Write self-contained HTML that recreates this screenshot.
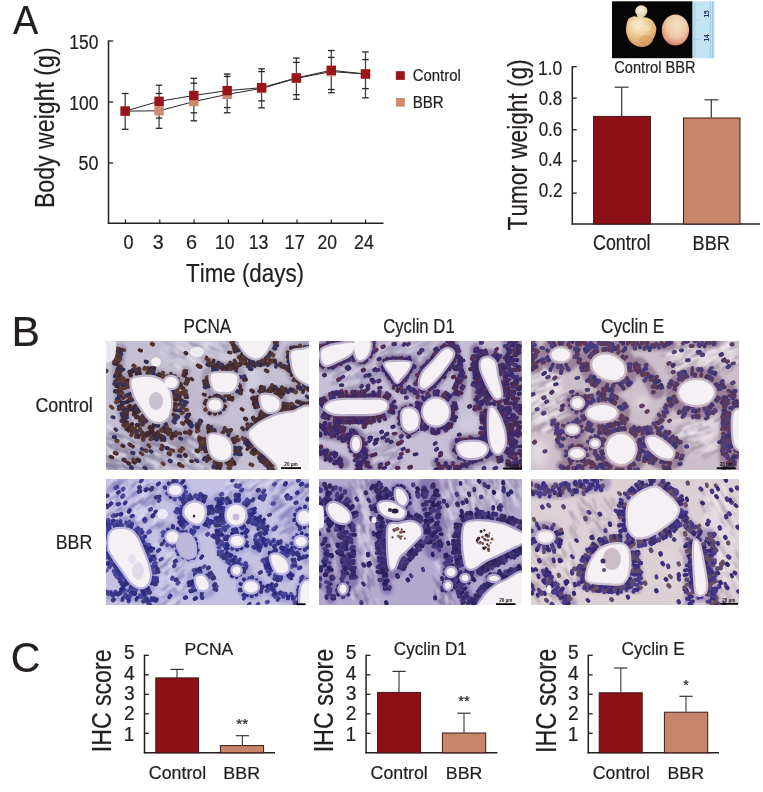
<!DOCTYPE html>
<html><head><meta charset="utf-8"><title>Figure</title>
<style>
html,body{margin:0;padding:0;background:#fff;}
body{width:763px;height:792px;overflow:hidden;}
svg{display:block;}
text{font-family:"Liberation Sans", Arial, Helvetica, sans-serif;font-kerning:none;stroke:#231f20;stroke-width:0.22px;}
</style></head>
<body>
<svg width="763" height="792" viewBox="0 0 763 792">
<rect width="763" height="792" fill="#ffffff"/>
<defs>
<radialGradient id="tg1" cx="0.42" cy="0.3" r="0.75">
<stop offset="0" stop-color="#fbeed6"/><stop offset="0.4" stop-color="#f1cf9e"/><stop offset="0.75" stop-color="#e2aa6c"/><stop offset="1" stop-color="#c98c55"/>
</radialGradient>
<radialGradient id="tg2" cx="0.55" cy="0.35" r="0.72">
<stop offset="0" stop-color="#f5e2c8"/><stop offset="0.5" stop-color="#edcaa8"/><stop offset="0.8" stop-color="#e29a80"/><stop offset="1" stop-color="#cf4f4c"/>
</radialGradient>
<radialGradient id="tg3" cx="0.45" cy="0.4" r="0.6">
<stop offset="0" stop-color="#f8efdc"/><stop offset="1" stop-color="#e2cfa8"/>
</radialGradient>
<filter id="pb"><feGaussianBlur stdDeviation="0.6"/></filter>
</defs>
<rect x="612" y="1.3" width="80.6" height="56.9" fill="#060606"/>
<rect x="692.6" y="1.3" width="21.8" height="56.9" fill="#c2e3f1"/>
<g stroke="#8fc3de" stroke-width="0.6">
<line x1="710.2" y1="1.3" x2="710.2" y2="58.2" stroke-width="0.8"/>
<line x1="712.8" y1="1.3" x2="712.8" y2="58.2" stroke-width="1.2"/>
<path d="M692.6,3.2h4M692.6,5.1h3M692.6,7h3M692.6,8.9h3M692.6,10.8h4M692.6,12.7h3M692.6,14.6h3M692.6,16.5h3M692.6,18.4h3M692.6,20.3h6M692.6,22.2h3M692.6,24.1h3M692.6,26h3M692.6,27.9h3M692.6,29.8h4M692.6,31.7h3M692.6,33.6h3M692.6,35.5h3M692.6,37.4h3M692.6,39.3h6M692.6,41.2h3M692.6,43.1h3M692.6,45h3M692.6,46.9h3M692.6,48.8h4M692.6,50.7h3M692.6,52.6h3M692.6,54.5h3M692.6,56.4h3"/>
</g>
<text transform="translate(709.4,17.6) rotate(-90) scale(0.85,1)" font-size="7.6" fill="#1d3560" font-weight="bold" style="font-family:'Liberation Sans',sans-serif;stroke:none">15</text>
<text transform="translate(709.4,41.5) rotate(-90) scale(0.85,1)" font-size="7.6" fill="#1d3560" font-weight="bold" style="font-family:'Liberation Sans',sans-serif;stroke:none">14</text>
<g filter="url(#pb)">
<path d="M628.4,19.1 C631,17 633,16.2 635.2,16.4 C640,16.8 644,17 647.4,17.7 C651,19 653.2,20.5 654.3,23.2 C656,26 656.6,28 656.3,30 C656,34 654.5,37 652.9,39.5 C651.5,42 650.5,44 648.8,45 C646,46.8 643.5,47.2 640.6,47 C637,46.6 634.5,45.5 632.4,43.6 C629.5,41 628,38.5 627,35.4 C626,32 625.8,29 626.3,25.9 C626.7,23 627.3,21 628.4,19.1Z" fill="url(#tg1)"/>
<ellipse cx="636" cy="24" rx="5" ry="3" fill="#f7e6c8" opacity="0.7"/>
<ellipse cx="646" cy="28" rx="4" ry="3" fill="#f5e0bc" opacity="0.6"/>
<ellipse cx="646" cy="40" rx="7" ry="5" fill="#d49a62" opacity="0.55"/>
<path d="M637,15 C636,18 646,18 645.5,14.5Z" fill="#efdcba"/>
<ellipse cx="641.3" cy="10.9" rx="6.1" ry="5.6" fill="url(#tg3)"/>
<ellipse cx="675.4" cy="30" rx="13.6" ry="15.6" fill="url(#tg2)"/>
</g>

<defs>
<filter id="blur4" x="-20%" y="-20%" width="140%" height="140%"><feGaussianBlur stdDeviation="4"/></filter>
<filter id="blur15" x="-10%" y="-10%" width="120%" height="120%"><feGaussianBlur stdDeviation="1.5"/></filter>
<filter id="blur1" x="-10%" y="-10%" width="120%" height="120%"><feGaussianBlur stdDeviation="0.8"/></filter>
<filter id="nz" x="0" y="0" width="100%" height="100%"><feTurbulence type="fractalNoise" baseFrequency="0.22" numOctaves="2" seed="5"/><feColorMatrix type="matrix" values="0.33 0.33 0.33 0 0 0.33 0.33 0.33 0 0 0.33 0.33 0.33 0 0 0 0 0 0 1"/></filter>
<filter id="blur07" x="-10%" y="-10%" width="120%" height="120%"><feGaussianBlur stdDeviation="0.6"/></filter>
<filter id="blurN" x="-10%" y="-10%" width="120%" height="120%"><feGaussianBlur stdDeviation="0.85"/></filter>
</defs>
<g transform="translate(106,341)">
<clipPath id="cp1"><rect width="203" height="129"/></clipPath>
<g clip-path="url(#cp1)">
<rect width="203" height="129" fill="#c4bfd2"/>
<g filter="url(#blur4)">
<ellipse cx="30" cy="108" rx="40" ry="22" fill="#c6c2d6" opacity="0.9"/>
<ellipse cx="95" cy="12" rx="40" ry="14" fill="#cfcbdc" opacity="0.9"/>
<ellipse cx="146" cy="40" rx="9" ry="14" fill="#d2cfe0" opacity="0.9"/>
<ellipse cx="85" cy="60" rx="10" ry="20" fill="#bdb7cc" opacity="0.7"/>
</g>
<g filter="url(#blur1)" opacity="0.7">
<path fill="none" stroke-linecap="round" stroke="#6e6888" stroke-width="2.0" d="M29.4 90.0l5.9 3.2M38.4 86.7l9.9 2.7M5.6 91.2l13.7 7.3M24.6 90.1l8.7 2.5M13.8 108.3l8.6 4.6M66.4 107.3l9.7 5.1M35.0 97.8l13.9 7.0M3.3 106.6l13.9 6.8M69.1 114.9l11.8 5.4M-1.1 125.2l6.7 3.2M77.1 118.9l7.1 4.2M21.7 112.4l8.5 6.1M39.8 96.6l14.4 6.6M43.8 90.4l7.9 4.9M94.6 83.8l9.5 4.9M8.8 107.5l13.6 3.3M85.6 98.2l10.8 4.8M36.9 123.0l10.3 4.8M62.0 105.5l12.5 5.7M51.9 115.5l8.6 6.0M93.2 110.3l8.4 2.7M14.6 96.4l13.2 3.8M16.9 124.8l10.0 4.2M50.9 103.3l9.1 2.2M22.7 84.6l8.3 2.2M45.7 93.3l11.5 5.1M39.1 104.1l8.3 5.4M27.0 93.2l7.6 2.5M38.2 92.0l12.7 9.3M5.3 125.1l6.3 4.2M12.1 115.3l5.7 3.1M77.4 107.1l10.6 7.3M34.7 104.1l6.0 1.5M61.3 104.9l13.6 3.2M87.8 123.0l10.9 3.0M69.5 95.0l8.4 2.2M4.6 124.0l6.1 2.2M60.2 87.2l8.2 2.4M64.7 94.8l12.5 5.6M69.2 94.3l11.2 4.4M79.3 95.8l12.2 3.1M74.4 118.3l5.8 2.5M-1.2 114.5l12.4 5.5M40.9 97.8l12.6 4.6M93.6 94.9l7.3 2.0M5.0 118.4l7.1 1.6M48.6 109.1l7.6 3.1M45.9 113.0l7.9 3.4M36.6 98.6l11.8 5.4M35.4 112.9l13.3 4.3M19.3 92.4l7.7 4.6M44.8 91.6l9.7 3.2M85.8 97.2l14.7 4.6M74.0 96.7l5.8 3.7M70.0 103.9l7.5 4.0M27.0 125.3l13.1 3.3M25.0 95.6l13.2 3.1M91.7 86.0l5.9 3.8M78.7 89.6l5.5 2.6M72.2 95.1l6.1 1.6M21.2 87.2l10.6 2.9M92.1 91.1l10.2 3.0M39.8 91.8l8.4 2.8M14.8 86.5l8.0 2.8M0.2 96.8l7.6 2.2M15.9 86.6l7.0 3.3M23.1 117.2l5.7 4.1M77.0 119.1l9.0 3.8M37.5 118.2l6.6 3.7M35.4 82.1l12.0 7.3"/>
<path fill="none" stroke-linecap="round" stroke="#6e6888" stroke-width="1.0" d="M6.1 108.3l6.7 4.7M53.1 85.4l11.0 3.6M48.7 121.3l7.7 4.5M27.7 97.5l12.7 5.9M78.2 124.0l11.5 5.2M6.1 93.1l13.6 5.6M91.8 90.4l7.9 2.5M-3.0 120.3l8.4 2.6M35.3 100.3l9.1 4.2M2.2 92.8l9.0 2.7M96.2 104.1l6.2 2.9M85.6 116.2l11.7 4.3M66.1 95.1l7.1 2.8M49.4 117.8l7.7 2.9M95.0 125.5l7.6 3.0M77.9 102.7l12.3 6.7M77.4 87.8l12.1 5.0M34.2 98.8l10.8 7.7M60.8 105.2l8.4 6.0M78.4 92.8l8.4 2.9M69.9 96.2l12.9 6.3M45.9 120.2l10.3 6.3M8.1 103.4l8.1 2.1M22.2 125.2l14.6 4.1M94.2 88.5l6.0 2.1M4.5 85.0l8.9 5.1M94.4 99.9l10.0 7.0M49.0 94.5l7.3 2.1M13.1 123.4l10.0 5.3M24.5 105.6l9.0 2.8M94.1 85.3l10.8 2.6M66.5 86.4l12.7 9.5M-2.8 109.6l8.5 5.8M29.0 84.2l6.8 4.6M-4.9 99.5l10.0 4.6M18.0 117.3l13.7 3.7M35.6 85.8l8.8 2.1M83.1 109.0l12.2 7.2M84.7 115.0l12.6 6.3M58.3 87.2l12.0 3.0M15.4 124.8l11.2 3.7M-2.8 116.1l6.0 3.9M88.3 94.1l10.5 3.7M36.4 121.8l7.2 3.6M82.2 103.1l9.4 6.6M9.4 92.2l9.1 2.5M28.5 99.1l6.8 4.3M6.1 103.7l12.9 6.9M92.8 120.6l5.2 3.5M60.7 122.2l7.6 3.4M0.1 101.6l5.8 3.1M80.9 86.3l7.3 3.4M3.0 109.3l5.4 3.8M41.6 115.1l6.7 2.5M73.5 86.0l6.4 1.6M51.2 90.7l6.5 2.8M23.2 107.4l12.4 5.0M16.2 116.8l14.0 7.6M66.4 99.3l9.1 2.3M14.8 93.3l11.1 5.8M26.4 90.9l9.7 6.1M16.8 116.1l5.8 1.9M3.8 110.3l10.2 4.1"/>
<path fill="none" stroke-linecap="round" stroke="#6e6888" stroke-width="1.5" d="M38.1 96.4l9.4 4.8M21.9 91.1l5.8 3.6M8.6 101.5l6.4 3.9M36.6 125.8l11.2 3.0M67.4 95.7l11.4 5.8M25.7 100.5l5.4 3.0M31.8 110.2l7.4 3.4M13.2 101.4l6.9 2.5M82.0 95.4l8.8 3.7M80.0 123.6l11.7 6.4M84.2 115.4l11.6 7.8M-0.8 121.7l6.6 3.5M92.3 110.0l6.5 3.0M43.7 113.0l11.1 8.3M9.6 117.6l10.1 7.5M12.2 102.9l10.0 5.9M2.3 92.6l6.8 1.7M48.0 102.3l10.6 7.6M87.3 122.7l10.0 3.2M60.9 99.9l7.0 2.4M78.1 89.9l10.2 4.4M37.5 99.4l9.3 2.5M20.1 87.7l13.9 5.9M35.6 106.3l9.9 4.7M81.2 85.0l8.8 5.8M3.2 118.5l10.5 7.1M56.1 114.5l7.6 1.9M72.8 107.8l11.3 6.9M71.0 92.6l9.3 5.1M64.1 110.8l10.4 3.0M21.3 111.4l11.1 6.3M17.4 126.2l5.0 3.6M1.3 102.5l12.8 9.6M47.3 122.0l7.2 4.1M34.2 88.3l10.4 7.5M25.9 89.5l8.5 3.3M66.7 123.0l9.1 3.3M31.6 121.3l14.7 3.9M20.6 111.9l10.9 4.0M6.7 111.9l10.6 2.8M48.7 102.5l12.7 4.9M69.8 101.0l10.4 4.4M21.7 115.6l10.6 5.0M3.5 122.1l11.5 4.7M35.9 114.4l13.3 8.4M-5.8 98.1l11.6 8.2M91.7 86.3l10.9 7.0M88.6 112.1l6.8 2.5M49.8 102.4l6.0 3.6M-3.4 106.0l7.0 5.3M94.2 90.4l6.4 1.6M40.6 95.1l12.4 7.3M41.0 88.9l6.6 1.7M92.3 88.1l6.5 4.8M44.1 99.1l6.5 4.6M21.8 115.2l7.7 5.3M91.7 125.4l7.9 3.2M26.3 114.3l8.0 2.4M41.1 116.9l9.9 5.1M17.7 105.1l11.6 7.1M-4.5 122.2l9.9 3.3M4.7 89.7l8.8 5.0M60.3 101.7l13.0 3.3M35.5 118.2l13.7 5.7M73.7 89.8l7.2 1.8"/>
<path fill="none" stroke-linecap="round" stroke="#8a86a6" stroke-width="1.5" d="M82.9 3.5l6.4 2.0M60.4 14.1l5.5 3.3M63.3 14.1l11.0 5.4M104.0 7.0l9.4 3.2M87.6 10.8l11.8 2.9M116.2 10.0l9.3 2.4M113.1 2.0l7.2 5.0M67.5 11.7l6.6 4.6M102.5 5.2l7.4 3.0M116.6 5.7l5.5 3.4M73.3 11.3l11.1 7.4M123.7 18.4l7.0 4.2M61.0 1.9l7.6 4.2"/>
<path fill="none" stroke-linecap="round" stroke="#8a86a6" stroke-width="1.0" d="M93.6 20.2l6.4 4.7M124.4 7.4l10.0 6.9M102.7 21.1l10.7 5.7M64.2 7.8l15.1 4.5M88.6 9.2l12.5 6.6M63.6 23.5l12.4 4.6M56.9 11.2l14.4 5.8M56.2 -1.1l11.4 6.0M67.5 24.2l14.1 6.5M65.6 22.6l13.0 7.3M126.6 9.9l11.6 5.6M75.6 25.6l8.6 4.3M99.4 8.9l13.5 6.4M76.0 1.1l13.3 5.3M66.6 25.0l7.1 2.4"/>
<path fill="none" stroke-linecap="round" stroke="#8a86a6" stroke-width="2.0" d="M119.0 -1.4l7.5 5.2M117.4 3.6l9.5 3.1M64.0 11.0l5.8 2.7M104.7 17.9l13.6 4.5M90.4 3.3l5.6 3.3M74.3 14.4l9.5 7.1M93.5 16.4l6.3 1.6M82.8 1.5l7.7 3.0"/>
<path fill="none" stroke-linecap="round" stroke="#e6e2ee" stroke-width="2.4" d="M91.2 83.9l11.0 7.0M21.6 86.2l4.3 2.7M61.2 91.8l8.9 3.8M17.7 84.6l11.0 4.2M89.1 95.3l10.4 2.6M40.3 118.1l6.7 3.2M20.2 91.9l11.6 6.9M86.0 110.0l9.6 5.4M4.6 110.4l13.2 4.0M-1.8 84.2l9.3 5.3M79.4 119.5l4.6 3.2M92.4 123.6l5.0 3.0M57.4 104.3l11.6 3.4M87.4 83.7l11.3 6.8"/>
<path fill="none" stroke-linecap="round" stroke="#e6e2ee" stroke-width="1.2" d="M59.8 101.2l9.4 6.7M14.0 84.4l5.1 1.3M88.2 123.1l9.2 2.5M59.7 86.6l5.2 3.6M1.8 83.8l9.9 6.6M91.6 88.8l5.7 1.9M-1.3 106.6l8.9 2.4"/>
<path fill="none" stroke-linecap="round" stroke="#e6e2ee" stroke-width="1.8" d="M47.9 111.5l5.5 3.5M1.8 109.1l9.2 6.9M66.6 82.1l9.8 6.4M1.4 111.8l13.3 4.1M86.7 91.5l9.6 4.0M41.4 118.8l11.0 6.3M90.6 91.9l10.0 6.8M18.1 98.0l4.8 2.0M48.0 121.2l4.7 2.5"/>
<path fill="none" stroke-linecap="round" stroke="#eeecf4" stroke-width="1.8" d="M97.9 4.5l4.8 3.2M125.4 6.2l10.7 3.5M99.4 1.9l5.5 2.1M121.9 18.7l9.9 4.2M71.5 4.7l7.8 5.4M113.0 19.1l7.1 3.9M94.6 22.3l9.1 4.0M80.9 15.6l8.3 4.7"/>
<path fill="none" stroke-linecap="round" stroke="#eeecf4" stroke-width="1.2" d="M67.1 -1.8l11.3 3.6M54.8 11.2l11.0 5.1M68.4 9.6l8.7 5.3M79.9 17.9l5.3 3.5M129.5 18.4l7.2 3.8M80.0 1.9l9.3 6.9M69.3 17.5l6.1 1.9M124.6 5.3l7.6 5.2"/>
<path fill="none" stroke-linecap="round" stroke="#eeecf4" stroke-width="2.4" d="M128.6 13.8l7.8 5.7M68.4 23.8l8.0 4.9M131.2 15.9l5.0 3.6M116.5 19.2l6.2 2.7"/>
</g>
<g filter="url(#blur15)">
<path d="M14.0,8.0 C13.7,11.7 12.0,22.2 12.0,30.0 C12.0,37.8 12.7,46.7 14.0,55.0 C15.3,63.3 17.3,73.8 20.0,80.0 C22.7,86.2 25.0,89.3 30.0,92.0 C35.0,94.7 43.0,96.0 50.0,96.0 C57.0,96.0 68.3,92.7 72.0,92.0" fill="none" stroke="#a29ab2" stroke-width="12" stroke-linecap="round" stroke-linejoin="round"/>
<path d="M80.0,30.0 C79.3,33.3 76.0,42.5 76.0,50.0 C76.0,57.5 76.8,68.3 80.0,75.0 C83.2,81.7 92.5,87.5 95.0,90.0" fill="none" stroke="#a29ab2" stroke-width="9" stroke-linecap="round" stroke-linejoin="round"/>
<path d="M100.0,20.0 C103.3,20.7 113.3,23.7 120.0,24.0 C126.7,24.3 131.7,22.3 140.0,22.0 C148.3,21.7 162.5,20.7 170.0,22.0 C177.5,23.3 182.5,28.7 185.0,30.0" fill="none" stroke="#a29ab2" stroke-width="8" stroke-linecap="round" stroke-linejoin="round"/>
<path d="M160.0,50.0 C163.3,49.7 172.8,48.3 180.0,48.0 C187.2,47.7 199.2,48.0 203.0,48.0" fill="none" stroke="#a29ab2" stroke-width="8" stroke-linecap="round" stroke-linejoin="round"/>
<path d="M26.0,39.0 C27.7,36.7 33.2,36.3 37.0,36.0 C40.8,35.7 45.5,36.0 49.0,37.0 C52.5,38.0 55.7,39.8 58.0,42.0 C60.3,44.2 61.8,47.0 63.0,50.0 C64.2,53.0 64.8,56.7 65.0,60.0 C65.2,63.3 64.8,67.0 64.0,70.0 C63.2,73.0 62.0,76.2 60.0,78.0 C58.0,79.8 54.7,81.0 52.0,81.0 C49.3,81.0 46.5,80.0 44.0,78.0 C41.5,76.0 39.2,72.0 37.0,69.0 C34.8,66.0 32.7,63.2 31.0,60.0 C29.3,56.8 27.8,53.5 27.0,50.0 C26.2,46.5 24.3,41.3 26.0,39.0Z" fill="#a29ab2" stroke="#a29ab2" stroke-width="20.0" stroke-linejoin="round"/>
<path d="M71.5,41.5 C71.5,42.6 71.0,43.9 70.3,44.7 C69.5,45.6 68.2,46.4 67.0,46.7 C65.8,47.1 64.2,47.1 63.0,46.7 C61.8,46.4 60.5,45.6 59.7,44.7 C59.0,43.9 58.5,42.6 58.5,41.5 C58.5,40.4 59.0,39.1 59.7,38.3 C60.5,37.4 61.8,36.6 63.0,36.3 C64.2,35.9 65.8,35.9 67.0,36.3 C68.2,36.6 69.5,37.4 70.3,38.3 C71.0,39.1 71.5,40.4 71.5,41.5Z" fill="#a29ab2" stroke="#a29ab2" stroke-width="10.0" stroke-linejoin="round"/>
<path d="M105.0,34.0 C106.7,31.3 113.8,32.0 118.0,32.0 C122.2,32.0 127.8,32.3 130.0,34.0 C132.2,35.7 131.7,39.3 131.0,42.0 C130.3,44.7 128.5,48.5 126.0,50.0 C123.5,51.5 119.0,51.3 116.0,51.0 C113.0,50.7 109.8,50.8 108.0,48.0 C106.2,45.2 103.3,36.7 105.0,34.0Z" fill="#a29ab2" stroke="#a29ab2" stroke-width="18.0" stroke-linejoin="round"/>
<path d="M115.5,64.0 C115.5,65.1 115.0,66.4 114.3,67.2 C113.5,68.1 112.2,68.9 111.0,69.2 C109.8,69.6 108.2,69.6 107.0,69.2 C105.8,68.9 104.5,68.1 103.7,67.2 C103.0,66.4 102.5,65.1 102.5,64.0 C102.5,62.9 103.0,61.6 103.7,60.8 C104.5,59.9 105.8,59.1 107.0,58.8 C108.2,58.4 109.8,58.4 111.0,58.8 C112.2,59.1 113.5,59.9 114.3,60.8 C115.0,61.6 115.5,62.9 115.5,64.0Z" fill="#a29ab2" stroke="#a29ab2" stroke-width="14.0" stroke-linejoin="round"/>
<path d="M134.0,-2.0 C138.3,-3.8 158.5,-3.8 163.0,-2.0 C167.5,-0.2 162.2,6.2 161.0,9.0 C159.8,11.8 157.8,13.6 156.0,15.0 C154.2,16.4 152.2,17.5 150.0,17.5 C147.8,17.5 145.2,16.4 143.0,15.0 C140.8,13.6 138.5,11.8 137.0,9.0 C135.5,6.2 129.7,-0.2 134.0,-2.0Z" fill="#a29ab2" stroke="#a29ab2" stroke-width="18.0" stroke-linejoin="round"/>
<path d="M155.0,55.0 C156.5,53.0 163.0,54.2 166.0,55.0 C169.0,55.8 172.0,57.8 173.0,60.0 C174.0,62.2 173.5,66.2 172.0,68.0 C170.5,69.8 166.5,71.2 164.0,71.0 C161.5,70.8 158.5,69.7 157.0,67.0 C155.5,64.3 153.5,57.0 155.0,55.0Z" fill="#a29ab2" stroke="#a29ab2" stroke-width="18.0" stroke-linejoin="round"/>
<path d="M186.0,11.0 C187.7,8.8 192.7,9.2 196.0,9.0 C199.3,8.8 204.3,4.7 206.0,10.0 C207.7,15.3 207.7,36.0 206.0,41.0 C204.3,46.0 198.8,41.3 196.0,40.0 C193.2,38.7 190.7,36.0 189.0,33.0 C187.3,30.0 186.5,25.7 186.0,22.0 C185.5,18.3 184.3,13.2 186.0,11.0Z" fill="#a29ab2" stroke="#a29ab2" stroke-width="16.0" stroke-linejoin="round"/>
<path d="M143.0,93.0 C143.0,89.8 147.2,87.3 150.0,85.0 C152.8,82.7 156.3,80.8 160.0,79.0 C163.7,77.2 167.7,75.2 172.0,74.0 C176.3,72.8 180.3,72.2 186.0,71.5 C191.7,70.8 202.7,59.9 206.0,70.0 C209.3,80.1 211.0,121.7 206.0,132.0 C201.0,142.3 182.0,133.5 176.0,132.0 C170.0,130.5 172.5,126.0 170.0,123.0 C167.5,120.0 164.3,117.2 161.0,114.0 C157.7,110.8 153.0,107.5 150.0,104.0 C147.0,100.5 143.0,96.2 143.0,93.0Z" fill="#a29ab2" stroke="#a29ab2" stroke-width="18.0" stroke-linejoin="round"/>
<path d="M103.0,95.0 C104.3,92.3 109.0,93.5 112.0,94.0 C115.0,94.5 118.8,96.0 121.0,98.0 C123.2,100.0 124.5,103.2 125.0,106.0 C125.5,108.8 125.2,112.8 124.0,115.0 C122.8,117.2 120.5,118.7 118.0,119.0 C115.5,119.3 111.3,118.5 109.0,117.0 C106.7,115.5 105.0,113.7 104.0,110.0 C103.0,106.3 101.7,97.7 103.0,95.0Z" fill="#a29ab2" stroke="#a29ab2" stroke-width="20.0" stroke-linejoin="round"/>
</g>
<g filter="url(#blur07)" fill="none" stroke-linecap="round">
<path stroke="#40282d" stroke-width="4.3" d="M24.5 33.7l0.4 0.8M23.6 30.7l0.5 1.0M69.4 52.0l-0.9 0.5M70.1 58.5l-1.5-0.1M47.7 85.2l0.1-1.4M27.7 70.0l0.9-1.1M24.5 68.3l0.8-0.8M21.1 60.8l1.2-0.7M20.8 39.8l1.0-0.3M106.8 25.5l0.1 0.8M139.8 38.5l-1.6 0.2M100.8 39.6l1.2-0.5M103.7 72.3l0.8-0.8M153.6 21.0l-0.8-1.0M177.4 52.4l-0.9 0.8M149.2 66.0l1.4-0.1M147.9 63.1l1.5-0.1M188.3 6.5l0.1 0.9M211.0 30.2l-0.9-0.3M209.3 39.2l-1.2 0.3M183.3 24.8l0.7-0.2M147.1 76.8l0.6 1.0M151.6 78.2l0.6 1.1M188.8 66.1l0.1 1.2M124.8 121.9l-1.3-1.0M11.9 10.2l-0.7 0.2M9.1 22.6l-0.7-0.2M11.8 45.3l-1.1-0.1M20.8 73.8l-0.9 0.1M21.9 86.7l-1.2 1.2M26.1 83.2l-1.0 1.0M23.3 89.0l-0.6 0.4M40.7 92.9l-0.3 1.6M46.1 90.1l0.2 1.4M58.1 97.8l0.2 1.0M79.8 32.6l-1.4-0.5M83.4 80.7l-1.1 0.9M126.7 23.4l0.5 1.3M134.3 22.3l-0.0 1.2M184.7 48.5l0.0 0.9M37.7 93.2l0.8 0.5M79.0 114.0l0.7 0.7M90.7 109.8l1.1 0.4M27.6 120.6l1.3 0.8M73.2 123.1l1.2 1.0M31.1 84.0l1.4 0.3"/>
<path stroke="#40282d" stroke-width="3.6" d="M26.6 28.9l0.3 1.8M30.5 31.3l0.3 2.1M33.2 30.7l0.9 1.9M69.9 69.2l-2.0-0.4M45.8 89.2l1.0-1.9M43.4 86.8l0.8-1.2M57.9 45.3l1.5-1.1M98.7 62.2l1.9 1.4M168.0 0.9l-2.3-0.3M147.0 22.3l0.5-2.1M157.8 50.5l0.5 1.8M181.5 63.1l-1.6 0.0M211.8 78.1l-1.8-0.4M210.8 93.4l-2.4 0.1M214.6 109.1l-1.5-0.4M191.8 136.3l0.0-1.9M141.3 108.1l1.4-1.6M102.4 89.3l0.1 1.7M129.0 109.8l-1.4-0.5M128.7 123.0l-0.6-1.7M110.5 127.0l0.5-1.9M13.4 8.2l-2.3-0.7M13.7 32.3l-1.8 0.7M17.2 66.8l-1.7 0.7M36.1 91.2l-0.4 1.6M43.6 90.7l-0.4 2.3M81.2 56.3l-1.6-0.1M83.5 73.4l-2.1 0.3M81.7 79.2l-1.9 1.0M107.7 19.5l-0.4 1.7M197.2 49.2l-0.2 1.9M135.5 67.9l1.2 0.9M130.2 6.3l1.2 1.0M97.5 53.4l1.5 0.5M33.5 9.1l1.7 0.6"/>
<path stroke="#36315c" stroke-width="4.3" d="M29.5 28.8l0.5 0.8M62.4 39.5l-1.0 1.1M64.8 41.7l-1.0 0.9M72.0 75.9l-0.9-0.5M60.1 83.9l-0.4-0.8M25.1 59.2l1.3-0.7M55.9 40.7l1.0 0.0M110.1 27.6l0.6 1.6M110.1 25.7l-0.1 0.8M143.2-6.3l0.3 0.9M158.6-7.0l0.4 1.5M171.0 4.4l-1.6 0.1M162.8 14.9l-0.6-0.8M183.0 17.8l0.7 0.1M141.4 87.7l1.1 0.5M164.7 67.5l0.4 1.5M185.5 63.1l-0.0 1.6M194.7 61.6l0.0 1.3M213.4 121.3l-0.7 0.0M176.4 137.5l-0.1-1.4M154.7 119.8l0.6-1.0M105.3 86.1l-0.2 1.1M107.6 126.0l0.3-0.7M10.7 40.1l-1.3 0.5M9.9 50.4l-0.8-0.2M47.5 96.1l0.0 1.3M94.0 79.5l1.1 0.8"/>
<path stroke="#52342f" stroke-width="4.3" d="M32.6 27.6l0.2 1.5M44.8 31.0l-0.4 1.0M69.5 55.5l-1.6-0.2M34.4 80.6l1.6-0.5M71.8 38.1l-1.0 0.4M118.6 59.6l-1.0 0.1M134.8 18.4l1.1-0.6M175.4 55.0l-0.6 0.8M176.3 65.8l-1.5-0.5M157.9 73.6l0.4-1.1M211.1 23.8l-1.0 0.0M193.3 41.8l1.0-1.1M141.6 83.3l0.6 0.9M154.9 71.7l0.5 0.7M166.2 70.9l0.1 0.8M179.3 67.2l-0.3 1.6M214.9 74.8l-0.9 0.1M209.8 109.0l-1.2-0.2M165.0 128.5l0.9-0.4M165.6 125.5l1.1-0.8M133.4 110.1l-1.5-0.2M94.8 104.2l1.5 0.1M9.6 17.4l-1.3 0.2M15.9 64.5l-1.4 0.7M76.9 51.6l-1.2 0.6M27.6 24.7l0.8 0.4M151.8 64.6l1.2 0.2M46.0 2.8l0.8 0.6M62.5 112.4l1.4 0.8M92.9 82.3l1.0 0.3M94.1 107.5l0.6 0.3"/>
<path stroke="#5a3a32" stroke-width="4.0" d="M38.9 26.8l-0.4 1.0M58.6 35.5l-1.2 1.6M70.0 66.0l-1.5-0.1M61.4 88.0l-0.4-2.0M23.1 56.5l1.1-0.4M20.7 42.8l2.0-0.1M74.6 42.7l-1.0-0.5M73.9 45.7l-1.5-0.6M57.9 37.9l1.7 0.8M125.5 1.5l1.5-0.3M161.3 50.6l-0.2 1.4M201.2 62.2l-0.3 1.7M210.1 124.3l-1.5 0.2M215.1 130.3l-1.8 0.6M159.1 123.8l1.0-1.7M150.3 110.3l1.2-0.7M145.5 111.7l0.7-1.6M95.2 107.2l1.2 0.3M29.7 90.1l-0.9 0.8M81.0 68.8l-1.3 0.1M92.4 89.4l-1.5 1.0M141.5 23.3l0.2 2.0M153.9 20.9l0.3 2.0M199.8 45.6l-0.5 1.4M23.3 103.2l1.5 0.9M144.5 123.4l1.8 0.6M185.1 62.8l1.5 1.1M65.5 109.2l1.8 0.6M166.1 44.1l0.9 0.8M93.1 96.4l1.2 0.4M44.7 95.7l0.8 0.7M16.7 8.8l1.6 0.3"/>
<path stroke="#44292e" stroke-width="3.6" d="M41.5 31.6l-0.2 1.6M70.2 63.0l-2.1-0.2M68.9 48.0l-0.5-1.5M130.7 25.6l-0.0 1.8M119.4 65.6l-2.0-1.1M104.1 56.4l1.3 1.4M146.4-10.1l-0.0 1.7M142.8 24.7l0.5-1.8M135.8 13.7l0.9-1.6M126.8 4.2l1.6 0.1M169.5 52.5l-1.0 1.3M210.1 17.3l-1.8 0.7M159.2 71.3l1.0 1.1M215.0 93.3l-1.5 0.3M201.2 138.0l0.0-2.3M195.2 141.5l-0.4-1.9M142.1 99.6l1.7-0.5M102.2 84.6l-0.4 2.4M14.8 34.9l-1.7 0.3M14.1 60.1l-2.0 0.4M40.8 91.9l-0.1 1.5M78.7 35.0l-1.4-0.6M109.4 24.0l-0.5 1.5M179.7 48.0l0.4 2.0M25.0 104.5l2.1 1.1M83.4 89.9l1.6 0.9M4.5 115.6l1.9 0.8M78.8 91.4l1.4 0.3M84.9 120.1l1.4 0.2M153.2 50.1l1.7 1.2M158.0 69.2l1.9 0.5"/>
<path stroke="#52342f" stroke-width="4.0" d="M41.9 27.0l-0.1 1.2M74.3 54.1l-1.7 0.7M37.1 78.9l1.3-1.1M64.8 49.0l0.3-1.6M134.9 52.5l-1.2-0.7M107.1 57.3l0.5-1.0M170.8 1.4l-1.6-0.2M144.2 20.4l0.8-1.8M172.5 53.6l-0.7 1.0M194.2 4.5l0.2 1.6M181.8 63.6l-0.2 1.4M215.0 71.8l-1.1-0.2M214.9 90.5l-1.4-0.4M210.4 130.5l-1.6 0.3M182.3 136.7l0.5-1.3M118.6 87.0l-0.2 1.2M125.0 88.9l-1.1 1.2M108.6 121.4l0.5-1.5M12.7 20.4l-1.3-0.2M14.8 25.7l-1.9-0.6M35.8 91.2l-0.0 2.0M62.2 91.3l-0.0 1.9M82.0 40.4l-1.7-0.1M80.5 53.7l-1.6 0.4M131.7 23.7l0.4 1.0M83.0 92.3l1.0 0.6M8.8 111.8l1.9 0.8M76.1 82.0l1.3 0.9"/>
<path stroke="#302d5a" stroke-width="3.6" d="M45.1 26.8l-0.5 1.9M22.6 53.2l2.0-0.3M121.3 27.9l-0.7 1.5M102.0 45.7l1.9-0.7M117.7 68.4l-1.2-1.0M149.4-10.5l0.2 1.7M152.6-10.3l-0.0 1.8M131.9 9.4l2.2-0.4M198.7 5.6l-0.5 2.1M184.9 30.6l1.9-0.2M182.2 20.7l1.4 0.4M145.7 83.3l1.6 0.9M191.8 66.5l0.4 1.7M214.9 106.2l-2.1-0.6M201.2 141.1l-0.1-2.1M198.0 137.5l0.1-2.3M156.9 116.9l1.7-1.3M139.0 102.2l1.4-1.6M138.0 98.8l1.3-0.7M130.2 106.9l-1.4-0.6M17.6 28.5l-1.9-0.7M14.5 65.3l-1.7-0.1M21.9 68.4l-2.1 0.5M69.8 91.1l-0.2 2.0M85.1 82.0l-1.2 1.9M86.3 84.5l-1.0 1.4M143.8 19.1l0.6 2.1M178.8 25.0l-1.3 1.3M172.4 49.1l0.2 1.9M187.1 48.6l0.2 1.6M44.4 110.1l1.4 0.7M74.0 97.2l1.3 0.7M72.4 114.8l2.3 0.4M6.4 76.0l1.3 0.5M200.7 55.2l1.5 1.4"/>
<path stroke="#36315c" stroke-width="4.0" d="M47.5 31.5l0.3 1.3M70.0 78.2l-1.5-0.5M68.8 81.6l-1.3-1.4M134.4 36.0l-1.6 0.4M138.5 35.3l-1.4 0.6M117.2 59.1l-0.7-1.8M169.3 7.5l-1.3-0.3M164.5 46.7l-0.4 1.7M151.1 62.6l2.0-0.4M204.6 6.7l0.1 1.1M198.1 44.8l-0.2-1.9M211.6 96.4l-1.9 0.2M210.1 102.6l-1.0 0.3M185.6 140.8l0.2-1.3M179.2 136.6l0.5-1.5M167.1 134.6l1.5-0.9M147.8 108.6l1.2-0.8M122.6 93.5l-0.3 1.2M134.7 107.2l-1.7-0.4M98.0 118.1l1.5-1.3M14.2 15.8l-1.7-0.7M15.5 42.3l-2.0 0.4M16.9 72.0l-1.3 0.5M16.6 79.9l-1.2 0.1M91.0 83.3l-0.5 0.9M146.7 19.4l-0.2 1.7M169.3 45.8l0.7 1.6M182.3 49.5l-0.2 1.8M32.3 118.8l1.0 0.7M26.1 111.9l1.4 0.3M-0.4 29.6l0.9 0.5M71.1 54.4l1.5 0.9"/>
<path stroke="#40282d" stroke-width="4.0" d="M48.2 26.6l-0.2 1.7M27.7 73.4l1.6-0.9M112.5 23.7l0.8 1.6M124.9 25.1l-0.6 1.1M156.4 20.0l-0.7-1.3M191.3 6.6l0.6 1.3M167.9 66.9l0.4 1.5M172.1 64.7l0.5 1.2M194.9 65.7l0.3 1.7M197.9 62.2l-0.1 1.1M204.5 65.8l-0.3 1.4M211.5 71.7l-1.5 0.1M211.1 74.5l-1.9 0.6M213.8 87.2l-1.1 0.1M214.9 99.6l-1.5 0.1M195.1 136.9l-0.3-1.0M142.5 102.9l1.8-0.4M10.9 22.9l-1.7-0.6M18.0 44.8l-1.5-0.1M14.8 54.8l-1.4 0.3M17.2 61.7l-1.2 0.5M43.5 91.0l0.0 1.8M67.4 92.6l-0.0 1.7M67.2 93.0l0.4 1.0M92.5 85.8l-1.4 1.0M121.8 24.3l0.4 1.3M139.3 20.6l-0.4 1.7M167.4 48.4l0.0 1.2M16.4 104.6l0.9 0.6M31.6 118.5l1.4 1.3M79.5 11.8l0.8 0.7M147.5 109.4l1.2 0.2M13.9 8.4l0.9 0.6M102.7 91.5l1.3 0.7"/>
<path stroke="#302d5a" stroke-width="4.3" d="M52.8 33.5l-1.2 1.1M65.4 44.9l-0.7 0.8M67.4 49.5l-0.8-0.1M17.4 43.0l0.9 0.2M107.6 28.6l-0.3 1.6M98.7 46.1l1.2 0.0M113.7 71.6l-0.7-1.1M154.6 24.2l-0.1-1.1M179.7 140.1l-0.5-1.4M165.9 131.6l0.9-0.4M155.3 114.5l0.5-0.8M141.3 103.9l1.1-0.5M97.7 107.2l1.5-0.0M15.1 13.2l-0.7-0.3M14.2 52.5l-0.9-0.0M14.2 55.0l-1.3-0.0M12.3 57.8l-1.4 0.5M17.7 74.2l-1.3 0.7M20.7 81.3l-0.6 0.7M48.2 93.9l-0.2 0.7M50.4 96.9l0.3 1.6M75.8 59.6l-0.9 0.0M80.7 61.5l-1.7-0.3M81.8 75.3l-1.3 1.0M112.4 21.9l-0.5 1.5M184.7 29.1l-0.8 1.2M60.7 106.9l1.5 0.7M63.8 119.7l0.9 0.6M7.9 96.0l1.0 0.3M13.9 49.8l0.7 0.3M143.8 27.6l1.6 0.4M101.7 23.4l1.4 0.6"/>
<path stroke="#5a3a32" stroke-width="4.3" d="M56.8 31.9l-0.2 0.7M71.2 48.4l-0.9 0.5M55.6 89.8l-0.3-1.2M20.7 46.1l1.5-0.5M16.5 40.2l1.0-0.4M99.4 68.6l0.9-0.7M167.2 14.2l-0.7-0.5M163.7 19.7l-0.5-0.9M137.4 20.4l0.6-0.4M131.2 6.7l1.3-0.9M173.2 72.4l-0.1-1.6M211.3 20.8l-1.2-0.2M204.1 45.5l-0.0-1.0M184.5 27.7l1.2-0.4M143.6 85.2l0.6 0.7M162.8 128.5l1.1-0.9M161.7 120.5l1.3-0.8M153.0 112.2l0.8-0.8M13.6 13.1l-1.6-0.5M11.8 15.3l-1.5-0.2M14.4 17.9l-1.3 0.1M13.0 40.0l-1.4 0.2M16.2 52.1l-0.9 0.4M11.7 60.4l-1.5 0.7M18.0 77.1l-1.1-0.0M34.1 88.0l-0.0 0.9M45.2 96.6l-0.6 1.5M79.8 50.3l-0.7-0.3M189.6 50.4l0.1 0.9M39.5 109.4l0.9 0.5M18.2 67.4l1.1 0.4M10.5 99.7l1.0 0.2M73.8 109.6l0.9 0.5"/>
<path stroke="#4c3032" stroke-width="4.0" d="M67.3 40.2l-1.5 1.1M74.6 63.4l-1.2-0.1M68.5 74.2l-1.1-0.7M36.1 75.8l0.7-0.9M127.6 26.1l-0.1 1.5M110.0 58.6l0.5-1.1M109.1 72.9l-0.1-1.8M133.9-6.0l0.3 1.5M152.6-6.1l0.1 1.7M165.0 12.4l-1.5-1.1M160.3 16.7l-0.8-0.7M127.8 7.3l1.1-0.2M158.0 46.6l0.1 2.0M161.4 74.0l0.5-1.6M154.1 74.1l0.3-1.0M210.0 14.5l-1.2 0.0M136.2 87.0l1.2 1.3M173.2 68.8l-0.0 1.4M215.0 118.3l-1.8-0.2M213.9 127.7l-1.3-0.4M156.7 121.2l1.2-0.6M147.7 113.0l1.5-0.9M144.5 105.8l1.4-1.1M114.7 124.0l0.0-2.0M111.3 122.8l0.8-1.7M97.2 97.8l1.4 0.2M12.3 30.3l-1.4-0.0M12.3 49.9l-1.9 0.7M26.3 89.5l-0.7 0.9M30.4 94.3l-0.4 1.5M52.0 91.0l-0.0 1.9M52.4 94.3l0.4 1.9M65.4 96.3l0.3 1.2M77.2 47.4l-1.4-0.7M116.8 25.0l-0.6 1.7M128.7 19.7l0.7 1.6M164.9 47.0l-0.3 1.5M159.8 29.4l1.7 0.9M181.9 16.5l1.0 0.8"/>
<path stroke="#5a3a32" stroke-width="3.6" d="M72.4 51.3l-1.7 0.7M61.2 34.9l0.4 1.6M64.9 32.6l0.3 2.0M124.1 27.4l0.2 1.4M100.5 36.6l1.5-0.8M137.6 15.8l1.2-0.9M209.3 36.1l-1.8 0.3M201.2 44.2l0.0-1.8M211.3 99.8l-2.1-0.4M215.3 115.0l-1.8 0.2M188.6 141.7l0.4-2.3M131.3 95.6l-1.4 1.4M126.1 123.9l-1.4-1.3M124.2 127.1l-1.1-1.9M93.6 101.1l1.7 0.3M12.0 8.0l-1.4-0.6M9.7 19.9l-2.2 0.2M17.9 37.2l-1.6 0.2M18.9 47.1l-2.3 0.1M14.8 47.6l-1.9-0.2M20.8 84.2l-1.3 1.8M22.1 83.7l-1.5 0.7M58.9 88.6l0.5 2.3M70.0 92.7l0.1 2.1M77.4 66.7l-2.3 0.6M76.9 71.7l-1.4 0.7M103.0 18.9l-0.8 1.5M136.3 20.1l0.5 1.8M166.3 19.1l0.3 1.7M160.5 52.2l-0.4 1.7M174.9 48.3l-0.0 1.9M56.4 122.2l1.5 1.3M27.1 118.1l1.2 1.1M122.3 127.2l1.1 0.9M4.8 65.3l1.7 1.7M136.3 96.9l1.8 1.4M76.1 106.8l1.2 1.0"/>
<path stroke="#44292e" stroke-width="4.0" d="M73.7 57.6l-1.8 0.4M30.0 76.4l1.3-0.7M31.2 70.9l1.8-0.8M27.8 65.9l1.8-1.0M22.5 65.8l1.4-1.0M60.3 49.1l0.5-1.0M68.7 35.1l-0.5 2.0M116.5 26.8l0.2 1.7M134.2 45.3l-1.3-1.6M111.5 55.2l0.3-1.9M128.5 10.5l1.6-0.7M172.1 48.6l-0.5 1.1M174.7 50.7l-1.3 1.5M146.1 57.3l1.3-0.6M210.2 26.6l-1.7 0.6M191.0 39.5l1.3-0.9M185.6 34.0l1.3-0.8M148.8 79.4l0.8 1.7M175.7 65.3l-0.1 1.6M201.4 64.9l-0.4 1.7M203.8 61.6l0.6 1.8M210.9 127.8l-1.5-0.5M113.8 127.1l0.3-1.4M158.9 19.6l0.2 2.0M168.8 19.2l0.3 1.8M201.7 46.8l0.7 1.9M21.9 121.9l1.4 0.8M18.4 75.1l1.5 1.1M91.8 24.4l0.9 0.9M122.0 52.1l1.0 0.7"/>
<path stroke="#36315c" stroke-width="3.6" d="M74.6 69.6l-2.2-0.2M58.3 87.6l-0.8-1.3M40.0 80.7l1.1-1.1M29.8 68.2l2.1-1.0M19.8 54.5l1.6-0.5M130.3 30.0l-0.5 1.5M133.7-9.8l0.6 2.0M146.1 24.3l0.8-1.7M155.7 76.7l1.6-1.7M209.3 11.6l-1.7-0.2M210.9 32.9l-2.0 0.5M163.5 73.0l0.7 1.4M213.9 78.0l-1.9-0.2M214.7 112.0l-2.2 0.1M185.8 136.2l-0.4-1.6M161.6 125.6l0.8-1.4M121.2 89.0l-0.5 1.3M130.6 112.7l-1.9 0.3M10.1 42.8l-2.1 0.1M31.0 89.8l0.0 1.9M50.4 96.3l0.0 1.7M79.0 64.2l-2.1-0.0M151.3 22.0l0.6 2.0M170.4 23.7l-0.5 2.2M174.2 22.5l-0.7 1.5M9.3 88.2l1.1 0.9M38.3 126.6l1.7 1.1M35.5 107.9l1.3 0.8M17.8 118.8l1.6 1.3M89.9 119.1l1.6 1.2M124.7 50.8l1.5 0.1"/>
<path stroke="#4c3032" stroke-width="4.3" d="M36.4 83.6l0.7-1.0M33.7 77.7l0.4-0.6M122.6 54.5l0.1-1.5M119.6 54.7l-0.1-0.8M98.7 43.0l0.7-0.0M99.9 59.8l1.1 0.2M114.2 55.9l-0.4 0.6M157.7 22.9l-0.8-1.1M139.6 18.2l0.8-0.7M177.9 62.6l-1.3 0.2M170.2 73.0l-0.2-1.0M168.5 77.3l-0.2-1.0M159.1 77.4l0.7-1.0M155.5 71.2l0.9-1.3M214.0 80.9l-0.9 0.3M209.8 84.0l-1.5 0.2M198.0 140.2l0.0-0.7M176.3 139.4l0.2-0.8M168.1 130.1l1.1-0.4M162.9 124.1l1.0-1.3M159.6 118.3l0.9-0.6M116.8 91.4l-0.3 0.9M127.3 97.9l-0.7 0.6M104.0 117.4l1.0-0.4M13.7 25.5l-0.9-0.3M13.8 67.7l-0.8 0.2M18.5 83.3l-1.0 0.7M37.5 96.1l-0.1 1.5M37.2 97.3l0.1 1.3M75.0 44.1l-0.9 0.0M175.9 24.4l-0.5 1.0M192.0 45.6l0.3 1.1M53.1 33.8l1.0 0.9M93.1 25.2l1.3 0.6M32.5 28.1l0.8 0.3"/>
<path stroke="#302d5a" stroke-width="4.0" d="M115.9 23.6l0.3 1.3M131.7 50.6l-1.6-1.0M109.1 55.1l-0.2 1.8M146.5-7.4l-0.2 1.9M155.5-11.1l0.3 1.3M167.8 75.0l-0.6-1.2M201.8 6.0l-0.6 1.8M181.8 14.7l1.1 0.0M178.8 65.0l-0.2 1.0M210.2 121.6l-1.4-0.4M204.1 136.8l0.2-1.9M108.5 89.0l0.4 1.7M134.8 113.3l-2.0-0.1M14.7 10.8l-1.5-0.6M13.2 27.6l-1.6 0.3M10.2 35.6l-1.3-0.3M18.0 61.8l-1.2-0.1M19.5 69.1l-1.6-0.0M21.0 76.5l-1.9-0.0M57.7 96.2l0.5 1.1M194.6 46.5l0.1 1.3M25.1 126.2l0.9 0.8M50.7 84.5l1.5 0.3M39.7 20.6l1.3 0.4"/>
<path stroke="#44292e" stroke-width="4.3" d="M135.3 49.3l-0.5-0.6M126.1 58.5l0.1-1.5M123.0 57.9l-0.0-1.3M140.1-10.3l0.3 1.1M155.1 45.8l-0.2 1.4M150.8 59.4l1.1 0.1M147.8 59.9l0.7 0.0M151.0 56.5l1.6-0.6M185.2 6.8l0.2 0.8M154.1 76.3l0.8 1.3M185.7 66.8l0.1 1.6M215.0 96.6l-1.4-0.1M153.3 116.7l0.6-0.8M128.7 100.9l-1.1 0.4M99.5 110.2l1.4-0.1M93.4 98.4l1.4-0.4M18.5 79.3l-1.2 0.4M32.8 94.8l-0.2 1.0M55.5 97.2l0.2 1.5M54.9 94.7l0.5 0.9M59.0 89.1l0.4 1.4M119.1 26.2l-0.4 1.2M161.4 22.8l0.2 1.1M182.5 27.4l-0.3 1.6M162.6 49.3l-0.2 1.2M48.2 92.5l1.1 0.6M17.5 118.9l0.7 0.1M145.5 49.4l1.3 1.0M66.2 94.4l1.2 0.1M139.1 77.7l1.0 0.6M191.2 60.7l1.2 0.2"/>
<path stroke="#4c3032" stroke-width="3.6" d="M102.4 42.4l1.5-0.7M97.8 40.2l2.0-0.8M149.8-7.3l-0.6 2.3M132.5 16.3l1.3-0.7M181.1 66.4l-1.5-0.6M181.8 67.1l1.0 2.0M209.9 81.3l-1.7-0.5M210.8 90.0l-2.2 0.6M100.7 120.1l1.0-1.2M101.5 115.8l1.1-1.3M98.1 104.4l1.6-0.6M15.1 30.2l-2.4-0.1M11.4 32.7l-1.8 0.3M21.5 71.2l-2.3 0.1M80.4 29.7l-2.1 0.3M82.5 38.3l-1.7-0.7M80.8 43.0l-1.7-0.7M114.1 24.7l-0.1 2.0M124.2 21.3l0.0 1.5M149.3 23.0l-0.5 2.3M180.5 26.2l-0.5 1.4M177.5 48.4l-0.2 1.9M85.2 37.6l1.3 1.0M122.8 11.3l1.7 0.3M11.9 15.0l2.2 0.6M175.7 46.1l1.2 1.1"/>
<path stroke="#52342f" stroke-width="3.6" d="M143.4-11.3l-0.2 2.1M164.3 49.4l0.0 1.6M187.3 39.3l1.0-1.7M181.6 11.2l2.2 0.8M159.9 72.7l1.1 1.5M175.9 67.6l0.3 1.8M198.3 65.0l-0.4 2.3M214.0 84.2l-2.0-0.2M105.9 89.4l-0.5 2.3M132.9 98.9l-2.2 0.6M126.5 119.3l-1.2-1.7M121.6 122.7l-1.4-1.4M98.6 101.3l1.6-0.7M13.3 37.5l-1.6 0.2M18.7 56.1l-2.0 1.0M26.2 86.3l-1.1 1.2M29.1 87.1l-1.7 1.7M26.1 92.6l-1.0 1.7M61.7 88.7l-0.1 1.9M64.0 88.6l0.5 2.2M100.7 16.4l-0.3 1.4M104.8 22.0l-0.6 1.4M156.4 18.7l0.2 1.6M164.3 20.2l-0.6 2.0M42.2 104.1l1.5 1.4M75.4 124.5l1.4 0.8M55.9 104.4l1.3 1.0M72.8 92.3l1.7 0.3M34.6 111.9l1.7 1.2M54.7 107.9l1.3 0.6"/>
</g>
<g filter="url(#blur07)">
<path d="M26.0,39.0 C27.7,36.7 33.2,36.3 37.0,36.0 C40.8,35.7 45.5,36.0 49.0,37.0 C52.5,38.0 55.7,39.8 58.0,42.0 C60.3,44.2 61.8,47.0 63.0,50.0 C64.2,53.0 64.8,56.7 65.0,60.0 C65.2,63.3 64.8,67.0 64.0,70.0 C63.2,73.0 62.0,76.2 60.0,78.0 C58.0,79.8 54.7,81.0 52.0,81.0 C49.3,81.0 46.5,80.0 44.0,78.0 C41.5,76.0 39.2,72.0 37.0,69.0 C34.8,66.0 32.7,63.2 31.0,60.0 C29.3,56.8 27.8,53.5 27.0,50.0 C26.2,46.5 24.3,41.3 26.0,39.0Z" fill="none" stroke="#bdb5c8" stroke-width="4.5" stroke-linejoin="round"/>
<path d="M71.5,41.5 C71.5,42.6 71.0,43.9 70.3,44.7 C69.5,45.6 68.2,46.4 67.0,46.7 C65.8,47.1 64.2,47.1 63.0,46.7 C61.8,46.4 60.5,45.6 59.7,44.7 C59.0,43.9 58.5,42.6 58.5,41.5 C58.5,40.4 59.0,39.1 59.7,38.3 C60.5,37.4 61.8,36.6 63.0,36.3 C64.2,35.9 65.8,35.9 67.0,36.3 C68.2,36.6 69.5,37.4 70.3,38.3 C71.0,39.1 71.5,40.4 71.5,41.5Z" fill="none" stroke="#bdb5c8" stroke-width="4.5" stroke-linejoin="round"/>
<path d="M105.0,34.0 C106.7,31.3 113.8,32.0 118.0,32.0 C122.2,32.0 127.8,32.3 130.0,34.0 C132.2,35.7 131.7,39.3 131.0,42.0 C130.3,44.7 128.5,48.5 126.0,50.0 C123.5,51.5 119.0,51.3 116.0,51.0 C113.0,50.7 109.8,50.8 108.0,48.0 C106.2,45.2 103.3,36.7 105.0,34.0Z" fill="none" stroke="#bdb5c8" stroke-width="4.5" stroke-linejoin="round"/>
<path d="M115.5,64.0 C115.5,65.1 115.0,66.4 114.3,67.2 C113.5,68.1 112.2,68.9 111.0,69.2 C109.8,69.6 108.2,69.6 107.0,69.2 C105.8,68.9 104.5,68.1 103.7,67.2 C103.0,66.4 102.5,65.1 102.5,64.0 C102.5,62.9 103.0,61.6 103.7,60.8 C104.5,59.9 105.8,59.1 107.0,58.8 C108.2,58.4 109.8,58.4 111.0,58.8 C112.2,59.1 113.5,59.9 114.3,60.8 C115.0,61.6 115.5,62.9 115.5,64.0Z" fill="none" stroke="#bdb5c8" stroke-width="4.5" stroke-linejoin="round"/>
<path d="M134.0,-2.0 C138.3,-3.8 158.5,-3.8 163.0,-2.0 C167.5,-0.2 162.2,6.2 161.0,9.0 C159.8,11.8 157.8,13.6 156.0,15.0 C154.2,16.4 152.2,17.5 150.0,17.5 C147.8,17.5 145.2,16.4 143.0,15.0 C140.8,13.6 138.5,11.8 137.0,9.0 C135.5,6.2 129.7,-0.2 134.0,-2.0Z" fill="none" stroke="#bdb5c8" stroke-width="4.5" stroke-linejoin="round"/>
<path d="M155.0,55.0 C156.5,53.0 163.0,54.2 166.0,55.0 C169.0,55.8 172.0,57.8 173.0,60.0 C174.0,62.2 173.5,66.2 172.0,68.0 C170.5,69.8 166.5,71.2 164.0,71.0 C161.5,70.8 158.5,69.7 157.0,67.0 C155.5,64.3 153.5,57.0 155.0,55.0Z" fill="none" stroke="#bdb5c8" stroke-width="4.5" stroke-linejoin="round"/>
<path d="M186.0,11.0 C187.7,8.8 192.7,9.2 196.0,9.0 C199.3,8.8 204.3,4.7 206.0,10.0 C207.7,15.3 207.7,36.0 206.0,41.0 C204.3,46.0 198.8,41.3 196.0,40.0 C193.2,38.7 190.7,36.0 189.0,33.0 C187.3,30.0 186.5,25.7 186.0,22.0 C185.5,18.3 184.3,13.2 186.0,11.0Z" fill="none" stroke="#bdb5c8" stroke-width="4.5" stroke-linejoin="round"/>
<path d="M143.0,93.0 C143.0,89.8 147.2,87.3 150.0,85.0 C152.8,82.7 156.3,80.8 160.0,79.0 C163.7,77.2 167.7,75.2 172.0,74.0 C176.3,72.8 180.3,72.2 186.0,71.5 C191.7,70.8 202.7,59.9 206.0,70.0 C209.3,80.1 211.0,121.7 206.0,132.0 C201.0,142.3 182.0,133.5 176.0,132.0 C170.0,130.5 172.5,126.0 170.0,123.0 C167.5,120.0 164.3,117.2 161.0,114.0 C157.7,110.8 153.0,107.5 150.0,104.0 C147.0,100.5 143.0,96.2 143.0,93.0Z" fill="none" stroke="#bdb5c8" stroke-width="4.5" stroke-linejoin="round"/>
<path d="M103.0,95.0 C104.3,92.3 109.0,93.5 112.0,94.0 C115.0,94.5 118.8,96.0 121.0,98.0 C123.2,100.0 124.5,103.2 125.0,106.0 C125.5,108.8 125.2,112.8 124.0,115.0 C122.8,117.2 120.5,118.7 118.0,119.0 C115.5,119.3 111.3,118.5 109.0,117.0 C106.7,115.5 105.0,113.7 104.0,110.0 C103.0,106.3 101.7,97.7 103.0,95.0Z" fill="none" stroke="#bdb5c8" stroke-width="4.5" stroke-linejoin="round"/>
<path d="M26.0,39.0 C27.7,36.7 33.2,36.3 37.0,36.0 C40.8,35.7 45.5,36.0 49.0,37.0 C52.5,38.0 55.7,39.8 58.0,42.0 C60.3,44.2 61.8,47.0 63.0,50.0 C64.2,53.0 64.8,56.7 65.0,60.0 C65.2,63.3 64.8,67.0 64.0,70.0 C63.2,73.0 62.0,76.2 60.0,78.0 C58.0,79.8 54.7,81.0 52.0,81.0 C49.3,81.0 46.5,80.0 44.0,78.0 C41.5,76.0 39.2,72.0 37.0,69.0 C34.8,66.0 32.7,63.2 31.0,60.0 C29.3,56.8 27.8,53.5 27.0,50.0 C26.2,46.5 24.3,41.3 26.0,39.0Z" fill="#f4f0f4"/>
<path d="M71.5,41.5 C71.5,42.6 71.0,43.9 70.3,44.7 C69.5,45.6 68.2,46.4 67.0,46.7 C65.8,47.1 64.2,47.1 63.0,46.7 C61.8,46.4 60.5,45.6 59.7,44.7 C59.0,43.9 58.5,42.6 58.5,41.5 C58.5,40.4 59.0,39.1 59.7,38.3 C60.5,37.4 61.8,36.6 63.0,36.3 C64.2,35.9 65.8,35.9 67.0,36.3 C68.2,36.6 69.5,37.4 70.3,38.3 C71.0,39.1 71.5,40.4 71.5,41.5Z" fill="#f4f0f4"/>
<path d="M0.0,0.0 C1.5,-3.3 7.3,-1.3 9.0,0.0 C10.7,1.3 10.2,5.0 10.0,8.0 C9.8,11.0 9.2,15.8 8.0,18.0 C6.8,20.2 4.3,20.7 3.0,21.0 C1.7,21.3 0.5,23.5 0.0,20.0 C-0.5,16.5 -1.5,3.3 0.0,0.0Z" fill="#e9e6ee"/>
<path d="M55.0,21.0 C55.0,21.9 54.6,22.9 54.0,23.6 C53.5,24.4 52.5,25.0 51.5,25.3 C50.6,25.6 49.4,25.6 48.5,25.3 C47.5,25.0 46.5,24.4 46.0,23.6 C45.4,22.9 45.0,21.9 45.0,21.0 C45.0,20.1 45.4,19.1 46.0,18.4 C46.5,17.6 47.5,17.0 48.5,16.7 C49.4,16.4 50.6,16.4 51.5,16.7 C52.5,17.0 53.5,17.6 54.0,18.4 C54.6,19.1 55.0,20.1 55.0,21.0Z" fill="#f4f0f4"/>
<path d="M98.0,11.0 C98.0,12.0 97.5,13.1 96.7,13.9 C95.9,14.7 94.5,15.5 93.2,15.8 C91.9,16.1 90.1,16.1 88.8,15.8 C87.5,15.5 86.1,14.7 85.3,13.9 C84.5,13.1 84.0,12.0 84.0,11.0 C84.0,10.0 84.5,8.9 85.3,8.1 C86.1,7.3 87.5,6.5 88.8,6.2 C90.1,5.9 91.9,5.9 93.2,6.2 C94.5,6.5 95.9,7.3 96.7,8.1 C97.5,8.9 98.0,10.0 98.0,11.0Z" fill="#ecebf2"/>
<path d="M105.0,34.0 C106.7,31.3 113.8,32.0 118.0,32.0 C122.2,32.0 127.8,32.3 130.0,34.0 C132.2,35.7 131.7,39.3 131.0,42.0 C130.3,44.7 128.5,48.5 126.0,50.0 C123.5,51.5 119.0,51.3 116.0,51.0 C113.0,50.7 109.8,50.8 108.0,48.0 C106.2,45.2 103.3,36.7 105.0,34.0Z" fill="#f4f0f4"/>
<path d="M115.5,64.0 C115.5,65.1 115.0,66.4 114.3,67.2 C113.5,68.1 112.2,68.9 111.0,69.2 C109.8,69.6 108.2,69.6 107.0,69.2 C105.8,68.9 104.5,68.1 103.7,67.2 C103.0,66.4 102.5,65.1 102.5,64.0 C102.5,62.9 103.0,61.6 103.7,60.8 C104.5,59.9 105.8,59.1 107.0,58.8 C108.2,58.4 109.8,58.4 111.0,58.8 C112.2,59.1 113.5,59.9 114.3,60.8 C115.0,61.6 115.5,62.9 115.5,64.0Z" fill="#f4f0f4"/>
<path d="M134.0,-2.0 C138.3,-3.8 158.5,-3.8 163.0,-2.0 C167.5,-0.2 162.2,6.2 161.0,9.0 C159.8,11.8 157.8,13.6 156.0,15.0 C154.2,16.4 152.2,17.5 150.0,17.5 C147.8,17.5 145.2,16.4 143.0,15.0 C140.8,13.6 138.5,11.8 137.0,9.0 C135.5,6.2 129.7,-0.2 134.0,-2.0Z" fill="#f4f0f4"/>
<path d="M155.0,55.0 C156.5,53.0 163.0,54.2 166.0,55.0 C169.0,55.8 172.0,57.8 173.0,60.0 C174.0,62.2 173.5,66.2 172.0,68.0 C170.5,69.8 166.5,71.2 164.0,71.0 C161.5,70.8 158.5,69.7 157.0,67.0 C155.5,64.3 153.5,57.0 155.0,55.0Z" fill="#f4f0f4"/>
<path d="M186.0,11.0 C187.7,8.8 192.7,9.2 196.0,9.0 C199.3,8.8 204.3,4.7 206.0,10.0 C207.7,15.3 207.7,36.0 206.0,41.0 C204.3,46.0 198.8,41.3 196.0,40.0 C193.2,38.7 190.7,36.0 189.0,33.0 C187.3,30.0 186.5,25.7 186.0,22.0 C185.5,18.3 184.3,13.2 186.0,11.0Z" fill="#f4f0f4"/>
<path d="M143.0,93.0 C143.0,89.8 147.2,87.3 150.0,85.0 C152.8,82.7 156.3,80.8 160.0,79.0 C163.7,77.2 167.7,75.2 172.0,74.0 C176.3,72.8 180.3,72.2 186.0,71.5 C191.7,70.8 202.7,59.9 206.0,70.0 C209.3,80.1 211.0,121.7 206.0,132.0 C201.0,142.3 182.0,133.5 176.0,132.0 C170.0,130.5 172.5,126.0 170.0,123.0 C167.5,120.0 164.3,117.2 161.0,114.0 C157.7,110.8 153.0,107.5 150.0,104.0 C147.0,100.5 143.0,96.2 143.0,93.0Z" fill="#f4f0f4"/>
<path d="M103.0,95.0 C104.3,92.3 109.0,93.5 112.0,94.0 C115.0,94.5 118.8,96.0 121.0,98.0 C123.2,100.0 124.5,103.2 125.0,106.0 C125.5,108.8 125.2,112.8 124.0,115.0 C122.8,117.2 120.5,118.7 118.0,119.0 C115.5,119.3 111.3,118.5 109.0,117.0 C106.7,115.5 105.0,113.7 104.0,110.0 C103.0,106.3 101.7,97.7 103.0,95.0Z" fill="#f4f0f4"/>
<ellipse cx="50" cy="60" rx="7" ry="9" fill="#c9c0d2"/>
</g>
</g></g>
<g transform="translate(319,341)">
<clipPath id="cp2"><rect width="203" height="129"/></clipPath>
<g clip-path="url(#cp2)">
<rect width="203" height="129" fill="#c6bed5"/>
<g filter="url(#blur4)">
<ellipse cx="35" cy="36" rx="25" ry="9" fill="#d6d0e2" opacity="0.9"/>
<ellipse cx="85" cy="8" rx="25" ry="9" fill="#d8d2e4" opacity="0.9"/>
<ellipse cx="62" cy="105" rx="16" ry="20" fill="#d6d0e2" opacity="0.9"/>
<ellipse cx="150" cy="82" rx="12" ry="9" fill="#d4cee0" opacity="0.8"/>
<ellipse cx="203" cy="8" rx="10" ry="10" fill="#d6d0e2" opacity="0.8"/>
</g>
<g filter="url(#blur1)" opacity="0.7">
<path fill="none" stroke-linecap="round" stroke="#8a80a4" stroke-width="1.5" d="M46.0 120.2l14.3 -5.6M67.8 104.4l8.6 -6.1M47.4 93.9l5.8 -2.4M49.1 131.8l14.1 -7.3M64.7 116.6l5.8 -3.7M61.7 99.4l7.3 -3.6M61.7 95.0l6.6 -2.1M47.5 110.7l10.6 -4.0M52.9 111.2l12.7 -6.5M56.9 132.4l10.5 -7.8M55.3 130.1l8.1 -3.4M65.5 99.5l7.6 -3.6M64.2 101.0l11.7 -4.6M55.3 103.7l13.8 -6.7M69.2 130.4l11.4 -8.1M47.7 129.4l7.2 -2.0M63.6 122.1l5.7 -2.0M72.4 125.8l9.3 -4.8M68.7 118.9l10.9 -2.7M46.2 116.3l9.2 -2.1M66.5 109.2l14.7 -5.5M50.2 127.2l11.4 -8.0M45.8 95.1l12.4 -4.5"/>
<path fill="none" stroke-linecap="round" stroke="#8a80a4" stroke-width="1.0" d="M67.1 106.6l6.8 -2.3M63.2 98.4l11.6 -5.1M56.8 101.4l14.8 -4.3M63.9 123.1l5.7 -4.0M73.0 96.1l13.3 -3.3M63.4 105.5l14.1 -5.0M44.8 118.2l12.3 -6.2M52.4 97.5l10.9 -6.9M50.1 113.2l12.4 -8.4M69.0 102.4l9.0 -4.8M59.7 94.7l7.4 -2.3M46.3 118.0l11.1 -2.9M74.2 93.7l6.8 -2.1M61.1 124.8l5.8 -2.1M73.3 101.9l11.7 -4.4M73.3 123.6l11.6 -6.2M58.2 112.6l6.8 -4.6M56.1 110.8l8.7 -2.7"/>
<path fill="none" stroke-linecap="round" stroke="#8a80a4" stroke-width="2.0" d="M71.5 103.8l9.2 -2.9M70.0 96.4l13.8 -5.5M47.8 99.2l11.4 -5.9M62.6 111.7l9.0 -5.3M74.8 102.2l6.8 -3.9M53.3 126.2l7.3 -4.3M60.3 114.9l13.1 -3.4M59.8 123.9l13.2 -7.5M73.6 115.2l12.4 -3.9M68.0 105.3l7.6 -4.5M70.9 115.5l10.3 -7.6M63.0 102.2l10.3 -2.4M65.8 107.1l9.9 -4.1"/>
<path fill="none" stroke-linecap="round" stroke="#8a86a8" stroke-width="1.5" d="M83.6 10.2l13.7 -3.8M103.6 19.6l12.5 -7.7M96.4 13.4l12.5 -6.8M61.3 1.9l8.4 -2.4M106.2 12.4l5.8 -3.6M86.7 21.1l13.2 -7.1M69.7 11.4l6.0 -4.3M95.0 2.7l7.3 -4.3M83.4 16.4l8.1 -3.2M76.6 8.7l12.0 -8.7M73.1 11.9l14.5 -6.5M106.0 3.3l6.6 -4.3M30.6 49.0l8.7 -4.6M35.6 45.1l10.2 -3.6M40.7 40.6l12.8 -6.9M24.9 30.0l7.2 -3.2M42.9 38.5l13.4 -8.0M31.2 36.3l14.9 -3.9M26.2 39.8l7.3 -2.3M39.0 37.3l6.5 -3.4M16.3 32.3l14.6 -3.4M38.9 31.5l9.4 -2.6M14.5 38.0l11.7 -6.7M49.6 35.4l9.0 -6.1M49.0 36.7l14.8 -3.7M22.1 40.7l8.8 -6.1M10.8 42.1l8.5 -2.3M42.6 46.5l8.8 -4.5M41.7 44.9l12.6 -4.9M35.4 37.7l13.9 -7.0"/>
<path fill="none" stroke-linecap="round" stroke="#8a86a8" stroke-width="2.0" d="M100.5 12.7l9.4 -6.2M69.8 9.7l11.0 -6.3M78.7 14.9l6.4 -2.2M97.3 5.9l7.4 -3.1M99.9 12.3l6.5 -2.0M61.8 12.7l9.7 -5.5M82.4 5.6l8.7 -3.9M93.4 11.7l9.7 -3.3M67.3 8.2l10.7 -8.0M82.1 18.2l6.3 -3.6M37.8 47.0l5.7 -4.0M41.9 36.6l12.0 -5.6M36.5 33.7l7.6 -5.5M48.3 41.3l5.9 -1.8M30.3 50.6l12.7 -9.1M27.2 48.0l13.0 -4.9M13.4 43.4l6.8 -3.8M47.3 36.7l5.2 -3.7M47.0 35.8l12.7 -3.6M14.1 36.0l7.9 -3.7M33.6 51.2l13.1 -7.9M51.2 31.4l10.6 -4.6M42.3 34.3l9.8 -6.9M20.5 48.9l10.1 -2.8M54.5 38.5l7.4 -2.4M42.1 39.7l15.1 -5.3"/>
<path fill="none" stroke-linecap="round" stroke="#8a86a8" stroke-width="1.0" d="M64.3 17.6l8.9 -6.6M85.8 16.0l7.4 -2.3M63.9 18.3l12.0 -8.2M102.2 7.3l8.8 -4.4M103.8 17.3l7.6 -3.2M96.4 5.8l11.9 -5.6M88.9 2.1l5.5 -2.7M94.2 18.0l9.9 -2.7M92.6 3.2l10.0 -4.0M80.6 19.8l14.5 -5.3M65.7 9.6l13.1 -8.5M101.5 6.3l13.5 -4.3M63.8 17.1l13.4 -7.9M68.1 8.7l12.8 -5.7M43.4 35.3l6.8 -4.0M51.0 45.3l13.0 -8.0M17.6 42.1l7.3 -2.5M50.5 34.2l7.2 -5.3M22.4 31.1l14.8 -3.6M16.8 30.4l6.0 -1.4M29.3 44.1l9.9 -7.4M16.6 44.5l13.5 -8.3M35.5 49.7l5.0 -3.7M48.6 48.6l11.4 -3.9M47.0 32.2l9.9 -4.4"/>
</g>
<g filter="url(#blur15)">
<path d="M193.0,0.0 C193.2,6.7 193.8,26.7 194.0,40.0 C194.2,53.3 193.7,65.2 194.0,80.0 C194.3,94.8 195.7,120.8 196.0,129.0" fill="none" stroke="#8e80a6" stroke-width="20" stroke-linecap="round" stroke-linejoin="round"/>
<path d="M132.0,0.0 C133.0,3.3 136.3,13.3 138.0,20.0 C139.7,26.7 142.0,34.3 142.0,40.0 C142.0,45.7 138.7,51.7 138.0,54.0" fill="none" stroke="#8e80a6" stroke-width="12" stroke-linecap="round" stroke-linejoin="round"/>
<path d="M157.0,8.0 C157.2,12.5 157.5,25.0 158.0,35.0 C158.5,45.0 159.7,62.5 160.0,68.0" fill="none" stroke="#8e80a6" stroke-width="12" stroke-linecap="round" stroke-linejoin="round"/>
<path d="M0.0,88.0 C3.3,88.7 13.7,90.3 20.0,92.0 C26.3,93.7 33.8,91.8 38.0,98.0 C42.2,104.2 43.8,123.8 45.0,129.0" fill="none" stroke="#8e80a6" stroke-width="18" stroke-linecap="round" stroke-linejoin="round"/>
<path d="M0.0,110.0 C4.2,112.0 20.8,120.0 25.0,122.0" fill="none" stroke="#8e80a6" stroke-width="12" stroke-linecap="round" stroke-linejoin="round"/>
<path d="M117.0,122.0 C120.0,122.5 129.5,124.3 135.0,125.0 C140.5,125.7 147.5,125.8 150.0,126.0" fill="none" stroke="#8e80a6" stroke-width="10" stroke-linecap="round" stroke-linejoin="round"/>
<path d="M75.0,45.0 C77.5,45.8 85.8,48.3 90.0,50.0 C94.2,51.7 98.3,54.2 100.0,55.0" fill="none" stroke="#8e80a6" stroke-width="8" stroke-linecap="round" stroke-linejoin="round"/>
<path d="M3.0,9.0 C4.5,6.5 8.8,6.0 12.0,5.0 C15.2,4.0 18.3,3.5 22.0,3.0 C25.7,2.5 31.8,1.2 34.0,2.0 C36.2,2.8 35.7,6.0 35.0,8.0 C34.3,10.0 32.8,12.0 30.0,14.0 C27.2,16.0 21.7,18.3 18.0,20.0 C14.3,21.7 10.5,24.0 8.0,24.0 C5.5,24.0 3.8,22.5 3.0,20.0 C2.2,17.5 1.5,11.5 3.0,9.0Z" fill="#8e80a6" stroke="#8e80a6" stroke-width="16.0" stroke-linejoin="round"/>
<path d="M36.0,0.0 C38.3,-2.2 47.5,-2.3 50.0,-1.0 C52.5,0.3 51.5,5.2 51.0,8.0 C50.5,10.8 48.8,14.2 47.0,16.0 C45.2,17.8 41.8,19.7 40.0,19.0 C38.2,18.3 36.7,15.2 36.0,12.0 C35.3,8.8 33.7,2.2 36.0,0.0Z" fill="#8e80a6" stroke="#8e80a6" stroke-width="14.0" stroke-linejoin="round"/>
<path d="M6.0,67.0 C5.5,65.1 8.8,62.3 12.0,61.0 C15.2,59.7 19.5,59.3 25.0,59.0 C30.5,58.7 38.8,59.0 45.0,59.0 C51.2,59.0 58.2,58.3 62.0,59.0 C65.8,59.7 67.3,61.3 68.0,63.0 C68.7,64.7 68.2,67.4 66.0,69.0 C63.8,70.6 60.2,71.8 55.0,72.5 C49.8,73.2 41.7,73.0 35.0,73.0 C28.3,73.0 19.8,73.5 15.0,72.5 C10.2,71.5 6.5,68.9 6.0,67.0Z" fill="#8e80a6" stroke="#8e80a6" stroke-width="18.0" stroke-linejoin="round"/>
<path d="M66.0,23.0 C66.8,20.8 73.8,21.2 78.0,21.0 C82.2,20.8 89.3,20.5 91.0,22.0 C92.7,23.5 89.5,27.5 88.0,30.0 C86.5,32.5 83.7,35.2 82.0,37.0 C80.3,38.8 79.5,41.5 78.0,41.0 C76.5,40.5 75.0,37.0 73.0,34.0 C71.0,31.0 65.2,25.2 66.0,23.0Z" fill="#8e80a6" stroke="#8e80a6" stroke-width="16.0" stroke-linejoin="round"/>
<path d="M84.0,70.0 C85.5,67.3 90.5,67.2 93.0,68.0 C95.5,68.8 98.2,72.0 99.0,75.0 C99.8,78.0 99.5,83.5 98.0,86.0 C96.5,88.5 92.3,90.3 90.0,90.0 C87.7,89.7 85.0,87.3 84.0,84.0 C83.0,80.7 82.5,72.7 84.0,70.0Z" fill="#8e80a6" stroke="#8e80a6" stroke-width="12.0" stroke-linejoin="round"/>
<path d="M130.0,8.0 C131.7,8.7 134.8,10.7 134.0,14.0 C133.2,17.3 128.2,23.7 125.0,28.0 C121.8,32.3 118.2,36.8 115.0,40.0 C111.8,43.2 108.3,46.3 106.0,47.0 C103.7,47.7 101.3,46.5 101.0,44.0 C100.7,41.5 101.7,36.0 104.0,32.0 C106.3,28.0 111.7,23.7 115.0,20.0 C118.3,16.3 121.5,12.0 124.0,10.0 C126.5,8.0 128.3,7.3 130.0,8.0Z" fill="#8e80a6" stroke="#8e80a6" stroke-width="16.0" stroke-linejoin="round"/>
<path d="M130.0,71.0 C130.0,73.6 129.0,76.8 127.5,78.9 C126.0,81.1 123.4,83.0 121.0,83.8 C118.6,84.7 115.4,84.7 113.0,83.8 C110.6,83.0 108.0,81.1 106.5,78.9 C105.0,76.8 104.0,73.6 104.0,71.0 C104.0,68.4 105.0,65.2 106.5,63.1 C108.0,60.9 110.6,59.0 113.0,58.2 C115.4,57.3 118.6,57.3 121.0,58.2 C123.4,59.0 126.0,60.9 127.5,63.1 C129.0,65.2 130.0,68.4 130.0,71.0Z" fill="#8e80a6" stroke="#8e80a6" stroke-width="18.0" stroke-linejoin="round"/>
<path d="M163.0,19.0 C164.3,17.3 167.8,16.5 170.0,17.0 C172.2,17.5 174.7,19.2 176.0,22.0 C177.3,24.8 177.2,30.0 178.0,34.0 C178.8,38.0 180.3,42.5 181.0,46.0 C181.7,49.5 182.7,53.2 182.0,55.0 C181.3,56.8 178.7,57.8 177.0,57.0 C175.3,56.2 173.8,53.2 172.0,50.0 C170.2,46.8 167.7,41.8 166.0,38.0 C164.3,34.2 162.5,30.2 162.0,27.0 C161.5,23.8 161.7,20.7 163.0,19.0Z" fill="#8e80a6" stroke="#8e80a6" stroke-width="18.0" stroke-linejoin="round"/>
<path d="M171.0,68.0 C172.0,64.8 174.3,67.3 176.0,69.0 C177.7,70.7 179.5,74.5 181.0,78.0 C182.5,81.5 184.2,86.0 185.0,90.0 C185.8,94.0 186.5,98.5 186.0,102.0 C185.5,105.5 183.5,109.3 182.0,111.0 C180.5,112.7 178.7,113.2 177.0,112.0 C175.3,110.8 173.2,108.0 172.0,104.0 C170.8,100.0 170.2,94.0 170.0,88.0 C169.8,82.0 170.0,71.2 171.0,68.0Z" fill="#8e80a6" stroke="#8e80a6" stroke-width="18.0" stroke-linejoin="round"/>
<path d="M139.0,104.0 C140.5,102.0 146.0,101.3 150.0,101.0 C154.0,100.7 160.0,100.8 163.0,102.0 C166.0,103.2 168.0,105.8 168.0,108.0 C168.0,110.2 166.0,113.5 163.0,115.0 C160.0,116.5 153.7,117.3 150.0,117.0 C146.3,116.7 142.8,115.2 141.0,113.0 C139.2,110.8 137.5,106.0 139.0,104.0Z" fill="#8e80a6" stroke="#8e80a6" stroke-width="16.0" stroke-linejoin="round"/>
<path d="M41.0,103.0 C41.0,104.4 40.7,106.0 40.2,107.1 C39.8,108.2 39.0,109.2 38.2,109.7 C37.5,110.1 36.5,110.1 35.8,109.7 C35.0,109.2 34.2,108.2 33.8,107.1 C33.3,106.0 33.0,104.4 33.0,103.0 C33.0,101.6 33.3,100.0 33.8,98.9 C34.2,97.8 35.0,96.8 35.8,96.3 C36.5,95.9 37.5,95.9 38.2,96.3 C39.0,96.8 39.8,97.8 40.2,98.9 C40.7,100.0 41.0,101.6 41.0,103.0Z" fill="#8e80a6" stroke="#8e80a6" stroke-width="10.0" stroke-linejoin="round"/>
</g>
<g filter="url(#blur07)" fill="none" stroke-linecap="round">
<path stroke="#5a2e55" stroke-width="3.6" d="M1.4 4.8l0.2 1.6M39.2 2.2l-1.5 0.0M36.0-3.8l-0.3 2.1M47.5-4.6l0.4 1.5M6.4 59.0l1.5 1.3M22.7 49.9l0.8 2.1M27.0 50.5l0.7 2.0M48.6 54.5l-0.5 1.7M60.3 54.5l0.0 1.7M74.0 16.5l0.3 1.6M84.0 41.5l-1.9-1.0M87.2 91.6l1.6-0.9M111.8 18.8l0.9 1.2M100.5 74.2l1.5-0.6M97.1 75.3l1.9-0.9M176.6 11.3l-1.0 2.1M190.1 53.4l-2.3 0.2M161.6 37.7l1.5-0.8M187.0 111.5l-1.6-1.5M164.0 100.5l1.6-0.3M170.7 103.1l-1.8 0.8M190.0 7.2l-1.9 0.2M200.5 9.4l-1.6-0.0M189.4 16.8l-1.8 0.3M195.4 74.6l-1.4-0.5M199.9 91.2l-1.6-0.4M198.5 105.5l-1.7-0.0M202.1 112.5l-2.3 0.0M131.1 0.6l-1.8-0.1M158.7 7.9l-1.9 0.1M161.3 39.0l-1.7 0.1M161.5 67.7l-1.6 0.3M1.1 83.9l-0.7 1.3M7.3 87.6l-0.0 1.7M11.3 91.3l0.2 1.7M138.4 125.4l-0.3 1.9M82.1 45.9l-0.1 1.7M99.4 55.4l-1.0 1.1M74.4 92.7l2.3-0.2M200.6 121.4l1.3-0.7M194.4 9.1l1.4-1.3M176.9 8.9l1.4-1.3"/>
<path stroke="#4a2f6a" stroke-width="3.6" d="M4.4 4.1l0.2 1.9M27.4 20.1l-0.8-1.8M41.6-3.8l0.4 2.1M51.8 15.7l-2.2-0.3M34.3 19.3l2.1-0.8M65.0 75.1l-0.4-1.4M46.2 80.3l-0.7-1.9M11.0 75.0l0.4-1.3M86.6 39.6l-1.7-1.3M91.7 64.4l0.8 1.4M132.7 78.2l-2.1-0.8M105.7 88.8l1.7-1.3M97.8 64.9l1.8 0.4M186.5 47.8l-1.9 0.2M154.5 21.0l2.2-0.2M188.6 73.4l-1.8 0.9M164.9 78.5l2.4-0.3M171.4 111.3l-1.2-0.8M44.0 101.2l-2.4-0.4M194.2 43.4l-2.1-0.4M191.1 72.2l-2.2-0.4M188.4 77.0l-2.2-0.4M201.7 85.9l-1.5 0.4M200.2 88.7l-1.9-0.1M202.8 92.9l-1.7 0.7M195.3 100.6l-1.5 0.3M192.4 115.4l-1.7-0.1M196.3 117.8l-2.2-0.4M198.7 127.0l-1.8 0.1M139.5 7.7l-1.3 0.6M144.9 45.6l-1.4-0.8M161.9 20.1l-1.6-0.4M157.6 32.1l-1.9-0.1M159.4 38.9l-1.4 0.5M155.5 41.9l-1.5-0.2M158.6 58.5l-1.7-0.2M-0.8 91.5l-0.2 1.7M36.9 91.1l-0.7 1.3M41.6 100.9l-1.3 0.8M44.1 120.3l-1.5 0.2M51.8 126.0l-2.0 0.3M80.9 17.2l1.8-0.5M22.7 36.5l1.6-0.8M143.4 20.2l1.3-0.7M156.6 16.7l1.0-1.0M39.0 116.8l1.5-0.7"/>
<path stroke="#4e2a50" stroke-width="3.6" d="M7.3 3.7l0.5 1.5M13.1-0.1l0.5 2.2M3.9 26.2l1.2-1.4M-2.3 15.7l1.4-0.3M52.3 12.6l-2.3-0.3M45.3 21.7l-0.9-1.3M0.2 61.1l0.9 1.2M9.3 77.9l0.6-1.8M65.1 19.4l0.9 1.6M86.4 66.1l-0.0 1.6M133.5 5.7l-1.5 0.9M129.2 87.5l-1.0-1.8M100.4 68.5l1.5 1.1M166.5 9.3l0.5 1.7M178.4 61.0l-0.1-1.8M169.4 114.5l1.5-0.9M162.5 118.9l-0.4-1.6M29.9 98.4l2.0 1.0M197.3 14.5l-2.1-0.3M187.4 17.2l-2.1-0.4M196.6 23.9l-1.6 0.0M202.2 45.4l-2.0 0.5M189.1 50.5l-1.6-0.3M188.8 62.5l-2.2-0.2M130.3 5.3l-1.8 0.9M146.6 36.1l-1.9 0.4M136.5 48.2l-1.9-1.1M139.5 53.7l-1.7-0.3M162.4 10.1l-1.8 0.3M155.4 24.7l-1.7 0.4M159.7 29.5l-1.9 0.0M45.9 107.5l-2.2 0.6M45.6 117.5l-1.4 0.3M49.1 123.7l-1.9 1.0M121.3 125.1l-0.3 2.1M135.8 126.1l0.1 1.9M74.8 45.3l-0.4 1.8M96.3 50.0l-0.7 2.0M16.3 23.1l1.6-0.9M120.5 115.0l1.6-0.9M153.7 117.5l1.8-0.2"/>
<path stroke="#4a2f6a" stroke-width="4.0" d="M9.1 0.3l0.4 1.5M30.4 19.0l-0.8-0.7M54.7 2.3l-1.3 0.4M42.5 53.9l-0.3 1.4M57.4 53.6l-0.1 1.4M68.1 52.2l-0.8 1.5M66.1 78.1l-0.6-0.9M39.8 81.7l0.2-1.4M30.3 76.8l0.6-1.7M27.8 76.9l-0.4-1.4M27.4 81.6l0.2-1.1M18.7 76.6l-0.1-1.1M8.1 73.3l1.3-1.1M3.4 75.9l0.6-1.3M133.0 25.9l-1.8-0.5M101.2 48.7l1.1-1.5M100.7 77.4l0.9-0.6M107.4 56.8l1.6 1.2M167.1 11.9l0.6 1.7M187.2 37.6l-1.5 0.4M184.4 41.6l-1.7 0.0M185.4 74.9l-1.0 0.9M186.3 82.1l-1.2 0.5M140.6 98.4l0.5 1.8M167.8 116.0l-1.0-0.4M30.5 105.9l1.7-0.5M29.8 101.9l1.2-0.2M190.2 7.3l-1.5 0.1M202.0 38.1l-1.4 0.1M187.9 40.7l-1.8 0.2M192.4 62.2l-2.0 0.4M198.1 76.8l-1.1-0.0M196.7 103.0l-1.9 0.3M196.2 105.4l-1.4 0.3M188.5 108.1l-1.0 0.3M142.6 39.1l-1.7 0.9M138.0 43.3l-1.3-0.2M143.4 47.6l-1.0-0.7M155.6 15.1l-1.7 0.3M159.4 51.4l-1.5-0.4M6.8 90.0l0.1 1.5M28.3 93.6l-0.3 1.2M39.9 111.3l-1.9 0.6M42.0 115.5l-1.6 0.9M42.9 123.0l-2.0 0.5M148.3 123.4l-0.5 1.9M88.9 3.5l0.9-0.7M57.8 29.4l1.8-0.5M54.2 41.3l0.9-0.7M48.4 45.3l1.0-0.6M175.5 127.6l1.7-0.8"/>
<path stroke="#4a2f6a" stroke-width="4.3" d="M16.3 0.4l0.3 1.2M44.6-5.4l0.2 1.1M55.0-0.7l-1.6 0.5M32.6 5.9l0.9-0.3M42.4 50.5l-0.1 1.6M60.5 50.8l-0.3 1.3M74.0 68.5l-0.8-0.6M71.1 70.8l-1.2-1.0M55.0 80.2l-0.1-1.0M101.4 84.1l-1.5-0.6M103.4 50.8l1.1-1.2M96.3 42.6l1.3 0.2M101.2 31.3l0.9 0.4M122.8 6.3l0.8 1.2M134.1 75.4l-1.6-0.5M113.2 89.2l0.6-1.5M165.5 46.0l1.3-0.3M158.7 42.9l1.2-0.7M189.6 87.3l-0.9 0.4M168.2 108.0l1.0-0.5M162.2 75.1l1.1 0.1M160.0 97.6l-0.3 0.8M191.5 2.6l-1.4-0.3M200.4 7.1l-1.3-0.2M189.6 26.7l-1.6-0.4M189.3 26.3l-1.5 0.5M192.4 31.1l-1.0 0.3M197.1 60.1l-0.8-0.2M199.2 64.8l-1.6-0.1M199.3 69.8l-1.5-0.5M201.3 72.1l-0.7-0.1M187.7 81.9l-1.0 0.0M192.8 86.4l-1.0 0.2M198.0 91.2l-1.0-0.2M197.2 93.6l-1.4-0.3M190.3 100.9l-1.7 0.2M195.5 103.0l-1.1 0.4M190.2 110.5l-0.8 0.1M192.3 115.1l-1.6 0.3M196.6 117.6l-0.7-0.2M197.6 119.9l-1.4-0.0M136.5 13.8l-1.2 0.2M142.2 27.3l-1.1 0.2M157.9 36.9l-1.0-0.2M157.2 41.7l-1.3-0.1M160.9 48.6l-1.5 0.2M164.1 53.4l-1.7-0.1M159.2 60.8l-0.9 0.0M160.3 65.4l-0.7 0.3M10.8 83.1l-0.3 1.0M12.6 87.0l-0.4 0.6M19.7 96.5l-0.1 0.7M24.2 98.9l-0.6 0.8M36.0 92.7l0.0 1.1M35.4 102.9l-0.5 1.1M35.2 103.7l-0.6 0.7M43.7 98.3l-1.6 0.1M46.8 102.5l-1.7 0.1M47.4 109.4l-1.3 0.8M6.6 113.2l-0.7 0.9M10.1 116.3l-0.4 1.4M98.3 51.7l-0.3 0.9M74.3 18.4l1.0-0.4M74.5 3.2l1.4-0.3M90.0 19.5l1.1-0.2M56.6 99.5l0.8-0.6M87.0 56.7l0.7-0.1M170.3 106.4l1.4-0.3M153.8 16.5l1.0-0.7M200.7 69.5l0.6-0.4"/>
<path stroke="#3a2870" stroke-width="3.6" d="M19.0-0.9l0.6 1.4M24.4 21.0l-0.6-1.6M13.8 51.3l0.9 2.2M36.1 50.5l0.6 2.2M5.0 73.2l1.0-2.1M70.9 17.9l0.9 1.6M92.9 28.2l-1.6-1.3M91.6 30.7l-1.5-0.8M89.0 34.1l-0.8-1.3M66.6 31.0l1.6-0.5M97.3 68.1l-1.5 1.0M136.3 7.1l-1.5 1.6M115.8 45.6l-0.9-2.1M128.0 86.1l-0.9-2.0M96.7 67.5l1.9 0.9M99.8 65.2l1.4 0.9M103.6 55.9l0.6 1.6M118.4 53.1l0.3 1.9M129.1 58.1l-0.7 1.4M131.9 54.5l-1.2 1.9M136.5 62.1l-2.1-0.0M161.6 14.0l0.5 1.7M160.6 10.2l0.4 1.9M159.1 32.1l1.6-0.6M185.1 68.5l-1.6 0.6M190.3 77.7l-1.9 0.6M153.6 121.7l0.1-2.1M38.2 93.4l-0.3 2.3M196.1 2.1l-2.2 0.5M194.5 4.9l-1.7-0.2M197.1 40.7l-1.6 0.1M201.4 64.5l-2.1 0.6M195.1 76.4l-2.2 0.7M194.4 98.6l-1.6-0.3M202.6 105.1l-1.3 0.5M193.8 124.7l-1.8 0.4M130.3 0.8l-2.0-0.1M136.5 13.9l-1.8 0.2M140.0 14.9l-1.9 0.9M143.8 34.4l-1.9 0.0M136.9 52.9l-2.1-0.3M157.9 10.7l-1.9-0.5M157.4 27.3l-1.5-0.2M20.1 87.2l-1.1 1.8M25.6 87.0l-0.8 1.8M22.9 94.9l-0.8 2.0M46.9 112.1l-2.3 0.7M38.4 116.4l-1.3 0.8M40.0 121.0l-1.4 0.7M41.6 126.0l-2.4 0.0M22.3 118.6l-0.3 1.5M117.8 118.4l-0.7 1.5M83.4 108.4l1.6-0.7M63.0 97.0l2.2-0.7M50.3 96.6l2.0-0.2M188.5 39.4l1.8-1.0M139.0 110.9l1.7-1.7M64.5 127.4l1.7-0.9M74.4 61.3l1.1-0.9M10.2 92.8l1.7-1.0"/>
<path stroke="#5a2e55" stroke-width="4.0" d="M22.4-1.5l0.5 1.5M28.5-1.8l0.3 1.8M22.0 23.1l-0.4-1.8M38.9-3.7l-0.3 1.0M5.2 61.7l1.1 1.6M39.3 51.2l0.2 1.3M72.5 67.6l-2.0-0.3M39.6 78.0l0.4-1.3M24.6 78.0l0.1-2.0M15.9 76.7l-0.5-1.6M121.7 36.9l-1.2-0.5M97.9 33.9l2.0 0.1M116.8 11.5l1.4 0.9M126.9 51.6l-1.2 0.9M177.2 16.2l-1.5 1.0M170.8 57.6l1.6-0.7M166.7 48.9l1.7-0.8M162.9 51.0l1.0-1.0M159.5 45.6l1.8-0.5M183.6 72.6l-1.3 0.9M193.3 97.6l-1.6-0.4M165.4 110.1l1.4-1.5M161.0 91.9l1.9-0.5M166.1 84.3l1.9 0.4M162.8 81.2l1.5 0.2M143.7 98.2l0.2 1.2M151.0 96.2l-0.1 1.7M41.5 97.0l-1.0 1.4M193.3 21.6l-1.1 0.1M187.8 48.0l-1.9 0.0M199.1 57.7l-1.7-0.2M194.8 74.5l-1.7-0.1M192.0 98.2l-1.7 0.6M197.3 117.4l-1.5 0.2M131.6 7.7l-2.0 0.5M139.1 37.5l-1.2 0.5M141.1 41.7l-1.1-0.1M139.7 41.3l-1.2-0.3M160.8 46.3l-1.7-0.0M6.8 90.1l-0.1 1.4M13.6 94.2l-0.7 1.5M23.3 86.0l-0.6 1.4M25.7 94.4l-0.8 1.3M37.9 101.8l-1.2 0.6M5.1 110.8l-1.1 1.4M19.0 120.8l-1.1 1.2M123.9 125.8l-0.7 1.6M134.1 122.1l-0.4 1.3M143.0 123.5l0.4 1.5M52.3 114.6l1.2-0.6M199.0 95.0l1.0-1.0M81.8 113.4l1.0-0.7"/>
<path stroke="#5a2e55" stroke-width="4.3" d="M25.6-2.4l-0.1 1.2M16.1 25.1l-0.4-1.2M11.3 52.8l0.1 1.3M20.6 54.3l0.1 1.6M30.3 55.3l0.1 0.9M33.5 50.8l-0.2 0.8M39.2 53.4l0.3 1.4M51.9 76.4l-0.1-1.1M21.5 77.7l0.1-0.8M80.0 77.0l0.9-0.1M135.4 20.4l-1.2-0.3M115.0 13.8l0.7 0.5M108.5 52.6l0.3 0.8M123.9 55.2l-0.7 1.3M184.0 23.8l-0.9-0.1M181.6 27.2l-0.7-0.1M184.7 29.7l-0.8-0.1M181.5 60.2l-0.3-1.2M156.0 36.5l0.8-0.4M190.1 94.5l-1.5 0.3M190.3 100.7l-1.0-0.2M162.7 72.3l0.8-0.2M41.3 110.1l-1.0-0.5M196.9 64.9l-1.5-0.2M190.8 67.2l-1.0 0.0M142.3 20.1l-1.2-0.2M144.4 31.8l-1.2 0.1M153.8 17.8l-0.8-0.2M162.0 29.6l-0.9-0.2M160.3 36.7l-0.9-0.0M159.5 56.1l-1.6-0.2M157.7 65.5l-1.6 0.4M156.4 68.3l-1.0-0.2M9.9 86.8l0.1 1.1M22.1 89.9l-0.6 0.8M37.3 101.9l-0.8 0.5M-0.2 110.6l-0.6 1.0M12.2 112.5l-0.6 0.7M128.5 125.4l-0.0 1.4M63.5 6.0l1.3-0.6M56.6 9.3l0.8-0.6M19.2 38.7l1.4-0.7M88.4 110.1l0.7-0.3M45.0 84.7l1.4-0.9M81.9 101.5l0.9-0.9"/>
<path stroke="#3a2a62" stroke-width="3.6" d="M31.5-2.1l0.2 1.5M27.4 54.6l-0.1 1.8M60.6 80.1l-1.2-1.7M30.7 82.3l-0.4-2.2M69.7 37.0l1.1-1.6M83.7 67.5l-0.1 1.8M130.3 83.7l-1.0-1.2M102.6 79.7l1.8-0.5M137.7 67.4l-1.8 1.1M189.8 50.5l-1.5 0.0M172.3 62.5l-0.6 1.3M175.4 62.8l-0.9 1.7M164.3 103.4l1.6-0.2M166.3 91.1l1.6-0.2M165.3 81.1l1.4 0.6M199.7 9.6l-1.4-0.3M191.3 31.5l-1.4-0.4M195.4 36.2l-1.7-0.5M197.7 38.3l-1.4 0.1M195.9 45.4l-2.3 0.3M200.3 48.2l-1.9-0.5M195.7 50.4l-1.6-0.1M201.5 81.2l-2.2 0.3M203.3 119.9l-1.5-0.4M142.3 20.2l-2.3-0.1M137.8 28.3l-2.1 0.0M162.1 12.8l-1.4-0.4M157.3 22.2l-2.3 0.4M157.8 58.4l-1.6 0.1M15.9 93.2l-0.0 2.1M24.5 98.2l-1.0 1.5M27.6 96.4l-0.9 1.3M27.1 98.2l-1.1 1.5M34.6 89.3l-0.3 1.9M42.5 106.0l-2.4 0.1M47.5 116.7l-2.0 1.0M2.0 110.8l-0.5 2.2M17.3 112.4l-0.5 1.5M16.6 120.5l-1.6 1.7M20.8 117.1l-1.4 1.7M131.1 126.1l-0.7 2.2M84.5 3.9l1.1-1.0M21.7 44.2l1.8-0.2M60.0 47.1l1.7-0.4M56.5 98.9l2.3-0.7M116.3 128.7l2.1-1.1M95.5 113.6l2.2-0.5M115.5 103.0l1.4-1.2M47.8 48.8l1.6-1.4"/>
<path stroke="#4e2a50" stroke-width="4.3" d="M40.0 5.1l-1.5-0.1M37.7 11.1l-1.0-0.6M0.1 18.7l0.9-0.2M54.5 5.5l-0.9 0.0M65.7 55.9l-0.8 1.3M68.2 57.5l-0.4 0.6M62.2 75.8l-0.6-1.0M59.5 77.0l-0.8-1.4M45.7 77.5l0.3-1.2M81.0 17.5l0.0 1.6M102.5 81.0l-1.4-0.4M85.9 89.1l0.6-0.7M125.4 4.3l0.6 1.4M119.6 88.5l-0.2-1.6M113.7 91.9l-0.4-1.2M186.6 34.7l-1.0 0.3M189.7 47.3l-1.2 0.4M180.3 65.0l-0.4-0.9M166.4 57.5l0.9-1.1M180.9 70.6l-0.6 0.7M191.9 86.6l-1.4 0.5M189.4 91.7l-0.8-0.1M191.9 110.0l-0.7-0.3M178.7 116.1l-0.0-1.4M179.8 120.5l-0.3-1.0M167.2 102.9l1.3 0.1M165.8 75.4l0.9-0.0M147.0 98.4l0.1 1.4M162.8 98.8l-0.1 1.7M34.1 95.8l0.6 0.8M197.6 0.1l-1.5-0.3M190.8 12.0l-1.4 0.2M194.0 19.2l-0.8-0.1M196.5 28.8l-1.4-0.2M197.5 42.9l-1.5 0.5M191.4 55.0l-1.4 0.3M194.8 57.6l-0.8 0.1M188.3 59.8l-1.2 0.3M195.5 79.2l-0.9 0.0M193.1 89.0l-1.7-0.3M188.4 96.2l-0.9 0.2M202.9 112.7l-1.3-0.4M196.7 112.9l-1.6-0.4M189.5 122.7l-1.2-0.1M203.8 124.6l-1.4-0.2M139.3 10.4l-0.9 0.1M162.2 26.8l-1.6 0.4M3.0 85.0l-0.3 1.4M6.2 81.9l-0.4 0.8M24.8 89.3l-0.7 1.4M31.4 98.8l-0.1 1.5M31.2 99.6l-0.2 1.7M48.8 121.6l-1.4 0.4M40.3 125.8l-0.9 0.6M1.9 105.7l-0.1 0.8M119.2 122.7l0.1 0.8M79.0 48.2l-0.5 1.6M43.9 29.4l0.9-0.6M60.6 126.2l0.7-0.3M5.1 34.2l0.7-0.2M79.1 102.8l1.2-0.5M90.4 126.5l1.5-0.6M151.2 28.2l1.0-0.2"/>
<path stroke="#44306e" stroke-width="4.3" d="M35.2 12.8l-1.5-0.6M1.6 24.1l0.5-0.5M42.7 77.2l0.2-0.8M36.8 77.5l0.1-1.2M87.9 36.6l-1.0-0.5M81.1 74.1l1.3-0.4M102.6 26.9l1.1 0.8M107.4 23.1l1.2 0.9M126.9 89.4l-0.3-0.9M102.9 87.8l1.1-0.9M98.7 81.1l1.1-0.7M98.4 77.9l1.3-0.3M186.5 32.2l-1.0 0.5M187.0 50.8l-1.1-0.0M167.8 59.9l1.2-0.6M170.2 110.6l0.6-0.7M168.2 111.6l0.7-0.4M165.4 72.2l1.4 0.3M197.1 12.1l-1.6-0.3M192.6 28.9l-1.1-0.1M192.2 33.7l-1.1-0.0M195.0 52.8l-1.1 0.0M188.3 71.9l-1.3 0.3M188.9 98.6l-1.6 0.1M193.0 110.6l-1.3-0.2M194.2 122.5l-0.9-0.1M138.4 5.6l-1.4 0.5M142.2 24.5l-1.4 0.8M143.1 31.8l-1.1 0.6M161.6 12.6l-1.4 0.1M11.8 90.8l-0.4 0.7M20.0 84.7l0.2 1.5M32.1 89.3l0.0 0.8M36.5 99.1l0.0 0.8M83.2 50.4l-0.0 1.0M102.1 9.4l1.2-0.4M59.2 40.3l1.2-0.5M81.8 95.8l1.0-0.8M164.6 127.6l0.7-0.6M76.3 42.2l1.0-0.7M133.3 11.5l0.8-0.4M67.7 99.6l1.3-0.7"/>
<path stroke="#44306e" stroke-width="4.0" d="M33.4 15.7l-0.8-1.1M54.6 10.9l-1.0-0.6M41.6 21.5l-0.3-1.4M11.8 55.9l-0.0 1.3M76.8 66.1l-1.5-0.4M73.7 41.4l1.1-1.2M89.4 66.7l0.2 1.2M99.0 70.5l-1.0 0.7M100.3 73.1l-0.8 1.1M113.2 46.6l-1.0-1.2M118.4 9.0l1.4 0.7M101.4 62.8l1.3 0.4M115.5 50.6l0.2 1.5M186.4 54.1l-1.9-0.3M164.8 53.3l1.2-0.8M182.1 115.9l-0.7-1.2M162.9 94.4l1.9-0.1M150.9 122.0l-0.5-1.2M142.8 117.7l1.3-1.4M42.6 106.4l-1.1-0.3M36.8 112.3l-0.3-1.4M190.0 23.8l-1.9 0.6M196.9 24.1l-1.1-0.3M195.4 36.0l-1.5-0.1M201.6 38.3l-1.3-0.2M195.9 45.5l-1.1 0.2M196.6 79.3l-1.5-0.3M199.6 83.9l-1.1-0.2M192.6 108.3l-1.4-0.4M201.7 110.2l-1.2-0.1M142.7 29.8l-1.6-0.2M158.6 15.1l-1.4 0.2M160.5 19.7l-1.6 0.5M161.3 53.5l-1.3-0.1M10.9 83.1l-0.5 1.7M8.3 114.8l-0.6 1.3M85.8 49.5l0.0 1.9M42.1 45.8l0.9-0.9M60.7 123.8l1.6-0.5M200.0 6.2l1.0-1.0M29.1 15.9l1.9-0.5M161.7 1.8l1.4-0.1M116.9 108.9l1.3-1.2M167.8 62.8l1.5-1.1"/>
<path stroke="#3a2a62" stroke-width="4.0" d="M18.6 23.2l-0.5-1.4M14.0 26.8l-1.3-1.6M32.5 11.8l1.4-0.1M31.5 2.8l1.2-0.1M73.4 65.3l-1.4-1.1M48.8 76.8l0.1-2.0M68.0 17.8l0.5 1.4M77.3 17.2l-0.0 1.4M93.3 91.4l-0.3-1.1M83.3 87.2l1.5-1.2M130.5 28.3l-1.2-1.1M120.0 39.6l-1.0-0.8M137.1 76.2l-2.0-0.3M125.5 87.4l-0.7-1.1M107.9 86.9l0.5-1.5M105.7 84.1l1.1-1.3M179.1 17.8l-1.0 1.8M185.4 26.3l-1.4 0.4M157.6 29.7l1.5-1.1M155.1 30.5l1.6-0.9M193.0 91.2l-1.5 0.2M192.7 94.2l-1.3 0.4M171.4 113.1l1.2-0.6M165.1 87.3l1.1 0.2M156.6 120.3l-0.3-1.9M199.6 4.5l-1.4 0.3M189.7 21.8l-1.3-0.2M200.4 26.0l-1.8 0.5M187.4 60.3l-1.8-0.6M196.1 62.2l-1.8 0.3M200.4 91.2l-1.8-0.5M198.5 122.1l-1.1 0.3M134.1 2.0l-1.5 0.2M134.1 9.4l-1.1 0.3M141.3 22.7l-1.2-0.1M137.4 25.6l-1.2 0.6M139.3 40.1l-1.5 0.3M163.6 62.6l-1.6 0.7M3.1 84.9l-0.4 1.3M15.5 84.8l-0.6 1.2M35.9 99.8l-1.0 0.4M40.5 113.7l-1.2 0.3M41.7 128.5l-2.0-0.2M7.3 117.5l-1.0 1.2M12.4 118.3l-1.4 1.4M16.0 120.6l-0.5 1.8M126.9 122.1l-0.6 1.5M140.9 126.1l-0.5 1.8M78.3 42.6l-0.4 1.7M131.6 83.8l1.0-0.8M27.5 26.9l1.7-1.1M71.5 101.1l1.2-0.3M39.0 124.3l2.0-0.4M29.0 28.0l1.5-0.9"/>
<path stroke="#3a2a62" stroke-width="4.3" d="M10.1 26.3l-0.3-1.0M33.9 16.1l1.6-0.5M32.0 8.8l1.6-0.2M1.8 58.4l0.9 1.2M17.2 51.2l-0.0 1.6M33.4 54.6l-0.2 0.9M36.3 55.4l0.2 1.0M45.2 53.5l0.3 1.7M51.3 54.5l0.1 0.8M54.4 54.4l-0.1 0.8M74.4 71.5l-1.1-0.1M21.6 81.1l-0.1-0.8M84.0 18.4l0.1 1.0M72.4 38.5l0.7-0.7M127.1 30.3l-0.8-1.4M125.3 36.0l-1.4-0.5M105.2 25.0l0.9 0.9M113.5 16.3l1.0 1.2M133.8 72.4l-1.1-0.7M135.5 79.2l-1.3-0.7M128.9 53.4l-0.2 0.7M133.8 65.9l-1.2-0.0M166.9 52.1l1.1-0.3M156.7 24.2l1.6 0.1M153.4 23.6l1.0 0.4M157.5 21.0l1.4 0.5M180.7 67.3l-0.6 0.5M191.8 83.5l-1.1 0.2M191.1 112.8l-1.5-0.3M182.5 119.7l0.1-0.8M166.0 94.2l1.4-0.3M162.4 78.3l1.6-0.1M156.8 98.5l-0.0 1.2M159.5 118.7l-0.4-1.1M137.7 111.5l0.8-0.1M135.0 109.2l1.0-0.5M193.0-0.2l-1.0 0.4M189.2 19.5l-1.5-0.3M198.1 40.8l-0.9 0.0M200.8 52.7l-1.0 0.1M189.1 57.6l-0.7-0.0M187.2 69.7l-0.7-0.2M194.2 74.2l-1.0 0.4M200.7 86.1l-1.1 0.1M193.4 103.2l-1.7 0.2M141.1 17.2l-0.8 0.4M141.8 17.1l-1.6 0.5M137.5 45.6l-1.7-0.2M137.9 50.8l-0.9-0.2M160.5 17.7l-1.5-0.4M156.3 22.5l-1.0-0.1M156.9 25.0l-1.2-0.3M159.9 34.5l-1.3-0.3M1.3 92.9l0.0 1.5M34.6 107.8l-1.4-0.0M39.7 109.0l-1.2 0.2M47.6 114.4l-1.1 0.4M45.2 119.9l-1.0 0.3M8.2 109.5l-0.5 1.3M145.7 123.5l-0.2 0.8M52.6 38.8l0.9-0.1M49.7 34.6l0.7-0.5M62.2 91.0l0.7-0.2M155.9 42.5l0.9-0.6M89.1 95.7l1.1-0.4M155.8 36.8l0.9-0.8M150.2 65.7l0.9-0.5M89.1 31.3l1.2-0.3"/>
<path stroke="#3a2870" stroke-width="4.3" d="M-0.3 12.4l1.0 0.3M-0.2 9.6l0.7-0.1M47.3 19.5l-0.2-1.2M3.1 64.3l1.2 0.9M14.9 56.6l0.2 1.4M54.5 51.5l-0.2 1.0M36.8 81.0l0.2-1.3M87.3 17.9l-0.5 1.3M95.4 25.8l-1.4-1.0M63.7 26.1l0.8-0.8M81.1 79.9l0.9-0.1M135.7 17.1l-1.1-0.6M116.7 92.4l-0.4-1.5M105.2 58.6l0.5 0.5M118.8 50.2l-0.5 1.4M169.8 54.7l1.1-0.4M162.4 47.8l1.2-0.7M163.0 43.9l1.2-0.2M160.6 34.9l0.9-0.6M193.4 107.2l-1.0-0.1M187.9 108.2l-1.1-0.5M167.3 97.0l0.8-0.1M137.8 99.2l0.2 1.6M191.3 9.7l-1.6-0.2M200.2 11.7l-0.8 0.2M189.0 14.4l-1.2 0.2M192.6 16.7l-0.7 0.3M198.2 19.1l-1.0 0.0M189.6 21.6l-0.8 0.3M189.5 33.6l-1.3 0.3M193.2 33.5l-0.8 0.3M197.2 100.6l-1.2 0.3M141.2 22.5l-1.1 0.3M157.8 7.8l-1.3 0.4M160.9 48.7l-0.8-0.0M160.5 51.1l-1.0-0.1M5.2 86.9l-0.6 1.5M16.9 88.7l0.0 0.8M19.1 91.2l-0.6 1.1M29.9 96.8l-0.5 0.8M41.7 105.9l-1.1 0.6M5.3 109.8l-0.3 1.1M22.6 123.4l-0.2 1.5M90.0 46.1l-0.8 1.2M94.5 48.7l-0.6 0.9M122.2 86.5l0.9-0.9M67.2 93.5l1.2-0.8M6.7 92.4l0.6-0.6"/>
<path stroke="#4e2a50" stroke-width="4.0" d="M4.9 57.1l0.8 1.6M23.8 53.7l-0.2 1.7M45.2 50.2l0.3 1.3M70.6 54.2l-0.8 0.9M54.7 77.4l0.2-1.2M52.2 81.6l-0.5-1.3M48.8 81.8l0.3-1.8M33.5 78.1l0.3-1.8M33.5 81.5l0.1-2.0M15.5 81.6l0.0-1.7M102.1 78.1l-1.7-0.7M95.8 90.1l-0.2-1.6M136.2 11.0l-0.9 0.6M110.6 48.6l-0.5-1.2M98.5 39.8l1.5 0.8M99.5 37.3l1.5 0.0M132.0 85.7l-1.4-1.1M126.1 57.0l-0.8 1.6M133.9 69.0l-1.6 0.2M164.4 13.5l0.7 1.2M181.5 33.0l-1.1 0.5M187.6 40.7l-1.7 0.3M186.0 43.9l-1.3 0.8M157.6 39.0l1.7-0.5M188.9 84.4l-1.0 0.3M166.2 69.4l1.2 0.0M44.5 103.8l-1.8-0.6M197.0 14.3l-1.7-0.0M200.2 28.8l-1.9-0.4M194.3 43.3l-1.3-0.3M194.5 50.6l-1.9-0.4M194.0 55.2l-1.6 0.1M196.7 81.4l-1.3 0.1M196.6 83.6l-1.7 0.6M191.4 84.2l-1.8-0.1M193.1 88.9l-1.2-0.1M191.0 95.9l-1.4 0.6M203.5 114.8l-1.1 0.2M189.9 120.4l-1.5-0.3M198.0 124.7l-1.1-0.0M203.4 126.9l-1.1-0.1M132.4 2.2l-1.8 0.9M137.1 48.4l-1.6-1.2M142.4 52.1l-1.9-0.6M161.1 32.1l-1.1-0.3M17.6 85.1l-0.1 1.4M33.0 102.2l-0.3 1.3M40.2 104.0l-1.3-0.0M44.5 103.1l-1.5-0.0M37.2 114.6l-1.4-0.1M38.6 128.7l-1.3 0.6M22.2 124.0l-0.2 1.8M77.8 127.0l1.7-0.3M67.6 123.1l1.8-0.9M54.8 114.0l1.7-0.8M133.8 36.1l1.4-0.6M44.6 85.9l1.3-0.2M121.2 112.5l0.9-0.6"/>
<path stroke="#3a2870" stroke-width="4.0" d="M19.9 51.2l0.7 1.9M43.0 81.8l-0.2-1.4M18.7 81.3l-0.3-1.9M90.2 16.6l-0.1 1.8M82.0 43.8l-1.2-0.7M68.0 33.8l1.0-0.4M64.4 29.2l1.4-1.1M98.2 88.2l-0.2-1.5M80.9 71.1l1.3-0.4M133.5 23.3l-1.2-1.5M117.7 41.9l-1.1-1.5M119.4 91.5l0.1-1.1M97.7 61.8l1.4 0.2M137.0 64.5l-1.2 0.8M178.7 14.2l-1.5 1.3M188.6 43.6l-1.5 0.2M163.1 40.8l1.1-0.8M155.5 33.6l0.9-0.8M189.6 97.7l-1.1-0.1M161.8 97.4l1.7 0.4M161.6 87.1l1.7 0.3M153.8 97.4l0.1 1.9M169.6 113.5l-1.3-0.5M139.8 117.1l1.0-1.0M31.7 110.0l1.7-1.0M201.0 47.8l-1.4 0.4M188.9 67.4l-1.9-0.3M191.0 69.4l-1.6 0.4M199.0 93.6l-1.8-0.3M203.7 126.8l-1.0 0.1M133.8 17.1l-1.1 0.2M143.1 29.6l-1.1-0.0M142.0 34.8l-1.4-0.2M162.5 34.4l-1.4-0.2M164.6 60.3l-1.9 0.3M162.4 62.8l-1.1 0.3M6.0 82.8l-0.4 1.6M31.7 91.8l-1.0 1.5M32.6 100.7l-1.3 0.4M36.3 109.6l-1.7 0.5M44.7 110.5l-1.3-0.1M39.5 123.5l-1.6 0.8M2.1 111.2l-0.8 1.6M15.3 111.7l-0.9 1.3M16.8 114.4l-1.0 1.2M21.1 121.4l-0.6 1.4M55.4 102.6l1.6-0.7M55.2 28.9l1.1-0.8M50.6 97.6l1.2-0.8M73.3 86.0l1.4-0.4M59.5 18.4l1.1-0.8M139.7 93.8l1.1-0.3M116.2 8.7l1.3-1.0M201.5 68.2l1.6-1.2"/>
<path stroke="#44306e" stroke-width="3.6" d="M24.7 82.0l-0.4-2.3M6.0 77.2l0.9-1.6M79.8 83.0l2.1-0.1M126.0 33.0l-1.4-1.4M108.7 20.1l1.4 1.3M128.9 5.1l0.4 1.4M110.0 54.6l0.7 1.5M115.5 52.7l0.2 2.2M163.4 10.1l0.9 1.7M174.5 14.3l-1.5 1.7M181.7 14.6l-0.5 1.4M181.8 24.1l-1.6 0.1M182.6 29.9l-1.7 0.4M176.1 59.2l-0.9 2.0M183.3 65.7l-1.7 1.6M186.6 70.7l-1.4 1.4M186.9 78.6l-2.1 1.0M165.6 99.9l1.9 0.4M168.1 101.2l-1.8 1.3M145.8 119.8l0.2-1.8M136.1 105.5l1.6 0.0M197.8-0.4l-2.1 0.7M191.4 2.4l-1.5 0.0M187.6 4.8l-2.0 0.3M190.2 31.0l-2.2 0.7M198.2 35.6l-2.3 0.6M195.5 52.6l-1.7 0.3M194.1 55.4l-1.7-0.5M197.3 67.2l-2.1-0.0M191.8 79.0l-1.6 0.5M193.6 96.0l-2.1 0.1M194.6 108.1l-2.2-0.1M135.0 3.9l-1.4 0.9M140.5 10.1l-1.7 0.3M162.5 43.8l-1.7-0.1M155.1 44.5l-1.9-0.6M159.6 46.2l-1.9 0.3M160.7 55.9l-1.4 0.1M-0.9 91.6l0.0 1.4M14.6 89.6l-0.9 1.8M37.2 119.5l-1.9 0.0M92.0 47.7l-0.4 2.0M99.7 12.3l1.6-0.5M80.0 117.2l2.0-1.0M112.2 44.6l1.5-1.0M50.0 100.5l1.5-1.5M191.2 23.0l1.8-1.1M190.5 114.5l1.3-0.7M46.1 35.3l1.0-1.0"/>
</g>
<g filter="url(#blur07)">
<path d="M3.0,9.0 C4.5,6.5 8.8,6.0 12.0,5.0 C15.2,4.0 18.3,3.5 22.0,3.0 C25.7,2.5 31.8,1.2 34.0,2.0 C36.2,2.8 35.7,6.0 35.0,8.0 C34.3,10.0 32.8,12.0 30.0,14.0 C27.2,16.0 21.7,18.3 18.0,20.0 C14.3,21.7 10.5,24.0 8.0,24.0 C5.5,24.0 3.8,22.5 3.0,20.0 C2.2,17.5 1.5,11.5 3.0,9.0Z" fill="none" stroke="#b8aecb" stroke-width="4.5" stroke-linejoin="round"/>
<path d="M36.0,0.0 C38.3,-2.2 47.5,-2.3 50.0,-1.0 C52.5,0.3 51.5,5.2 51.0,8.0 C50.5,10.8 48.8,14.2 47.0,16.0 C45.2,17.8 41.8,19.7 40.0,19.0 C38.2,18.3 36.7,15.2 36.0,12.0 C35.3,8.8 33.7,2.2 36.0,0.0Z" fill="none" stroke="#b8aecb" stroke-width="4.5" stroke-linejoin="round"/>
<path d="M6.0,67.0 C5.5,65.1 8.8,62.3 12.0,61.0 C15.2,59.7 19.5,59.3 25.0,59.0 C30.5,58.7 38.8,59.0 45.0,59.0 C51.2,59.0 58.2,58.3 62.0,59.0 C65.8,59.7 67.3,61.3 68.0,63.0 C68.7,64.7 68.2,67.4 66.0,69.0 C63.8,70.6 60.2,71.8 55.0,72.5 C49.8,73.2 41.7,73.0 35.0,73.0 C28.3,73.0 19.8,73.5 15.0,72.5 C10.2,71.5 6.5,68.9 6.0,67.0Z" fill="none" stroke="#b8aecb" stroke-width="4.5" stroke-linejoin="round"/>
<path d="M66.0,23.0 C66.8,20.8 73.8,21.2 78.0,21.0 C82.2,20.8 89.3,20.5 91.0,22.0 C92.7,23.5 89.5,27.5 88.0,30.0 C86.5,32.5 83.7,35.2 82.0,37.0 C80.3,38.8 79.5,41.5 78.0,41.0 C76.5,40.5 75.0,37.0 73.0,34.0 C71.0,31.0 65.2,25.2 66.0,23.0Z" fill="none" stroke="#b8aecb" stroke-width="4.5" stroke-linejoin="round"/>
<path d="M84.0,70.0 C85.5,67.3 90.5,67.2 93.0,68.0 C95.5,68.8 98.2,72.0 99.0,75.0 C99.8,78.0 99.5,83.5 98.0,86.0 C96.5,88.5 92.3,90.3 90.0,90.0 C87.7,89.7 85.0,87.3 84.0,84.0 C83.0,80.7 82.5,72.7 84.0,70.0Z" fill="none" stroke="#b8aecb" stroke-width="4.5" stroke-linejoin="round"/>
<path d="M130.0,8.0 C131.7,8.7 134.8,10.7 134.0,14.0 C133.2,17.3 128.2,23.7 125.0,28.0 C121.8,32.3 118.2,36.8 115.0,40.0 C111.8,43.2 108.3,46.3 106.0,47.0 C103.7,47.7 101.3,46.5 101.0,44.0 C100.7,41.5 101.7,36.0 104.0,32.0 C106.3,28.0 111.7,23.7 115.0,20.0 C118.3,16.3 121.5,12.0 124.0,10.0 C126.5,8.0 128.3,7.3 130.0,8.0Z" fill="none" stroke="#b8aecb" stroke-width="4.5" stroke-linejoin="round"/>
<path d="M130.0,71.0 C130.0,73.6 129.0,76.8 127.5,78.9 C126.0,81.1 123.4,83.0 121.0,83.8 C118.6,84.7 115.4,84.7 113.0,83.8 C110.6,83.0 108.0,81.1 106.5,78.9 C105.0,76.8 104.0,73.6 104.0,71.0 C104.0,68.4 105.0,65.2 106.5,63.1 C108.0,60.9 110.6,59.0 113.0,58.2 C115.4,57.3 118.6,57.3 121.0,58.2 C123.4,59.0 126.0,60.9 127.5,63.1 C129.0,65.2 130.0,68.4 130.0,71.0Z" fill="none" stroke="#b8aecb" stroke-width="4.5" stroke-linejoin="round"/>
<path d="M163.0,19.0 C164.3,17.3 167.8,16.5 170.0,17.0 C172.2,17.5 174.7,19.2 176.0,22.0 C177.3,24.8 177.2,30.0 178.0,34.0 C178.8,38.0 180.3,42.5 181.0,46.0 C181.7,49.5 182.7,53.2 182.0,55.0 C181.3,56.8 178.7,57.8 177.0,57.0 C175.3,56.2 173.8,53.2 172.0,50.0 C170.2,46.8 167.7,41.8 166.0,38.0 C164.3,34.2 162.5,30.2 162.0,27.0 C161.5,23.8 161.7,20.7 163.0,19.0Z" fill="none" stroke="#b8aecb" stroke-width="4.5" stroke-linejoin="round"/>
<path d="M171.0,68.0 C172.0,64.8 174.3,67.3 176.0,69.0 C177.7,70.7 179.5,74.5 181.0,78.0 C182.5,81.5 184.2,86.0 185.0,90.0 C185.8,94.0 186.5,98.5 186.0,102.0 C185.5,105.5 183.5,109.3 182.0,111.0 C180.5,112.7 178.7,113.2 177.0,112.0 C175.3,110.8 173.2,108.0 172.0,104.0 C170.8,100.0 170.2,94.0 170.0,88.0 C169.8,82.0 170.0,71.2 171.0,68.0Z" fill="none" stroke="#b8aecb" stroke-width="4.5" stroke-linejoin="round"/>
<path d="M139.0,104.0 C140.5,102.0 146.0,101.3 150.0,101.0 C154.0,100.7 160.0,100.8 163.0,102.0 C166.0,103.2 168.0,105.8 168.0,108.0 C168.0,110.2 166.0,113.5 163.0,115.0 C160.0,116.5 153.7,117.3 150.0,117.0 C146.3,116.7 142.8,115.2 141.0,113.0 C139.2,110.8 137.5,106.0 139.0,104.0Z" fill="none" stroke="#b8aecb" stroke-width="4.5" stroke-linejoin="round"/>
<path d="M41.0,103.0 C41.0,104.4 40.7,106.0 40.2,107.1 C39.8,108.2 39.0,109.2 38.2,109.7 C37.5,110.1 36.5,110.1 35.8,109.7 C35.0,109.2 34.2,108.2 33.8,107.1 C33.3,106.0 33.0,104.4 33.0,103.0 C33.0,101.6 33.3,100.0 33.8,98.9 C34.2,97.8 35.0,96.8 35.8,96.3 C36.5,95.9 37.5,95.9 38.2,96.3 C39.0,96.8 39.8,97.8 40.2,98.9 C40.7,100.0 41.0,101.6 41.0,103.0Z" fill="none" stroke="#b8aecb" stroke-width="4.5" stroke-linejoin="round"/>
<path d="M3.0,9.0 C4.5,6.5 8.8,6.0 12.0,5.0 C15.2,4.0 18.3,3.5 22.0,3.0 C25.7,2.5 31.8,1.2 34.0,2.0 C36.2,2.8 35.7,6.0 35.0,8.0 C34.3,10.0 32.8,12.0 30.0,14.0 C27.2,16.0 21.7,18.3 18.0,20.0 C14.3,21.7 10.5,24.0 8.0,24.0 C5.5,24.0 3.8,22.5 3.0,20.0 C2.2,17.5 1.5,11.5 3.0,9.0Z" fill="#f4f0f4"/>
<path d="M36.0,0.0 C38.3,-2.2 47.5,-2.3 50.0,-1.0 C52.5,0.3 51.5,5.2 51.0,8.0 C50.5,10.8 48.8,14.2 47.0,16.0 C45.2,17.8 41.8,19.7 40.0,19.0 C38.2,18.3 36.7,15.2 36.0,12.0 C35.3,8.8 33.7,2.2 36.0,0.0Z" fill="#f4f0f4"/>
<path d="M6.0,67.0 C5.5,65.1 8.8,62.3 12.0,61.0 C15.2,59.7 19.5,59.3 25.0,59.0 C30.5,58.7 38.8,59.0 45.0,59.0 C51.2,59.0 58.2,58.3 62.0,59.0 C65.8,59.7 67.3,61.3 68.0,63.0 C68.7,64.7 68.2,67.4 66.0,69.0 C63.8,70.6 60.2,71.8 55.0,72.5 C49.8,73.2 41.7,73.0 35.0,73.0 C28.3,73.0 19.8,73.5 15.0,72.5 C10.2,71.5 6.5,68.9 6.0,67.0Z" fill="#f4f0f4"/>
<path d="M66.0,23.0 C66.8,20.8 73.8,21.2 78.0,21.0 C82.2,20.8 89.3,20.5 91.0,22.0 C92.7,23.5 89.5,27.5 88.0,30.0 C86.5,32.5 83.7,35.2 82.0,37.0 C80.3,38.8 79.5,41.5 78.0,41.0 C76.5,40.5 75.0,37.0 73.0,34.0 C71.0,31.0 65.2,25.2 66.0,23.0Z" fill="#f4f0f4"/>
<path d="M84.0,70.0 C85.5,67.3 90.5,67.2 93.0,68.0 C95.5,68.8 98.2,72.0 99.0,75.0 C99.8,78.0 99.5,83.5 98.0,86.0 C96.5,88.5 92.3,90.3 90.0,90.0 C87.7,89.7 85.0,87.3 84.0,84.0 C83.0,80.7 82.5,72.7 84.0,70.0Z" fill="#f4f0f4"/>
<path d="M130.0,8.0 C131.7,8.7 134.8,10.7 134.0,14.0 C133.2,17.3 128.2,23.7 125.0,28.0 C121.8,32.3 118.2,36.8 115.0,40.0 C111.8,43.2 108.3,46.3 106.0,47.0 C103.7,47.7 101.3,46.5 101.0,44.0 C100.7,41.5 101.7,36.0 104.0,32.0 C106.3,28.0 111.7,23.7 115.0,20.0 C118.3,16.3 121.5,12.0 124.0,10.0 C126.5,8.0 128.3,7.3 130.0,8.0Z" fill="#f4f0f4"/>
<path d="M130.0,71.0 C130.0,73.6 129.0,76.8 127.5,78.9 C126.0,81.1 123.4,83.0 121.0,83.8 C118.6,84.7 115.4,84.7 113.0,83.8 C110.6,83.0 108.0,81.1 106.5,78.9 C105.0,76.8 104.0,73.6 104.0,71.0 C104.0,68.4 105.0,65.2 106.5,63.1 C108.0,60.9 110.6,59.0 113.0,58.2 C115.4,57.3 118.6,57.3 121.0,58.2 C123.4,59.0 126.0,60.9 127.5,63.1 C129.0,65.2 130.0,68.4 130.0,71.0Z" fill="#f4f0f4"/>
<path d="M163.0,19.0 C164.3,17.3 167.8,16.5 170.0,17.0 C172.2,17.5 174.7,19.2 176.0,22.0 C177.3,24.8 177.2,30.0 178.0,34.0 C178.8,38.0 180.3,42.5 181.0,46.0 C181.7,49.5 182.7,53.2 182.0,55.0 C181.3,56.8 178.7,57.8 177.0,57.0 C175.3,56.2 173.8,53.2 172.0,50.0 C170.2,46.8 167.7,41.8 166.0,38.0 C164.3,34.2 162.5,30.2 162.0,27.0 C161.5,23.8 161.7,20.7 163.0,19.0Z" fill="#f4f0f4"/>
<path d="M171.0,68.0 C172.0,64.8 174.3,67.3 176.0,69.0 C177.7,70.7 179.5,74.5 181.0,78.0 C182.5,81.5 184.2,86.0 185.0,90.0 C185.8,94.0 186.5,98.5 186.0,102.0 C185.5,105.5 183.5,109.3 182.0,111.0 C180.5,112.7 178.7,113.2 177.0,112.0 C175.3,110.8 173.2,108.0 172.0,104.0 C170.8,100.0 170.2,94.0 170.0,88.0 C169.8,82.0 170.0,71.2 171.0,68.0Z" fill="#f4f0f4"/>
<path d="M139.0,104.0 C140.5,102.0 146.0,101.3 150.0,101.0 C154.0,100.7 160.0,100.8 163.0,102.0 C166.0,103.2 168.0,105.8 168.0,108.0 C168.0,110.2 166.0,113.5 163.0,115.0 C160.0,116.5 153.7,117.3 150.0,117.0 C146.3,116.7 142.8,115.2 141.0,113.0 C139.2,110.8 137.5,106.0 139.0,104.0Z" fill="#f4f0f4"/>
<path d="M41.0,103.0 C41.0,104.4 40.7,106.0 40.2,107.1 C39.8,108.2 39.0,109.2 38.2,109.7 C37.5,110.1 36.5,110.1 35.8,109.7 C35.0,109.2 34.2,108.2 33.8,107.1 C33.3,106.0 33.0,104.4 33.0,103.0 C33.0,101.6 33.3,100.0 33.8,98.9 C34.2,97.8 35.0,96.8 35.8,96.3 C36.5,95.9 37.5,95.9 38.2,96.3 C39.0,96.8 39.8,97.8 40.2,98.9 C40.7,100.0 41.0,101.6 41.0,103.0Z" fill="#f4f0f4"/>
</g>
</g></g>
<g transform="translate(531,341)">
<clipPath id="cp3"><rect width="208" height="129"/></clipPath>
<g clip-path="url(#cp3)">
<rect width="208" height="129" fill="#cdbfca"/>
<g filter="url(#blur4)">
<ellipse cx="14" cy="55" rx="16" ry="28" fill="#e8e0e6" opacity="0.95"/>
<ellipse cx="175" cy="16" rx="32" ry="13" fill="#e6dee4" opacity="0.95"/>
<ellipse cx="166" cy="95" rx="18" ry="16" fill="#e4dce2" opacity="0.9"/>
<ellipse cx="8" cy="112" rx="9" ry="14" fill="#e4dce2" opacity="0.9"/>
<ellipse cx="111" cy="61" rx="6" ry="5" fill="#ece4ea" opacity="0.9"/>
</g>
<g filter="url(#blur1)" opacity="0.7">
<path fill="none" stroke-linecap="round" stroke="#8f8098" stroke-width="1.0" d="M0.3 71.8l10.0 -4.0M2.3 28.0l10.5 -5.6M26.1 74.7l11.7 -3.4M-5.0 77.2l11.6 -8.1M9.7 63.5l9.5 -5.2M18.1 56.6l6.4 -2.0M15.9 62.6l7.2 -2.9M5.0 72.1l14.0 -5.3M9.4 53.2l12.6 -7.6M12.0 56.6l11.9 -6.1M2.0 52.4l12.0 -3.5M23.9 59.3l9.9 -6.6M17.3 28.4l14.6 -5.5M0.9 53.2l14.6 -3.6M-0.7 54.1l10.5 -6.7M21.0 53.8l13.3 -5.8M20.0 39.1l8.6 -3.5M7.9 46.5l6.9 -1.6M9.5 79.0l8.2 -4.3M3.2 83.1l6.5 -2.3M6.7 68.2l8.1 -3.0M10.1 42.8l12.3 -4.6M18.2 69.7l6.5 -2.6M-5.2 79.3l12.6 -3.3M22.4 79.8l5.9 -2.7M24.9 86.0l9.5 -7.0M7.8 80.6l12.2 -2.9M6.3 66.7l6.5 -1.8M7.8 71.8l10.6 -3.8M149.1 4.0l11.9 -6.3M194.8 5.5l10.7 -6.1M145.8 9.4l11.9 -5.6M132.9 30.3l10.8 -2.9M153.9 32.6l7.2 -3.5M185.1 22.7l12.9 -8.2M188.2 10.1l7.8 -3.7M136.1 11.8l7.6 -5.3M145.9 31.0l7.1 -3.6M148.7 6.0l6.0 -1.5M163.6 12.5l13.9 -3.9M150.5 26.3l12.5 -4.6M201.2 17.9l10.5 -3.8M179.0 15.4l8.4 -3.2M167.0 3.9l12.7 -4.6M163.7 28.0l10.0 -7.2M165.7 91.1l13.6 -5.0M164.6 102.6l7.5 -3.0M141.7 108.1l10.4 -3.8M175.0 85.7l10.6 -4.6M176.6 103.7l11.4 -7.4M140.8 91.8l12.1 -7.4M162.6 112.3l13.7 -3.6M160.8 89.3l11.4 -4.9M153.8 89.4l10.0 -5.4M155.2 97.5l12.0 -3.2M146.8 86.8l14.2 -6.3M169.6 102.8l7.4 -5.0M168.5 95.1l11.5 -6.7M161.3 90.8l12.5 -8.2M146.6 101.2l12.0 -4.3M143.6 104.4l13.3 -5.2"/>
<path fill="none" stroke-linecap="round" stroke="#8f8098" stroke-width="2.0" d="M27.9 56.8l7.6 -1.9M0.1 89.8l13.1 -3.6M-5.1 31.7l10.4 -4.3M27.6 75.3l7.7 -3.7M20.7 84.3l9.5 -3.9M0.8 75.3l11.4 -3.9M-1.9 73.8l13.8 -3.2M12.7 63.6l6.0 -2.7M17.9 91.1l11.3 -6.4M13.3 68.1l15.0 -4.8M15.0 28.2l9.7 -3.8M13.9 83.7l5.1 -3.6M7.2 43.5l13.3 -4.9M7.5 67.1l8.9 -5.5M18.0 70.3l12.5 -3.7M27.1 92.2l8.7 -5.6M6.7 42.6l7.2 -2.2M3.0 51.4l6.1 -4.6M8.3 85.4l10.1 -6.1M-3.9 30.1l11.6 -5.4M4.4 42.0l12.0 -5.6M14.6 41.5l14.3 -4.7M199.6 28.3l7.6 -5.7M199.1 18.3l7.8 -2.2M197.1 9.5l8.8 -3.7M198.2 25.7l13.0 -3.1M136.9 32.8l13.6 -6.2M163.7 14.7l11.1 -4.5M135.9 11.8l10.4 -7.1M185.1 33.4l10.0 -6.9M135.2 26.3l10.3 -4.3M147.6 25.0l10.3 -4.9M158.8 16.6l12.3 -4.8M177.9 29.0l6.1 -3.7M179.3 22.1l6.0 -4.1M182.9 19.7l6.9 -4.8M170.7 10.9l12.4 -6.2M179.4 29.6l13.8 -7.2M187.2 6.5l6.2 -3.5M192.2 26.1l5.9 -2.1M149.9 10.4l11.5 -3.7M148.5 106.2l8.2 -4.2M156.0 108.2l12.9 -3.8M184.9 110.5l6.6 -1.8M164.6 79.9l15.0 -5.1M152.0 115.5l12.6 -8.4M161.4 96.2l7.7 -3.5M161.5 107.1l8.6 -3.2M168.1 88.5l6.2 -2.9M148.7 98.8l10.4 -3.8M161.5 108.8l11.5 -4.6M159.4 103.8l8.0 -3.1M146.2 103.6l14.9 -3.5M145.8 102.3l7.4 -2.0M139.8 81.4l13.3 -5.1M145.9 92.2l8.1 -5.5M155.7 93.3l8.2 -2.9M178.1 81.4l14.3 -4.8"/>
<path fill="none" stroke-linecap="round" stroke="#8f8098" stroke-width="1.5" d="M-1.6 75.5l12.5 -3.3M24.8 62.3l11.7 -4.3M26.3 31.9l10.6 -4.6M1.6 86.4l9.7 -2.7M25.8 60.3l9.5 -5.3M-6.6 33.8l15.0 -5.4M14.1 82.5l11.9 -6.6M4.1 37.0l7.5 -2.0M7.2 90.7l11.6 -2.9M23.0 30.7l7.6 -4.6M13.5 74.8l6.5 -4.8M1.8 50.2l13.3 -8.0M-1.6 35.0l7.8 -4.6M9.1 84.2l7.2 -2.9M25.1 76.3l5.8 -1.9M5.3 71.9l5.6 -3.2M15.8 90.7l8.8 -6.2M4.3 58.2l8.2 -3.8M23.4 88.3l5.9 -1.4M-4.0 46.3l13.0 -3.3M24.7 58.1l10.9 -5.4M-2.2 65.1l9.2 -4.8M4.5 26.9l6.3 -2.8M-3.7 80.3l11.3 -4.7M18.6 71.0l6.3 -4.1M1.4 32.8l9.2 -2.8M8.7 29.6l8.2 -5.0M11.5 69.4l11.0 -7.1M12.5 82.5l5.5 -2.8M15.8 34.3l7.0 -4.0M169.0 27.3l14.0 -4.9M192.1 13.3l5.2 -3.5M151.7 7.3l11.3 -4.4M187.5 25.6l7.9 -3.1M192.7 8.5l5.8 -2.8M146.3 27.8l9.1 -5.0M184.3 24.5l9.5 -2.2M134.1 26.1l8.6 -2.5M143.5 9.6l13.3 -4.7M180.9 1.8l7.1 -1.9M188.4 26.4l7.7 -2.0M144.6 8.3l10.5 -7.5M158.4 22.1l9.0 -3.6M147.1 29.0l10.0 -7.4M190.2 26.6l13.0 -3.6M166.9 6.7l8.8 -2.8M157.3 28.4l8.9 -6.5M152.9 13.7l7.8 -3.7M179.3 32.9l10.9 -7.9M168.9 4.4l7.9 -1.9M182.6 3.8l11.2 -4.5M193.1 33.3l8.2 -4.9M145.9 23.5l7.5 -2.1M194.8 8.9l9.0 -2.1M149.3 6.3l6.5 -4.8M141.9 21.3l13.7 -5.4M162.4 13.7l6.7 -2.4M129.4 15.4l14.1 -4.6M178.1 88.3l5.7 -1.9M181.5 81.9l14.7 -3.6M170.8 115.1l11.1 -7.1M148.2 101.7l6.1 -2.5M141.8 93.8l14.2 -3.4M167.2 96.8l7.4 -3.8M143.4 107.2l11.6 -6.9M145.6 86.8l14.7 -5.3M143.5 92.6l8.3 -4.4M165.1 86.5l12.6 -6.6M173.2 117.6l12.8 -8.5M166.4 97.2l13.9 -7.2"/>
<path fill="none" stroke-linecap="round" stroke="#f4eef2" stroke-width="1.2" d="M4.4 49.9l7.1 -3.3M23.5 79.5l9.6 -4.9M19.0 53.0l11.8 -6.5M5.4 42.9l10.3 -6.2M5.6 32.5l6.8 -2.9M26.0 51.3l8.9 -2.3M4.6 41.0l11.0 -8.0M18.1 68.6l9.1 -4.7M11.3 59.6l11.4 -6.8M157.8 18.5l5.1 -1.8M142.1 33.4l10.0 -5.0M135.0 8.9l12.5 -4.6M141.9 97.2l9.2 -4.6M166.1 93.3l5.2 -1.3M139.4 116.9l12.0 -6.6M148.2 93.1l4.6 -3.1M164.4 87.9l5.9 -2.6M170.1 111.3l6.6 -2.1M167.2 97.0l8.2 -4.6"/>
<path fill="none" stroke-linecap="round" stroke="#f4eef2" stroke-width="1.8" d="M10.4 53.8l8.4 -4.1M21.4 74.6l6.6 -2.8M0.1 58.8l7.3 -2.9M2.3 76.1l6.8 -4.8M27.7 58.7l6.3 -3.2M23.0 27.5l6.4 -2.5M14.4 65.5l9.5 -3.3M18.0 81.6l8.0 -4.8M7.9 30.4l11.4 -2.7M16.6 32.4l7.7 -3.5M20.3 43.6l9.7 -4.6M5.1 69.9l5.5 -3.4M148.9 30.8l6.3 -2.5M194.5 10.9l5.9 -1.7M152.8 23.6l7.1 -4.2M145.6 29.6l10.6 -6.8M195.4 2.2l6.9 -2.2M177.0 21.0l9.6 -4.9M144.2 29.0l4.9 -2.2M141.0 19.5l7.1 -3.3M200.5 11.3l5.8 -4.3M189.8 25.3l9.5 -4.5M193.4 18.7l9.0 -2.1M135.8 12.8l8.5 -4.9M176.9 1.6l4.7 -1.8M203.3 23.7l5.7 -3.7M174.9 110.5l7.0 -3.2M182.9 83.2l10.3 -2.9M177.6 89.4l9.2 -3.3M171.1 100.3l10.5 -7.3M152.3 88.1l5.2 -2.6M177.4 105.9l11.5 -4.4M172.2 83.1l10.0 -2.7M184.6 92.0l6.8 -3.4"/>
<path fill="none" stroke-linecap="round" stroke="#f4eef2" stroke-width="2.4" d="M3.3 79.4l10.7 -5.4M4.7 82.8l10.7 -6.2M11.2 89.6l6.1 -4.3M12.7 89.8l8.6 -3.9M20.0 35.7l8.2 -2.6M-4.9 63.9l11.4 -7.7M16.1 43.6l5.1 -2.0M15.3 80.2l5.9 -2.7M13.2 77.2l7.1 -1.7M143.5 30.2l11.0 -7.3M189.3 6.6l8.5 -3.2M191.2 8.2l8.0 -4.5M156.6 7.1l8.4 -3.0M192.0 8.3l6.2 -2.4M144.6 13.8l7.5 -5.0M136.1 14.6l11.4 -4.9M162.8 27.0l10.7 -3.3M141.2 81.2l9.1 -2.5M174.4 109.5l9.8 -2.3M172.2 85.0l10.1 -6.4M157.3 92.9l6.9 -2.5M179.1 84.5l6.1 -1.7"/>
</g>
<g filter="url(#blur15)">
<path d="M0.0,0.0 C0.5,2.3 2.0,9.7 3.0,14.0 C4.0,18.3 5.5,24.0 6.0,26.0" fill="none" stroke="#9a8098" stroke-width="12" stroke-linecap="round" stroke-linejoin="round"/>
<path d="M44.0,4.0 C48.3,3.8 60.0,3.0 70.0,3.0 C80.0,3.0 92.3,3.8 104.0,4.0 C115.7,4.2 134.0,4.0 140.0,4.0" fill="none" stroke="#9a8098" stroke-width="11" stroke-linecap="round" stroke-linejoin="round"/>
<path d="M164.0,2.0 C167.5,2.0 181.5,2.0 185.0,2.0" fill="none" stroke="#9a8098" stroke-width="9" stroke-linecap="round" stroke-linejoin="round"/>
<path d="M108.0,24.0 C109.7,25.8 115.0,30.7 118.0,35.0 C121.0,39.3 124.7,47.5 126.0,50.0" fill="none" stroke="#9a8098" stroke-width="16" stroke-linecap="round" stroke-linejoin="round"/>
<path d="M30.0,125.0 C33.3,124.8 42.5,123.8 50.0,124.0 C57.5,124.2 70.8,125.7 75.0,126.0" fill="none" stroke="#9a8098" stroke-width="10" stroke-linecap="round" stroke-linejoin="round"/>
<path d="M198.0,50.0 C197.8,55.0 197.3,70.0 197.0,80.0 C196.7,90.0 195.8,101.8 196.0,110.0 C196.2,118.2 197.7,125.8 198.0,129.0" fill="none" stroke="#9a8098" stroke-width="16" stroke-linecap="round" stroke-linejoin="round"/>
<path d="M140.0,62.0 C138.3,64.3 132.7,71.3 130.0,76.0 C127.3,80.7 125.0,87.7 124.0,90.0" fill="none" stroke="#9a8098" stroke-width="10" stroke-linecap="round" stroke-linejoin="round"/>
<path d="M22.0,80.0 C23.3,82.5 29.0,90.8 30.0,95.0 C31.0,99.2 28.3,103.3 28.0,105.0" fill="none" stroke="#9a8098" stroke-width="8" stroke-linecap="round" stroke-linejoin="round"/>
<path d="M100.0,88.0 C102.0,88.3 109.0,88.7 112.0,90.0 C115.0,91.3 117.0,95.0 118.0,96.0" fill="none" stroke="#9a8098" stroke-width="8" stroke-linecap="round" stroke-linejoin="round"/>
<path d="M39.1,13.8 C39.1,15.1 38.4,16.6 37.3,17.6 C36.2,18.7 34.4,19.6 32.6,20.0 C30.9,20.4 28.5,20.4 26.8,20.0 C25.0,19.6 23.2,18.7 22.1,17.6 C21.0,16.6 20.3,15.1 20.3,13.8 C20.3,12.5 21.0,11.0 22.1,10.0 C23.2,8.9 25.0,8.0 26.8,7.6 C28.5,7.2 30.9,7.2 32.6,7.6 C34.4,8.0 36.2,8.9 37.3,10.0 C38.4,11.0 39.1,12.5 39.1,13.8Z" fill="#9a8098" stroke="#9a8098" stroke-width="23.6" stroke-linejoin="round"/>
<path d="M62.0,20.0 C63.2,17.5 66.7,14.8 70.0,14.0 C73.3,13.2 78.3,13.5 82.0,15.0 C85.7,16.5 90.2,20.0 92.0,23.0 C93.8,26.0 94.2,30.3 93.0,33.0 C91.8,35.7 88.5,38.3 85.0,39.0 C81.5,39.7 75.7,38.7 72.0,37.0 C68.3,35.3 64.7,31.8 63.0,29.0 C61.3,26.2 60.8,22.5 62.0,20.0Z" fill="#9a8098" stroke="#9a8098" stroke-width="26.3" stroke-linejoin="round"/>
<path d="M183.0,51.5 C183.0,54.0 181.7,56.9 179.7,58.9 C177.6,60.9 174.2,62.7 170.9,63.5 C167.6,64.2 163.4,64.2 160.1,63.5 C156.8,62.7 153.4,60.9 151.3,58.9 C149.3,56.9 148.0,54.0 148.0,51.5 C148.0,49.0 149.3,46.1 151.3,44.1 C153.4,42.1 156.8,40.3 160.1,39.5 C163.4,38.8 167.6,38.8 170.9,39.5 C174.2,40.3 177.6,42.1 179.7,44.1 C181.7,46.1 183.0,49.0 183.0,51.5Z" fill="#9a8098" stroke="#9a8098" stroke-width="26.3" stroke-linejoin="round"/>
<path d="M86.0,72.0 C86.0,73.6 84.9,75.4 83.1,76.7 C81.4,78.0 78.4,79.1 75.6,79.6 C72.8,80.1 69.2,80.1 66.4,79.6 C63.6,79.1 60.6,78.0 58.9,76.7 C57.1,75.4 56.0,73.6 56.0,72.0 C56.0,70.4 57.1,68.6 58.9,67.3 C60.6,66.0 63.6,64.9 66.4,64.4 C69.2,63.9 72.8,63.9 75.6,64.4 C78.4,64.9 81.4,66.0 83.1,67.3 C84.9,68.6 86.0,70.4 86.0,72.0Z" fill="#9a8098" stroke="#9a8098" stroke-width="26.3" stroke-linejoin="round"/>
<path d="M47.5,88.6 C47.5,89.4 47.0,90.4 46.4,91.1 C45.7,91.7 44.5,92.3 43.4,92.6 C42.2,92.8 40.8,92.8 39.6,92.6 C38.5,92.3 37.3,91.7 36.6,91.1 C36.0,90.4 35.5,89.4 35.5,88.6 C35.5,87.8 36.0,86.8 36.6,86.1 C37.3,85.5 38.5,84.9 39.6,84.6 C40.8,84.4 42.2,84.4 43.4,84.6 C44.5,84.9 45.7,85.5 46.4,86.1 C47.0,86.8 47.5,87.8 47.5,88.6Z" fill="#9a8098" stroke="#9a8098" stroke-width="18.200000000000003" stroke-linejoin="round"/>
<path d="M53.0,112.5 C53.0,113.4 52.5,114.4 51.7,115.1 C50.9,115.9 49.5,116.5 48.2,116.8 C46.9,117.1 45.1,117.1 43.8,116.8 C42.5,116.5 41.1,115.9 40.3,115.1 C39.5,114.4 39.0,113.4 39.0,112.5 C39.0,111.6 39.5,110.6 40.3,109.9 C41.1,109.1 42.5,108.5 43.8,108.2 C45.1,107.9 46.9,107.9 48.2,108.2 C49.5,108.5 50.9,109.1 51.7,109.9 C52.5,110.6 53.0,111.6 53.0,112.5Z" fill="#9a8098" stroke="#9a8098" stroke-width="18.200000000000003" stroke-linejoin="round"/>
<path d="M104.5,108.0 C104.5,110.9 103.4,114.4 101.7,116.8 C100.1,119.2 97.2,121.4 94.5,122.3 C91.8,123.2 88.2,123.2 85.5,122.3 C82.8,121.4 79.9,119.2 78.3,116.8 C76.6,114.4 75.5,110.9 75.5,108.0 C75.5,105.1 76.6,101.6 78.3,99.2 C79.9,96.8 82.8,94.6 85.5,93.7 C88.2,92.8 91.8,92.8 94.5,93.7 C97.2,94.6 100.1,96.8 101.7,99.2 C103.4,101.6 104.5,105.1 104.5,108.0Z" fill="#9a8098" stroke="#9a8098" stroke-width="26.3" stroke-linejoin="round"/>
<path d="M116.0,98.0 C116.7,96.0 121.0,95.3 124.0,96.0 C127.0,96.7 131.0,99.7 134.0,102.0 C137.0,104.3 141.0,107.5 142.0,110.0 C143.0,112.5 142.0,116.0 140.0,117.0 C138.0,118.0 133.3,117.5 130.0,116.0 C126.7,114.5 122.3,111.0 120.0,108.0 C117.7,105.0 115.3,100.0 116.0,98.0Z" fill="#9a8098" stroke="#9a8098" stroke-width="23.6" stroke-linejoin="round"/>
<path d="M52.0,62.0 C52.0,63.0 51.6,64.1 50.9,64.9 C50.3,65.7 49.2,66.5 48.2,66.8 C47.2,67.1 45.8,67.1 44.8,66.8 C43.8,66.5 42.7,65.7 42.1,64.9 C41.4,64.1 41.0,63.0 41.0,62.0 C41.0,61.0 41.4,59.9 42.1,59.1 C42.7,58.3 43.8,57.5 44.8,57.2 C45.8,56.9 47.2,56.9 48.2,57.2 C49.2,57.5 50.3,58.3 50.9,59.1 C51.6,59.9 52.0,61.0 52.0,62.0Z" fill="#9a8098" stroke="#9a8098" stroke-width="15.5" stroke-linejoin="round"/>
<path d="M68.0,102.5 C68.0,103.2 67.7,104.0 67.2,104.6 C66.8,105.1 66.0,105.6 65.2,105.8 C64.5,106.0 63.5,106.0 62.8,105.8 C62.0,105.6 61.2,105.1 60.8,104.6 C60.3,104.0 60.0,103.2 60.0,102.5 C60.0,101.8 60.3,101.0 60.8,100.4 C61.2,99.9 62.0,99.4 62.8,99.2 C63.5,99.0 64.5,99.0 65.2,99.2 C66.0,99.4 66.8,99.9 67.2,100.4 C67.7,101.0 68.0,101.8 68.0,102.5Z" fill="#9a8098" stroke="#9a8098" stroke-width="12.8" stroke-linejoin="round"/>
<path d="M203.0,72.0 C204.3,69.0 208.8,66.3 210.0,72.0 C211.2,77.7 211.0,100.7 210.0,106.0 C209.0,111.3 205.3,106.7 204.0,104.0 C202.7,101.3 202.2,95.3 202.0,90.0 C201.8,84.7 201.7,75.0 203.0,72.0Z" fill="#9a8098" stroke="#9a8098" stroke-width="23.6" stroke-linejoin="round"/>
</g>
<g filter="url(#blur07)" fill="none" stroke-linecap="round">
<path stroke="#55407a" stroke-width="4.0" d="M45.2 16.4l-1.8-0.4M20.7-1.7l0.6 1.0M31.8 0.9l-0.4 1.9M79.1 3.1l-0.4 1.1M95.0 41.3l-0.6-1.7M75.8 45.5l0.2-1.7M192.5 59.1l-0.9-0.6M177.2 68.7l-1.0-1.4M179.0 72.4l-1.0-1.7M173.7 69.2l-0.5-1.5M151.2 71.9l0.2-1.2M140.1 39.9l1.1 0.8M51.0 75.3l1.6-0.6M60.6 54.4l0.2 1.1M56.5 114.3l-1.5-0.9M104.4 130.3l-0.8-1.6M63.5 112.5l1.2-0.6M69.3 103.5l1.9 0.7M103.2 85.8l-1.1 1.3M141.6 100.6l-1.7 0.9M122.2 117.4l0.8-1.8M37.9 58.8l1.2 0.9M215.9 94.7l-1.9 0.6M205.3 116.2l1.0-1.3M191.9 84.7l1.6 0.6M63.5 4.8l-0.3 2.0M80.3 2.5l-0.7 1.8M82.1 5.4l0.3 1.3M125.7 2.6l-0.3 1.0M114.5 39.1l-1.2 0.5M197.5 62.0l-1.8-0.1M200.0 90.7l-1.5 0.3M192.3 102.8l-1.2-0.3M197.6 107.4l-1.4 0.5M195.4 115.0l-1.1-0.2M23.4 79.3l-1.8 0.8M22.5 82.4l-1.4 0.9M102.3 88.6l-0.3 1.9M16.1 36.5l1.8-0.7M142.7 11.2l1.2-0.5M102.9 2.5l1.0-0.6M37.5 85.3l1.0-0.7M13.4 110.5l1.1-0.4M5.6 68.4l1.1-0.3"/>
<path stroke="#503660" stroke-width="4.3" d="M48.8 18.5l-0.7-0.5M22.8 2.5l0.8 1.4M65.1 9.2l0.9 1.2M105.4 28.9l-0.8 0.0M51.0 23.3l1.5 0.1M188.4 45.1l-1.3 0.7M52.7 78.2l1.1-1.1M54.2 55.2l0.5 0.9M67.6 51.4l-0.3 1.2M45.3 95.7l-0.9-0.9M108.9 112.5l-0.7-0.1M99.0 127.6l-0.9-0.8M134.8 90.9l-0.4 1.0M139.0 98.4l-0.9 1.1M146.6 99.5l-1.0 0.9M145.6 115.9l-0.9-0.1M150.6 117.3l-0.9 0.1M108.6 107.4l1.2-0.1M50.1 56.2l-0.7 0.9M63.8 108.8l0.0-1.1M202.8 66.1l0.5 1.6M215.4 80.1l-1.2-0.3M216.7 83.0l-1.5 0.0M216.4 104.1l-1.2-0.2M191.2 99.2l1.5-0.4M3.4 23.7l-0.6 0.4M89.6-0.9l0.2 1.3M132.7 4.3l0.2 1.0M140.0 0.9l-0.1 0.8M164.0-1.4l0.0 1.4M123.8 44.9l-0.9 0.6M127.1 45.8l-1.1 0.7M199.8 74.1l-1.5-0.1M196.8 95.6l-1.0-0.1M26.6 99.1l-0.6-0.3M117.1 91.3l-0.8 1.1M20.3 51.7l1.0-0.8M31.2 65.3l1.0-0.8M192.2 19.5l1.3-1.0M46.0 10.5l1.0-1.0"/>
<path stroke="#5a3a60" stroke-width="4.3" d="M48.5 21.5l-1.1-0.5M62.8 10.8l0.5 1.2M72.4 8.0l0.2 1.0M76.0 2.0l-0.1 0.9M105.3 25.7l-1.4 0.5M81.8 45.5l0.4-1.1M63.5 44.7l1.4-0.8M167.3 28.2l0.0 0.7M96.1 78.2l-0.9-0.7M83.5 55.0l-0.5 0.5M93.9 62.9l-1.0 0.4M41.3 104.4l0.1 0.8M88.7 129.7l0.2-1.2M102.7 91.5l-1.0 1.0M105.3 87.9l-0.4 0.6M109.2 102.2l-0.8 0.1M138.3 91.1l-0.8 1.1M149.6 100.9l-1.3 0.8M135.9 121.5l0.3-0.8M216.3 86.0l-1.0-0.1M202.3 116.0l0.6-1.3M4.7 23.5l-0.8 0.2M53.6 1.2l-0.2 1.4M168.8 3.6l-0.1 1.3M122.7 51.2l-0.9 0.2M51.3 125.8l0.2 1.6M194.8 64.3l-1.0 0.1M198.7 81.3l-0.9-0.2M127.2 82.0l-1.3-0.1M12.3 56.9l1.2-0.5M45.8 13.4l1.0-0.1M110.3 65.1l1.3-0.4M71.1 118.3l1.3-1.0M200.7 3.4l0.7-0.2M78.7 83.3l0.7-0.4"/>
<path stroke="#4a3a78" stroke-width="3.6" d="M35.6 25.0l-0.6-1.6M10.2 6.8l2.0 0.6M81.7 8.4l-0.5 1.6M50.6 29.4l2.0-0.2M194.5 56.4l-2.0-0.3M139.5 63.6l2.0-0.2M161.4 26.8l-0.3 2.0M45.0 79.4l1.2-1.4M40.4 95.4l-0.0-1.4M41.7 119.4l0.9-1.9M85.9 134.6l-0.2-1.7M76.0 130.9l0.7-1.9M81.2 89.3l0.7 1.3M90.5 86.7l0.3 1.9M116.4 86.0l0.0 2.4M41.8 55.3l0.5 1.3M68.8 97.6l-0.5 1.4M221.1 74.1l-2.1-0.1M191.2 75.5l1.8 0.7M94.2 6.2l0.1 1.6M116.1 4.6l-0.2 1.5M125.2 41.7l-1.7 0.6M46.7 124.9l0.4 2.0M49.0 124.6l0.6 2.0M198.2 71.7l-1.5-0.2M197.5 83.3l-2.0 0.5M199.0 110.3l-2.1-0.6M204.2 121.2l-2.4 0.1M133.5 72.4l-1.3-1.5M128.8 74.8l-1.2-1.3M26.5 88.2l-1.5 1.3M27.8 102.0l-1.4-0.8M104.7 87.9l0.1 2.0M109.9 87.2l-0.3 1.7M198.4 85.4l1.7-0.5M83.7 41.8l1.5-0.3M45.2 37.2l2.1-0.5M174.7 77.6l2.1-1.0"/>
<path stroke="#4a3a78" stroke-width="4.3" d="M37.6 28.7l-0.7-1.1M54.4 10.0l0.7 0.6M50.1 26.4l1.6 0.1M186.0 59.6l-1.1-0.9M138.5 42.8l1.6 0.3M170.1 28.2l0.4 1.1M84.2 89.6l-0.0-0.9M52.2 66.3l1.0 1.2M59.7 61.0l0.4 0.7M95.5 65.5l-1.5 0.6M32.6 90.9l0.7-0.2M41.9 81.6l-0.4 1.3M38.9 106.6l0.3 0.8M141.9 95.6l-0.5 0.6M109.0 110.8l1.0-0.8M192.2 96.1l1.1-0.6M191.6 82.0l1.6-0.2M-0.4 12.4l-0.7 0.1M46.2 2.0l0.2 1.6M120.7 4.3l0.1 1.6M117.9 34.3l-0.8 1.1M65.9 126.8l-0.3 1.4M194.4 64.3l-1.5 0.0M195.6 76.4l-1.5-0.1M194.5 85.9l-0.9 0.1M199.4 90.7l-0.9 0.3M197.5 95.9l-1.5-0.6M193.4 126.9l-1.2 0.5M-0.3 28.0l1.5-0.2M167.8 3.7l1.1-0.2M196.8 26.3l1.2-1.2M156.1 0.7l0.8-0.5M177.9 60.2l1.1-0.2M170.8 14.0l1.2-0.3M155.2 105.6l0.9-0.2"/>
<path stroke="#4a3a78" stroke-width="4.0" d="M30.1 26.1l0.0-1.6M29.9 32.0l0.4-1.9M16.3 9.4l1.4 0.8M39.4-1.9l-0.5 1.7M47.7 8.3l-1.2 0.1M56.4 7.7l1.2 1.1M99.0 26.4l-1.1 0.3M153.4 73.6l0.9-1.5M139.4 60.8l0.9-0.7M147.7 32.5l0.7 1.9M181.2 31.0l-0.3 1.3M79.3 57.6l-0.8 1.2M37.5 82.8l1.0 1.3M34.9 110.4l1.8 0.8M116.3 111.6l-1.7-0.2M103.4 123.8l-0.6-1.2M88.8 133.9l0.1-1.5M76.7 124.5l0.7-0.9M215.7 74.2l-1.9-0.5M197.7 104.5l1.9-0.8M1.2 9.2l-1.7 1.1M5.0 13.7l-1.5 0.2M115.5 23.7l-0.8 0.7M112.4 33.3l-1.2 0.5M131.2 46.5l-1.0 0.5M68.7 123.7l-0.5 1.6M203.7 54.9l-1.9 0.2M198.5 83.7l-1.6-0.2M192.2 109.6l-1.3 0.3M197.6 117.0l-1.1 0.2M139.7 64.9l-0.7-0.9M1.0 53.7l1.6-0.6M166.6 11.0l2.0-0.3M151.5 75.9l1.0-0.7M15.1 61.0l0.9-0.7M55.7 48.9l1.4-0.2M121.5 45.7l1.2-0.4M149.9 9.4l1.1-0.1"/>
<path stroke="#55407a" stroke-width="4.3" d="M26.9 25.9l0.4-1.4M18.1-0.3l0.6 1.2M60.4 12.9l0.6 0.8M59.7 36.0l0.5-0.8M184.5 70.0l-0.6-0.9M137.8 45.7l0.8 0.3M150.6 31.5l0.1 1.0M47.6 80.8l1.5-0.3M47.5 94.4l-0.2-1.4M46.6 81.2l-0.4 0.8M107.1 128.8l-0.3-0.8M75.6 92.0l0.6 0.9M119.3 86.5l0.3 1.3M59.9 96.8l0.5 1.0M221.1 85.9l-1.5 0.2M221.4 98.0l-1.7-0.1M204.5 109.7l0.3-0.8M58.3 3.0l0.2 0.8M103.8 6.3l0.2 1.2M113.7 6.6l-0.3 1.2M107.9 27.3l-0.9 0.8M124.6 39.4l-1.5 0.2M29.8 125.2l0.5 1.3M196.5 114.9l-1.4-0.1M123.8 83.5l-1.3-0.9M12.0 72.6l1.3-0.6M182.6 3.1l0.7-0.4M68.8 55.3l1.1-0.4M194.8 105.2l1.4-0.7M201.3 42.3l1.2-0.8"/>
<path stroke="#3e3470" stroke-width="3.6" d="M21.1 25.3l0.8-1.6M19.2 29.4l0.6-1.8M93.7 8.6l-1.7 1.5M55.8 39.8l1.7-1.1M181.7 64.5l-0.8-1.2M152.9 30.3l1.2 1.1M193.7 46.1l-1.4 0.5M56.4 60.5l0.5 1.4M89.7 65.5l-1.6 0.7M70.9 113.2l1.4-0.5M87.5 81.7l0.3 2.2M145.3 104.8l-1.0 1.2M116.8 118.8l1.4-1.3M111.3 103.0l1.5-0.1M56.9 100.6l1.7 1.3M205.7 59.9l0.6 1.9M217.2 77.3l-1.7-0.6M221.2 77.3l-1.6-0.5M1.4 19.2l-1.3 0.8M108.4 4.4l0.7 2.0M173.6 3.8l-0.0 2.0M121.1 35.5l-1.4 0.8M44.5 126.8l0.1 1.8M70.7 123.1l0.3 1.8M194.1 68.9l-1.9 0.3M202.1 93.2l-1.5 0.3M201.4 97.9l-1.5 0.3M128.8 90.9l-1.8-1.1M23.9 43.5l1.9-0.5M187.9 101.2l2.0-0.5M200.3 121.2l1.6-0.9"/>
<path stroke="#3e3470" stroke-width="4.0" d="M17.2 19.5l1.0-0.6M42.2-0.6l-0.7 1.5M61.4 4.2l0.7 1.0M90.1 43.9l-1.4-1.0M78.0 49.4l0.6-1.1M62.8 37.0l0.8-1.3M60.8 90.1l0.7-0.9M81.9 59.1l-0.9 1.7M38.5 118.4l1.3-1.4M114.9 117.6l-1.6-0.6M91.9 133.8l-0.2-1.4M74.1 122.8l0.8-0.7M71.3 126.6l1.0-1.3M109.6 99.2l-1.5-0.1M143.0 102.9l-0.7 0.9M133.1 121.4l0.0-1.2M114.2 117.2l1.2-1.1M206.0 65.2l0.1 1.7M195.7 79.1l1.1 0.0M192.3 73.0l1.1-0.1M0.9 19.3l-1.1 0.7M73.1 1.7l-0.5 1.3M84.8 6.9l-0.2 1.4M118.1 7.2l0.5 1.9M137.4 1.8l0.4 1.1M130.3 44.0l-1.1 1.1M204.6 50.0l-1.5 0.3M202.8 85.9l-1.4 0.4M28.9 92.4l-1.5 1.3M32.6 97.7l-1.4-0.1M156.1 19.3l1.7-0.3M12.3 33.0l1.6-1.2M111.8 97.5l1.1-0.4M53.9 8.3l1.2-1.0"/>
<path stroke="#5e3a58" stroke-width="3.6" d="M11.6 21.9l1.8-0.5M28.5-2.9l0.0 2.4M37.5 2.2l-0.7 1.3M78.6 6.8l-0.1 2.3M88.1 10.5l-1.1 1.4M167.7 70.3l0.4-1.6M144.3 61.6l1.8-0.5M143.1 44.8l1.5 0.4M170.5 33.1l-0.4 1.6M181.3 37.1l-0.3 1.9M91.1 78.5l-1.9-0.8M68.4 87.4l-0.4-2.3M57.7 54.9l0.2 2.2M86.0 55.8l-0.1 1.6M114.0 120.3l-1.5-0.3M64.3 99.2l2.1-0.1M108.0 88.9l-0.4 1.4M116.2 103.1l-1.5 0.5M59.6 107.7l0.4-1.8M220.9 80.2l-2.3-0.5M221.8 89.0l-1.5 0.1M222.4 94.8l-2.3 0.5M99.2-1.3l0.1 2.2M122.8 3.6l0.8 2.2M130.6 1.2l-0.4 1.7M116.8 32.5l-1.4 0.6M121.0 38.4l-1.8 0.7M193.3 107.7l-2.1-0.5M198.8 121.9l-2.3-0.1M139.2 61.5l-1.6-1.2M126.3 87.4l-1.4-1.3M111.8 91.0l-0.6 2.1M47.4 105.1l1.3-0.7M60.0 126.4l1.3-0.7M70.8 59.0l1.4-0.8"/>
<path stroke="#463a82" stroke-width="4.0" d="M15.5 17.2l1.4-1.2M161.9 70.2l0.1-1.3M178.9 29.2l-0.7 1.5M185.9 43.0l-1.5 0.6M74.3 87.6l-0.2-2.0M46.5 63.0l1.1 0.9M73.4 57.1l0.1 1.2M116.0 114.9l-1.4-0.7M102.5 132.2l-1.1-1.0M70.2 116.5l1.1-0.1M69.7 100.8l1.9 0.1M130.9 86.3l-1.0 0.9M135.4 95.8l-0.8 1.6M121.8 122.4l0.8-1.2M41.4 67.9l0.6-0.8M1.9 4.5l-1.9 0.4M3.7 3.9l-1.4 0.7M55.9 4.3l0.2 1.5M67.8 0.4l0.3 1.7M183.4 1.3l-0.4 1.6M200.5 66.8l-1.4 0.1M199.1 78.7l-1.7 0.2M198.7 93.2l-1.3 0.0M194.1 98.2l-1.8-0.7M135.0 67.2l-1.1-0.6"/>
<path stroke="#463a82" stroke-width="4.3" d="M10.8 19.0l1.2-0.4M59.1 5.9l0.4 1.0M99.6 23.5l-1.5-0.1M99.8 41.9l-0.9-0.6M81.1 49.8l0.2-0.7M67.4 41.0l0.7-1.2M155.4 34.5l0.4 0.7M191.6 40.2l-1.0 0.7M58.2 88.9l0.5-1.2M57.3 83.3l0.5-1.4M92.2 67.6l-1.6 0.4M50.8 90.2l-1.4-0.8M54.7 108.5l-1.2 0.2M115.3 100.2l-1.2 0.5M110.1 104.9l-0.6 0.4M113.4 87.0l0.0 1.5M117.6 113.4l0.3-0.7M202.9 61.1l0.2 1.1M192.9 104.8l1.0 0.1M196.7 76.1l1.4 0.1M2.9 16.8l-1.5-0.1M44.1 7.4l0.0 0.8M166.2-2.1l0.5 1.5M112.1 29.9l-1.2 1.1M115.0 27.5l-1.3 0.8M32.5 126.5l0.1 1.0M202.2 88.6l-0.8-0.1M196.7 88.3l-1.0 0.2M136.1 71.0l-1.0-0.6M26.2 86.0l-0.8 0.3M31.1 104.6l-1.4 0.2M167.6 11.7l1.1-0.6M1.4 27.9l0.8-0.1M148.0 38.3l0.6-0.5M157.3 67.2l1.2-1.0"/>
<path stroke="#463a82" stroke-width="3.6" d="M20.4 4.0l0.7 2.0M75.4 7.4l0.2 1.4M81.6 2.8l0.4 2.4M176.7 74.1l-1.4-1.9M161.9 76.6l0.0-1.5M152.8 68.3l1.0-1.5M178.7 35.7l-0.5 1.8M189.4 48.2l-1.7 0.3M61.5 57.9l1.4 1.9M67.3 57.8l0.2 2.0M81.1 52.8l-1.0 1.9M53.3 119.0l-0.4-1.4M108.0 118.7l-1.8-0.8M74.9 85.6l0.6 1.9M76.9 83.6l1.2 2.0M133.4 93.1l-0.7 1.9M119.5 115.6l1.2-1.4M113.0 105.7l1.5-0.5M55.1 66.3l-1.7-0.7M38.8 64.1l1.5-0.6M67.9 106.4l-1.7-1.4M64.2 95.0l0.7 2.2M220.7 92.0l-1.7 0.1M60.4 1.8l0.7 2.2M65.6 5.3l0.2 1.6M127.7 5.0l0.4 1.8M176.2 0.2l-0.5 2.2M107.9 24.3l-1.5 0.9M116.6 35.8l-1.4 0.9M202.8 57.3l-1.6 0.1M197.6 59.4l-1.6 0.4M202.5 118.8l-1.8 0.4M28.7 90.6l1.6-1.3M34.6 114.8l1.6-1.2M39.7 51.0l1.9-0.5"/>
<path stroke="#503660" stroke-width="3.6" d="M28.3 1.5l0.5 1.6M91.8 15.1l-0.8 1.7M97.1 39.1l-1.0-2.2M60.7 43.5l1.2-0.8M179.5 67.0l-0.8-1.5M147.5 72.2l0.9-2.0M164.4 33.4l-0.3 1.8M85.2 83.0l-0.8-1.4M79.6 86.0l-0.5-2.2M70.4 52.7l0.2 2.4M73.5 52.5l-0.0 1.5M36.4 94.3l0.7-1.9M50.6 85.4l-1.9 0.4M50.7 120.0l-1.0-1.5M69.9 110.3l1.4-0.3M129.9 93.0l-0.6 1.8M138.6 128.6l-0.3-2.3M130.0 121.4l0.2-1.5M54.4 58.5l-1.7 0.7M216.7 97.8l-1.8 0.4M197.2 101.1l2.2-0.0M196.3 82.4l2.1-0.4M8.2 20.0l-1.4 0.8M5.7 25.9l-1.6 0.2M50.8-1.1l0.6 1.5M135.3 2.1l-0.2 2.3M124.5 39.1l-1.2 0.8M196.0 71.6l-1.7-0.1M195.1 112.3l-1.8 0.6M201.0 123.6l-1.9 0.8M99.9 88.4l-0.2 1.4M30.1 69.2l1.6-0.8M74.0 47.1l2.0-1.0"/>
<path stroke="#5e3a58" stroke-width="4.3" d="M31.4-2.9l0.2 0.8M39.3 5.5l-0.5 0.8M73.0 1.0l0.1 1.6M72.2 49.4l0.1-1.5M59.6 40.7l0.4-0.8M55.1 22.7l1.4 0.3M188.3 57.2l-1.3-0.6M142.2 56.3l0.9-0.8M150.4 38.1l0.5 0.5M82.5 85.1l-0.3-1.6M84.1 61.3l-0.5 1.1M86.0 130.1l-0.4-1.6M79.0 126.5l0.5-0.9M78.6 90.7l0.4 0.9M104.9 93.2l-0.7 1.4M197.1 98.0l1.4 0.2M191.1 88.0l1.2-0.2M-2.1 2.7l-0.9 0.6M7.0 10.6l-1.5 0.7M48.6 1.9l0.3 1.5M101.5 1.7l0.2 1.6M111.0 1.0l0.4 1.5M105.8 26.2l-1.2 0.6M107.6 27.8l-1.0 0.6M34.9 128.0l0.1 0.7M61.3 121.5l0.1 0.9M192.8 76.0l-1.2 0.3M193.6 100.2l-1.1 0.1M201.7 103.2l-1.4-0.5M200.1 119.4l-1.2-0.2M133.3 75.0l-0.6-0.6M196.0 20.8l0.8-0.4M165.4 39.1l1.2-0.3M3.2 101.5l0.7-0.6"/>
<path stroke="#5a3a60" stroke-width="4.0" d="M58.4 15.5l0.9 0.6M105.1 22.5l-1.7 0.8M100.1 29.4l-1.8 0.2M145.2 42.1l1.3 1.1M161.3 31.6l-0.1 1.8M71.3 86.3l-0.1-1.3M50.7 105.4l-1.1 1.4M90.5 80.7l0.3 1.3M127.7 91.3l-0.7 1.3M105.1 102.6l1.4-0.8M45.4 71.3l0.5-2.0M217.2 101.2l-2.0-0.4M191.8 78.7l1.6 0.4M70.7 1.2l-0.6 1.8M97.0 1.2l-0.3 1.5M106.3 1.8l0.1 1.4M193.4 112.6l-1.7 0.3M129.8 80.6l-1.1-0.4M26.9 83.1l-1.7 0.5M28.6 95.6l-1.1 0.4M23.2 37.5l1.3-1.2M137.3 22.6l1.4-0.6M141.8 31.3l1.0-0.5M176.0 0.3l1.7-0.6M115.1 2.0l1.6-0.2M201.8 54.8l1.0-0.7M120.2 117.7l1.6-1.0M151.9 2.3l0.9-0.6"/>
<path stroke="#5a3a60" stroke-width="3.6" d="M95.5 15.9l-1.7 1.6M75.3 49.5l0.1-2.0M182.5 72.3l-1.3-1.4M167.9 76.7l0.0-2.4M165.2 76.4l-0.5-2.2M143.1 47.9l1.5 0.9M32.0 84.7l2.1 0.8M46.3 119.8l-0.6-1.6M65.0 115.0l2.0-0.5M72.0 97.8l1.7 1.1M93.3 80.2l0.6 2.2M100.2 89.4l-0.7 1.5M145.4 96.7l-1.8 1.1M124.3 118.9l1.3-0.9M118.4 121.7l1.2-1.4M106.5 105.4l1.2-0.9M216.3 91.9l-2.0 0.1M221.7 100.9l-2.4 0.2M191.7 102.1l2.0-0.4M195.3 85.4l2.3-0.4M2.9-0.5l-2.2 0.2M4.8 8.6l-1.6 0.7M0.7 14.6l-1.8 0.6M4.6 16.1l-2.2 0.8M87.2 4.8l-0.3 2.4M181.0-2.3l-0.5 2.2M126.1 35.7l-1.5 0.5M42.1 126.9l-0.0 1.5M199.2 50.3l-1.9-0.5M199.7 55.1l-1.7-0.6M204.3 69.7l-2.2-0.6M203.9 123.4l-1.6 0.7M135.8 65.1l-0.9-1.1M131.8 79.1l-1.7-1.0M107.8 86.5l-0.6 1.4M0.2 29.3l1.7-1.4M137.9 80.2l1.2-0.9M161.4 65.8l1.3-0.9M74.2 58.8l1.1-0.9M76.1 90.1l1.4-0.4"/>
<path stroke="#55407a" stroke-width="3.6" d="M91.7 42.1l-0.7-2.3M143.1 58.7l1.7-0.3M71.3 92.0l-0.2-1.5M59.5 85.5l1.0-2.1M73.1 129.3l1.0-1.6M64.5 102.2l2.2 0.2M114.3 97.5l-2.0 0.4M120.2 90.9l0.9 1.4M152.0 114.6l-1.4-0.1M56.4 63.4l-2.3-0.6M75.5-0.8l-0.4 1.4M171.1 1.3l0.2 1.8M202.2 52.6l-1.5-0.1M197.4 79.0l-1.9-0.4M197.3 100.0l-2.1 0.6M193.5 105.3l-2.0-0.5M199.3 126.7l-1.9-0.3M26.0 91.3l-1.6 1.1M114.5 90.6l-1.0 1.2M29.9 27.9l1.8-0.6M201.1 22.8l2.0-0.6M177.3 42.7l1.4-0.4M179.6 27.1l1.5-0.5"/>
<path stroke="#503660" stroke-width="4.0" d="M92.6 47.7l-1.0-1.5M54.9 26.0l1.8-0.2M192.2 62.5l-1.6-1.1M156.4 68.7l0.3-1.9M176.2 34.8l-0.9 1.1M191.9 43.7l-1.4 0.2M74.4 92.0l-0.5-1.5M68.1 92.5l0.1-2.0M66.4 117.9l1.1-0.6M87.7 87.5l-0.1 1.8M93.4 86.6l0.5 1.6M50.5 69.8l-0.3-1.1M46.2 53.4l-0.1 1.1M69.6 103.4l-1.3-1.0M207.5 110.7l0.3-1.4M0.3 7.3l-1.3 0.2M2.4 26.4l-1.4 0.9M108.3 30.0l-1.1 1.3M37.4 126.1l-0.1 1.1M59.0 120.6l0.1 1.3M203.3 52.7l-1.9-0.3M203.9 62.1l-1.4 0.1M201.0 81.4l-1.4-0.3M118.5 93.6l-0.9 0.6"/>
<path stroke="#3e3470" stroke-width="4.3" d="M64.1 39.8l0.7-0.6M164.9 70.5l-0.1-0.8M137.5 58.1l1.1-0.2M184.3 31.9l-0.5 1.0M111.7 110.0l-1.6 0.0M65.6 96.1l1.2 0.4M117.5 92.3l0.5 0.9M135.3 128.1l0.3-1.5M221.8 103.9l-1.4 0.2M196.8 95.2l1.3-0.2M1.0 7.2l-1.6 0.3M92.0 1.7l-0.1 0.8M128.1 40.1l-1.0 0.2M195.1 56.9l-1.6 0.3M200.4 105.5l-1.2-0.4M203.2 116.5l-1.2-0.0M189.8 13.8l1.1-0.5M141.7 24.7l0.9-0.7M97.4 44.0l1.0-0.9M60.8 22.7l0.8-0.4M148.4 123.1l1.1-0.2"/>
<path stroke="#5e3a58" stroke-width="4.0" d="M55.2 29.1l1.5-0.5M152.5 35.6l0.8 1.0M91.5 75.5l-0.9-0.8M55.4 88.4l0.1-1.3M46.1 105.3l-0.1 1.8M108.7 115.4l-2.0-0.2M100.6 124.7l-0.8-0.7M91.9 129.7l-0.2-1.3M72.6 87.8l0.7 1.4M146.6 113.0l-1.5-0.1M138.6 123.9l0.5-1.9M132.8 127.1l-0.4-1.9M208.8 61.8l0.4 1.7M216.5 88.8l-2.0 0.4M192.1 93.1l0.9-0.5M197.0 88.2l1.2-0.0M195.9 73.0l1.8 0.4M-0.0-0.0l-1.4 0.4M-0.1 2.2l-1.8 0.9M2.8 21.5l-1.0 0.4M77.6 2.3l-0.0 1.5M178.4 0.1l0.1 1.8M112.4 32.8l-0.5 0.9M116.2 32.9l-1.4 1.0M124.0 44.6l-1.4 1.3M39.3 121.0l0.4 1.3M54.0 121.6l0.2 1.9M56.7 120.1l-0.1 1.6M63.6 124.0l-0.2 1.5M73.5 121.9l-0.3 1.7M196.3 59.7l-1.4-0.3M194.1 66.6l-1.2 0.0M198.7 73.9l-2.0 0.1M159.6 5.1l2.0-0.2M115.6 70.9l1.2-0.9"/>
</g>
<g filter="url(#blur07)">
<path d="M39.1,13.8 C39.1,15.1 38.4,16.6 37.3,17.6 C36.2,18.7 34.4,19.6 32.6,20.0 C30.9,20.4 28.5,20.4 26.8,20.0 C25.0,19.6 23.2,18.7 22.1,17.6 C21.0,16.6 20.3,15.1 20.3,13.8 C20.3,12.5 21.0,11.0 22.1,10.0 C23.2,8.9 25.0,8.0 26.8,7.6 C28.5,7.2 30.9,7.2 32.6,7.6 C34.4,8.0 36.2,8.9 37.3,10.0 C38.4,11.0 39.1,12.5 39.1,13.8Z" fill="none" stroke="#c6b4c0" stroke-width="4.5" stroke-linejoin="round"/>
<path d="M62.0,20.0 C63.2,17.5 66.7,14.8 70.0,14.0 C73.3,13.2 78.3,13.5 82.0,15.0 C85.7,16.5 90.2,20.0 92.0,23.0 C93.8,26.0 94.2,30.3 93.0,33.0 C91.8,35.7 88.5,38.3 85.0,39.0 C81.5,39.7 75.7,38.7 72.0,37.0 C68.3,35.3 64.7,31.8 63.0,29.0 C61.3,26.2 60.8,22.5 62.0,20.0Z" fill="none" stroke="#c6b4c0" stroke-width="4.5" stroke-linejoin="round"/>
<path d="M183.0,51.5 C183.0,54.0 181.7,56.9 179.7,58.9 C177.6,60.9 174.2,62.7 170.9,63.5 C167.6,64.2 163.4,64.2 160.1,63.5 C156.8,62.7 153.4,60.9 151.3,58.9 C149.3,56.9 148.0,54.0 148.0,51.5 C148.0,49.0 149.3,46.1 151.3,44.1 C153.4,42.1 156.8,40.3 160.1,39.5 C163.4,38.8 167.6,38.8 170.9,39.5 C174.2,40.3 177.6,42.1 179.7,44.1 C181.7,46.1 183.0,49.0 183.0,51.5Z" fill="none" stroke="#c6b4c0" stroke-width="4.5" stroke-linejoin="round"/>
<path d="M86.0,72.0 C86.0,73.6 84.9,75.4 83.1,76.7 C81.4,78.0 78.4,79.1 75.6,79.6 C72.8,80.1 69.2,80.1 66.4,79.6 C63.6,79.1 60.6,78.0 58.9,76.7 C57.1,75.4 56.0,73.6 56.0,72.0 C56.0,70.4 57.1,68.6 58.9,67.3 C60.6,66.0 63.6,64.9 66.4,64.4 C69.2,63.9 72.8,63.9 75.6,64.4 C78.4,64.9 81.4,66.0 83.1,67.3 C84.9,68.6 86.0,70.4 86.0,72.0Z" fill="none" stroke="#c6b4c0" stroke-width="4.5" stroke-linejoin="round"/>
<path d="M47.5,88.6 C47.5,89.4 47.0,90.4 46.4,91.1 C45.7,91.7 44.5,92.3 43.4,92.6 C42.2,92.8 40.8,92.8 39.6,92.6 C38.5,92.3 37.3,91.7 36.6,91.1 C36.0,90.4 35.5,89.4 35.5,88.6 C35.5,87.8 36.0,86.8 36.6,86.1 C37.3,85.5 38.5,84.9 39.6,84.6 C40.8,84.4 42.2,84.4 43.4,84.6 C44.5,84.9 45.7,85.5 46.4,86.1 C47.0,86.8 47.5,87.8 47.5,88.6Z" fill="none" stroke="#c6b4c0" stroke-width="4.5" stroke-linejoin="round"/>
<path d="M53.0,112.5 C53.0,113.4 52.5,114.4 51.7,115.1 C50.9,115.9 49.5,116.5 48.2,116.8 C46.9,117.1 45.1,117.1 43.8,116.8 C42.5,116.5 41.1,115.9 40.3,115.1 C39.5,114.4 39.0,113.4 39.0,112.5 C39.0,111.6 39.5,110.6 40.3,109.9 C41.1,109.1 42.5,108.5 43.8,108.2 C45.1,107.9 46.9,107.9 48.2,108.2 C49.5,108.5 50.9,109.1 51.7,109.9 C52.5,110.6 53.0,111.6 53.0,112.5Z" fill="none" stroke="#c6b4c0" stroke-width="4.5" stroke-linejoin="round"/>
<path d="M104.5,108.0 C104.5,110.9 103.4,114.4 101.7,116.8 C100.1,119.2 97.2,121.4 94.5,122.3 C91.8,123.2 88.2,123.2 85.5,122.3 C82.8,121.4 79.9,119.2 78.3,116.8 C76.6,114.4 75.5,110.9 75.5,108.0 C75.5,105.1 76.6,101.6 78.3,99.2 C79.9,96.8 82.8,94.6 85.5,93.7 C88.2,92.8 91.8,92.8 94.5,93.7 C97.2,94.6 100.1,96.8 101.7,99.2 C103.4,101.6 104.5,105.1 104.5,108.0Z" fill="none" stroke="#c6b4c0" stroke-width="4.5" stroke-linejoin="round"/>
<path d="M116.0,98.0 C116.7,96.0 121.0,95.3 124.0,96.0 C127.0,96.7 131.0,99.7 134.0,102.0 C137.0,104.3 141.0,107.5 142.0,110.0 C143.0,112.5 142.0,116.0 140.0,117.0 C138.0,118.0 133.3,117.5 130.0,116.0 C126.7,114.5 122.3,111.0 120.0,108.0 C117.7,105.0 115.3,100.0 116.0,98.0Z" fill="none" stroke="#c6b4c0" stroke-width="4.5" stroke-linejoin="round"/>
<path d="M52.0,62.0 C52.0,63.0 51.6,64.1 50.9,64.9 C50.3,65.7 49.2,66.5 48.2,66.8 C47.2,67.1 45.8,67.1 44.8,66.8 C43.8,66.5 42.7,65.7 42.1,64.9 C41.4,64.1 41.0,63.0 41.0,62.0 C41.0,61.0 41.4,59.9 42.1,59.1 C42.7,58.3 43.8,57.5 44.8,57.2 C45.8,56.9 47.2,56.9 48.2,57.2 C49.2,57.5 50.3,58.3 50.9,59.1 C51.6,59.9 52.0,61.0 52.0,62.0Z" fill="none" stroke="#c6b4c0" stroke-width="4.5" stroke-linejoin="round"/>
<path d="M68.0,102.5 C68.0,103.2 67.7,104.0 67.2,104.6 C66.8,105.1 66.0,105.6 65.2,105.8 C64.5,106.0 63.5,106.0 62.8,105.8 C62.0,105.6 61.2,105.1 60.8,104.6 C60.3,104.0 60.0,103.2 60.0,102.5 C60.0,101.8 60.3,101.0 60.8,100.4 C61.2,99.9 62.0,99.4 62.8,99.2 C63.5,99.0 64.5,99.0 65.2,99.2 C66.0,99.4 66.8,99.9 67.2,100.4 C67.7,101.0 68.0,101.8 68.0,102.5Z" fill="none" stroke="#c6b4c0" stroke-width="4.5" stroke-linejoin="round"/>
<path d="M203.0,72.0 C204.3,69.0 208.8,66.3 210.0,72.0 C211.2,77.7 211.0,100.7 210.0,106.0 C209.0,111.3 205.3,106.7 204.0,104.0 C202.7,101.3 202.2,95.3 202.0,90.0 C201.8,84.7 201.7,75.0 203.0,72.0Z" fill="none" stroke="#c6b4c0" stroke-width="4.5" stroke-linejoin="round"/>
<path d="M39.1,13.8 C39.1,15.1 38.4,16.6 37.3,17.6 C36.2,18.7 34.4,19.6 32.6,20.0 C30.9,20.4 28.5,20.4 26.8,20.0 C25.0,19.6 23.2,18.7 22.1,17.6 C21.0,16.6 20.3,15.1 20.3,13.8 C20.3,12.5 21.0,11.0 22.1,10.0 C23.2,8.9 25.0,8.0 26.8,7.6 C28.5,7.2 30.9,7.2 32.6,7.6 C34.4,8.0 36.2,8.9 37.3,10.0 C38.4,11.0 39.1,12.5 39.1,13.8Z" fill="#f4f0f4"/>
<path d="M62.0,20.0 C63.2,17.5 66.7,14.8 70.0,14.0 C73.3,13.2 78.3,13.5 82.0,15.0 C85.7,16.5 90.2,20.0 92.0,23.0 C93.8,26.0 94.2,30.3 93.0,33.0 C91.8,35.7 88.5,38.3 85.0,39.0 C81.5,39.7 75.7,38.7 72.0,37.0 C68.3,35.3 64.7,31.8 63.0,29.0 C61.3,26.2 60.8,22.5 62.0,20.0Z" fill="#f4f0f4"/>
<path d="M183.0,51.5 C183.0,54.0 181.7,56.9 179.7,58.9 C177.6,60.9 174.2,62.7 170.9,63.5 C167.6,64.2 163.4,64.2 160.1,63.5 C156.8,62.7 153.4,60.9 151.3,58.9 C149.3,56.9 148.0,54.0 148.0,51.5 C148.0,49.0 149.3,46.1 151.3,44.1 C153.4,42.1 156.8,40.3 160.1,39.5 C163.4,38.8 167.6,38.8 170.9,39.5 C174.2,40.3 177.6,42.1 179.7,44.1 C181.7,46.1 183.0,49.0 183.0,51.5Z" fill="#f4f0f4"/>
<path d="M86.0,72.0 C86.0,73.6 84.9,75.4 83.1,76.7 C81.4,78.0 78.4,79.1 75.6,79.6 C72.8,80.1 69.2,80.1 66.4,79.6 C63.6,79.1 60.6,78.0 58.9,76.7 C57.1,75.4 56.0,73.6 56.0,72.0 C56.0,70.4 57.1,68.6 58.9,67.3 C60.6,66.0 63.6,64.9 66.4,64.4 C69.2,63.9 72.8,63.9 75.6,64.4 C78.4,64.9 81.4,66.0 83.1,67.3 C84.9,68.6 86.0,70.4 86.0,72.0Z" fill="#f4f0f4"/>
<path d="M47.5,88.6 C47.5,89.4 47.0,90.4 46.4,91.1 C45.7,91.7 44.5,92.3 43.4,92.6 C42.2,92.8 40.8,92.8 39.6,92.6 C38.5,92.3 37.3,91.7 36.6,91.1 C36.0,90.4 35.5,89.4 35.5,88.6 C35.5,87.8 36.0,86.8 36.6,86.1 C37.3,85.5 38.5,84.9 39.6,84.6 C40.8,84.4 42.2,84.4 43.4,84.6 C44.5,84.9 45.7,85.5 46.4,86.1 C47.0,86.8 47.5,87.8 47.5,88.6Z" fill="#f4f0f4"/>
<path d="M53.0,112.5 C53.0,113.4 52.5,114.4 51.7,115.1 C50.9,115.9 49.5,116.5 48.2,116.8 C46.9,117.1 45.1,117.1 43.8,116.8 C42.5,116.5 41.1,115.9 40.3,115.1 C39.5,114.4 39.0,113.4 39.0,112.5 C39.0,111.6 39.5,110.6 40.3,109.9 C41.1,109.1 42.5,108.5 43.8,108.2 C45.1,107.9 46.9,107.9 48.2,108.2 C49.5,108.5 50.9,109.1 51.7,109.9 C52.5,110.6 53.0,111.6 53.0,112.5Z" fill="#f4f0f4"/>
<path d="M104.5,108.0 C104.5,110.9 103.4,114.4 101.7,116.8 C100.1,119.2 97.2,121.4 94.5,122.3 C91.8,123.2 88.2,123.2 85.5,122.3 C82.8,121.4 79.9,119.2 78.3,116.8 C76.6,114.4 75.5,110.9 75.5,108.0 C75.5,105.1 76.6,101.6 78.3,99.2 C79.9,96.8 82.8,94.6 85.5,93.7 C88.2,92.8 91.8,92.8 94.5,93.7 C97.2,94.6 100.1,96.8 101.7,99.2 C103.4,101.6 104.5,105.1 104.5,108.0Z" fill="#f4f0f4"/>
<path d="M116.0,98.0 C116.7,96.0 121.0,95.3 124.0,96.0 C127.0,96.7 131.0,99.7 134.0,102.0 C137.0,104.3 141.0,107.5 142.0,110.0 C143.0,112.5 142.0,116.0 140.0,117.0 C138.0,118.0 133.3,117.5 130.0,116.0 C126.7,114.5 122.3,111.0 120.0,108.0 C117.7,105.0 115.3,100.0 116.0,98.0Z" fill="#f4f0f4"/>
<path d="M52.0,62.0 C52.0,63.0 51.6,64.1 50.9,64.9 C50.3,65.7 49.2,66.5 48.2,66.8 C47.2,67.1 45.8,67.1 44.8,66.8 C43.8,66.5 42.7,65.7 42.1,64.9 C41.4,64.1 41.0,63.0 41.0,62.0 C41.0,61.0 41.4,59.9 42.1,59.1 C42.7,58.3 43.8,57.5 44.8,57.2 C45.8,56.9 47.2,56.9 48.2,57.2 C49.2,57.5 50.3,58.3 50.9,59.1 C51.6,59.9 52.0,61.0 52.0,62.0Z" fill="#f4f0f4"/>
<path d="M68.0,102.5 C68.0,103.2 67.7,104.0 67.2,104.6 C66.8,105.1 66.0,105.6 65.2,105.8 C64.5,106.0 63.5,106.0 62.8,105.8 C62.0,105.6 61.2,105.1 60.8,104.6 C60.3,104.0 60.0,103.2 60.0,102.5 C60.0,101.8 60.3,101.0 60.8,100.4 C61.2,99.9 62.0,99.4 62.8,99.2 C63.5,99.0 64.5,99.0 65.2,99.2 C66.0,99.4 66.8,99.9 67.2,100.4 C67.7,101.0 68.0,101.8 68.0,102.5Z" fill="#f4f0f4"/>
<path d="M203.0,72.0 C204.3,69.0 208.8,66.3 210.0,72.0 C211.2,77.7 211.0,100.7 210.0,106.0 C209.0,111.3 205.3,106.7 204.0,104.0 C202.7,101.3 202.2,95.3 202.0,90.0 C201.8,84.7 201.7,75.0 203.0,72.0Z" fill="#f4f0f4"/>
</g>
</g></g>
<g transform="translate(106,479)">
<clipPath id="cp4"><rect width="203" height="126"/></clipPath>
<g clip-path="url(#cp4)">
<rect width="203" height="126" fill="#c5c1e2"/>
<g filter="url(#blur4)">
<ellipse cx="25" cy="22" rx="28" ry="20" fill="#c6c2e6" opacity="0.9"/>
<ellipse cx="60" cy="85" rx="14" ry="35" fill="#cac6e8" opacity="0.9"/>
<ellipse cx="175" cy="30" rx="14" ry="16" fill="#c8c4e6" opacity="0.85"/>
<ellipse cx="150" cy="10" rx="40" ry="8" fill="#c8c4e6" opacity="0.8"/>
<ellipse cx="112" cy="70" rx="7" ry="20" fill="#c8c4e6" opacity="0.8"/>
</g>
<g filter="url(#blur1)" opacity="0.7">
<path fill="none" stroke-linecap="round" stroke="#6a64a8" stroke-width="1.0" d="M2.8 8.7l6.2 -4.8M30.6 39.4l5.1 -5.4M41.7 8.6l4.2 -4.6M-2.0 23.5l11.2 -6.6M34.3 29.7l6.9 -4.1M15.6 35.0l6.1 -3.6M8.3 9.5l9.6 -5.9M42.5 31.6l5.7 -5.0M24.4 29.5l11.1 -9.1M29.6 22.6l7.8 -7.2M20.7 51.2l8.7 -9.3M30.1 25.3l3.9 -4.8M22.2 19.2l5.9 -5.5M44.9 40.6l10.8 -7.0M-1.9 51.6l6.4 -7.4M26.7 28.2l12.8 -8.7M23.2 28.7l13.7 -7.8M39.3 28.3l12.9 -9.1M46.6 49.6l10.0 -6.5M1.9 21.8l6.6 -4.5M22.5 13.5l4.0 -4.9M45.0 18.1l7.1 -4.7M9.5 7.4l8.1 -9.5M20.4 38.4l12.7 -9.4M29.6 8.3l8.2 -4.6M40.2 36.8l4.3 -5.0M28.0 35.0l10.1 -10.1M11.9 16.2l4.5 -5.2M5.5 48.5l9.0 -10.3M20.8 40.8l7.4 -5.5M30.0 46.8l5.0 -5.3M3.7 24.5l5.4 -4.3M37.1 43.8l9.4 -11.1M41.4 12.6l9.1 -7.5M16.8 23.7l9.7 -7.8M70.2 123.7l9.9 -9.9M44.5 67.3l12.9 -7.7M43.2 93.2l5.2 -4.4M71.2 113.4l6.7 -6.5M57.9 78.4l10.3 -6.0M72.6 118.1l5.3 -5.6M59.6 90.0l10.0 -10.3M61.7 72.6l12.9 -8.5M68.5 64.8l10.5 -10.9M45.7 68.9l4.7 -5.9M61.5 122.2l12.5 -8.2M49.3 122.4l5.1 -5.7M72.5 90.0l6.2 -5.9M60.4 80.2l13.1 -7.8M68.6 69.2l5.3 -5.6M54.5 110.3l10.6 -10.7M48.9 96.0l10.5 -8.0M172.7 9.9l6.9 -4.5M161.2 9.0l10.2 -6.5M174.7 6.6l7.3 -6.1M153.4 9.6l6.6 -7.7M143.2 7.4l8.1 -6.9M163.6 7.6l8.5 -8.1M134.9 6.4l11.0 -7.6M187.9 13.2l6.1 -3.5M151.7 5.1l9.0 -6.9M171.4 3.4l5.6 -3.6M162.2 55.1l8.4 -7.6M172.2 48.6l7.7 -6.7M179.7 43.1l7.5 -5.9M167.1 29.0l8.1 -7.9M175.5 40.0l8.8 -8.5M159.2 36.5l11.0 -11.3M171.3 38.5l12.1 -8.5M162.0 19.1l7.7 -6.1M167.1 22.4l10.4 -7.4"/>
<path fill="none" stroke-linecap="round" stroke="#6a64a8" stroke-width="1.5" d="M4.1 49.0l10.2 -8.4M28.8 46.7l6.0 -5.3M27.1 17.3l11.6 -9.6M-2.4 39.3l8.2 -5.3M25.6 47.7l4.5 -4.8M33.7 28.3l8.2 -6.6M2.5 25.0l11.5 -9.9M30.9 23.9l5.6 -4.0M6.0 9.7l8.4 -9.6M20.9 38.1l8.3 -5.4M36.0 6.8l4.6 -4.8M2.2 52.7l8.3 -10.3M26.4 31.3l10.0 -8.1M39.2 22.2l6.9 -7.1M38.6 28.7l9.1 -8.5M16.2 51.0l8.2 -7.9M27.1 41.2l7.7 -4.1M-0.3 13.3l9.2 -11.1M5.3 16.4l8.1 -7.5M10.6 16.4l10.2 -11.4M28.8 34.5l9.3 -11.2M14.2 46.6l10.4 -10.7M9.9 44.6l9.0 -9.8M-2.6 21.9l9.0 -11.5M8.2 38.0l11.0 -9.0M43.7 28.7l10.5 -10.7M42.6 27.4l5.3 -2.9M7.2 21.3l5.8 -5.6M18.5 34.9l4.9 -3.9M19.2 47.9l5.6 -4.3M2.6 18.7l10.6 -12.0M0.8 27.4l9.8 -9.5M-3.5 46.4l9.8 -5.6M9.5 7.0l11.6 -7.3M41.7 52.3l10.3 -10.0M51.9 47.8l7.1 -5.2M56.3 118.6l8.0 -4.4M57.5 105.9l5.7 -5.5M42.9 98.3l6.4 -7.2M71.0 99.5l6.6 -8.1M64.8 75.6l7.2 -5.4M65.5 85.3l5.9 -6.3M47.6 48.0l4.7 -4.1M51.5 84.6l11.6 -7.8M61.2 102.9l10.4 -10.7M55.2 97.1l7.5 -7.8M43.0 69.3l13.3 -8.1M61.6 66.5l10.4 -8.8M51.7 49.7l6.5 -3.5M40.1 88.9l9.5 -11.2M59.5 78.7l11.9 -9.6M169.9 3.2l10.7 -6.0M119.9 9.0l11.1 -7.4M172.7 18.4l6.3 -5.4M146.0 16.6l12.9 -9.1M141.2 12.4l9.7 -7.8M194.6 21.0l9.7 -11.1M121.4 18.7l9.0 -11.2M163.8 11.6l9.6 -7.0M135.0 15.8l5.4 -6.5M167.4 5.5l7.4 -6.5M165.2 10.8l4.6 -4.7M149.2 5.3l4.6 -5.3M194.7 9.2l8.2 -8.5M145.0 11.5l5.6 -4.9M163.1 52.1l8.8 -6.9M182.3 34.7l9.6 -8.8M174.2 54.5l10.8 -6.6M175.1 37.7l11.7 -9.0M166.5 26.1l10.3 -5.8M174.1 41.8l7.3 -6.0"/>
<path fill="none" stroke-linecap="round" stroke="#6a64a8" stroke-width="2.0" d="M37.4 43.9l8.1 -7.5M5.8 10.5l6.6 -4.4M8.9 50.2l6.3 -7.9M5.3 29.2l7.1 -8.5M40.2 7.4l7.8 -8.2M23.3 45.4l10.5 -6.9M22.2 30.0l10.9 -9.2M11.4 45.0l11.6 -9.5M8.8 33.8l10.8 -11.4M40.5 21.4l8.6 -5.6M44.8 12.9l6.7 -4.2M30.7 31.2l6.7 -6.8M25.4 16.8l5.1 -4.9M11.9 31.8l9.5 -11.7M22.4 45.0l10.6 -7.6M28.7 25.0l8.4 -7.8M25.6 7.8l5.2 -4.8M22.7 35.7l6.9 -7.2M19.2 48.3l4.9 -5.3M9.4 49.7l4.3 -5.0M67.8 127.8l5.4 -5.6M56.7 65.3l5.7 -7.1M67.5 63.5l8.7 -10.0M68.8 113.9l13.3 -7.9M59.6 95.3l7.8 -5.9M69.3 79.8l5.6 -6.9M58.2 57.2l6.5 -6.3M53.5 89.2l6.3 -4.5M72.1 101.4l5.8 -5.6M67.8 68.7l10.5 -8.9M65.8 84.1l7.1 -7.3M48.8 92.0l12.9 -9.1M54.7 127.2l6.6 -5.6M69.7 84.6l5.5 -4.8M57.4 110.9l4.9 -5.7M42.3 84.1l8.6 -9.6M55.8 92.7l5.7 -6.6M44.8 75.3l4.7 -4.4M64.8 96.4l7.5 -7.8M60.1 83.6l12.1 -10.4M62.3 113.8l7.1 -4.1M130.1 15.7l6.4 -5.4M169.5 17.3l8.3 -7.3M124.8 18.1l10.5 -6.8M187.9 19.2l9.7 -8.0M124.2 13.2l11.9 -10.5M158.4 20.8l9.8 -7.9M125.8 6.4l5.7 -6.3M187.8 6.8l11.6 -9.7M177.4 11.3l9.8 -7.9M192.3 15.2l7.2 -8.3M146.8 21.3l9.7 -9.7M165.9 17.5l7.7 -6.0M174.1 38.6l11.4 -10.7M178.3 52.8l11.9 -7.6M181.8 54.7l11.4 -9.2M163.8 25.3l4.4 -4.9M169.0 31.5l10.4 -6.5M178.9 47.6l10.3 -10.4M182.2 38.2l7.3 -5.1M184.7 52.8l6.7 -5.2M167.4 20.8l4.0 -4.5M165.9 33.3l10.9 -9.6M184.9 44.1l8.4 -4.7M168.4 22.2l8.6 -7.0"/>
<path fill="none" stroke-linecap="round" stroke="#e4e2f4" stroke-width="2.4" d="M27.8 31.3l6.1 -5.4M2.9 24.5l5.7 -3.4M-0.6 31.5l6.9 -4.8M47.8 41.6l3.6 -3.6M31.5 8.1l8.0 -4.5M31.7 41.6l4.9 -3.8M18.1 35.9l6.0 -4.2M1.7 50.3l7.4 -4.9M44.1 37.8l4.1 -4.8M47.1 45.8l4.9 -5.5M36.1 36.7l8.7 -10.2M30.3 41.1l6.6 -7.7M64.9 83.3l6.4 -7.8M56.7 91.8l8.7 -6.3M59.5 79.2l11.1 -6.9M57.9 65.1l3.5 -3.9M44.0 70.8l6.9 -7.1M72.6 111.0l3.8 -3.7M62.7 100.1l6.6 -6.6M53.5 55.5l7.2 -5.2M159.3 8.5l9.4 -9.9M173.7 4.1l9.6 -6.0M119.4 5.8l6.2 -4.0M144.0 7.8l9.1 -6.6M175.1 17.5l7.1 -4.2"/>
<path fill="none" stroke-linecap="round" stroke="#e4e2f4" stroke-width="1.2" d="M27.3 35.8l9.8 -8.7M14.5 9.0l4.8 -3.3M16.2 26.7l6.5 -4.4M25.5 36.7l4.9 -4.1M9.9 29.6l9.9 -8.5M33.9 32.8l5.6 -4.6M1.9 41.4l9.3 -8.6M59.3 77.0l9.4 -8.0M52.2 101.7l6.2 -7.5M69.9 58.8l3.6 -4.4M63.0 97.0l4.4 -5.5M47.5 120.2l9.0 -5.9M48.3 88.5l11.7 -7.6M59.7 68.0l8.6 -7.4M62.7 93.0l4.5 -3.4M181.5 10.2l7.6 -4.1M170.1 7.5l4.4 -4.7M189.4 5.0l8.6 -4.9M176.4 2.8l8.0 -4.6M199.5 2.6l4.1 -5.2"/>
<path fill="none" stroke-linecap="round" stroke="#e4e2f4" stroke-width="1.8" d="M6.0 42.4l8.7 -8.8M21.6 37.4l8.2 -5.5M35.3 16.9l4.9 -3.7M43.6 3.6l6.2 -6.5M30.1 35.0l6.1 -6.8M5.3 16.1l6.1 -4.3M8.8 46.8l7.4 -5.8M28.8 22.9l9.2 -6.7M-2.3 34.2l7.4 -8.9M-3.1 24.8l8.5 -10.4M3.4 3.4l5.5 -3.6M45.5 94.2l5.3 -4.5M62.1 126.2l6.0 -5.8M63.8 77.2l9.1 -8.5M69.9 106.4l3.6 -4.1M59.7 78.6l6.6 -5.4M67.1 124.7l7.8 -7.1M58.2 67.3l5.5 -5.0M66.8 79.0l11.5 -7.3M56.1 107.4l8.3 -6.2M126.1 11.1l7.3 -9.2M157.9 20.9l11.1 -7.9M150.6 9.8l10.7 -6.6M124.1 5.8l5.4 -4.4M169.4 15.7l3.6 -3.8"/>
</g>
<g filter="url(#blur15)">
<path d="M0.0,42.0 C1.3,42.7 5.3,45.7 8.0,46.0 C10.7,46.3 14.7,44.3 16.0,44.0" fill="none" stroke="#a5a1d2" stroke-width="8" stroke-linecap="round" stroke-linejoin="round"/>
<path d="M112.0,20.0 C112.3,25.0 113.0,40.7 114.0,50.0 C115.0,59.3 113.7,69.3 118.0,76.0 C122.3,82.7 136.3,87.7 140.0,90.0" fill="none" stroke="#a5a1d2" stroke-width="12" stroke-linecap="round" stroke-linejoin="round"/>
<path d="M150.0,65.0 C152.5,64.8 159.2,63.2 165.0,64.0 C170.8,64.8 179.2,67.3 185.0,70.0 C190.8,72.7 197.5,78.3 200.0,80.0" fill="none" stroke="#a5a1d2" stroke-width="10" stroke-linecap="round" stroke-linejoin="round"/>
<path d="M0.0,116.0 C5.0,116.3 21.7,117.0 30.0,118.0 C38.3,119.0 46.7,121.3 50.0,122.0" fill="none" stroke="#a5a1d2" stroke-width="10" stroke-linecap="round" stroke-linejoin="round"/>
<path d="M150.0,40.0 C151.3,42.5 158.0,50.0 158.0,55.0 C158.0,60.0 151.3,67.5 150.0,70.0" fill="none" stroke="#a5a1d2" stroke-width="12" stroke-linecap="round" stroke-linejoin="round"/>
<path d="M160.0,110.0 C162.5,111.3 170.0,116.3 175.0,118.0 C180.0,119.7 187.5,119.7 190.0,120.0" fill="none" stroke="#a5a1d2" stroke-width="10" stroke-linecap="round" stroke-linejoin="round"/>
<path d="M3.2,57.0 C4.0,53.8 5.6,52.2 8.0,51.0 C10.4,49.8 14.6,49.8 17.5,50.0 C20.4,50.2 23.1,50.8 25.5,52.5 C27.9,54.2 29.9,57.3 31.8,60.5 C33.6,63.7 35.0,67.6 36.6,71.6 C38.2,75.6 40.2,80.3 41.4,84.3 C42.6,88.3 43.8,92.0 43.8,95.5 C43.8,99.0 43.0,102.9 41.4,105.0 C39.8,107.1 36.9,108.5 34.2,108.2 C31.6,107.9 28.3,106.1 25.5,103.4 C22.7,100.8 20.2,96.0 17.5,92.3 C14.8,88.6 11.9,84.7 9.5,81.0 C7.1,77.3 4.2,74.0 3.2,70.0 C2.2,66.0 2.4,60.2 3.2,57.0Z" fill="#a5a1d2" stroke="#a5a1d2" stroke-width="18.0" stroke-linejoin="round"/>
<path d="M80.0,28.0 C81.5,25.9 85.2,23.7 88.0,23.5 C90.8,23.3 95.2,24.9 97.0,27.0 C98.8,29.1 99.1,33.2 98.6,36.0 C98.1,38.8 96.1,42.8 94.0,44.0 C91.9,45.2 88.5,44.3 86.0,43.0 C83.5,41.7 80.0,38.5 79.0,36.0 C78.0,33.5 78.5,30.1 80.0,28.0Z" fill="#a5a1d2" stroke="#a5a1d2" stroke-width="20.0" stroke-linejoin="round"/>
<path d="M75.6,11.2 C75.6,12.1 75.1,13.3 74.4,14.0 C73.7,14.8 72.4,15.5 71.2,15.8 C70.1,16.1 68.5,16.1 67.4,15.8 C66.2,15.5 64.9,14.8 64.2,14.0 C63.5,13.3 63.0,12.1 63.0,11.2 C63.0,10.3 63.5,9.1 64.2,8.4 C64.9,7.6 66.2,6.9 67.4,6.6 C68.5,6.3 70.1,6.3 71.2,6.6 C72.4,6.9 73.7,7.6 74.4,8.4 C75.1,9.1 75.6,10.3 75.6,11.2Z" fill="#a5a1d2" stroke="#a5a1d2" stroke-width="16.0" stroke-linejoin="round"/>
<path d="M139.5,36.0 C139.5,38.0 138.8,40.3 137.7,41.9 C136.6,43.5 134.7,44.9 132.9,45.5 C131.2,46.1 128.8,46.1 127.1,45.5 C125.3,44.9 123.4,43.5 122.3,41.9 C121.2,40.3 120.5,38.0 120.5,36.0 C120.5,34.0 121.2,31.7 122.3,30.1 C123.4,28.5 125.3,27.1 127.1,26.5 C128.8,25.9 131.2,25.9 132.9,26.5 C134.7,27.1 136.6,28.5 137.7,30.1 C138.8,31.7 139.5,34.0 139.5,36.0Z" fill="#a5a1d2" stroke="#a5a1d2" stroke-width="22.0" stroke-linejoin="round"/>
<path d="M72.5,58.0 C72.5,59.1 72.0,60.4 71.4,61.2 C70.7,62.1 69.5,62.9 68.4,63.2 C67.2,63.6 65.8,63.6 64.6,63.2 C63.5,62.9 62.3,62.1 61.6,61.2 C61.0,60.4 60.5,59.1 60.5,58.0 C60.5,56.9 61.0,55.6 61.6,54.8 C62.3,53.9 63.5,53.1 64.6,52.8 C65.8,52.4 67.2,52.4 68.4,52.8 C69.5,53.1 70.7,53.9 71.4,54.8 C72.0,55.6 72.5,56.9 72.5,58.0Z" fill="#a5a1d2" stroke="#a5a1d2" stroke-width="16.0" stroke-linejoin="round"/>
<path d="M137.5,62.0 C137.5,63.0 137.0,64.1 136.3,64.9 C135.5,65.7 134.2,66.5 133.0,66.8 C131.8,67.1 130.2,67.1 129.0,66.8 C127.8,66.5 126.5,65.7 125.7,64.9 C125.0,64.1 124.5,63.0 124.5,62.0 C124.5,61.0 125.0,59.9 125.7,59.1 C126.5,58.3 127.8,57.5 129.0,57.2 C130.2,56.9 131.8,56.9 133.0,57.2 C134.2,57.5 135.5,58.3 136.3,59.1 C137.0,59.9 137.5,61.0 137.5,62.0Z" fill="#a5a1d2" stroke="#a5a1d2" stroke-width="16.0" stroke-linejoin="round"/>
<path d="M165.0,78.0 C165.3,75.3 169.5,75.3 172.0,76.0 C174.5,76.7 178.3,79.7 180.0,82.0 C181.7,84.3 182.3,88.0 182.0,90.0 C181.7,92.0 180.0,93.7 178.0,94.0 C176.0,94.3 172.2,94.7 170.0,92.0 C167.8,89.3 164.7,80.7 165.0,78.0Z" fill="#a5a1d2" stroke="#a5a1d2" stroke-width="18.0" stroke-linejoin="round"/>
<path d="M90.0,99.0 C90.7,96.8 95.0,96.2 97.0,97.0 C99.0,97.8 101.3,101.8 102.0,104.0 C102.7,106.2 102.5,109.0 101.0,110.0 C99.5,111.0 94.8,111.8 93.0,110.0 C91.2,108.2 89.3,101.2 90.0,99.0Z" fill="#a5a1d2" stroke="#a5a1d2" stroke-width="18.0" stroke-linejoin="round"/>
<path d="M152.0,108.0 C152.0,109.1 151.5,110.4 150.7,111.2 C149.9,112.1 148.5,112.9 147.2,113.2 C145.9,113.6 144.1,113.6 142.8,113.2 C141.5,112.9 140.1,112.1 139.3,111.2 C138.5,110.4 138.0,109.1 138.0,108.0 C138.0,106.9 138.5,105.6 139.3,104.8 C140.1,103.9 141.5,103.1 142.8,102.8 C144.1,102.4 145.9,102.4 147.2,102.8 C148.5,103.1 149.9,103.9 150.7,104.8 C151.5,105.6 152.0,106.9 152.0,108.0Z" fill="#a5a1d2" stroke="#a5a1d2" stroke-width="16.0" stroke-linejoin="round"/>
<path d="M134.5,91.5 C134.5,92.3 134.2,93.2 133.7,93.9 C133.3,94.5 132.5,95.1 131.7,95.3 C131.0,95.5 130.0,95.5 129.3,95.3 C128.5,95.1 127.7,94.5 127.3,93.9 C126.8,93.2 126.5,92.3 126.5,91.5 C126.5,90.7 126.8,89.8 127.3,89.1 C127.7,88.5 128.5,87.9 129.3,87.7 C130.0,87.5 131.0,87.5 131.7,87.7 C132.5,87.9 133.3,88.5 133.7,89.1 C134.2,89.8 134.5,90.7 134.5,91.5Z" fill="#a5a1d2" stroke="#a5a1d2" stroke-width="10.0" stroke-linejoin="round"/>
<path d="M204.0,38.5 C204.0,39.8 203.5,41.3 202.9,42.3 C202.2,43.4 201.0,44.3 199.9,44.7 C198.7,45.1 197.3,45.1 196.1,44.7 C195.0,44.3 193.8,43.4 193.1,42.3 C192.5,41.3 192.0,39.8 192.0,38.5 C192.0,37.2 192.5,35.7 193.1,34.7 C193.8,33.6 195.0,32.7 196.1,32.3 C197.3,31.9 198.7,31.9 199.9,32.3 C201.0,32.7 202.2,33.6 202.9,34.7 C203.5,35.7 204.0,37.2 204.0,38.5Z" fill="#a5a1d2" stroke="#a5a1d2" stroke-width="16.0" stroke-linejoin="round"/>
<path d="M200.5,62.5 C200.5,63.4 200.1,64.4 199.4,65.1 C198.8,65.9 197.7,66.5 196.7,66.8 C195.7,67.1 194.3,67.1 193.3,66.8 C192.3,66.5 191.2,65.9 190.6,65.1 C189.9,64.4 189.5,63.4 189.5,62.5 C189.5,61.6 189.9,60.6 190.6,59.9 C191.2,59.1 192.3,58.5 193.3,58.2 C194.3,57.9 195.7,57.9 196.7,58.2 C197.7,58.5 198.8,59.1 199.4,59.9 C200.1,60.6 200.5,61.6 200.5,62.5Z" fill="#a5a1d2" stroke="#a5a1d2" stroke-width="14.0" stroke-linejoin="round"/>
<path d="M196.0,106.0 C197.7,102.0 203.5,100.3 205.0,104.0 C206.5,107.7 206.7,124.0 205.0,128.0 C203.3,132.0 196.5,131.7 195.0,128.0 C193.5,124.3 194.3,110.0 196.0,106.0Z" fill="#a5a1d2" stroke="#a5a1d2" stroke-width="12.0" stroke-linejoin="round"/>
<path d="M72.0,58.0 C73.5,55.7 79.3,55.0 82.0,56.0 C84.7,57.0 87.0,60.7 88.0,64.0 C89.0,67.3 89.3,73.7 88.0,76.0 C86.7,78.3 82.5,79.0 80.0,78.0 C77.5,77.0 74.3,73.3 73.0,70.0 C71.7,66.7 70.5,60.3 72.0,58.0Z" fill="#a5a1d2" stroke="#a5a1d2" stroke-width="10.0" stroke-linejoin="round"/>
</g>
<g filter="url(#blur07)" fill="none" stroke-linecap="round">
<path stroke="#3a3890" stroke-width="4.0" d="M0.2 54.3l1.0 1.3M51.0 99.3l-1.1-0.1M12.9 99.4l1.7-0.8M10.2 90.4l1.4-1.1M-0.2 75.3l1.2-1.1M103.8 44.6l-1.1-0.3M76.1 40.6l1.0-0.9M71.1 30.0l1.5 0.5M58.6 8.4l1.2 0.8M145.1 40.7l-1.9-0.2M127.2 51.7l-0.2-1.0M111.6 27.3l1.6 0.1M126.3 69.7l0.2-1.2M174.1 100.8l0.9-1.4M168.5 99.9l0.4-1.3M88.1 111.1l1.1 0.0M194.0 29.6l0.6 1.1M201.2 68.6l-0.8-1.7M198.9 70.9l-0.3-1.5M208.4 109.6l-2.0 0.4M191.6 126.1l1.4-0.0M116.0 24.4l-1.7 0.4M117.2 65.4l-1.6-0.1M164.2 63.6l0.4 1.4M9.5 112.9l0.5 2.0M26.8 113.6l-0.4 1.1M148.6 68.9l-1.3-0.9M162.8 110.4l-1.2 1.3M11.8 25.4l1.3-0.6M195.3 99.0l1.4-1.4M192.9 89.2l1.5-0.8M115.6 77.3l1.4-0.8M39.9 121.4l0.9-0.5M106.3 56.9l0.9-0.6M68.0 87.2l0.6-1.0M184.1 19.7l0.9-0.9"/>
<path stroke="#34308a" stroke-width="4.0" d="M-2.8 52.5l1.7 0.7M39.1 57.3l-1.3 1.0M40.6 70.3l-1.4 0.3M27.8 114.7l0.7-0.8M25.1 113.5l0.7-1.4M1.5 77.7l1.1-0.9M-0.6 60.9l1.5-0.3M78.0 17.9l0.3 1.6M73.6 33.3l1.6 0.5M77.6 15.4l-1.0-0.5M64.6 18.1l0.4-1.2M62.8 4.3l0.9 1.6M79.1 8.1l-1.3 0.6M136.2 49.4l-1.2-1.3M143.9 34.4l-1.2 0.2M62.0 50.5l1.1 1.3M66.8 47.1l0.2 2.0M145.7 117.3l0.1-1.5M138.0 89.8l-1.6 0.1M188.1 41.2l1.8-0.8M199.1 27.4l-0.1 1.0M113.9 24.6l-1.4 0.2M118.8 48.2l-1.2 0.5M112.1 56.2l-1.3 0.3M113.2 63.1l-1.7 0.9M40.9 119.5l-0.8 1.8M45.7 119.4l-0.5 1.5M166.1 108.4l-0.4 1.4M25.7 37.3l1.1-0.5M68.8 82.5l1.2-0.6M4.1 25.6l1.2-1.4M108.1 58.1l0.7-1.1M63.3 118.1l1.2-1.6M190.9 14.1l0.9-0.7M75.1 30.9l0.6-0.9"/>
<path stroke="#504a9e" stroke-width="4.3" d="M0.6 51.3l1.2 0.5M29.7 51.1l-1.1 0.6M38.8 64.4l-1.2 0.2M49.5 84.0l-1.4 0.7M81.2 17.9l0.4 0.7M80.8 44.3l0.7-0.6M79.9 13.3l-0.9-0.8M61.2 14.5l0.9-0.6M66.5 67.0l-0.3-1.6M61.4 65.9l0.8-1.3M75.9 53.9l-0.9 0.7M189.0 83.6l-1.4 0.4M158.9 83.8l1.1-0.7M94.6 93.0l-0.0 0.8M110.5 107.4l-1.4 0.1M208.3 34.6l-1.1 0.0M200.8 100.7l0.4 0.8M13.7 45.5l-0.1 1.6M110.9 29.7l-0.7-0.0M113.1 32.0l-0.8-0.1M114.8 51.1l-1.0 0.0M119.4 57.5l-0.9 0.3M115.6 62.9l-1.0 0.4M113.5 68.2l-0.9 0.1M116.3 72.7l-1.4 0.1M114.0 73.0l-1.3 0.1M124.8 81.0l-0.9 1.3M155.0 42.7l-1.3 0.8M6.8 37.0l1.0-0.9M129.8 7.0l0.6-0.6M161.0 123.2l0.7-0.5M16.8 10.5l0.6-0.8M114.9 15.6l1.3-0.7M132.8 7.7l1.1-1.1M42.3 53.5l1.4-0.9M18.0 112.1l0.7-1.1"/>
<path stroke="#34308a" stroke-width="4.3" d="M3.5 49.4l0.7 0.8M32.7 52.8l-1.5 0.5M36.3 53.3l-0.8 0.8M36.9 61.7l-0.7 0.5M46.1 87.8l-1.2 0.6M-1.3 66.6l1.3 0.3M103.1 28.2l-1.1 0.1M139.7 54.0l-0.7-0.6M130.2 51.1l-0.2-1.2M132.9 20.3l-0.2 1.3M148.6 33.0l-1.2 0.3M131.1 70.5l-0.3-0.8M89.0 95.3l0.3 1.2M84.5 112.2l1.6-0.3M86.9 105.5l0.9-0.4M154.9 112.7l-1.0-0.9M150.2 115.5l-0.4-0.7M154.1 104.0l-1.0 0.7M191.6 45.1l0.5-1.2M189.1 35.7l0.8 0.6M195.2 102.2l0.1 0.9M208.8 118.6l-1.2 0.4M192.5 114.2l1.5-0.1M7.9 42.8l0.2 0.8M120.5 78.8l-0.4 0.8M133.5 89.8l-0.8 0.9M159.7 65.5l-0.1 0.8M172.2 63.1l-0.5 1.4M186.4 72.2l-0.6 1.3M12.3 114.6l-0.3 0.8M42.4 122.8l-0.1 1.0M161.0 50.6l-1.4 0.4M159.4 54.2l-0.7 0.1M156.9 62.4l-0.6-0.5M167.7 110.6l-0.3 0.8M-0.2 27.3l0.7-0.6M153.8 18.8l1.0-1.3M194.9 5.6l1.3-0.9M180.4 17.5l1.0-1.1M73.3 38.8l1.3-1.0M123.4 90.8l0.8-1.3M179.0 5.5l0.8-1.3M79.0 118.9l1.0-0.6M155.3 108.4l1.4-0.7"/>
<path stroke="#45429a" stroke-width="4.3" d="M0.1 46.6l0.7 1.0M32.0 49.0l-0.7 0.9M27.0 110.1l0.6-1.1M16.4 96.9l0.9-0.3M-0.8 78.9l1.4-0.7M-5.1 63.8l0.8-0.2M-1.7 57.6l1.2 0.3M107.1 33.6l-1.6 0.2M100.8 43.2l-0.8-0.8M88.6 47.8l0.3-0.8M70.3 2.0l0.2 1.0M130.1 55.8l-0.0-0.9M116.9 43.4l1.6-0.2M138.2 24.3l-0.3 0.6M77.0 59.5l-0.8-0.0M58.4 53.9l1.1 0.3M175.8 74.0l-0.9 0.7M183.2 74.0l-0.6 0.7M169.2 97.1l0.1-0.9M156.6 81.5l1.1-0.8M134.1 95.5l-0.2-0.7M125.7 86.9l0.6 0.5M189.4 68.4l0.6-0.9M71.1 71.9l0.9-1.0M16.2 46.3l0.1 0.8M110.8 39.1l-1.3 0.5M117.8 43.6l-1.6 0.2M114.7 53.5l-0.8 0.0M122.9 75.1l-0.8 1.3M151.6 64.9l-1.4-0.6M16.2 17.8l1.0-1.2M156.9 20.5l0.8-1.2M200.5 7.0l1.0-0.5M43.2 125.9l0.7-0.3M89.0 17.4l0.7-1.0M101.3 55.6l0.7-0.7"/>
<path stroke="#3a3890" stroke-width="4.3" d="M8.8 46.5l0.3 1.5M47.1 101.7l-1.4-0.5M51.1 102.5l-1.4-0.1M-2.2 69.6l1.4 0.2M-5.5 57.5l1.6 0.4M92.3 19.8l-0.2 1.2M94.5 15.1l-0.9 1.3M102.4 31.6l-1.5-0.3M91.7 48.3l0.1-1.3M87.8 53.2l0.5-1.2M147.3 44.6l-0.8-0.0M127.2 55.7l-0.2-1.2M178.6 75.0l-0.5 0.8M180.5 72.8l-1.0 0.8M160.4 89.2l1.7-0.0M110.2 110.7l-1.5-0.5M96.2 118.9l-0.4-1.5M146.1 98.3l-0.3 1.0M207.5 39.7l-1.5-0.7M90.3 64.9l-0.9-0.1M7.1 43.5l-0.4 1.4M115.4 22.3l-1.0-0.3M117.6 39.0l-1.1-0.2M129.2 78.3l-0.5 1.5M133.8 89.3l-0.8 1.1M167.7 61.2l-0.2 0.8M168.6 66.7l-0.4 0.7M7.4 115.6l-0.4 0.9M152.8 41.2l-0.9 0.5M168.2 115.0l-0.6 1.0M174.6 113.4l-0.9 1.2M177.4 116.1l-0.1 1.6M116.7 40.3l0.6-0.9M107.7 43.6l1.0-0.7M189.6 23.9l1.0-0.5"/>
<path stroke="#504a9e" stroke-width="3.6" d="M8.1 42.2l0.8 2.3M23.7 42.3l-0.4 2.1M33.6 55.0l-1.2 1.9M47.0 90.8l-1.4 0.3M22.4 111.8l1.2-1.1M17.7 99.5l1.8-0.7M4.0 83.0l1.8-0.9M80.1 21.7l0.7 1.8M102.7 47.9l-1.2-1.3M111.0 42.4l1.9-1.0M56.9 56.8l2.3 0.2M87.5 91.0l0.9 1.6M202.6 131.4l-0.7-2.1M139.9 84.0l-0.9 1.5M155.2 53.3l-1.1 1.2M44.8 10.8l1.2-0.9M38.9 42.7l1.1-1.4M97.1 88.1l1.7-0.9M-0.6 92.3l1.3-0.8M71.2 104.9l1.7-1.4M74.1 53.7l0.9-1.3"/>
<path stroke="#504a9e" stroke-width="4.0" d="M11.1 42.5l0.8 1.9M43.0 65.8l-1.2 0.3M42.9 76.0l-2.0 0.2M49.1 93.7l-2.0-0.2M40.9 114.1l-0.7-0.9M30.0 111.1l0.7-1.7M10.4 97.5l1.7-0.8M95.2 20.5l-0.2 1.7M75.0 4.5l-0.9 1.6M120.4 23.1l0.8 1.3M118.9 21.3l0.8 0.7M144.5 30.9l-1.4 0.8M177.8 71.0l-0.6 1.1M186.3 87.2l-1.5 0.7M87.0 108.6l1.6-0.7M134.9 85.0l-0.7 1.8M191.1 31.2l1.1 0.9M187.6 58.8l1.1 0.9M208.7 124.7l-1.4 0.2M90.3 67.9l-2.0-0.2M111.5 19.9l-1.4 0.3M111.1 44.3l-1.8-0.3M162.0 61.1l-0.3 1.1M181.2 66.6l-0.6 1.6M19.4 115.2l-0.4 1.9M153.7 46.2l-1.8 1.0M157.7 46.6l-0.9 0.8M170.6 116.3l-1.4 1.5M185.0 114.9l-0.3 1.3M188.6 122.8l0.0 1.6M168.1 5.5l1.0-0.6M181.2 19.9l0.6-1.0M80.5 25.8l1.3-0.6M166.7 24.9l1.2-0.6M56.6 53.5l1.1-0.4M167.5 50.5l1.2-0.5"/>
<path stroke="#3a3890" stroke-width="3.6" d="M14.9 46.1l-0.0 1.5M14.5 41.9l0.0 2.0M25.4 46.1l0.0 2.4M50.4 87.2l-1.7-0.0M47.8 98.7l-2.2-0.5M18.2 103.3l1.6-1.3M85.1 52.6l0.1-1.7M119.0 51.5l0.6-1.4M115.5 31.6l1.8 0.2M143.4 21.9l-0.7 2.2M169.2 71.3l0.7 1.4M184.1 93.9l-1.4-0.9M175.2 98.6l0.0-2.0M172.1 97.4l0.5-1.8M203.5 60.3l-1.6 0.6M199.2 132.3l0.1-1.9M86.5 55.1l-1.8 0.9M92.0 71.1l-2.0-0.6M87.8 79.2l-0.2-1.9M70.0 64.6l2.0-0.9M69.7 61.3l1.5-0.2M3.6 44.9l-0.2 1.7M116.7 34.1l-2.3 0.1M121.7 64.8l-1.8-0.3M123.7 82.4l-0.7 1.7M155.3 66.0l-0.6 2.3M188.3 73.7l-1.1 1.9M21.6 117.3l-0.3 2.2M39.1 115.9l-0.7 1.5M156.3 59.4l-1.4-0.9M34.6 2.7l1.4-1.8M51.8 72.1l1.7-1.5M171.6 121.1l1.3-1.9M113.0 21.8l1.0-1.3M137.7 119.8l0.8-1.2M125.9 1.8l1.2-1.3M73.9 41.5l1.8-0.7M157.0 13.2l1.5-1.7M142.7 125.7l1.1-1.1M193.5 50.4l1.2-0.9"/>
<path stroke="#45429a" stroke-width="3.6" d="M20.2 43.1l-0.0 1.6M35.4 50.6l-2.0 1.1M45.0 78.3l-1.8 0.4M8.8 95.1l1.8-1.3M83.8 15.9l0.4 1.7M74.1 19.4l-1.2-1.8M116.1 28.6l1.8 0.5M141.2 20.2l-1.0 1.7M181.5 76.6l-1.4 1.0M161.4 92.3l1.6-0.5M103.4 98.2l-1.1 0.8M143.0 99.1l-0.1 2.3M150.4 100.8l-1.0 1.5M190.9 55.8l1.4 1.1M207.6 128.0l-2.3-0.4M191.2 116.9l1.8 0.3M90.6 73.8l-2.0-0.1M77.4 78.5l0.9-1.3M72.0 75.4l1.2-1.9M67.9 58.4l1.9-0.0M121.7 81.1l-0.6 1.7M128.9 83.1l-0.5 1.6M134.1 80.2l-1.2 0.9M23.9 116.1l0.2 2.0M34.1 116.1l-0.5 1.9M36.4 115.9l-0.4 2.4M153.2 65.9l-1.5-1.0M179.8 114.5l0.3 1.8M52.7 22.1l1.1-1.5M158.1 17.9l1.2-1.8M43.4 89.1l1.9-1.1M186.6 120.0l1.7-0.9M73.8 73.3l1.1-1.5M151.3 125.8l1.1-1.2M160.3 111.7l1.8-1.3M168.5 49.7l1.7-1.5M54.2 80.8l1.8-1.1"/>
<path stroke="#3a3478" stroke-width="3.6" d="M22.6 47.2l-1.0 1.6M24.7 107.8l1.1-1.4M15.5 105.3l1.0-1.1M-4.5 66.5l1.3 0.5M82.4 20.4l0.9 1.1M84.8 17.8l0.9 2.2M75.1 30.9l1.8-0.3M138.3 47.6l-0.8-1.6M140.9 63.4l-1.4-0.6M131.4 53.7l-0.2 1.7M140.2 57.7l-1.4 1.1M167.0 72.9l-0.0 2.2M168.2 67.9l0.7 1.4M190.0 86.6l-2.2 0.1M90.5 90.3l0.9 2.1M101.4 96.2l-1.7 0.8M95.7 114.8l0.5-2.1M129.9 86.0l0.0 1.5M196.2 132.2l0.0-1.8M74.4 55.7l0.8 1.8M75.6 75.8l1.3-1.2M1.2 44.7l-0.5 1.5M11.0 45.8l0.6 1.8M114.3 41.4l-2.3 0.4M114.0 46.4l-2.2-0.1M111.9 53.9l-1.5 0.2M114.4 75.5l-1.8 0.0M129.2 83.0l-1.1 1.8M138.9 90.4l-1.1 1.3M140.6 86.9l-0.7 2.2M174.9 61.9l-0.5 2.1M0.4 112.4l-0.4 2.0M17.0 119.0l-0.8 2.1M150.9 39.4l-1.8 1.3M157.8 43.8l-1.3 1.1M153.7 48.7l-1.5 1.3M151.2 62.2l-1.6-1.2M0.8 28.5l1.2-0.9M51.6 18.1l2.2-0.8M55.4 65.6l1.3-1.3M9.5 36.7l1.8-1.1M46.1 70.2l1.4-0.7M74.8 12.3l1.6-1.6M146.3 21.7l1.1-1.7M162.9 36.2l1.4-0.6"/>
<path stroke="#34308a" stroke-width="3.6" d="M26.3 44.9l-0.6 1.3M45.6 71.9l-2.1 0.1M39.7 111.1l-1.4-1.9M13.9 102.7l1.0-1.0M13.7 95.6l1.4-1.6M12.4 92.3l2.0-1.1M8.9 87.6l2.0-1.3M5.7 85.9l2.1-0.9M75.5 19.5l0.6 2.0M101.7 40.3l-1.1-0.9M106.1 42.4l-1.9-0.6M142.0 52.0l-1.5-1.6M165.1 91.3l1.7-1.1M162.1 82.8l1.4-1.0M130.5 98.4l0.4-2.1M198.3 102.1l0.3 2.1M121.4 69.5l-1.8 0.2M132.7 81.8l-0.8 1.7M186.1 68.5l-0.9 1.5M193.0 75.6l-0.8 1.2M4.9 113.0l0.1 2.1M48.1 119.2l-0.5 2.0M154.3 37.5l-1.4 1.2M151.0 44.9l-1.2 0.7M154.4 69.1l-1.9-0.9M153.5 71.7l-1.6-1.4M186.7 117.2l0.3 2.3M51.6 5.5l1.7-1.4M6.1 42.2l1.5-0.8M163.1 95.7l0.7-1.3M37.7 40.9l1.2-1.4M22.5 122.5l0.8-1.3M49.0 33.3l1.3-1.0M18.5 24.7l1.3-1.5M168.3 72.0l1.9-0.8M150.4 40.5l2.1-0.8"/>
<path stroke="#45429a" stroke-width="4.0" d="M35.9 58.8l-1.1 0.7M48.9 79.8l-1.0 0.7M7.8 92.1l0.8-0.7M3.3 88.3l1.1-1.6M77.0 48.4l1.0-1.7M69.4 32.7l1.7 0.7M75.7 27.6l1.2 0.4M68.7 20.4l0.4-1.7M144.8 37.7l-1.1-0.5M148.6 42.2l-1.0-0.7M121.1 48.0l1.5-1.2M106.6 96.1l-1.4 0.7M204.6 29.5l-0.8 1.6M204.9 63.9l-2.0-0.1M185.4 64.4l1.2-0.1M206.9 106.6l-1.2 0.3M207.2 115.7l-1.1 0.1M193.1 120.1l1.7 0.2M80.0 52.6l0.6 1.7M82.2 80.3l-0.6-1.5M118.6 48.3l-1.6 0.4M119.8 60.0l-1.1 0.1M120.2 67.4l-1.3-0.2M116.3 75.2l-1.9-0.0M132.5 86.3l-0.4 1.5M139.6 84.4l-0.8 1.5M2.3 113.4l0.4 1.7M155.1 61.4l-1.1-0.6M150.2 61.7l-1.2-1.0M176.8 114.4l-0.8 1.2M43.8 30.7l1.2-0.6M9.5 9.0l1.6-1.0M191.9 1.8l1.0-0.6M149.4 57.5l0.8-1.3M156.1 17.9l1.1-0.9M0.9 41.8l1.5-0.7M65.9 99.7l0.7-1.1M135.1 11.6l1.2-1.1"/>
<path stroke="#2e2c80" stroke-width="3.6" d="M39.2 67.6l-1.6 0.2M45.0 68.7l-2.2 0.5M48.0 77.3l-1.5 0.1M45.7 104.6l-1.4-0.9M38.2 115.1l-1.4-1.7M20.3 105.2l1.7-0.8M17.6 107.4l1.2-1.1M97.0 16.6l-0.7 1.5M150.0 39.4l-1.2-0.8M109.7 39.3l2.3-0.5M149.0 29.7l-1.8 0.5M75.7 62.3l-2.0-0.6M58.5 61.9l1.2-1.0M119.5 60.0l2.1 0.3M136.0 54.6l-0.9 1.2M185.3 99.6l-1.3-1.2M163.0 88.4l1.9-0.3M83.0 106.5l2.0-0.6M82.4 103.8l1.3-0.9M137.3 116.1l1.2-1.0M134.3 104.9l2.2 0.7M198.5 48.6l0.3-2.3M195.8 53.8l-0.0 1.6M209.4 121.5l-1.7 0.6M77.1 52.9l0.5 2.2M70.4 67.2l1.9-0.1M116.3 36.5l-1.7 0.3M112.2 51.7l-1.9-0.3M116.2 55.5l-1.7 0.6M121.0 73.7l-1.4 1.8M156.9 62.0l0.4 2.0M200.9 77.0l-1.4 1.3M31.3 118.7l-1.0 2.1M152.1 67.6l-1.6-0.2M11.7 13.7l1.2-0.8M160.7 48.3l1.1-1.1M76.5 3.3l1.1-1.5M145.7 36.3l1.2-1.8M168.7 115.1l1.1-1.1M156.9 42.4l1.3-2.0M95.0 79.0l1.4-1.8"/>
<path stroke="#3a3478" stroke-width="4.0" d="M41.2 73.3l-1.1 0.2M51.8 89.9l-1.3 0.0M52.5 92.7l-1.5 0.2M99.6 17.6l-0.3 1.2M106.8 30.8l-1.8-0.3M103.1 34.0l-1.3 0.7M129.9 15.6l-0.2 1.1M141.3 24.9l-0.7 1.5M121.7 57.6l1.9 0.5M182.7 97.3l-0.8-1.3M171.4 101.6l-0.2-1.6M160.8 79.9l1.3-0.6M104.8 93.7l-1.1 0.5M138.1 92.9l-1.3-0.8M193.3 47.5l0.9-1.1M208.1 113.0l-1.2-0.4M193.0 108.3l1.5-0.4M86.2 58.8l-0.8 0.7M116.6 19.7l-1.7 0.1M111.7 32.0l-1.0 0.2M114.8 41.3l-2.0 0.5M111.5 46.4l-1.7 0.2M111.9 59.0l-1.9-0.3M149.9 63.5l0.0 1.1M191.3 73.7l-0.9 1.2M197.5 77.7l-1.3 1.2M14.6 112.6l-0.1 1.6M159.0 48.9l-1.1 0.4M158.5 49.1l-1.1 0.6M154.0 55.5l-1.2-0.9M154.4 55.9l-1.1-1.2M49.7 18.6l1.2-0.5M0.4 17.1l1.2-0.5M153.8 93.8l1.1-0.6M108.0 106.4l1.1-1.4M37.2 122.5l0.8-0.8"/>
<path stroke="#2e2c80" stroke-width="4.3" d="M44.4 81.4l-1.3 0.9M42.4 110.4l-0.6-1.3M-4.4 70.0l1.2-0.4M-1.8 63.8l1.5-0.0M-5.2 60.8l0.8-0.0M105.6 27.6l-1.0 0.2M99.8 45.8l-1.3-0.5M78.4 42.4l0.9-0.7M75.0 45.7l1.1-0.8M71.2 65.5l-0.8-0.8M141.0 66.8l-0.8-0.5M135.3 69.1l-0.5-1.3M163.9 73.9l0.1 1.1M163.4 85.3l0.9-0.5M159.7 86.6l1.5-0.6M126.0 96.9l1.0-1.0M204.1 101.5l0.5 1.1M71.6 56.2l0.4 1.3M89.2 60.5l-0.9 0.4M84.8 79.1l-0.0-0.9M113.4 27.0l-1.3 0.4M112.6 26.9l-1.4 0.6M125.2 76.2l-0.8 0.7M152.2 65.2l0.4 1.0M175.4 68.3l0.0 1.1M182.4 71.4l-0.9 1.2M50.4 120.4l-0.6 1.1M153.5 40.7l-0.6 0.7M159.7 53.9l-1.1 0.5M14.4 35.4l0.8-0.4M39.7 11.2l1.1-1.0M46.3 37.2l1.0-1.0M201.3 20.6l0.5-0.8M15.3 110.2l1.2-0.9"/>
<path stroke="#3a3478" stroke-width="4.3" d="M49.8 105.1l-1.3 0.1M43.9 113.4l-0.6-0.6M4.0 79.7l0.6-0.5M77.6 23.5l0.3 0.9M67.6 1.9l-0.3 1.1M142.9 43.2l-1.1-0.0M121.4 19.5l0.4 0.6M188.4 80.9l-1.7-0.0M108.0 98.8l-1.1 0.6M155.7 109.5l-0.7-0.2M133.9 111.0l1.5-0.2M123.7 92.8l0.7-0.3M205.9 42.2l-0.9-0.3M204.5 47.4l-0.7-0.5M193.8 69.2l-0.1-0.8M192.2 111.0l1.2 0.2M118.0 33.9l-1.5 0.4M112.7 61.3l-1.5-0.2M118.3 77.6l-0.6 1.4M28.8 113.5l0.3 1.3M32.9 12.7l1.2-0.6M45.1 10.1l0.9-1.1M33.1 8.5l0.6-0.4M151.7 11.4l0.8-0.4M102.0 89.3l0.8-0.8M7.0 121.2l0.7-0.7M169.8 106.6l0.4-0.6M69.7 101.1l0.8-0.5"/>
<path stroke="#2e2c80" stroke-width="4.0" d="M36.5 111.8l-0.8-1.7M1.1 84.7l1.1-0.7M98.1 21.7l-0.4 1.2M73.3 43.1l1.1-0.7M114.6 38.0l1.8-0.7M123.9 22.5l0.5 1.2M129.8 20.3l-0.1 1.7M133.0 15.9l-0.4 1.5M71.8 49.8l-0.5 1.7M120.9 66.8l1.1-0.9M126.2 54.3l1.1 1.1M186.6 96.2l-1.7-0.9M93.6 89.6l0.4 1.3M85.5 102.8l1.4-0.6M141.3 116.1l0.5-1.6M138.0 100.3l0.8 1.2M200.6 56.0l-1.2 1.4M192.0 123.2l1.5-0.2M-0.7 43.0l-0.4 1.5M114.0 22.3l-1.6-0.0M115.4 29.4l-1.3 0.1M116.9 36.5l-1.9 0.2M121.6 69.4l-1.3 0.1M127.6 80.7l-0.5 1.5M132.5 87.3l-1.4 1.3M177.8 69.1l-0.4 1.3M193.6 78.5l-0.6 1.6M158.7 60.9l-1.4-1.3M162.0 106.7l-1.0 1.0M182.1 117.4l-0.1 1.9M22.7 32.8l1.1-1.6M165.2 106.2l0.7-1.0M88.7 120.0l1.3-0.9"/>
</g>
<g filter="url(#blur07)">
<path d="M3.2,57.0 C4.0,53.8 5.6,52.2 8.0,51.0 C10.4,49.8 14.6,49.8 17.5,50.0 C20.4,50.2 23.1,50.8 25.5,52.5 C27.9,54.2 29.9,57.3 31.8,60.5 C33.6,63.7 35.0,67.6 36.6,71.6 C38.2,75.6 40.2,80.3 41.4,84.3 C42.6,88.3 43.8,92.0 43.8,95.5 C43.8,99.0 43.0,102.9 41.4,105.0 C39.8,107.1 36.9,108.5 34.2,108.2 C31.6,107.9 28.3,106.1 25.5,103.4 C22.7,100.8 20.2,96.0 17.5,92.3 C14.8,88.6 11.9,84.7 9.5,81.0 C7.1,77.3 4.2,74.0 3.2,70.0 C2.2,66.0 2.4,60.2 3.2,57.0Z" fill="none" stroke="#b8b4dc" stroke-width="4.5" stroke-linejoin="round"/>
<path d="M80.0,28.0 C81.5,25.9 85.2,23.7 88.0,23.5 C90.8,23.3 95.2,24.9 97.0,27.0 C98.8,29.1 99.1,33.2 98.6,36.0 C98.1,38.8 96.1,42.8 94.0,44.0 C91.9,45.2 88.5,44.3 86.0,43.0 C83.5,41.7 80.0,38.5 79.0,36.0 C78.0,33.5 78.5,30.1 80.0,28.0Z" fill="none" stroke="#b8b4dc" stroke-width="4.5" stroke-linejoin="round"/>
<path d="M75.6,11.2 C75.6,12.1 75.1,13.3 74.4,14.0 C73.7,14.8 72.4,15.5 71.2,15.8 C70.1,16.1 68.5,16.1 67.4,15.8 C66.2,15.5 64.9,14.8 64.2,14.0 C63.5,13.3 63.0,12.1 63.0,11.2 C63.0,10.3 63.5,9.1 64.2,8.4 C64.9,7.6 66.2,6.9 67.4,6.6 C68.5,6.3 70.1,6.3 71.2,6.6 C72.4,6.9 73.7,7.6 74.4,8.4 C75.1,9.1 75.6,10.3 75.6,11.2Z" fill="none" stroke="#b8b4dc" stroke-width="4.5" stroke-linejoin="round"/>
<path d="M139.5,36.0 C139.5,38.0 138.8,40.3 137.7,41.9 C136.6,43.5 134.7,44.9 132.9,45.5 C131.2,46.1 128.8,46.1 127.1,45.5 C125.3,44.9 123.4,43.5 122.3,41.9 C121.2,40.3 120.5,38.0 120.5,36.0 C120.5,34.0 121.2,31.7 122.3,30.1 C123.4,28.5 125.3,27.1 127.1,26.5 C128.8,25.9 131.2,25.9 132.9,26.5 C134.7,27.1 136.6,28.5 137.7,30.1 C138.8,31.7 139.5,34.0 139.5,36.0Z" fill="none" stroke="#b8b4dc" stroke-width="4.5" stroke-linejoin="round"/>
<path d="M72.5,58.0 C72.5,59.1 72.0,60.4 71.4,61.2 C70.7,62.1 69.5,62.9 68.4,63.2 C67.2,63.6 65.8,63.6 64.6,63.2 C63.5,62.9 62.3,62.1 61.6,61.2 C61.0,60.4 60.5,59.1 60.5,58.0 C60.5,56.9 61.0,55.6 61.6,54.8 C62.3,53.9 63.5,53.1 64.6,52.8 C65.8,52.4 67.2,52.4 68.4,52.8 C69.5,53.1 70.7,53.9 71.4,54.8 C72.0,55.6 72.5,56.9 72.5,58.0Z" fill="none" stroke="#b8b4dc" stroke-width="4.5" stroke-linejoin="round"/>
<path d="M137.5,62.0 C137.5,63.0 137.0,64.1 136.3,64.9 C135.5,65.7 134.2,66.5 133.0,66.8 C131.8,67.1 130.2,67.1 129.0,66.8 C127.8,66.5 126.5,65.7 125.7,64.9 C125.0,64.1 124.5,63.0 124.5,62.0 C124.5,61.0 125.0,59.9 125.7,59.1 C126.5,58.3 127.8,57.5 129.0,57.2 C130.2,56.9 131.8,56.9 133.0,57.2 C134.2,57.5 135.5,58.3 136.3,59.1 C137.0,59.9 137.5,61.0 137.5,62.0Z" fill="none" stroke="#b8b4dc" stroke-width="4.5" stroke-linejoin="round"/>
<path d="M165.0,78.0 C165.3,75.3 169.5,75.3 172.0,76.0 C174.5,76.7 178.3,79.7 180.0,82.0 C181.7,84.3 182.3,88.0 182.0,90.0 C181.7,92.0 180.0,93.7 178.0,94.0 C176.0,94.3 172.2,94.7 170.0,92.0 C167.8,89.3 164.7,80.7 165.0,78.0Z" fill="none" stroke="#b8b4dc" stroke-width="4.5" stroke-linejoin="round"/>
<path d="M90.0,99.0 C90.7,96.8 95.0,96.2 97.0,97.0 C99.0,97.8 101.3,101.8 102.0,104.0 C102.7,106.2 102.5,109.0 101.0,110.0 C99.5,111.0 94.8,111.8 93.0,110.0 C91.2,108.2 89.3,101.2 90.0,99.0Z" fill="none" stroke="#b8b4dc" stroke-width="4.5" stroke-linejoin="round"/>
<path d="M152.0,108.0 C152.0,109.1 151.5,110.4 150.7,111.2 C149.9,112.1 148.5,112.9 147.2,113.2 C145.9,113.6 144.1,113.6 142.8,113.2 C141.5,112.9 140.1,112.1 139.3,111.2 C138.5,110.4 138.0,109.1 138.0,108.0 C138.0,106.9 138.5,105.6 139.3,104.8 C140.1,103.9 141.5,103.1 142.8,102.8 C144.1,102.4 145.9,102.4 147.2,102.8 C148.5,103.1 149.9,103.9 150.7,104.8 C151.5,105.6 152.0,106.9 152.0,108.0Z" fill="none" stroke="#b8b4dc" stroke-width="4.5" stroke-linejoin="round"/>
<path d="M134.5,91.5 C134.5,92.3 134.2,93.2 133.7,93.9 C133.3,94.5 132.5,95.1 131.7,95.3 C131.0,95.5 130.0,95.5 129.3,95.3 C128.5,95.1 127.7,94.5 127.3,93.9 C126.8,93.2 126.5,92.3 126.5,91.5 C126.5,90.7 126.8,89.8 127.3,89.1 C127.7,88.5 128.5,87.9 129.3,87.7 C130.0,87.5 131.0,87.5 131.7,87.7 C132.5,87.9 133.3,88.5 133.7,89.1 C134.2,89.8 134.5,90.7 134.5,91.5Z" fill="none" stroke="#b8b4dc" stroke-width="4.5" stroke-linejoin="round"/>
<path d="M204.0,38.5 C204.0,39.8 203.5,41.3 202.9,42.3 C202.2,43.4 201.0,44.3 199.9,44.7 C198.7,45.1 197.3,45.1 196.1,44.7 C195.0,44.3 193.8,43.4 193.1,42.3 C192.5,41.3 192.0,39.8 192.0,38.5 C192.0,37.2 192.5,35.7 193.1,34.7 C193.8,33.6 195.0,32.7 196.1,32.3 C197.3,31.9 198.7,31.9 199.9,32.3 C201.0,32.7 202.2,33.6 202.9,34.7 C203.5,35.7 204.0,37.2 204.0,38.5Z" fill="none" stroke="#b8b4dc" stroke-width="4.5" stroke-linejoin="round"/>
<path d="M200.5,62.5 C200.5,63.4 200.1,64.4 199.4,65.1 C198.8,65.9 197.7,66.5 196.7,66.8 C195.7,67.1 194.3,67.1 193.3,66.8 C192.3,66.5 191.2,65.9 190.6,65.1 C189.9,64.4 189.5,63.4 189.5,62.5 C189.5,61.6 189.9,60.6 190.6,59.9 C191.2,59.1 192.3,58.5 193.3,58.2 C194.3,57.9 195.7,57.9 196.7,58.2 C197.7,58.5 198.8,59.1 199.4,59.9 C200.1,60.6 200.5,61.6 200.5,62.5Z" fill="none" stroke="#b8b4dc" stroke-width="4.5" stroke-linejoin="round"/>
<path d="M196.0,106.0 C197.7,102.0 203.5,100.3 205.0,104.0 C206.5,107.7 206.7,124.0 205.0,128.0 C203.3,132.0 196.5,131.7 195.0,128.0 C193.5,124.3 194.3,110.0 196.0,106.0Z" fill="none" stroke="#b8b4dc" stroke-width="4.5" stroke-linejoin="round"/>
<path d="M72.0,58.0 C73.5,55.7 79.3,55.0 82.0,56.0 C84.7,57.0 87.0,60.7 88.0,64.0 C89.0,67.3 89.3,73.7 88.0,76.0 C86.7,78.3 82.5,79.0 80.0,78.0 C77.5,77.0 74.3,73.3 73.0,70.0 C71.7,66.7 70.5,60.3 72.0,58.0Z" fill="none" stroke="#b8b4dc" stroke-width="4.5" stroke-linejoin="round"/>
<path d="M3.2,57.0 C4.0,53.8 5.6,52.2 8.0,51.0 C10.4,49.8 14.6,49.8 17.5,50.0 C20.4,50.2 23.1,50.8 25.5,52.5 C27.9,54.2 29.9,57.3 31.8,60.5 C33.6,63.7 35.0,67.6 36.6,71.6 C38.2,75.6 40.2,80.3 41.4,84.3 C42.6,88.3 43.8,92.0 43.8,95.5 C43.8,99.0 43.0,102.9 41.4,105.0 C39.8,107.1 36.9,108.5 34.2,108.2 C31.6,107.9 28.3,106.1 25.5,103.4 C22.7,100.8 20.2,96.0 17.5,92.3 C14.8,88.6 11.9,84.7 9.5,81.0 C7.1,77.3 4.2,74.0 3.2,70.0 C2.2,66.0 2.4,60.2 3.2,57.0Z" fill="#f4f0f4"/>
<path d="M80.0,28.0 C81.5,25.9 85.2,23.7 88.0,23.5 C90.8,23.3 95.2,24.9 97.0,27.0 C98.8,29.1 99.1,33.2 98.6,36.0 C98.1,38.8 96.1,42.8 94.0,44.0 C91.9,45.2 88.5,44.3 86.0,43.0 C83.5,41.7 80.0,38.5 79.0,36.0 C78.0,33.5 78.5,30.1 80.0,28.0Z" fill="#f4f0f4"/>
<path d="M75.6,11.2 C75.6,12.1 75.1,13.3 74.4,14.0 C73.7,14.8 72.4,15.5 71.2,15.8 C70.1,16.1 68.5,16.1 67.4,15.8 C66.2,15.5 64.9,14.8 64.2,14.0 C63.5,13.3 63.0,12.1 63.0,11.2 C63.0,10.3 63.5,9.1 64.2,8.4 C64.9,7.6 66.2,6.9 67.4,6.6 C68.5,6.3 70.1,6.3 71.2,6.6 C72.4,6.9 73.7,7.6 74.4,8.4 C75.1,9.1 75.6,10.3 75.6,11.2Z" fill="#f4f0f4"/>
<path d="M139.5,36.0 C139.5,38.0 138.8,40.3 137.7,41.9 C136.6,43.5 134.7,44.9 132.9,45.5 C131.2,46.1 128.8,46.1 127.1,45.5 C125.3,44.9 123.4,43.5 122.3,41.9 C121.2,40.3 120.5,38.0 120.5,36.0 C120.5,34.0 121.2,31.7 122.3,30.1 C123.4,28.5 125.3,27.1 127.1,26.5 C128.8,25.9 131.2,25.9 132.9,26.5 C134.7,27.1 136.6,28.5 137.7,30.1 C138.8,31.7 139.5,34.0 139.5,36.0Z" fill="#f4f0f4"/>
<path d="M72.5,58.0 C72.5,59.1 72.0,60.4 71.4,61.2 C70.7,62.1 69.5,62.9 68.4,63.2 C67.2,63.6 65.8,63.6 64.6,63.2 C63.5,62.9 62.3,62.1 61.6,61.2 C61.0,60.4 60.5,59.1 60.5,58.0 C60.5,56.9 61.0,55.6 61.6,54.8 C62.3,53.9 63.5,53.1 64.6,52.8 C65.8,52.4 67.2,52.4 68.4,52.8 C69.5,53.1 70.7,53.9 71.4,54.8 C72.0,55.6 72.5,56.9 72.5,58.0Z" fill="#f4f0f4"/>
<path d="M137.5,62.0 C137.5,63.0 137.0,64.1 136.3,64.9 C135.5,65.7 134.2,66.5 133.0,66.8 C131.8,67.1 130.2,67.1 129.0,66.8 C127.8,66.5 126.5,65.7 125.7,64.9 C125.0,64.1 124.5,63.0 124.5,62.0 C124.5,61.0 125.0,59.9 125.7,59.1 C126.5,58.3 127.8,57.5 129.0,57.2 C130.2,56.9 131.8,56.9 133.0,57.2 C134.2,57.5 135.5,58.3 136.3,59.1 C137.0,59.9 137.5,61.0 137.5,62.0Z" fill="#f4f0f4"/>
<path d="M165.0,78.0 C165.3,75.3 169.5,75.3 172.0,76.0 C174.5,76.7 178.3,79.7 180.0,82.0 C181.7,84.3 182.3,88.0 182.0,90.0 C181.7,92.0 180.0,93.7 178.0,94.0 C176.0,94.3 172.2,94.7 170.0,92.0 C167.8,89.3 164.7,80.7 165.0,78.0Z" fill="#f4f0f4"/>
<path d="M90.0,99.0 C90.7,96.8 95.0,96.2 97.0,97.0 C99.0,97.8 101.3,101.8 102.0,104.0 C102.7,106.2 102.5,109.0 101.0,110.0 C99.5,111.0 94.8,111.8 93.0,110.0 C91.2,108.2 89.3,101.2 90.0,99.0Z" fill="#f4f0f4"/>
<path d="M152.0,108.0 C152.0,109.1 151.5,110.4 150.7,111.2 C149.9,112.1 148.5,112.9 147.2,113.2 C145.9,113.6 144.1,113.6 142.8,113.2 C141.5,112.9 140.1,112.1 139.3,111.2 C138.5,110.4 138.0,109.1 138.0,108.0 C138.0,106.9 138.5,105.6 139.3,104.8 C140.1,103.9 141.5,103.1 142.8,102.8 C144.1,102.4 145.9,102.4 147.2,102.8 C148.5,103.1 149.9,103.9 150.7,104.8 C151.5,105.6 152.0,106.9 152.0,108.0Z" fill="#f4f0f4"/>
<path d="M134.5,91.5 C134.5,92.3 134.2,93.2 133.7,93.9 C133.3,94.5 132.5,95.1 131.7,95.3 C131.0,95.5 130.0,95.5 129.3,95.3 C128.5,95.1 127.7,94.5 127.3,93.9 C126.8,93.2 126.5,92.3 126.5,91.5 C126.5,90.7 126.8,89.8 127.3,89.1 C127.7,88.5 128.5,87.9 129.3,87.7 C130.0,87.5 131.0,87.5 131.7,87.7 C132.5,87.9 133.3,88.5 133.7,89.1 C134.2,89.8 134.5,90.7 134.5,91.5Z" fill="#f4f0f4"/>
<path d="M204.0,38.5 C204.0,39.8 203.5,41.3 202.9,42.3 C202.2,43.4 201.0,44.3 199.9,44.7 C198.7,45.1 197.3,45.1 196.1,44.7 C195.0,44.3 193.8,43.4 193.1,42.3 C192.5,41.3 192.0,39.8 192.0,38.5 C192.0,37.2 192.5,35.7 193.1,34.7 C193.8,33.6 195.0,32.7 196.1,32.3 C197.3,31.9 198.7,31.9 199.9,32.3 C201.0,32.7 202.2,33.6 202.9,34.7 C203.5,35.7 204.0,37.2 204.0,38.5Z" fill="#f4f0f4"/>
<path d="M200.5,62.5 C200.5,63.4 200.1,64.4 199.4,65.1 C198.8,65.9 197.7,66.5 196.7,66.8 C195.7,67.1 194.3,67.1 193.3,66.8 C192.3,66.5 191.2,65.9 190.6,65.1 C189.9,64.4 189.5,63.4 189.5,62.5 C189.5,61.6 189.9,60.6 190.6,59.9 C191.2,59.1 192.3,58.5 193.3,58.2 C194.3,57.9 195.7,57.9 196.7,58.2 C197.7,58.5 198.8,59.1 199.4,59.9 C200.1,60.6 200.5,61.6 200.5,62.5Z" fill="#f4f0f4"/>
<path d="M196.0,106.0 C197.7,102.0 203.5,100.3 205.0,104.0 C206.5,107.7 206.7,124.0 205.0,128.0 C203.3,132.0 196.5,131.7 195.0,128.0 C193.5,124.3 194.3,110.0 196.0,106.0Z" fill="#f4f0f4"/>
<path d="M62.0,35.0 C62.0,36.0 61.6,37.1 60.9,37.9 C60.3,38.7 59.2,39.5 58.2,39.8 C57.2,40.1 55.8,40.1 54.8,39.8 C53.8,39.5 52.7,38.7 52.1,37.9 C51.4,37.1 51.0,36.0 51.0,35.0 C51.0,34.0 51.4,32.9 52.1,32.1 C52.7,31.3 53.8,30.5 54.8,30.2 C55.8,29.9 57.2,29.9 58.2,30.2 C59.2,30.5 60.3,31.3 60.9,32.1 C61.6,32.9 62.0,34.0 62.0,35.0Z" fill="#eceaf6"/>
<path d="M72.0,58.0 C73.5,55.7 79.3,55.0 82.0,56.0 C84.7,57.0 87.0,60.7 88.0,64.0 C89.0,67.3 89.3,73.7 88.0,76.0 C86.7,78.3 82.5,79.0 80.0,78.0 C77.5,77.0 74.3,73.3 73.0,70.0 C71.7,66.7 70.5,60.3 72.0,58.0Z" fill="#bdb8dc"/>
<ellipse cx="130" cy="38" rx="3.5" ry="3.5" fill="#c4bcd8"/>
<ellipse cx="88" cy="37" rx="1.2" ry="1.5" fill="#2a1a30"/>
<ellipse cx="32" cy="92" rx="6" ry="9" fill="#dedae8"/>
<ellipse cx="26" cy="80" rx="4" ry="5" fill="#e4e0ee"/>
</g>
</g></g>
<g transform="translate(319,479)">
<clipPath id="cp5"><rect width="203" height="126"/></clipPath>
<g clip-path="url(#cp5)">
<rect width="203" height="126" fill="#b3a9ce"/>
<g filter="url(#blur4)">
<ellipse cx="44" cy="60" rx="12" ry="60" fill="#c8c0dc" opacity="0.85"/>
<ellipse cx="130" cy="60" rx="12" ry="60" fill="#c8c0dc" opacity="0.85"/>
<ellipse cx="175" cy="15" rx="30" ry="16" fill="#d0c9de" opacity="0.9"/>
<ellipse cx="8" cy="80" rx="8" ry="30" fill="#c4bcd8" opacity="0.8"/>
</g>
<g filter="url(#blur1)" opacity="0.7">
<path fill="none" stroke-linecap="round" stroke="#6e6096" stroke-width="1.5" d="M44.4 87.4l3.1 14.3M39.8 26.8l5.4 9.9M37.3 114.6l6.6 11.5M50.2 40.0l1.9 5.9M30.8 37.8l3.1 10.3M45.5 2.2l1.3 7.0M43.3 5.5l5.2 13.6M30.2 82.5l6.4 11.3M47.3 6.1l3.2 13.7M38.3 26.4l1.1 10.1M45.8 -4.4l2.6 9.2M53.6 29.4l1.7 7.8M28.8 13.9l5.2 14.9M30.4 4.0l2.2 5.8M49.3 95.3l1.8 9.0M50.2 47.7l3.3 7.9M31.1 46.0l4.1 11.8M44.9 46.1l5.2 12.0M42.3 44.4l4.8 10.5M45.6 119.6l2.0 6.6M53.3 86.2l2.1 11.3M36.2 60.9l2.2 12.5M29.7 66.7l1.7 7.3M55.4 69.3l3.2 14.2M34.4 8.6l3.7 13.9M45.3 108.5l2.6 6.9M44.8 78.9l2.8 8.8M34.6 46.1l1.5 7.0M46.2 -2.9l3.2 9.6M31.3 10.9l1.5 13.4M41.8 81.3l2.6 10.0M30.7 11.5l3.5 8.9M33.6 108.9l3.9 9.8M48.2 105.7l3.0 12.8M30.2 9.7l4.8 14.8M121.2 57.2l3.4 9.5M133.3 67.7l1.9 10.5M136.7 110.9l2.5 6.6M130.4 17.4l0.9 7.9M134.9 3.8l2.2 11.8M127.2 -3.4l1.5 10.5M132.3 52.8l3.8 12.5M142.3 64.2l3.1 6.5M119.4 84.5l2.8 10.6M138.8 95.2l4.0 9.0M120.9 108.2l6.3 12.8M129.1 39.0l2.1 9.8M124.9 5.8l3.5 6.4M117.8 33.3l1.4 7.0M137.5 78.5l1.7 9.3M129.5 83.5l3.1 12.9M137.4 98.0l2.3 6.4M142.1 13.8l2.6 9.8M135.2 -4.6l3.2 11.4M138.6 44.2l1.3 10.5M128.4 108.1l5.6 12.8M127.0 0.8l5.0 13.6M136.6 94.7l2.6 11.4M117.8 64.1l3.8 10.0M120.1 113.1l2.3 9.0M125.6 99.4l4.6 11.0M136.2 121.8l0.9 8.0M117.4 62.4l3.2 14.0M116.2 52.0l4.0 11.3M117.6 114.1l2.0 8.6M117.7 55.7l2.2 13.1M123.0 50.7l7.6 13.7M139.0 18.4l5.9 10.9M133.3 55.2l5.4 14.2M7.3 55.8l3.0 8.9M7.2 49.6l3.0 9.0M1.9 96.9l1.4 12.7M6.1 104.5l3.2 10.7M11.7 90.4l1.6 14.9M1.9 96.8l2.5 15.4M10.0 63.4l3.4 7.1M7.8 73.0l3.6 7.3M8.6 70.3l2.9 7.1M5.5 58.8l3.9 13.5M16.9 95.0l2.4 6.0M4.0 77.2l1.8 6.3M1.9 47.8l3.9 15.1M3.9 69.5l5.1 13.0"/>
<path fill="none" stroke-linecap="round" stroke="#6e6096" stroke-width="1.0" d="M47.9 93.9l2.1 15.2M40.3 -5.6l1.9 13.1M49.7 97.0l6.2 11.0M45.5 -5.4l4.6 13.5M52.2 60.6l3.9 12.8M32.0 69.4l5.9 13.8M44.3 -3.9l4.0 14.5M43.3 90.9l3.7 15.2M43.4 56.9l4.8 12.7M57.3 6.7l1.2 11.3M27.9 88.9l4.8 9.5M38.3 1.1l4.4 9.3M38.7 14.8l1.1 8.7M40.5 90.0l3.7 7.9M29.4 18.9l1.2 8.9M56.9 39.1l2.5 15.3M55.8 10.7l5.3 14.0M46.5 10.4l2.8 7.2M36.3 53.4l3.6 7.2M37.3 64.5l3.5 13.1M55.3 58.9l3.3 8.5M51.5 2.5l2.6 13.8M39.9 73.0l1.1 7.4M44.1 46.4l3.0 8.0M38.8 111.4l5.4 9.5M49.8 16.2l1.0 8.7M32.1 25.6l2.0 11.1M51.8 48.5l5.7 12.2M38.2 37.0l2.6 6.9M37.9 15.2l3.1 9.8M56.3 67.0l3.3 12.2M33.2 101.8l3.0 15.3M55.4 121.7l3.5 6.3M53.8 87.3l0.9 7.7M47.6 28.3l2.2 5.8M49.1 88.7l5.8 10.1M43.4 119.4l4.8 9.6M33.0 -1.9l5.8 10.1M42.6 108.9l5.3 13.6M50.3 84.1l3.9 10.3M41.7 67.3l2.3 6.9M34.5 27.2l5.2 9.8M129.8 34.8l3.4 10.8M138.3 16.8l2.4 11.4M132.0 13.0l2.6 14.3M138.6 34.1l4.9 15.1M115.6 109.8l3.2 10.6M120.7 102.4l2.6 10.5M119.1 34.5l2.2 6.9M129.6 94.7l2.8 8.9M116.2 70.3l6.1 10.6M119.0 0.3l2.2 10.3M122.2 8.0l4.2 9.0M119.4 96.2l1.3 10.2M128.0 29.6l6.6 13.6M123.8 61.4l3.4 7.3M137.3 66.1l1.9 11.1M125.4 -3.0l3.6 7.2M126.8 65.6l5.6 11.5M124.7 65.3l6.6 11.8M118.8 15.0l4.7 8.4M139.6 78.4l4.7 14.1M129.9 17.7l2.0 6.5M127.5 91.1l5.1 11.7M117.3 5.9l4.2 14.7M129.4 61.7l1.4 8.6M139.3 42.3l3.4 10.9M119.1 30.8l4.6 13.8M120.0 85.9l2.0 9.2M137.1 100.2l2.1 6.0M125.0 29.4l4.4 7.8M136.8 51.6l2.9 6.0M135.5 75.2l2.1 8.0M120.4 53.6l4.0 9.5M132.4 13.4l2.5 7.9M118.8 39.3l2.9 8.8M134.9 96.3l4.0 7.4M132.9 86.1l2.1 7.1M121.6 48.3l4.1 11.5M135.2 40.2l3.7 8.7M126.5 66.2l3.7 7.7M132.7 -0.3l3.6 14.3M125.1 110.3l3.1 6.5M121.6 73.5l3.0 14.4M141.9 77.2l2.0 10.2M143.7 117.0l0.7 6.2M136.5 80.1l3.6 11.4M127.5 6.3l5.9 14.3M127.2 31.1l1.8 12.6M16.3 101.9l2.4 11.4M14.4 52.6l4.4 10.1M17.1 63.0l0.9 6.6M15.5 57.8l4.4 13.9M7.9 83.7l5.4 12.9M3.6 71.6l1.0 8.8M6.1 98.3l7.3 13.0M12.1 71.5l6.4 12.0M13.2 97.5l1.9 8.3M2.4 45.2l1.1 6.4M2.7 81.1l3.3 11.3M2.7 59.2l2.0 10.2M8.2 93.6l1.5 6.4M10.0 47.5l6.2 13.3"/>
<path fill="none" stroke-linecap="round" stroke="#6e6096" stroke-width="2.0" d="M28.8 13.6l7.1 13.3M50.4 51.0l1.7 9.1M39.2 25.8l4.2 15.1M49.3 99.8l1.9 8.6M38.0 61.9l3.9 13.9M42.8 83.6l1.1 5.9M49.1 64.2l0.9 7.0M43.8 97.2l1.1 6.9M54.4 20.3l5.6 12.0M32.4 43.8l2.1 10.5M37.8 38.6l2.2 5.9M29.9 37.8l5.3 12.5M30.2 101.3l1.9 13.0M38.4 91.9l3.4 6.3M52.7 31.3l3.3 13.1M41.4 40.1l3.1 13.3M43.4 12.8l1.8 10.9M40.7 51.2l6.2 14.7M54.5 10.2l3.8 13.2M38.1 27.1l2.7 10.3M49.3 69.2l6.3 13.2M42.4 7.5l4.3 9.8M54.7 59.2l7.7 13.7M55.0 54.7l1.4 6.1M41.2 25.7l2.1 12.8M53.5 100.3l1.4 6.0M29.6 40.4l5.4 10.4M51.6 29.7l4.3 8.0M43.2 111.7l6.9 11.9M54.7 82.1l3.5 8.2M29.0 42.6l2.3 7.1M118.4 98.2l4.4 14.2M116.1 115.2l5.3 9.3M115.5 53.0l4.0 9.1M123.0 101.7l4.1 10.5M116.6 34.3l2.3 7.2M128.1 106.6l2.7 13.2M128.2 89.7l2.5 14.3M128.1 118.2l3.1 8.9M139.7 14.8l2.0 7.9M140.0 85.1l4.8 11.5M121.5 21.9l3.5 6.2M121.3 121.1l3.6 6.9M116.9 102.7l3.8 7.4M114.5 97.9l6.7 12.2M123.2 112.2l2.5 12.7M139.4 108.7l4.7 11.8M132.2 92.3l2.3 6.4M129.8 27.4l5.0 8.8M121.9 82.9l3.7 13.2M120.4 20.6l2.9 12.0M125.0 42.4l3.1 10.9M122.8 35.1l5.3 13.5M142.9 36.4l1.1 8.6M138.9 49.9l2.7 6.5M127.9 20.5l3.8 7.7M126.6 3.8l2.9 6.3M141.3 95.4l2.6 14.1M6.6 79.7l3.3 14.8M8.8 59.5l3.0 14.0M-1.0 95.9l2.6 13.8M7.0 46.8l5.9 11.4M1.8 90.3l5.4 12.0M-0.7 82.1l1.6 12.9M12.8 50.9l2.4 14.0M8.7 63.4l2.6 6.6"/>
<path fill="none" stroke-linecap="round" stroke="#7e76a0" stroke-width="2.0" d="M168.3 1.1l1.0 6.8M140.6 17.0l1.3 7.6M164.7 0.9l2.2 6.7M196.6 11.9l5.8 10.2M195.5 6.5l2.3 7.4M143.7 17.4l4.1 8.3M159.4 18.8l1.9 6.3M145.0 18.7l4.4 10.0M162.2 -2.1l5.2 15.0M170.4 -3.6l4.4 7.8M191.9 17.7l6.0 11.4M185.1 7.1l3.1 11.6M193.2 -5.4l5.3 13.6M157.4 26.1l1.7 7.2M181.6 -3.0l5.1 9.6M177.2 20.2l2.6 9.9M173.5 16.5l2.1 7.8M163.8 -0.4l3.6 14.9M176.6 -2.8l4.1 13.6M176.0 7.8l3.0 14.8M148.7 17.9l1.3 10.4M183.4 22.7l3.4 6.6M154.0 4.5l2.6 13.3M168.3 -4.6l5.3 10.4M184.7 14.3l2.9 15.6M164.3 18.1l5.4 14.5"/>
<path fill="none" stroke-linecap="round" stroke="#7e76a0" stroke-width="1.5" d="M188.3 6.7l5.6 11.1M149.5 22.0l4.4 15.2M170.6 2.4l5.8 14.8M145.2 0.3l6.5 14.1M181.0 12.2l0.7 6.2M164.1 5.6l4.1 10.8M185.5 15.3l1.8 8.5M169.4 20.5l2.1 9.8M174.8 23.9l3.3 6.0M189.0 16.7l2.4 15.8M152.0 16.5l4.9 9.6M185.3 28.3l3.3 6.8M159.9 -2.0l2.9 9.7M196.7 14.7l1.1 6.1M151.5 -1.2l6.5 12.1M142.6 1.9l1.3 6.3M143.7 14.0l4.7 9.5M138.4 23.9l6.2 14.6"/>
<path fill="none" stroke-linecap="round" stroke="#7e76a0" stroke-width="1.0" d="M183.2 12.2l2.8 14.1M197.6 1.3l1.4 7.8M178.3 8.6l3.8 14.4M154.4 22.1l4.0 9.9M151.0 0.6l4.3 11.9M173.2 23.0l3.6 7.7M156.7 18.5l2.8 13.9M162.7 23.6l3.2 10.5M143.8 5.4l2.5 10.0M174.6 23.4l1.2 7.7M177.1 23.2l3.7 6.9M189.9 -2.4l6.0 12.0M182.6 16.5l4.4 7.6M188.3 -4.1l5.0 12.7M190.8 18.6l4.0 14.7M150.1 4.3l3.9 12.7M147.2 -1.3l1.4 12.3M173.3 20.1l3.8 7.2M149.5 18.4l3.0 7.9"/>
<path fill="none" stroke-linecap="round" stroke="#e2dcee" stroke-width="1.2" d="M37.3 57.9l2.8 13.1M47.7 60.0l2.4 10.2M54.4 -1.3l0.7 5.3M50.6 121.4l3.2 6.5M47.5 111.1l2.7 6.1M46.6 71.8l1.6 7.6M38.5 0.1l1.4 6.9M44.8 2.0l1.1 8.4M37.6 74.6l1.6 9.6M44.7 88.4l2.9 6.8M32.5 31.1l1.0 7.8M54.6 61.6l3.2 9.1M32.5 72.5l2.0 10.0M55.5 14.4l3.7 10.0M134.8 80.0l4.5 12.4M142.2 70.8l1.2 8.8M122.9 13.7l2.8 7.2M141.8 116.1l1.8 12.6M127.5 31.5l3.8 7.9M132.3 105.5l6.1 11.4M121.7 28.1l4.0 8.3M126.0 75.7l2.4 6.3M116.4 96.0l3.0 5.6M127.8 88.9l3.8 12.5M120.8 61.5l3.3 8.0M123.7 50.8l2.1 11.2M117.5 23.4l4.8 10.4M131.9 60.7l0.8 5.1M143.5 19.0l3.4 8.2M147.5 18.3l2.2 13.8M142.8 -6.2l2.2 12.6M176.2 15.7l1.7 5.1M152.8 15.3l1.4 12.4M180.6 6.2l1.8 12.8"/>
<path fill="none" stroke-linecap="round" stroke="#e2dcee" stroke-width="1.8" d="M48.2 29.4l1.9 6.3M42.8 11.2l1.9 13.3M52.9 87.1l5.1 10.2M28.5 102.2l4.5 11.4M35.2 17.9l1.2 10.2M47.4 21.5l2.4 6.8M35.4 58.8l1.7 8.1M37.3 43.8l3.4 11.9M44.0 122.0l1.4 5.8M57.6 119.8l2.7 9.7M44.5 78.2l4.0 9.1M43.6 54.7l1.8 8.2M39.9 11.6l2.2 12.5M117.4 50.5l1.7 6.0M129.4 0.6l2.4 5.1M141.2 38.5l0.9 5.8M140.6 5.1l4.6 11.5M119.7 24.3l3.5 13.2M123.5 52.2l1.6 12.1M116.9 82.5l1.5 5.4M123.1 58.1l1.5 12.7M128.5 11.2l1.5 9.1M130.6 6.9l2.5 6.7M118.6 111.4l1.0 7.5M139.6 61.6l2.9 11.2M146.7 12.9l1.0 5.3M142.4 24.7l5.3 10.1M154.5 18.6l1.0 6.3M175.9 12.3l1.4 6.1M148.1 6.7l1.9 4.7M155.2 -2.5l2.7 6.8M174.2 21.9l0.9 5.6"/>
<path fill="none" stroke-linecap="round" stroke="#e2dcee" stroke-width="2.4" d="M45.4 32.4l4.7 10.8M45.5 95.7l1.0 6.8M52.5 68.0l4.9 10.3M42.9 30.4l5.0 9.3M38.5 52.3l2.8 10.0M47.9 48.6l2.0 11.1M31.3 112.6l3.1 7.2M53.4 26.6l2.3 6.9M137.6 114.5l2.4 9.1M130.5 28.5l2.8 12.4M141.1 -1.3l5.0 9.3M119.6 86.6l4.4 9.4M122.9 102.2l2.0 8.1M117.0 84.4l5.6 10.7M140.7 60.1l2.4 6.7M127.3 117.3l1.0 5.9M129.3 28.2l4.7 10.3M179.8 11.7l1.5 6.3M176.7 12.1l4.6 9.7M142.2 10.0l1.1 7.0M154.3 27.2l5.1 9.2M193.6 17.1l4.6 10.4M174.4 25.3l2.3 6.2M152.3 0.6l2.2 4.9"/>
</g>
<g filter="url(#blur15)">
<path d="M28.0,51.0 C28.0,55.0 27.7,66.8 28.0,75.0 C28.3,83.2 29.7,95.8 30.0,100.0" fill="none" stroke="#8878b0" stroke-width="20" stroke-linecap="round" stroke-linejoin="round"/>
<path d="M55.0,6.0 C56.2,7.0 59.5,10.0 62.0,12.0 C64.5,14.0 68.7,17.0 70.0,18.0" fill="none" stroke="#8878b0" stroke-width="12" stroke-linecap="round" stroke-linejoin="round"/>
<path d="M62.0,45.0 C62.2,49.2 62.7,61.7 63.0,70.0 C63.3,78.3 63.2,88.3 64.0,95.0 C64.8,101.7 67.3,107.5 68.0,110.0" fill="none" stroke="#8878b0" stroke-width="12" stroke-linecap="round" stroke-linejoin="round"/>
<path d="M110.0,8.0 C110.7,13.3 113.0,29.7 114.0,40.0 C115.0,50.3 115.7,65.0 116.0,70.0" fill="none" stroke="#8878b0" stroke-width="22" stroke-linecap="round" stroke-linejoin="round"/>
<path d="M130.0,75.0 C131.0,78.3 133.5,88.3 136.0,95.0 C138.5,101.7 142.7,109.8 145.0,115.0 C147.3,120.2 149.2,124.2 150.0,126.0" fill="none" stroke="#8878b0" stroke-width="16" stroke-linecap="round" stroke-linejoin="round"/>
<path d="M5.0,60.0 C5.5,63.3 7.2,73.3 8.0,80.0 C8.8,86.7 9.3,93.3 10.0,100.0 C10.7,106.7 11.7,116.7 12.0,120.0" fill="none" stroke="#8878b0" stroke-width="10" stroke-linecap="round" stroke-linejoin="round"/>
<path d="M0.0,8.0 C2.5,8.7 10.3,11.0 15.0,12.0 C19.7,13.0 25.8,13.7 28.0,14.0" fill="none" stroke="#8878b0" stroke-width="10" stroke-linecap="round" stroke-linejoin="round"/>
<path d="M9.0,28.0 C9.5,26.0 11.8,24.2 14.0,24.0 C16.2,23.8 19.5,25.5 22.0,27.0 C24.5,28.5 27.5,30.8 29.0,33.0 C30.5,35.2 31.5,38.2 31.0,40.0 C30.5,41.8 28.3,43.7 26.0,44.0 C23.7,44.3 19.5,43.3 17.0,42.0 C14.5,40.7 12.3,38.3 11.0,36.0 C9.7,33.7 8.5,30.0 9.0,28.0Z" fill="#8878b0" stroke="#8878b0" stroke-width="18.0" stroke-linejoin="round"/>
<path d="M60.0,25.0 C61.3,23.3 66.7,22.7 70.0,23.0 C73.3,23.3 77.3,25.3 80.0,27.0 C82.7,28.7 85.7,31.0 86.0,33.0 C86.3,35.0 84.7,38.2 82.0,39.0 C79.3,39.8 73.3,39.0 70.0,38.0 C66.7,37.0 63.7,35.2 62.0,33.0 C60.3,30.8 58.7,26.7 60.0,25.0Z" fill="#8878b0" stroke="#8878b0" stroke-width="18.0" stroke-linejoin="round"/>
<path d="M78.0,10.0 C79.2,9.2 82.3,10.3 84.0,12.0 C85.7,13.7 87.8,17.7 88.0,20.0 C88.2,22.3 86.3,25.3 85.0,26.0 C83.7,26.7 81.3,25.5 80.0,24.0 C78.7,22.5 77.3,19.3 77.0,17.0 C76.7,14.7 76.8,10.8 78.0,10.0Z" fill="#8878b0" stroke="#8878b0" stroke-width="12.0" stroke-linejoin="round"/>
<path d="M70.0,47.0 C71.8,43.7 76.3,45.7 80.0,45.0 C83.7,44.3 88.7,42.7 92.0,43.0 C95.3,43.3 98.3,45.0 100.0,47.0 C101.7,49.0 102.7,52.5 102.0,55.0 C101.3,57.5 98.3,59.5 96.0,62.0 C93.7,64.5 90.7,67.3 88.0,70.0 C85.3,72.7 82.0,75.0 80.0,78.0 C78.0,81.0 77.3,86.0 76.0,88.0 C74.7,90.0 73.0,91.0 72.0,90.0 C71.0,89.0 70.5,86.2 70.0,82.0 C69.5,77.8 69.0,70.8 69.0,65.0 C69.0,59.2 68.2,50.3 70.0,47.0Z" fill="#8878b0" stroke="#8878b0" stroke-width="20.0" stroke-linejoin="round"/>
<path d="M146.0,46.0 C147.8,43.1 151.0,43.0 155.0,42.5 C159.0,42.0 165.0,42.4 170.0,43.0 C175.0,43.6 180.3,44.5 185.0,46.0 C189.7,47.5 194.7,50.3 198.0,52.0 C201.3,53.7 204.0,54.2 205.0,56.0 C206.0,57.8 206.5,60.7 204.0,63.0 C201.5,65.3 194.3,67.8 190.0,70.0 C185.7,72.2 182.2,74.0 178.0,76.0 C173.8,78.0 168.8,79.8 165.0,82.0 C161.2,84.2 157.8,88.0 155.0,89.0 C152.2,90.0 149.7,90.3 148.0,88.0 C146.3,85.7 145.7,79.7 145.0,75.0 C144.3,70.3 143.8,64.8 144.0,60.0 C144.2,55.2 144.2,48.9 146.0,46.0Z" fill="#8878b0" stroke="#8878b0" stroke-width="20.0" stroke-linejoin="round"/>
<path d="M165.0,118.0 C167.2,114.3 171.2,110.8 175.0,108.0 C178.8,105.2 183.0,103.2 188.0,101.0 C193.0,98.8 202.0,90.2 205.0,95.0 C208.0,99.8 213.2,124.2 206.0,130.0 C198.8,135.8 168.8,132.0 162.0,130.0 C155.2,128.0 162.8,121.7 165.0,118.0Z" fill="#8878b0" stroke="#8878b0" stroke-width="18.0" stroke-linejoin="round"/>
<path d="M136.5,93.0 C136.5,93.8 136.2,94.7 135.6,95.4 C135.1,96.0 134.2,96.6 133.4,96.8 C132.6,97.0 131.4,97.0 130.6,96.8 C129.8,96.6 128.9,96.0 128.4,95.4 C127.8,94.7 127.5,93.8 127.5,93.0 C127.5,92.2 127.8,91.3 128.4,90.6 C128.9,90.0 129.8,89.4 130.6,89.2 C131.4,89.0 132.6,89.0 133.4,89.2 C134.2,89.4 135.1,90.0 135.6,90.6 C136.2,91.3 136.5,92.2 136.5,93.0Z" fill="#8878b0" stroke="#8878b0" stroke-width="12.0" stroke-linejoin="round"/>
<path d="M149.5,99.0 C149.5,99.6 149.2,100.3 148.8,100.8 C148.4,101.2 147.7,101.7 147.1,101.9 C146.4,102.0 145.6,102.0 144.9,101.9 C144.3,101.7 143.6,101.2 143.2,100.8 C142.8,100.3 142.5,99.6 142.5,99.0 C142.5,98.4 142.8,97.7 143.2,97.2 C143.6,96.8 144.3,96.3 144.9,96.1 C145.6,96.0 146.4,96.0 147.1,96.1 C147.7,96.3 148.4,96.8 148.8,97.2 C149.2,97.7 149.5,98.4 149.5,99.0Z" fill="#8878b0" stroke="#8878b0" stroke-width="10.0" stroke-linejoin="round"/>
<path d="M132.0,106.5 C132.0,107.2 131.8,108.0 131.4,108.6 C131.1,109.1 130.5,109.6 129.9,109.8 C129.4,110.0 128.6,110.0 128.1,109.8 C127.5,109.6 126.9,109.1 126.6,108.6 C126.2,108.0 126.0,107.2 126.0,106.5 C126.0,105.8 126.2,105.0 126.6,104.4 C126.9,103.9 127.5,103.4 128.1,103.2 C128.6,103.0 129.4,103.0 129.9,103.2 C130.5,103.4 131.1,103.9 131.4,104.4 C131.8,105.0 132.0,105.8 132.0,106.5Z" fill="#8878b0" stroke="#8878b0" stroke-width="10.0" stroke-linejoin="round"/>
<path d="M180.0,99.5 C180.0,100.0 179.6,100.6 179.0,101.0 C178.5,101.4 177.5,101.7 176.5,101.9 C175.6,102.0 174.4,102.0 173.5,101.9 C172.5,101.7 171.5,101.4 171.0,101.0 C170.4,100.6 170.0,100.0 170.0,99.5 C170.0,99.0 170.4,98.4 171.0,98.0 C171.5,97.6 172.5,97.3 173.5,97.1 C174.4,97.0 175.6,97.0 176.5,97.1 C177.5,97.3 178.5,97.6 179.0,98.0 C179.6,98.4 180.0,99.0 180.0,99.5Z" fill="#8878b0" stroke="#8878b0" stroke-width="10.0" stroke-linejoin="round"/>
<path d="M27.5,110.0 C27.5,110.9 27.2,111.9 26.8,112.6 C26.4,113.4 25.7,114.0 25.1,114.3 C24.4,114.6 23.6,114.6 22.9,114.3 C22.3,114.0 21.6,113.4 21.2,112.6 C20.8,111.9 20.5,110.9 20.5,110.0 C20.5,109.1 20.8,108.1 21.2,107.4 C21.6,106.6 22.3,106.0 22.9,105.7 C23.6,105.4 24.4,105.4 25.1,105.7 C25.7,106.0 26.4,106.6 26.8,107.4 C27.2,108.1 27.5,109.1 27.5,110.0Z" fill="#8878b0" stroke="#8878b0" stroke-width="10.0" stroke-linejoin="round"/>
</g>
<g filter="url(#blur07)" fill="none" stroke-linecap="round">
<path stroke="#3a2a60" stroke-width="3.6" d="M6.5 24.5l0.7 1.5M32.7 44.5l-1.4-1.6M32.7 49.1l-1.2-1.1M68.0 19.3l0.4 1.6M76.2 20.9l-1.1 1.9M79.7 26.3l0.2-1.6M97.4 75.0l-1.7-1.4M145.4 36.2l0.8 1.9M148.1 33.8l0.1 2.3M191.5 44.1l-0.8 1.6M152.9 98.6l-0.2-1.9M139.2 74.1l1.8-0.7M138.8 70.8l1.5-0.1M177.0 96.8l0.5 1.9M187.2 96.5l1.3 1.7M191.9 89.8l0.1 2.2M201.8 91.7l0.5 1.6M200.0 86.7l0.7 2.2M189.2 135.0l-0.4-1.5M170.9 135.9l0.1-2.2M137.7 99.1l-1.2-1.3M138.3 90.1l-1.9 0.4M149.7 103.9l-1.5-1.6M145.8 93.8l0.2 2.1M133.7 104.1l-2.2 0.1M34.7 84.2l-2.3-0.1M59.5 67.0l-2.0-0.5M69.0 85.5l-2.1 0.2M66.7 97.3l-1.9 0.2M108.6 22.7l-1.6 0.1M113.4 31.7l-1.5 0.3M111.9 34.0l-1.8 0.9M119.5 35.9l-1.4-0.0M112.2 58.6l-1.8-0.4M119.9 67.6l-1.6-0.2M142.8 108.6l-1.8 0.6M145.1 122.9l-1.8 1.5M150.0 123.7l-1.4 0.6M12.0 105.0l-1.7 0.3M149.7 14.1l0.7 2.2M157.4 29.9l1.0 1.3M127.8 25.6l0.8 1.7M199.6 90.3l0.1 2.1M13.5 117.5l0.6 2.2"/>
<path stroke="#3a2e70" stroke-width="3.6" d="M3.4 21.5l1.9 1.4M6.6 42.3l1.3-0.8M85.7 25.7l-1.3 1.1M69.7 47.5l0.7-1.9M56.5 32.3l2.0-0.2M51.3 27.3l1.8 0.1M90.0 15.4l-1.8 0.8M74.5 15.7l1.6 0.1M98.2 40.2l-0.3 2.4M102.5 38.8l-0.4 1.4M108.1 63.3l-1.3-0.9M93.3 79.0l-1.8-0.9M87.9 84.7l-2.2-0.2M195.4 78.9l-0.6-2.1M185.0 84.2l-1.3-1.9M140.3 77.3l1.6 0.0M174.5 99.4l1.3 1.6M209.8 105.2l-1.8-0.6M159.5 123.1l1.5 0.5M155.7 119.4l2.0-0.2M159.0 116.9l2.3 0.5M124.6 104.1l1.5 0.3M25.3 53.3l-1.8 0.3M30.3 58.0l-2.2 0.4M32.8 63.2l-2.3-0.4M34.1 70.5l-2.2-0.7M35.0 81.8l-1.4-0.1M26.3 87.5l-2.1-0.4M24.1 99.1l-1.8 0.8M62.6 8.0l-1.4 2.0M63.8 83.5l-1.4-0.2M60.8 88.6l-2.3-0.6M66.2 94.9l-1.9 0.2M120.8 23.8l-1.6-0.2M119.3 43.1l-2.2 0.8M117.7 45.6l-1.6 0.7M116.2 53.0l-2.3 0.6M128.3 78.1l-2.1 0.5M134.2 93.7l-1.5 0.7M143.6 102.5l-1.7 1.6M153.5 121.9l-1.7 1.1M14.5 99.7l-2.1 0.9M-0.5 9.5l-0.3 2.0M23.0 15.8l-0.2 1.6M7.4 91.3l1.3 1.8M155.2 9.9l0.2 1.5M43.9 104.3l1.1 1.5M54.4 53.5l0.5 2.3M37.2 19.2l1.2 1.9M198.4 96.0l1.0 1.6M49.1 20.3l1.2 2.0M138.0 24.5l0.2 1.4"/>
<path stroke="#2f2a68" stroke-width="4.0" d="M8.7 23.0l1.2 1.3M18.5 19.7l-0.8 1.3M11.1 42.6l1.1-1.6M1.8 37.0l1.3-0.8M59.3 21.2l0.1 1.2M58.5 17.4l0.2 1.4M87.5 38.5l-0.8-1.0M76.2 47.5l-0.4-1.8M63.5 44.2l0.5-1.0M61.7 41.3l0.7-1.1M90.8 24.2l-1.5-0.2M74.7 9.7l1.8-0.0M71.9 41.7l0.6 1.5M76.8 36.6l0.8 1.3M59.8 59.1l1.5 0.6M163.6 38.0l-0.3 1.8M179.7 81.6l-0.2-1.7M149.6 97.0l0.6-1.7M141.1 80.4l1.3-0.1M138.7 57.5l1.0 0.5M159.1 112.2l1.4 1.1M171.5 99.6l0.5 1.0M189.2 91.8l0.4 1.4M197.9 89.4l0.3 1.4M200.9 134.2l0.1-1.3M154.5 128.2l1.5 0.2M157.1 125.9l1.6-0.1M178.6 95.5l-0.4 2.0M28.4 82.1l-1.0 0.2M28.6 94.4l-1.3-0.3M60.1 3.5l-0.6 1.2M60.0 45.1l-1.8-0.0M68.3 75.9l-1.2 0.3M60.5 93.4l-2.0-0.6M114.1 7.5l-1.1 0.2M115.2 26.8l-2.0 0.1M119.8 38.2l-1.4 0.2M117.0 53.1l-1.2 0.2M117.2 65.4l-2.0-0.2M137.3 108.5l-1.2 0.1M7.9 73.9l-1.4 0.6M5.9 81.3l-1.7 0.8M15.2 119.4l-2.0-0.1M159.8 1.8l0.6 1.0M192.0 12.3l0.4 1.0M188.9 14.5l0.5 1.2M1.5 88.1l0.7 1.3M116.1 118.2l0.1 1.4"/>
<path stroke="#2f2a68" stroke-width="3.6" d="M6.0 19.8l1.6 1.2M31.8 29.1l-0.6 1.3M13.2 44.9l0.8-1.5M9.0 44.7l0.9-1.3M92.8 37.7l-2.2-0.6M79.1 43.9l0.5-1.6M83.1 35.1l0.5 1.6M108.4 46.4l-1.3 0.8M89.2 82.1l-1.5-0.1M85.1 90.2l-1.4-0.1M60.4 86.1l1.5 0.1M59.7 78.7l2.3-0.6M64.9 69.2l1.6-0.1M174.0 34.0l-0.1 1.7M204.8 45.6l-0.7 1.2M213.7 58.2l-2.0-0.9M141.6 86.6l1.8-0.7M138.7 64.6l2.3 0.4M168.1 104.4l1.4 0.9M195.5 92.5l1.0 1.4M198.6 91.3l0.2 1.6M201.0 137.9l-0.1-1.8M132.3 110.6l-1.9-1.5M171.3 103.5l0.7-2.1M30.0 111.0l-1.9-1.1M29.8 84.6l-1.8-0.1M52.9 8.4l-0.9 1.3M70.6 13.4l-1.3 1.1M66.6 54.5l-1.6-0.2M59.4 64.2l-2.1 0.2M63.9 69.2l-2.3-0.4M67.5 96.8l-1.4 0.7M70.9 108.2l-2.0 1.0M139.8 96.6l-1.7 1.1M6.9 59.5l-1.4 0.6M11.3 13.7l-1.3 2.0M14.8 8.7l-0.8 2.0M17.8 72.7l0.8 1.4M186.3 96.1l0.5 1.9M122.9 98.7l0.3 1.7M141.5 3.7l0.1 1.4M158.2 123.3l0.2 1.6M147.6 90.5l0.5 2.1"/>
<path stroke="#3a2a60" stroke-width="4.0" d="M10.9 20.5l0.4 1.0M34.4 37.7l-1.2 0.0M24.1 47.7l0.3-2.0M80.8 17.4l-0.7 1.1M73.1 46.0l0.0-1.9M87.6 12.9l-1.2 1.2M82.2 28.0l0.2-1.2M86.3 34.1l-0.0 1.9M97.8 35.5l-0.9 1.1M86.1 87.7l-1.5-1.0M64.9 75.1l1.7 0.0M64.5 66.3l1.4-0.3M209.9 57.6l-1.2-0.6M192.4 78.5l-1.0-0.9M181.1 84.3l-0.5-1.7M178.9 86.3l-0.8-1.7M162.2 90.8l-0.8-1.8M146.7 96.8l0.4-1.3M134.6 57.0l1.2 0.3M136.3 54.4l1.5-0.0M168.4 108.6l0.8 0.9M173.9 104.0l0.6 1.2M182.8 95.3l0.6 1.2M211.1 111.0l-1.7-0.2M211.2 126.0l-1.3-0.3M182.7 134.8l0.4-1.3M176.7 138.9l0.5-1.5M155.2 122.1l1.1 0.1M133.4 86.6l-0.2 1.1M24.3 53.2l-1.5 0.4M23.6 65.2l-1.7 0.5M25.8 77.7l-1.3-0.2M57.7 10.2l-0.8 1.1M65.5 12.2l-1.3 1.3M65.6 15.9l-0.9 1.1M59.9 47.4l-1.4 0.3M66.3 52.1l-1.3-0.1M61.3 64.3l-1.7-0.0M61.3 66.7l-1.7-0.1M63.8 80.9l-1.1 0.2M61.6 101.1l-1.1-0.0M68.7 101.8l-1.5-0.1M119.6 16.4l-1.5 0.2M113.2 29.3l-1.7 0.3M120.5 35.5l-1.2 0.5M122.7 64.8l-1.2 0.1M130.2 77.7l-1.9 0.1M133.4 86.7l-1.2-0.0M141.3 117.2l-1.2 0.3M9.6 66.5l-1.2 0.3M13.4 97.6l-1.3 0.4M147.1 21.0l0.8 1.8M138.4 24.4l0.6 1.7M97.9 13.1l1.0 1.5M25.2 54.7l-0.0 2.0"/>
<path stroke="#3a2e70" stroke-width="4.3" d="M7.8 17.1l1.0 0.9M77.9 40.0l-0.1 0.9M89.9 38.5l0.3 1.6M110.4 49.3l-1.2 0.2M102.5 62.5l-0.7-0.3M98.2 71.6l-0.6-0.6M90.2 76.4l-0.8-0.9M67.4 90.8l0.8-0.2M59.6 69.4l1.6 0.0M64.8 47.6l0.7 0.2M173.2 39.1l-0.1 0.7M176.9 34.9l0.1 0.8M190.6 38.8l-0.8 1.3M202.1 42.5l-0.8 1.4M203.3 48.5l-1.0 1.2M203.8 68.1l-0.8-1.3M163.8 93.0l-0.7-1.2M138.4 67.9l1.7-0.2M140.1 51.9l0.8 0.0M161.1 109.7l0.4 0.7M211.2 113.8l-1.4 0.3M197.9 133.8l0.0-1.1M189.0 138.5l-0.2-1.1M167.9 137.9l0.0-0.7M165.0 138.8l-0.0-1.0M34.7 51.1l-0.8-0.1M28.2 62.9l-1.6 0.2M27.5 65.5l-1.2-0.2M35.0 72.5l-0.7 0.2M31.4 82.1l-0.8-0.2M31.4 89.4l-1.4-0.4M33.7 96.3l-1.3-0.2M60.5 14.8l-0.6 0.5M64.2 59.3l-1.5 0.2M64.5 59.2l-1.2 0.3M65.7 104.9l-0.7 0.1M107.7 13.0l-1.4 0.4M117.5 14.2l-1.4 0.5M108.8 37.2l-1.1 0.1M137.0 100.7l-0.7 0.2M9.1 50.8l0.5 0.8M150.4 121.7l0.3 0.7M-0.3 53.8l0.8 1.4M100.9 40.2l0.8 1.4M44.4 85.4l0.8 1.2M143.6 23.6l0.4 0.6M125.0 21.9l0.1 0.7"/>
<path stroke="#44347a" stroke-width="3.6" d="M19.3 17.3l-0.7 1.8M23.3 52.1l-0.2-1.8M1.7 33.9l1.6-0.7M77.8 16.9l-0.8 1.2M86.9 41.6l-1.4-1.1M88.1 26.3l-1.7-0.6M74.4 12.5l1.6 0.3M71.3 36.8l-0.2 1.8M86.5 38.6l0.9 1.9M89.2 33.2l-0.1 1.6M100.8 42.1l-0.7 2.0M111.1 51.9l-1.3 0.7M101.4 70.8l-1.1-1.5M82.3 86.0l-2.2-0.9M66.1 85.1l1.5-0.8M59.1 72.9l2.2-0.9M63.0 62.8l1.4-0.4M59.1 62.6l2.2-0.3M59.6 50.2l2.0 0.4M150.1 39.7l0.3 1.6M150.7 33.3l0.6 1.4M157.7 37.4l-0.4 1.9M199.0 41.2l-0.2 2.3M206.2 73.2l-0.8-1.7M193.0 74.2l-0.3-1.8M191.1 75.8l-1.5-1.5M159.1 91.8l-0.8-1.9M136.3 78.1l2.3 0.3M203.8 139.4l0.3-2.0M192.0 134.1l-0.1-1.8M132.8 100.4l-0.4-1.5M125.2 94.9l2.2-0.5M28.5 104.0l-1.1 1.1M34.8 50.9l-1.9 0.3M25.7 55.4l-2.2 0.7M35.1 68.1l-1.8-0.5M26.3 87.0l-1.6 0.4M66.6 47.6l-2.2-0.7M59.9 56.9l-1.6 0.5M63.5 88.1l-1.6 0.2M106.2 13.1l-2.1 0.6M106.9 17.8l-1.7 0.7M114.5 22.2l-1.7-0.3M116.2 68.0l-2.0-0.5M129.7 80.1l-1.4 0.4M131.0 92.0l-1.4 1.0M131.5 92.2l-1.4 0.3M139.7 104.3l-1.5 1.5M8.6 71.7l-1.7 0.1M8.2 93.3l-1.4 0.4M11.2 112.5l-2.3 0.0M1.5 98.9l0.0 1.8M181.4 25.9l1.3 1.7M51.9 38.6l0.6 2.1M61.6 91.0l0.2 2.2"/>
<path stroke="#4a3a80" stroke-width="4.0" d="M20.7 21.9l-0.5 1.7M34.8 46.9l-1.5-1.2M91.4 40.5l-1.8-0.6M58.7 40.1l1.3-1.3M63.8 56.7l2.0 0.0M63.9 50.6l1.4 0.2M166.6 37.9l-0.2 1.1M208.6 63.0l-1.9 0.3M213.7 63.8l-1.6 0.1M170.7 89.6l-1.1-1.6M168.9 89.8l-0.9-1.4M163.5 112.6l1.3 0.7M179.2 100.8l0.3 1.7M193.4 94.4l0.0 1.5M213.5 114.0l-1.1-0.3M209.9 116.9l-1.5 0.2M209.7 122.7l-1.7 0.5M153.1 100.1l-1.8-0.2M142.5 96.0l0.6 1.1M150.1 94.9l-1.0 1.4M24.0 118.3l0.5-1.7M22.7 58.0l-1.1 0.4M29.3 79.9l-1.5-0.2M63.2 78.6l-2.0-0.0M112.8 39.3l-2.0-0.2M115.5 48.6l-1.2-0.3M131.6 97.7l-1.5 0.8M136.0 103.7l-1.7 0.6M139.7 109.6l-1.5 1.3M9.7 107.5l-1.3 0.6M11.0 115.0l-1.4-0.1M17.0 8.2l-0.3 1.0M12.5 76.2l0.0 1.5M137.6 14.6l0.5 1.5"/>
<path stroke="#2a2060" stroke-width="3.6" d="M22.6 18.1l-1.5 1.8M35.4 34.1l-2.1 0.7M30.1 46.2l-1.0-1.2M90.0 36.6l-1.1-1.3M88.7 42.6l-1.7-0.9M82.4 6.8l-1.0 2.2M90.5 18.5l-1.8 0.9M91.5 73.0l-1.9-1.2M91.0 81.1l-1.3-0.8M169.5 33.9l0.1 1.6M185.6 37.1l0.1 1.7M193.7 38.7l-0.5 2.2M196.0 72.4l-1.2-1.4M176.7 81.3l-0.9-1.2M136.3 45.2l2.1 0.4M209.4 96.2l-1.8-0.5M209.4 99.1l-1.5-0.2M214.3 125.8l-2.0 0.1M167.6 134.9l0.6-1.7M19.2 107.1l1.7 0.1M28.1 60.5l-2.0 0.3M34.7 77.1l-2.4-0.2M25.3 94.6l-1.5-0.2M61.3 50.1l-2.0-0.4M59.3 54.7l-2.1 0.2M68.8 80.7l-2.2 0.3M105.8 10.8l-2.2 0.5M115.7 16.7l-1.5 0.7M108.6 44.3l-1.9-0.3M122.9 55.3l-1.5-0.2M136.0 73.4l-2.2 0.2M132.1 81.6l-1.3 0.9M133.9 99.4l-1.5 0.5M146.5 109.2l-1.2 1.1M4.5 64.7l-1.5 0.6M10.9 88.3l-1.4 0.3M8.8 12.9l-0.8 1.5M12.4 75.7l0.8 1.3M174.2 27.8l0.0 2.1M22.9 81.1l0.1 2.3M49.2 84.5l0.5 2.3M64.4 53.0l0.9 1.3M200.2 87.3l0.6 1.5M113.5 74.7l0.4 1.6"/>
<path stroke="#44347a" stroke-width="4.0" d="M26.1 22.7l-1.6 1.0M28.3 19.8l-1.3 1.5M0.9 30.8l1.3-0.3M62.2 20.1l0.2 1.9M88.6 22.8l-1.5 1.3M70.3 42.8l0.1-1.1M75.7 22.9l1.3-0.4M75.0 20.2l1.2-0.9M100.3 64.6l-1.0-0.8M87.9 82.7l-1.0-1.4M59.7 81.7l1.7-0.5M65.1 78.2l1.1-0.1M58.7 66.7l1.9-0.4M64.2 53.8l1.9-0.3M147.1 39.8l0.2 1.8M185.4 78.9l-0.4-1.7M137.8 87.7l1.7-1.0M139.3 48.7l1.7 0.2M214.2 110.8l-1.2-0.0M204.2 134.7l-0.5-1.5M171.1 137.6l-0.2-1.2M127.5 99.8l0.5-1.0M145.2 104.7l-0.4-1.7M17.9 111.3l1.5-0.9M30.4 108.3l-1.4 0.6M23.8 50.8l-1.9 0.5M33.1 55.7l-1.9 0.3M30.2 79.5l-1.6 0.4M31.5 86.6l-1.7 0.4M24.7 92.0l-1.2 0.4M26.0 92.0l-1.9 0.2M35.2 93.5l-1.3 0.5M37.1 98.1l-1.4 0.6M61.7 5.1l-0.7 1.7M68.7 11.9l-1.1 1.3M59.6 73.8l-1.9 0.3M107.5 25.4l-1.1-0.2M113.3 31.6l-1.1 0.4M107.8 41.8l-1.6 0.1M118.3 58.0l-1.5-0.1M110.2 60.9l-1.8 0.0M120.2 64.8l-1.4 0.5M139.7 87.0l-1.4 0.8M144.3 120.9l-1.2 0.7M15.1 117.1l-1.9-0.2M18.4 14.7l-0.5 1.7M165.3 5.0l0.9 1.7M70.3 108.2l-0.0 1.7M0.6 105.6l-0.0 2.0M184.3 11.3l0.5 1.1M7.3 79.7l-0.0 1.6M161.6 32.7l0.4 2.0M34.7 74.3l0.6 1.6"/>
<path stroke="#2f2a68" stroke-width="4.3" d="M26.5 26.2l-0.3 0.8M20.2 50.3l0.3-0.6M18.2 46.9l-0.1-1.0M5.5 32.8l1.0-0.2M100.2 36.9l-0.6 1.2M106.8 53.3l-0.8 0.1M85.6 80.4l-0.7-0.9M78.8 97.7l-0.6-1.4M60.0 56.5l0.9-0.2M60.0 53.4l1.2 0.1M143.7 40.6l0.6 0.7M157.8 34.4l-0.4 1.0M202.9 73.6l-0.1-0.8M198.5 71.5l-0.2-1.0M200.3 74.3l-1.1-1.1M197.8 76.2l-0.5-0.6M175.8 86.4l-0.7-0.9M135.1 68.3l1.3-0.5M165.5 105.8l0.6 0.5M170.9 106.9l0.8 0.8M176.5 102.6l0.5 1.1M195.0 137.2l-0.0-1.0M177.0 133.9l-0.2-0.7M23.5 103.3l-0.3 1.3M27.7 53.3l-1.0 0.3M27.6 70.1l-1.0 0.1M34.9 95.9l-1.3 0.5M61.3 13.2l-0.6 1.4M66.9 10.0l-0.5 1.0M62.3 71.4l-1.0-0.0M105.2 16.1l-1.6-0.2M113.4 22.1l-1.4 0.2M121.9 67.2l-1.1 0.3M128.5 85.4l-1.2 0.4M152.1 119.9l-1.2 1.0M9.5 76.1l-1.2 0.5M6.5 74.3l0.4 1.1M4.9 82.4l0.5 1.1M1.5 90.6l0.2 0.9M49.0 74.8l0.2 1.6M11.0 6.5l-0.0 1.3M180.5 92.2l0.4 1.2M123.5 109.5l0.1 1.5M172.1 108.6l0.3 0.7"/>
<path stroke="#44347a" stroke-width="4.3" d="M30.4 22.2l-0.9 0.6M86.6 28.6l-0.5 1.0M55.3 26.8l1.4-0.8M95.4 39.6l-0.1 0.7M106.1 50.2l-0.7 0.5M62.2 88.9l0.7-0.1M194.8 44.3l-0.8 1.0M150.5 92.3l0.1-0.8M165.7 110.4l1.0 0.7M194.9 90.7l0.6 1.0M214.3 122.7l-1.0 0.2M194.9 134.7l0.1-0.9M173.9 137.9l0.1-0.7M126.3 90.4l1.2 0.8M141.1 100.6l1.0-0.4M126.7 111.5l0.3-0.8M128.8 100.6l0.2 0.7M32.2 60.5l-1.6 0.2M22.6 65.3l-1.2 0.3M21.7 70.3l-0.9-0.3M24.0 80.2l-0.9-0.1M27.3 84.7l-1.2 0.2M26.2 89.5l-0.8 0.2M68.2 20.7l-1.0 0.7M59.8 45.1l-1.1-0.0M65.6 61.6l-0.8 0.1M105.6 8.7l-1.0-0.2M115.6 19.2l-1.4 0.7M113.7 27.0l-0.7-0.1M106.1 30.1l-1.0 0.5M116.7 31.5l-1.2-0.1M109.5 43.8l-1.2 0.5M107.2 49.1l-0.8-0.1M112.6 55.7l-1.0 0.4M115.1 60.8l-1.6-0.4M142.7 106.1l-1.7 0.3M147.8 114.0l-0.7 0.7M11.2 110.1l-1.1-0.1M1.7 10.8l-0.2 1.1M25.9 12.5l-0.0 1.0M14.3 98.4l-0.0 0.8M67.1 87.8l0.4 1.4M137.4 102.8l0.1 1.3M85.7 81.6l0.2 1.0M0.5 19.5l0.5 1.4M19.1 111.7l0.1 0.8M129.9 101.7l0.2 1.6"/>
<path stroke="#2a2060" stroke-width="4.0" d="M29.5 27.5l-0.8 1.2M33.7 27.1l-0.8 1.2M37.6 33.6l-1.7 0.3M20.8 48.8l0.2-1.8M61.4 16.9l0.4 1.6M83.9 23.2l-1.0 0.9M86.3 21.0l-1.0 0.6M63.2 39.0l0.8-1.4M60.2 38.3l0.3-1.2M55.8 29.5l1.1-0.3M74.2 36.9l0.1 1.6M81.2 40.0l-0.1 1.3M103.3 67.2l-1.3-1.0M93.3 70.9l-1.1-1.1M63.6 91.5l1.8-0.1M207.7 47.1l-1.4 1.4M201.6 70.4l-0.8-1.0M137.5 81.2l1.4-0.2M134.0 62.1l1.5-0.1M179.7 95.7l0.6 1.4M184.3 98.0l0.3 1.2M154.0 124.8l1.4 0.3M35.8 55.8l-1.2-0.1M34.8 72.5l-1.2 0.1M23.5 75.2l-1.9 0.4M34.8 91.2l-1.6 0.3M61.4 52.3l-1.3-0.1M60.1 57.1l-1.8 0.0M66.8 61.5l-1.0 0.3M62.7 78.4l-1.3 0.4M65.1 90.5l-1.9 0.2M63.8 93.0l-1.4 0.0M67.2 109.5l-1.4 0.2M119.5 26.5l-1.7-0.4M118.4 45.8l-1.1 0.3M108.3 46.4l-1.2 0.3M114.9 55.6l-1.3 0.4M111.7 63.1l-1.3 0.2M109.3 63.4l-1.2-0.1M139.6 101.9l-1.1 0.9M6.3 86.2l-1.2 0.4M7.2 96.1l-1.5-0.2M18.4 65.3l0.3 1.7M184.2 3.1l0.1 1.5M188.1 95.7l0.6 1.8M98.1 9.1l0.9 1.2M67.1 123.2l0.5 1.6M154.6 100.1l0.8 1.1M129.0 63.6l0.6 1.3M142.6 32.0l0.4 1.3M26.0 89.1l0.6 1.2"/>
<path stroke="#4a3a80" stroke-width="3.6" d="M37.8 36.4l-1.5 0.7M79.4 20.6l-0.7 1.8M68.0 36.8l0.3 1.9M74.4 40.4l1.1 1.9M83.8 38.3l0.1 1.5M105.1 64.7l-1.7-1.2M199.9 47.6l-0.9 1.1M205.2 50.8l-0.7 1.4M173.5 89.4l-0.5-2.0M136.8 51.4l1.5 0.2M190.3 95.5l0.7 1.2M209.6 101.8l-1.9 0.3M186.2 139.1l-0.4-2.0M181.6 100.4l-1.5-0.7M168.3 97.9l1.5 1.8M175.3 95.0l-0.3 2.3M30.9 74.7l-2.2 0.4M60.5 49.7l-2.0 0.5M65.7 71.3l-2.1-0.0M114.6 7.2l-2.0 0.6M114.3 19.3l-1.9 0.7M108.3 34.7l-2.1 0.5M120.1 48.3l-1.7-0.2M109.8 58.7l-2.2-0.4M132.4 79.0l-1.6 1.0M127.4 83.0l-1.9 1.2M131.6 84.2l-1.8 1.3M138.6 84.8l-1.4 0.7M140.9 114.9l-1.8 0.2M7.8 79.0l-2.2 0.2M10.6 83.8l-1.4-0.3M9.0 103.2l-2.3-0.1M21.4 9.3l0.0 1.8M181.0 29.7l0.8 1.5M116.4 10.7l0.5 1.9M119.4 69.7l1.0 1.7M145.0 36.8l0.5 1.5M60.8 74.4l1.2 1.9M103.8 89.7l0.5 1.8M161.3 113.1l0.3 2.0M91.5 96.0l1.1 1.5"/>
<path stroke="#4a3a80" stroke-width="4.3" d="M17.0 50.9l0.4-1.1M4.7 30.0l0.7-0.3M64.2 15.2l0.1 0.7M68.8 42.0l0.6 1.1M106.2 47.0l-1.3 0.8M84.8 80.5l-1.5-0.5M82.9 83.2l-1.0-0.7M66.5 88.1l1.5-0.7M152.5 37.4l0.3 1.5M160.4 38.6l0.1 1.0M163.6 33.1l0.1 1.1M166.6 34.8l0.0 0.9M209.0 60.2l-1.0 0.1M186.8 81.6l-0.2-1.0M141.2 83.5l1.2-0.3M186.4 92.6l-0.0 1.4M213.6 102.0l-1.4-0.3M211.0 120.0l-0.8-0.2M210.5 128.9l-0.7-0.0M186.1 135.7l-0.4-1.6M183.1 138.7l-0.4-1.3M128.0 86.1l1.1 1.1M123.4 108.3l0.9-0.3M179.1 104.7l-0.5-1.4M175.1 103.7l-0.3-1.6M26.3 60.6l-1.5 0.1M25.3 96.7l-1.6 0.5M63.2 76.1l-1.4 0.2M62.9 100.5l-1.4 0.8M66.7 107.1l-0.8 0.1M66.8 106.9l-0.7 0.5M107.4 15.5l-1.1 0.2M114.8 19.3l-1.1 0.5M108.3 60.9l-0.9 0.2M136.9 100.6l-0.6 0.4M149.8 118.4l-1.3 0.8M6.4 69.5l-0.7 0.1M5.6 5.2l-0.0 0.7M19.7 55.5l0.1 1.5M162.1 17.6l0.2 0.7M61.5 68.3l0.0 0.8M129.6 82.4l0.2 0.7M159.5 121.3l0.1 1.4M42.4 123.2l0.1 1.5M94.2 5.5l0.1 0.8M98.4 16.3l0.7 1.3M119.0 31.2l0.4 0.8"/>
<path stroke="#2a2060" stroke-width="4.3" d="M10.5 47.4l0.5-0.8M9.1 39.8l1.3-0.8M61.7 47.6l0.9-0.1M142.3 36.9l0.8 1.0M169.7 37.2l-0.3 0.9M181.9 40.5l0.1 1.3M189.0 41.7l-0.2 1.4M212.6 60.7l-0.8 0.1M188.2 77.6l-0.4-1.4M174.2 82.8l-0.8-0.8M168.6 85.7l-0.2-0.8M164.7 89.3l-0.4-1.2M135.2 71.1l1.5-0.2M213.5 95.8l-0.8-0.0M212.8 98.9l-1.2-0.1M191.8 138.5l0.3-0.9M180.1 134.4l-0.3-1.4M157.3 128.7l0.8 0.4M138.9 94.0l-1.2-0.6M19.4 115.3l1.2-0.9M27.1 67.7l-1.7 0.2M32.3 77.3l-1.6-0.3M54.2 6.9l-1.0 1.3M67.9 16.4l-0.6 1.5M66.9 94.8l-1.7 0.1M68.0 101.5l-1.4 0.9M66.8 104.6l-0.9 0.2M118.0 11.8l-1.6 0.3M108.6 34.8l-1.0 0.1M108.3 41.7l-1.6 0.2M113.2 41.3l-1.4 0.4M120.4 50.4l-1.6 0.4M108.8 51.3l-1.3 0.2M109.7 53.7l-1.1 0.0M127.3 75.8l-0.8 0.2M131.1 89.8l-0.8 0.0M143.2 113.6l-1.2 0.5M12.6 90.8l-1.5-0.3M174.8 12.9l0.2 0.8M1.6 24.8l0.6 0.8M114.4 25.1l0.2 0.8M88.7 100.5l0.4 0.7M170.3 80.6l0.9 1.2M167.5 89.6l0.5 1.5M159.4 93.2l0.6 0.8M151.6 34.1l0.4 0.6M50.4 84.1l0.6 1.1"/>
<path stroke="#3a2e70" stroke-width="4.0" d="M5.8 35.8l1.3-0.4M64.9 19.3l0.5 1.9M78.8 47.7l0.4-1.3M76.3 42.8l0.3-1.5M84.8 8.4l-0.5 1.7M80.9 88.8l-1.8-0.9M63.8 81.1l1.5 0.3M160.8 33.5l-0.3 1.6M178.8 40.2l0.2 1.4M182.7 79.7l-0.9-1.4M166.6 91.8l-0.5-1.1M161.9 95.2l-1.1-1.2M153.1 94.4l0.4-1.3M147.7 92.5l-0.2-1.8M135.3 74.2l1.0-0.3M138.6 61.6l1.5 0.4M138.9 54.5l1.0 0.5M141.2 45.8l1.1 0.4M162.7 107.6l1.6 0.9M181.8 99.4l0.3 1.5M180.2 138.7l-0.4-1.4M171.3 95.0l0.4 1.0M29.2 115.5l-1.2-1.2M25.2 67.9l-1.3-0.1M23.1 72.4l-1.4 0.4M34.4 74.3l-1.3 0.4M35.8 88.8l-1.7 0.2M33.7 98.6l-2.0 0.1M72.1 14.7l-0.5 1.5M61.9 74.1l-1.9-0.5M64.9 83.1l-1.8 0.4M67.3 85.8l-1.7-0.3M106.5 11.0l-1.1-0.2M121.2 28.4l-1.0 0.1M119.1 38.4l-1.7-0.1M121.3 50.5l-2.0 0.1M141.7 93.0l-1.1 0.9M140.0 112.2l-0.9 0.9M148.1 116.8l-1.9 0.5M6.5 62.3l-1.4-0.0M7.1 8.2l0.1 1.9M7.5 117.3l0.2 1.6M184.5 8.7l0.4 1.1"/>
<path stroke="#3a2a60" stroke-width="4.3" d="M73.3 20.2l-0.9 1.2M52.8 30.1l1.0 0.0M78.7 7.2l-0.1 1.5M97.5 66.9l-0.8-1.2M94.5 76.5l-0.7-0.9M182.9 36.7l-0.3 0.8M185.1 40.8l-0.3 0.8M196.2 40.8l-0.3 0.7M172.0 85.4l-0.7-0.9M167.7 87.5l-1.3-1.0M137.8 84.4l1.2-0.5M134.2 65.0l1.4 0.2M136.9 48.2l0.9 0.4M214.3 107.5l-1.6 0.6M214.1 116.9l-0.9-0.2M213.4 120.0l-0.9-0.2M197.8 139.2l0.3-1.7M156.6 116.4l1.3-0.0M134.4 107.0l-1.0 0.1M22.7 58.3l-1.0-0.2M27.7 63.0l-1.0 0.1M57.4 6.6l-0.8 1.4M58.9 12.4l-0.6 1.0M59.6 68.9l-1.4 0.5M67.1 90.3l-1.1 0.4M105.7 10.9l-1.0 0.3M105.1 25.5l-1.1 0.2M120.8 62.3l-1.4 0.5M135.0 93.4l-1.3 0.6M145.5 117.7l-1.1 0.9M169.3 7.6l0.0 0.7M5.5 5.1l0.8 1.4M46.7 13.4l0.3 0.7M28.2 25.8l0.7 1.4M67.8 69.2l0.1 1.7M114.2 5.5l0.3 1.3M180.0 28.3l0.2 1.6"/>
</g>
<g filter="url(#blur07)">
<path d="M9.0,28.0 C9.5,26.0 11.8,24.2 14.0,24.0 C16.2,23.8 19.5,25.5 22.0,27.0 C24.5,28.5 27.5,30.8 29.0,33.0 C30.5,35.2 31.5,38.2 31.0,40.0 C30.5,41.8 28.3,43.7 26.0,44.0 C23.7,44.3 19.5,43.3 17.0,42.0 C14.5,40.7 12.3,38.3 11.0,36.0 C9.7,33.7 8.5,30.0 9.0,28.0Z" fill="none" stroke="#b0a6cc" stroke-width="4.5" stroke-linejoin="round"/>
<path d="M60.0,25.0 C61.3,23.3 66.7,22.7 70.0,23.0 C73.3,23.3 77.3,25.3 80.0,27.0 C82.7,28.7 85.7,31.0 86.0,33.0 C86.3,35.0 84.7,38.2 82.0,39.0 C79.3,39.8 73.3,39.0 70.0,38.0 C66.7,37.0 63.7,35.2 62.0,33.0 C60.3,30.8 58.7,26.7 60.0,25.0Z" fill="none" stroke="#b0a6cc" stroke-width="4.5" stroke-linejoin="round"/>
<path d="M78.0,10.0 C79.2,9.2 82.3,10.3 84.0,12.0 C85.7,13.7 87.8,17.7 88.0,20.0 C88.2,22.3 86.3,25.3 85.0,26.0 C83.7,26.7 81.3,25.5 80.0,24.0 C78.7,22.5 77.3,19.3 77.0,17.0 C76.7,14.7 76.8,10.8 78.0,10.0Z" fill="none" stroke="#b0a6cc" stroke-width="4.5" stroke-linejoin="round"/>
<path d="M70.0,47.0 C71.8,43.7 76.3,45.7 80.0,45.0 C83.7,44.3 88.7,42.7 92.0,43.0 C95.3,43.3 98.3,45.0 100.0,47.0 C101.7,49.0 102.7,52.5 102.0,55.0 C101.3,57.5 98.3,59.5 96.0,62.0 C93.7,64.5 90.7,67.3 88.0,70.0 C85.3,72.7 82.0,75.0 80.0,78.0 C78.0,81.0 77.3,86.0 76.0,88.0 C74.7,90.0 73.0,91.0 72.0,90.0 C71.0,89.0 70.5,86.2 70.0,82.0 C69.5,77.8 69.0,70.8 69.0,65.0 C69.0,59.2 68.2,50.3 70.0,47.0Z" fill="none" stroke="#b0a6cc" stroke-width="4.5" stroke-linejoin="round"/>
<path d="M146.0,46.0 C147.8,43.1 151.0,43.0 155.0,42.5 C159.0,42.0 165.0,42.4 170.0,43.0 C175.0,43.6 180.3,44.5 185.0,46.0 C189.7,47.5 194.7,50.3 198.0,52.0 C201.3,53.7 204.0,54.2 205.0,56.0 C206.0,57.8 206.5,60.7 204.0,63.0 C201.5,65.3 194.3,67.8 190.0,70.0 C185.7,72.2 182.2,74.0 178.0,76.0 C173.8,78.0 168.8,79.8 165.0,82.0 C161.2,84.2 157.8,88.0 155.0,89.0 C152.2,90.0 149.7,90.3 148.0,88.0 C146.3,85.7 145.7,79.7 145.0,75.0 C144.3,70.3 143.8,64.8 144.0,60.0 C144.2,55.2 144.2,48.9 146.0,46.0Z" fill="none" stroke="#b0a6cc" stroke-width="4.5" stroke-linejoin="round"/>
<path d="M165.0,118.0 C167.2,114.3 171.2,110.8 175.0,108.0 C178.8,105.2 183.0,103.2 188.0,101.0 C193.0,98.8 202.0,90.2 205.0,95.0 C208.0,99.8 213.2,124.2 206.0,130.0 C198.8,135.8 168.8,132.0 162.0,130.0 C155.2,128.0 162.8,121.7 165.0,118.0Z" fill="none" stroke="#b0a6cc" stroke-width="4.5" stroke-linejoin="round"/>
<path d="M136.5,93.0 C136.5,93.8 136.2,94.7 135.6,95.4 C135.1,96.0 134.2,96.6 133.4,96.8 C132.6,97.0 131.4,97.0 130.6,96.8 C129.8,96.6 128.9,96.0 128.4,95.4 C127.8,94.7 127.5,93.8 127.5,93.0 C127.5,92.2 127.8,91.3 128.4,90.6 C128.9,90.0 129.8,89.4 130.6,89.2 C131.4,89.0 132.6,89.0 133.4,89.2 C134.2,89.4 135.1,90.0 135.6,90.6 C136.2,91.3 136.5,92.2 136.5,93.0Z" fill="none" stroke="#b0a6cc" stroke-width="4.5" stroke-linejoin="round"/>
<path d="M149.5,99.0 C149.5,99.6 149.2,100.3 148.8,100.8 C148.4,101.2 147.7,101.7 147.1,101.9 C146.4,102.0 145.6,102.0 144.9,101.9 C144.3,101.7 143.6,101.2 143.2,100.8 C142.8,100.3 142.5,99.6 142.5,99.0 C142.5,98.4 142.8,97.7 143.2,97.2 C143.6,96.8 144.3,96.3 144.9,96.1 C145.6,96.0 146.4,96.0 147.1,96.1 C147.7,96.3 148.4,96.8 148.8,97.2 C149.2,97.7 149.5,98.4 149.5,99.0Z" fill="none" stroke="#b0a6cc" stroke-width="4.5" stroke-linejoin="round"/>
<path d="M132.0,106.5 C132.0,107.2 131.8,108.0 131.4,108.6 C131.1,109.1 130.5,109.6 129.9,109.8 C129.4,110.0 128.6,110.0 128.1,109.8 C127.5,109.6 126.9,109.1 126.6,108.6 C126.2,108.0 126.0,107.2 126.0,106.5 C126.0,105.8 126.2,105.0 126.6,104.4 C126.9,103.9 127.5,103.4 128.1,103.2 C128.6,103.0 129.4,103.0 129.9,103.2 C130.5,103.4 131.1,103.9 131.4,104.4 C131.8,105.0 132.0,105.8 132.0,106.5Z" fill="none" stroke="#b0a6cc" stroke-width="4.5" stroke-linejoin="round"/>
<path d="M180.0,99.5 C180.0,100.0 179.6,100.6 179.0,101.0 C178.5,101.4 177.5,101.7 176.5,101.9 C175.6,102.0 174.4,102.0 173.5,101.9 C172.5,101.7 171.5,101.4 171.0,101.0 C170.4,100.6 170.0,100.0 170.0,99.5 C170.0,99.0 170.4,98.4 171.0,98.0 C171.5,97.6 172.5,97.3 173.5,97.1 C174.4,97.0 175.6,97.0 176.5,97.1 C177.5,97.3 178.5,97.6 179.0,98.0 C179.6,98.4 180.0,99.0 180.0,99.5Z" fill="none" stroke="#b0a6cc" stroke-width="4.5" stroke-linejoin="round"/>
<path d="M27.5,110.0 C27.5,110.9 27.2,111.9 26.8,112.6 C26.4,113.4 25.7,114.0 25.1,114.3 C24.4,114.6 23.6,114.6 22.9,114.3 C22.3,114.0 21.6,113.4 21.2,112.6 C20.8,111.9 20.5,110.9 20.5,110.0 C20.5,109.1 20.8,108.1 21.2,107.4 C21.6,106.6 22.3,106.0 22.9,105.7 C23.6,105.4 24.4,105.4 25.1,105.7 C25.7,106.0 26.4,106.6 26.8,107.4 C27.2,108.1 27.5,109.1 27.5,110.0Z" fill="none" stroke="#b0a6cc" stroke-width="4.5" stroke-linejoin="round"/>
<path d="M9.0,28.0 C9.5,26.0 11.8,24.2 14.0,24.0 C16.2,23.8 19.5,25.5 22.0,27.0 C24.5,28.5 27.5,30.8 29.0,33.0 C30.5,35.2 31.5,38.2 31.0,40.0 C30.5,41.8 28.3,43.7 26.0,44.0 C23.7,44.3 19.5,43.3 17.0,42.0 C14.5,40.7 12.3,38.3 11.0,36.0 C9.7,33.7 8.5,30.0 9.0,28.0Z" fill="#f4f0f4"/>
<path d="M60.0,25.0 C61.3,23.3 66.7,22.7 70.0,23.0 C73.3,23.3 77.3,25.3 80.0,27.0 C82.7,28.7 85.7,31.0 86.0,33.0 C86.3,35.0 84.7,38.2 82.0,39.0 C79.3,39.8 73.3,39.0 70.0,38.0 C66.7,37.0 63.7,35.2 62.0,33.0 C60.3,30.8 58.7,26.7 60.0,25.0Z" fill="#f4f0f4"/>
<path d="M78.0,10.0 C79.2,9.2 82.3,10.3 84.0,12.0 C85.7,13.7 87.8,17.7 88.0,20.0 C88.2,22.3 86.3,25.3 85.0,26.0 C83.7,26.7 81.3,25.5 80.0,24.0 C78.7,22.5 77.3,19.3 77.0,17.0 C76.7,14.7 76.8,10.8 78.0,10.0Z" fill="#f4f0f4"/>
<path d="M70.0,47.0 C71.8,43.7 76.3,45.7 80.0,45.0 C83.7,44.3 88.7,42.7 92.0,43.0 C95.3,43.3 98.3,45.0 100.0,47.0 C101.7,49.0 102.7,52.5 102.0,55.0 C101.3,57.5 98.3,59.5 96.0,62.0 C93.7,64.5 90.7,67.3 88.0,70.0 C85.3,72.7 82.0,75.0 80.0,78.0 C78.0,81.0 77.3,86.0 76.0,88.0 C74.7,90.0 73.0,91.0 72.0,90.0 C71.0,89.0 70.5,86.2 70.0,82.0 C69.5,77.8 69.0,70.8 69.0,65.0 C69.0,59.2 68.2,50.3 70.0,47.0Z" fill="#f4f0f4"/>
<path d="M146.0,46.0 C147.8,43.1 151.0,43.0 155.0,42.5 C159.0,42.0 165.0,42.4 170.0,43.0 C175.0,43.6 180.3,44.5 185.0,46.0 C189.7,47.5 194.7,50.3 198.0,52.0 C201.3,53.7 204.0,54.2 205.0,56.0 C206.0,57.8 206.5,60.7 204.0,63.0 C201.5,65.3 194.3,67.8 190.0,70.0 C185.7,72.2 182.2,74.0 178.0,76.0 C173.8,78.0 168.8,79.8 165.0,82.0 C161.2,84.2 157.8,88.0 155.0,89.0 C152.2,90.0 149.7,90.3 148.0,88.0 C146.3,85.7 145.7,79.7 145.0,75.0 C144.3,70.3 143.8,64.8 144.0,60.0 C144.2,55.2 144.2,48.9 146.0,46.0Z" fill="#f4f0f4"/>
<path d="M165.0,118.0 C167.2,114.3 171.2,110.8 175.0,108.0 C178.8,105.2 183.0,103.2 188.0,101.0 C193.0,98.8 202.0,90.2 205.0,95.0 C208.0,99.8 213.2,124.2 206.0,130.0 C198.8,135.8 168.8,132.0 162.0,130.0 C155.2,128.0 162.8,121.7 165.0,118.0Z" fill="#f4f0f4"/>
<path d="M136.5,93.0 C136.5,93.8 136.2,94.7 135.6,95.4 C135.1,96.0 134.2,96.6 133.4,96.8 C132.6,97.0 131.4,97.0 130.6,96.8 C129.8,96.6 128.9,96.0 128.4,95.4 C127.8,94.7 127.5,93.8 127.5,93.0 C127.5,92.2 127.8,91.3 128.4,90.6 C128.9,90.0 129.8,89.4 130.6,89.2 C131.4,89.0 132.6,89.0 133.4,89.2 C134.2,89.4 135.1,90.0 135.6,90.6 C136.2,91.3 136.5,92.2 136.5,93.0Z" fill="#f4f0f4"/>
<path d="M149.5,99.0 C149.5,99.6 149.2,100.3 148.8,100.8 C148.4,101.2 147.7,101.7 147.1,101.9 C146.4,102.0 145.6,102.0 144.9,101.9 C144.3,101.7 143.6,101.2 143.2,100.8 C142.8,100.3 142.5,99.6 142.5,99.0 C142.5,98.4 142.8,97.7 143.2,97.2 C143.6,96.8 144.3,96.3 144.9,96.1 C145.6,96.0 146.4,96.0 147.1,96.1 C147.7,96.3 148.4,96.8 148.8,97.2 C149.2,97.7 149.5,98.4 149.5,99.0Z" fill="#f4f0f4"/>
<path d="M132.0,106.5 C132.0,107.2 131.8,108.0 131.4,108.6 C131.1,109.1 130.5,109.6 129.9,109.8 C129.4,110.0 128.6,110.0 128.1,109.8 C127.5,109.6 126.9,109.1 126.6,108.6 C126.2,108.0 126.0,107.2 126.0,106.5 C126.0,105.8 126.2,105.0 126.6,104.4 C126.9,103.9 127.5,103.4 128.1,103.2 C128.6,103.0 129.4,103.0 129.9,103.2 C130.5,103.4 131.1,103.9 131.4,104.4 C131.8,105.0 132.0,105.8 132.0,106.5Z" fill="#f4f0f4"/>
<path d="M180.0,99.5 C180.0,100.0 179.6,100.6 179.0,101.0 C178.5,101.4 177.5,101.7 176.5,101.9 C175.6,102.0 174.4,102.0 173.5,101.9 C172.5,101.7 171.5,101.4 171.0,101.0 C170.4,100.6 170.0,100.0 170.0,99.5 C170.0,99.0 170.4,98.4 171.0,98.0 C171.5,97.6 172.5,97.3 173.5,97.1 C174.4,97.0 175.6,97.0 176.5,97.1 C177.5,97.3 178.5,97.6 179.0,98.0 C179.6,98.4 180.0,99.0 180.0,99.5Z" fill="#f4f0f4"/>
<path d="M27.5,110.0 C27.5,110.9 27.2,111.9 26.8,112.6 C26.4,113.4 25.7,114.0 25.1,114.3 C24.4,114.6 23.6,114.6 22.9,114.3 C22.3,114.0 21.6,113.4 21.2,112.6 C20.8,111.9 20.5,110.9 20.5,110.0 C20.5,109.1 20.8,108.1 21.2,107.4 C21.6,106.6 22.3,106.0 22.9,105.7 C23.6,105.4 24.4,105.4 25.1,105.7 C25.7,106.0 26.4,106.6 26.8,107.4 C27.2,108.1 27.5,109.1 27.5,110.0Z" fill="#f4f0f4"/>
<path d="M57.5,41.0 C57.5,41.6 57.3,42.3 57.0,42.8 C56.7,43.2 56.2,43.7 55.8,43.9 C55.3,44.0 54.7,44.0 54.2,43.9 C53.8,43.7 53.3,43.2 53.0,42.8 C52.7,42.3 52.5,41.6 52.5,41.0 C52.5,40.4 52.7,39.7 53.0,39.2 C53.3,38.8 53.8,38.3 54.2,38.1 C54.7,38.0 55.3,38.0 55.8,38.1 C56.2,38.3 56.7,38.8 57.0,39.2 C57.3,39.7 57.5,40.4 57.5,41.0Z" fill="#f4f0f4"/>
<path d="M-2.0,28.0 C-1.0,24.7 2.8,26.0 4.0,28.0 C5.2,30.0 5.0,36.7 5.0,40.0 C5.0,43.3 5.2,46.7 4.0,48.0 C2.8,49.3 -1.0,51.3 -2.0,48.0 C-3.0,44.7 -3.0,31.3 -2.0,28.0Z" fill="#f4f0f4"/>
<circle cx="83.0" cy="52.2" r="1.2" fill="#8a6a60"/>
<circle cx="78.3" cy="49.9" r="1.7" fill="#2a1e30"/>
<circle cx="79.4" cy="57.0" r="1.5" fill="#8a6a60"/>
<circle cx="73.5" cy="58.4" r="1.1" fill="#5a3e58"/>
<circle cx="75.2" cy="51.1" r="1.8" fill="#5a3e58"/>
<circle cx="85.1" cy="52.9" r="1.1" fill="#2a1e30"/>
<circle cx="81.6" cy="60.0" r="1.1" fill="#7a5a50"/>
<circle cx="82.7" cy="57.3" r="1.1" fill="#5a3e58"/>
<circle cx="85.9" cy="59.5" r="0.9" fill="#3a2838"/>
<circle cx="82.7" cy="50.2" r="1.0" fill="#5a3e58"/>
<circle cx="79.0" cy="49.8" r="1.5" fill="#7a5a50"/>
<circle cx="81.9" cy="53.2" r="1.8" fill="#7a5a50"/>
<circle cx="77.4" cy="50.3" r="1.7" fill="#8a6a60"/>
<circle cx="81.1" cy="58.2" r="1.4" fill="#7a5a50"/>
<circle cx="163.5" cy="64.7" r="1.2" fill="#7a5040"/>
<circle cx="168.9" cy="61.3" r="1.3" fill="#6a4030"/>
<circle cx="165.3" cy="60.0" r="1.3" fill="#7a5040"/>
<circle cx="166.6" cy="68.3" r="1.2" fill="#7a5040"/>
<circle cx="169.4" cy="56.9" r="1.7" fill="#7a5040"/>
<circle cx="173.0" cy="59.9" r="1.5" fill="#7a5040"/>
<circle cx="169.7" cy="66.8" r="1.3" fill="#7a5040"/>
<circle cx="158.1" cy="61.4" r="1.4" fill="#2a1e30"/>
<circle cx="166.3" cy="61.0" r="1.2" fill="#5a3e58"/>
<circle cx="169.4" cy="70.0" r="1.6" fill="#5a3e58"/>
<circle cx="161.4" cy="63.3" r="1.3" fill="#5a3e58"/>
<circle cx="168.2" cy="65.3" r="1.1" fill="#2a1e30"/>
<circle cx="159.5" cy="59.3" r="1.6" fill="#2a1e30"/>
<circle cx="160.6" cy="64.0" r="1.5" fill="#8a6a60"/>
<circle cx="171.6" cy="63.8" r="0.9" fill="#7a5040"/>
<circle cx="170.4" cy="54.1" r="0.9" fill="#5a3e58"/>
<circle cx="165.0" cy="69.2" r="1.7" fill="#2a1e30"/>
<circle cx="160.2" cy="58.7" r="0.9" fill="#3a2838"/>
<circle cx="162.1" cy="52.5" r="1.4" fill="#2a1e30"/>
<circle cx="167.4" cy="56.2" r="1.7" fill="#3a2838"/>
<circle cx="168.2" cy="57.5" r="1.0" fill="#5a3e58"/>
<circle cx="165.3" cy="51.2" r="1.2" fill="#6a4030"/>
<circle cx="169.7" cy="71.7" r="1.4" fill="#7a5040"/>
<circle cx="163.4" cy="58.0" r="1.2" fill="#6a4030"/>
<circle cx="163.8" cy="64.3" r="1.0" fill="#6a4030"/>
<circle cx="158.6" cy="63.4" r="1.1" fill="#7a5040"/>
<ellipse cx="76" cy="32" rx="3.5" ry="2.5" fill="#2a1e40"/>
<ellipse cx="71" cy="31" rx="2" ry="2" fill="#3a2848"/>
</g>
</g></g>
<g transform="translate(531,479)">
<clipPath id="cp6"><rect width="208" height="126"/></clipPath>
<g clip-path="url(#cp6)">
<rect width="208" height="126" fill="#dbd0d4"/>
<g filter="url(#blur4)">
<ellipse cx="30" cy="80" rx="22" ry="20" fill="#e0d8dc" opacity="0.9"/>
<ellipse cx="190" cy="50" rx="18" ry="40" fill="#e2dadf" opacity="0.9"/>
<ellipse cx="140" cy="90" rx="10" ry="25" fill="#ded6da" opacity="0.8"/>
<ellipse cx="40" cy="30" rx="25" ry="8" fill="#ddd4da" opacity="0.8"/>
</g>
<g filter="url(#blur1)" opacity="0.7">
<path fill="none" stroke-linecap="round" stroke="#9a8890" stroke-width="2.0" d="M29.6 68.0l4.8 6.7M1.6 111.2l6.5 12.5M39.3 99.2l4.3 11.0M14.0 75.5l8.9 12.5M16.4 120.2l5.2 10.3M18.1 68.2l4.0 11.0M4.8 72.6l4.7 10.4M23.2 72.4l4.6 5.4M5.7 103.7l4.6 8.7M31.6 70.1l4.8 12.6M15.1 84.1l3.7 4.7M10.4 80.5l3.2 6.0M29.5 118.6l6.9 8.9M33.5 88.0l4.2 8.8M20.6 81.5l4.0 4.7M28.6 76.0l9.6 12.0M2.0 89.6l5.6 9.1M1.2 103.6l2.9 5.9M20.6 115.4l3.1 5.7"/>
<path fill="none" stroke-linecap="round" stroke="#9a8890" stroke-width="1.0" d="M2.2 106.3l5.8 10.4M-0.1 79.5l3.1 5.4M0.3 99.8l6.3 14.5M39.6 85.1l7.4 12.3M27.0 116.8l4.4 6.9M47.5 92.7l4.7 13.8M41.8 81.4l3.9 6.7M40.8 81.3l5.4 10.8M16.2 71.9l5.0 14.4M21.5 67.6l5.5 12.5M17.9 76.0l6.5 11.6M7.5 77.6l8.0 9.4M26.2 79.3l5.1 8.7M3.2 73.9l7.6 12.7M39.4 117.4l4.9 13.6M17.6 90.0l5.4 14.0"/>
<path fill="none" stroke-linecap="round" stroke="#9a8890" stroke-width="1.5" d="M33.0 104.8l5.5 8.9M38.0 64.4l5.0 12.0M12.5 78.8l2.8 6.4M21.8 73.8l2.3 6.4M1.5 101.9l4.1 7.4M11.6 107.6l9.3 10.8M11.7 100.3l8.1 12.8M26.9 93.6l6.1 7.5M0.2 67.1l6.2 9.2M14.6 115.1l4.6 6.4"/>
<path fill="none" stroke-linecap="round" stroke="#9a8aa0" stroke-width="1.5" d="M167.9 112.8l8.1 11.2M190.8 14.0l3.7 5.4M194.6 12.0l9.5 11.1M152.6 78.3l4.4 8.1M189.7 28.5l3.9 7.7M160.5 105.2l8.1 9.3M202.8 83.5l4.0 5.0M170.1 10.8l4.1 6.9M158.4 38.8l5.7 14.6M167.2 59.5l6.3 13.0M203.2 19.0l2.5 7.4M148.4 69.9l7.7 11.5M182.0 61.3l6.4 9.9M188.9 38.9l5.7 8.3M186.6 66.0l7.7 10.0M185.9 57.7l4.2 6.9M193.4 109.8l5.2 11.5M192.6 28.1l5.0 12.0M151.0 32.5l3.9 9.8M185.1 111.8l7.2 13.7M51.2 19.5l5.0 7.1M72.3 17.7l6.1 9.7M38.4 50.5l5.1 9.5M50.2 34.1l6.8 10.7M58.8 51.3l5.3 6.8M48.6 28.6l3.9 9.0M48.8 19.0l7.6 8.5M61.9 19.5l3.5 10.1M75.5 21.7l6.7 9.7M42.2 44.5l3.2 6.3M54.3 32.5l6.0 9.3M38.0 32.3l5.2 8.9M62.6 39.3l7.0 13.5M80.0 19.5l3.0 7.9M65.4 42.2l6.1 9.1M50.1 32.6l4.0 7.4M58.8 27.0l7.9 10.6"/>
<path fill="none" stroke-linecap="round" stroke="#9a8aa0" stroke-width="2.0" d="M163.7 80.3l5.7 12.6M187.2 20.6l9.0 12.9M153.4 103.1l7.0 9.7M158.9 84.8l5.9 8.0M169.0 21.3l4.9 12.1M204.0 93.3l6.2 11.1M200.1 30.3l4.1 5.7M158.4 107.0l4.0 9.3M168.8 96.4l3.0 7.7M149.1 51.8l6.9 12.2M187.2 105.3l4.1 8.0M194.2 37.9l8.3 11.1M205.0 72.4l4.2 9.7M182.0 82.9l7.1 12.4M39.4 47.5l7.4 11.5M52.4 28.9l5.1 13.4M73.5 46.2l5.4 14.9M39.9 33.0l3.0 5.5M69.6 48.5l4.4 9.4M47.3 24.2l3.7 8.7M58.1 25.4l4.3 8.7M64.6 32.8l3.8 8.5"/>
<path fill="none" stroke-linecap="round" stroke="#9a8aa0" stroke-width="1.0" d="M174.3 97.7l9.7 12.3M184.9 53.1l5.2 14.5M175.5 116.6l2.1 6.4M177.5 21.8l3.7 5.6M166.1 79.5l2.4 6.9M198.9 88.2l5.5 6.9M147.6 40.5l9.9 12.3M191.4 68.1l3.2 5.2M180.9 22.8l5.7 7.1M199.6 51.3l3.4 6.7M197.3 110.5l5.7 13.7M196.1 93.5l8.1 11.3M189.6 87.3l4.2 8.7M202.2 105.7l5.7 11.3M175.9 73.7l7.9 11.8M187.1 32.2l3.8 5.0M180.7 84.8l5.4 8.4M185.3 4.4l5.6 12.5M174.0 22.6l3.8 9.8M196.6 35.5l4.3 10.0M81.6 19.4l6.1 7.7M75.5 38.2l3.8 7.3M50.2 19.7l2.1 6.1M85.0 25.2l5.0 5.6M75.2 20.7l6.2 12.0M64.6 49.9l8.4 12.9M77.5 37.9l10.0 12.3M61.1 48.9l4.3 8.2M69.9 25.3l10.3 11.5M70.9 36.4l2.7 6.4M44.4 37.8l3.2 7.2"/>
<path fill="none" stroke-linecap="round" stroke="#f6f0f2" stroke-width="2.4" d="M34.2 80.2l5.5 10.5M38.2 120.4l4.6 5.5M36.8 100.7l2.7 6.5M29.0 82.1l4.6 5.5M32.3 116.9l4.2 9.8M187.4 70.4l4.1 10.9M181.2 14.1l4.1 11.8M191.9 6.6l5.0 11.4M182.0 80.8l7.8 11.1M185.4 25.7l6.5 9.9M185.1 81.5l8.7 10.7M195.1 23.3l2.6 7.2M182.9 98.4l2.3 6.8"/>
<path fill="none" stroke-linecap="round" stroke="#f6f0f2" stroke-width="1.2" d="M12.0 72.8l4.3 5.6M13.4 107.5l3.4 4.2M7.7 68.5l3.1 8.8M18.8 71.7l2.5 4.9M12.6 99.6l5.4 10.4M-2.0 80.9l7.3 10.4M199.3 29.0l4.4 5.4M178.9 70.2l4.2 8.4M188.8 52.5l3.3 4.9M176.5 114.9l3.1 8.6"/>
<path fill="none" stroke-linecap="round" stroke="#f6f0f2" stroke-width="1.8" d="M23.6 104.1l8.1 10.0M2.4 66.9l5.4 7.6M16.1 116.7l5.9 8.4M1.1 65.7l5.4 8.8M202.9 98.5l4.2 5.0M193.1 96.5l3.0 8.4M196.1 82.5l3.2 9.0M173.6 88.5l5.5 9.3M174.4 17.2l3.5 4.9M199.3 96.0l8.6 9.5M187.8 13.2l3.6 5.0M199.9 86.0l2.9 4.2"/>
</g>
<g filter="url(#blur15)">
<path d="M0.0,10.0 C4.2,10.3 16.7,12.3 25.0,12.0 C33.3,11.7 42.2,9.3 50.0,8.0 C57.8,6.7 68.3,4.7 72.0,4.0" fill="none" stroke="#ab9cbc" stroke-width="16" stroke-linecap="round" stroke-linejoin="round"/>
<path d="M13.0,95.0 C15.0,97.5 20.5,105.2 25.0,110.0 C29.5,114.8 37.5,121.7 40.0,124.0" fill="none" stroke="#ab9cbc" stroke-width="12" stroke-linecap="round" stroke-linejoin="round"/>
<path d="M150.0,40.0 C151.7,41.3 156.7,45.7 160.0,48.0 C163.3,50.3 168.3,53.0 170.0,54.0" fill="none" stroke="#ab9cbc" stroke-width="12" stroke-linecap="round" stroke-linejoin="round"/>
<path d="M158.0,60.0 C158.0,65.0 158.0,79.0 158.0,90.0 C158.0,101.0 158.0,120.0 158.0,126.0" fill="none" stroke="#ab9cbc" stroke-width="10" stroke-linecap="round" stroke-linejoin="round"/>
<path d="M178.0,55.0 C178.2,60.8 178.3,78.2 179.0,90.0 C179.7,101.8 181.5,120.0 182.0,126.0" fill="none" stroke="#ab9cbc" stroke-width="12" stroke-linecap="round" stroke-linejoin="round"/>
<path d="M48.0,104.0 C52.5,105.0 65.7,109.2 75.0,110.0 C84.3,110.8 99.2,109.2 104.0,109.0" fill="none" stroke="#ab9cbc" stroke-width="8" stroke-linecap="round" stroke-linejoin="round"/>
<path d="M105.0,75.0 C105.5,78.3 107.8,89.0 108.0,95.0 C108.2,101.0 106.3,108.3 106.0,111.0" fill="none" stroke="#ab9cbc" stroke-width="8" stroke-linecap="round" stroke-linejoin="round"/>
<path d="M97.0,30.0 C97.5,26.7 98.2,24.5 100.0,22.0 C101.8,19.5 105.0,17.0 108.0,15.0 C111.0,13.0 115.0,11.0 118.0,10.0 C121.0,9.0 123.5,8.3 126.0,9.0 C128.5,9.7 130.3,11.8 133.0,14.0 C135.7,16.2 139.7,19.3 142.0,22.0 C144.3,24.7 146.7,27.3 147.0,30.0 C147.3,32.7 145.8,35.5 144.0,38.0 C142.2,40.5 139.0,42.7 136.0,45.0 C133.0,47.3 129.3,50.0 126.0,52.0 C122.7,54.0 119.3,56.0 116.0,57.0 C112.7,58.0 108.8,58.8 106.0,58.0 C103.2,57.2 100.5,54.7 99.0,52.0 C97.5,49.3 97.3,45.7 97.0,42.0 C96.7,38.3 96.5,33.3 97.0,30.0Z" fill="#ab9cbc" stroke="#ab9cbc" stroke-width="20.0" stroke-linejoin="round"/>
<path d="M56.0,100.0 C55.3,97.5 56.8,91.7 58.0,88.0 C59.2,84.3 61.0,81.0 63.0,78.0 C65.0,75.0 67.2,72.0 70.0,70.0 C72.8,68.0 76.3,66.7 80.0,66.0 C83.7,65.3 89.2,65.0 92.0,66.0 C94.8,67.0 96.0,68.8 97.0,72.0 C98.0,75.2 98.2,80.8 98.0,85.0 C97.8,89.2 97.3,93.8 96.0,97.0 C94.7,100.2 93.5,102.8 90.0,104.0 C86.5,105.2 79.7,104.2 75.0,104.0 C70.3,103.8 65.2,103.7 62.0,103.0 C58.8,102.3 56.7,102.5 56.0,100.0Z" fill="#ab9cbc" stroke="#ab9cbc" stroke-width="20.0" stroke-linejoin="round"/>
<path d="M22.5,58.0 C22.5,59.1 21.9,60.4 21.0,61.2 C20.1,62.1 18.5,62.9 17.0,63.2 C15.5,63.6 13.5,63.6 12.0,63.2 C10.5,62.9 8.9,62.1 8.0,61.2 C7.1,60.4 6.5,59.1 6.5,58.0 C6.5,56.9 7.1,55.6 8.0,54.8 C8.9,53.9 10.5,53.1 12.0,52.8 C13.5,52.4 15.5,52.4 17.0,52.8 C18.5,53.1 20.1,53.9 21.0,54.8 C21.9,55.6 22.5,56.9 22.5,58.0Z" fill="#ab9cbc" stroke="#ab9cbc" stroke-width="20.0" stroke-linejoin="round"/>
<path d="M164.0,62.0 C164.8,60.5 166.7,62.2 168.0,66.0 C169.3,69.8 170.8,78.5 172.0,85.0 C173.2,91.5 174.8,100.2 175.0,105.0 C175.2,109.8 174.5,112.5 173.0,114.0 C171.5,115.5 167.5,117.2 166.0,114.0 C164.5,110.8 164.5,101.5 164.0,95.0 C163.5,88.5 163.0,80.5 163.0,75.0 C163.0,69.5 163.2,63.5 164.0,62.0Z" fill="#ab9cbc" stroke="#ab9cbc" stroke-width="16.0" stroke-linejoin="round"/>
</g>
<g filter="url(#blur07)" fill="none" stroke-linecap="round">
<path stroke="#3a2e80" stroke-width="3.6" d="M92.6 28.1l1.6 1.1M100.9 8.9l1.1 0.9M154.1 39.5l-1.7-0.3M143.4 52.3l-1.5-1.5M135.1 58.3l-0.9-1.5M103.7 86.5l-1.5-0.6M-0.9 64.8l1.6-0.5M161.2 101.1l2.0-0.6M-0.3 11.4l0.2 1.4M19.0 16.4l-0.5 1.3M57.4 8.3l0.3 2.3M61.5 5.1l0.7 1.4M156.6 43.5l-1.2 1.0M155.8 90.9l-2.0 0.6M162.1 122.2l-1.9 0.3M160.6 124.8l-2.3-0.1M182.6 112.2l-1.8 0.4M107.7 81.5l-2.0 1.0M7.2 96.3l0.5 2.1M12.5 102.5l1.4 1.5M6.6 115.5l0.4 1.4M13.4 113.5l0.7 1.7M20.5 64.7l1.1 1.7M186.7 63.7l0.5 1.4M56.3 92.7l1.1 1.6"/>
<path stroke="#4a3a88" stroke-width="4.3" d="M87.9 26.7l1.0 0.2M115.5 6.1l0.9 1.4M149.5 45.5l-1.0-0.6M92.5 48.5l1.4-0.1M91.8 38.3l1.1 0.4M51.0 99.0l0.9 0.4M74.4 112.6l-0.1-0.7M26.4 63.3l-1.3-0.9M174.6 74.3l-1.5-0.0M6.9 13.3l0.0 1.2M14.3 13.5l-0.4 1.6M47.3 6.1l0.1 1.1M60.6-0.5l0.3 1.0M65.0 9.2l-0.2 1.0M69.4 7.9l0.4 1.0M13.8 94.3l-0.6 0.5M29.9 111.9l-0.7 0.4M33.6 118.4l-0.6 0.6M37.1 125.0l-0.4 0.8M153.8 39.2l-0.6 0.5M158.2 76.8l-0.7 0.1M155.9 112.7l-1.0 0.2M182.2 57.3l-0.8-0.0M178.1 88.5l-0.7 0.3M175.9 91.2l-1.4 0.3M183.6 100.4l-1.5-0.1M178.8 107.8l-0.7 0.1M53.3 101.8l-0.0 0.7M73.1 111.6l0.2 1.5M78.3 107.1l0.3 0.8M103.2 77.9l-1.4-0.2M106.2 100.8l-1.7 0.1M20.9 124.9l0.6 0.6M207.3 112.2l0.6 0.6M9.7 14.2l0.7 0.8M11.1 27.6l0.5 0.9M148.8 45.5l0.5 0.6M22.0 112.6l0.3 0.8M122.3 63.3l0.5 0.5M66.7 110.3l0.6 1.6M197.0 77.4l1.3 1.1M17.6 96.1l0.8 0.7M72.8 108.9l1.1 1.0"/>
<path stroke="#6a5060" stroke-width="4.3" d="M92.8 25.2l1.2 0.4M97.3 13.4l0.5 1.0M133.6 4.4l-0.6 1.0M118.2 60.9l-0.9-1.0M52.3 87.4l1.4-0.2M54.0 82.9l1.5 0.7M60.7 67.1l0.6 0.5M83.3 60.8l-0.2 0.8M86.2 57.1l0.2 1.5M107.5 81.8l-0.8-0.2M54.7 106.4l0.8-1.5M13.1 47.0l-0.4 1.1M160.4 107.1l0.8-0.1M31.4 12.9l-0.0 0.8M33.2 7.8l-0.2 1.7M35.1 6.3l0.2 1.4M43.0 11.3l0.7 1.5M153.1 40.0l-0.9 1.2M156.7 71.9l-0.9 0.3M161.4 93.6l-0.8 0.1M158.6 115.1l-0.7 0.2M182.4 62.3l-1.5-0.4M181.9 66.9l-0.8-0.1M181.7 69.4l-0.7-0.1M179.5 79.2l-1.4-0.4M181.9 86.3l-1.2-0.3M92.9 108.0l-0.1 1.2M109.6 108.7l-1.4-0.2M189.9 84.9l1.0 0.9M191.6 82.8l0.6 1.4M197.1 63.5l0.2 0.8M103.4 76.3l0.2 0.9M140.1 48.0l1.1 1.0M113.9 103.5l0.5 1.2M70.7 104.2l0.6 0.8M156.6 3.5l0.3 1.1M153.9 54.1l0.6 1.5M137.3 106.2l1.2 1.2"/>
<path stroke="#352a70" stroke-width="4.3" d="M89.5 24.0l1.0 0.3M119.4 0.8l0.3 1.2M151.2 20.8l-0.6 0.5M122.5 63.3l-0.5-1.3M71.7 60.6l0.3 0.7M89.1 56.3l0.3 1.6M98.4 65.1l-1.0 0.5M103.9 81.7l-1.3 0.5M100.0 101.1l-0.9-1.4M81.1 108.6l-0.2-1.6M62.6 107.8l0.1-1.2M6.0 71.1l0.5-1.6M167.0 58.8l-0.8 1.1M175.0 80.1l-0.7 0.4M63.1 0.5l0.5 1.2M15.9 92.6l-0.6 0.7M18.4 93.8l-1.1 0.8M161.3 88.9l-1.4-0.2M179.0 64.5l-0.7 0.2M179.7 71.7l-0.9 0.1M17.0 70.3l1.0 1.0M195.9 84.9l1.0 0.9M195.7 108.0l0.8 1.1M189.2 103.1l0.6 1.0M93.6 50.7l0.5 0.5M43.9 4.1l0.6 1.1"/>
<path stroke="#46388a" stroke-width="3.6" d="M89.4 20.5l1.6 1.1M93.5 14.3l1.6 1.1M155.6 33.4l-2.2-0.1M150.5 34.9l-2.2-0.5M48.0 86.7l2.0-0.1M55.8 70.4l1.1 1.9M102.2 95.2l-2.2-0.3M5.8 44.4l0.3 1.8M26.6 55.6l-1.3 1.3M167.1 119.1l0.7-2.1M158.6 88.6l1.6 0.5M162.0 74.5l-1.9-0.1M183.7 74.4l-2.1-0.6M183.8 83.3l-2.0 0.7M180.2 90.7l-1.4 0.5M177.2 98.6l-1.4-0.4M71.6 109.6l-0.8 1.4M95.2 109.5l0.3 1.8M46.6 88.8l1.7 1.7M177.0 41.4l1.3 1.1M183.5 95.1l1.0 1.7M108.2 2.6l1.0 1.1M125.3 97.0l0.3 1.7M8.9 112.3l0.4 1.7M2.0 109.5l0.7 1.4M188.0 106.6l0.7 1.4"/>
<path stroke="#4a3a88" stroke-width="4.0" d="M97.0 18.0l1.3 1.2M137.9 10.2l-1.6 1.3M111.0 66.7l-0.1-1.2M108.0 67.3l-0.1-2.0M101.1 61.1l0.5-1.2M89.2 60.9l0.2 1.8M84.1 112.6l-0.3-1.9M21.6 68.1l-0.8-1.8M169.4 60.9l-1.1 0.8M177.9 104.1l-1.0 0.4M177.6 111.4l-1.5-0.2M162.0 110.1l1.3-0.4M9.4 15.8l-0.7 1.7M29.9 5.5l0.6 1.3M56.2 2.2l0.4 1.2M66.1 1.8l0.0 2.0M35.0 124.2l-1.0 0.6M37.7 120.9l-0.9 1.1M152.4 37.0l-1.1 1.2M168.4 50.9l-0.7 1.7M161.1 62.3l-1.0 0.2M183.4 73.9l-1.9 0.3M90.4 106.7l0.2 1.5M102.9 111.2l-0.5 1.7M105.2 89.7l-1.9-0.1M110.4 93.4l-1.3 0.6M110.4 104.2l-1.7-0.8M11.8 91.7l0.5 1.1M197.8 34.0l1.2 1.5M147.6 98.9l0.6 1.8M195.7 19.2l0.6 1.9M169.3 9.3l1.3 1.3M68.6 59.9l0.7 1.2"/>
<path stroke="#6a5060" stroke-width="3.6" d="M101.5 14.4l1.7 1.1M88.4 38.6l2.0-0.2M59.1 73.5l0.9 1.2M69.7 64.4l1.2 1.6M100.2 67.7l-2.0 0.8M103.2 64.4l-1.0 1.5M102.8 92.6l-1.7-0.9M177.8 95.1l-1.7 0.4M159.0 73.1l1.8 0.6M19.2 12.9l-0.4 1.3M47.4 5.9l0.0 2.0M51.9 6.2l0.8 1.5M27.0 105.5l-1.5 0.9M38.2 117.2l-1.6 1.0M156.6 39.0l-1.1 2.1M168.5 46.5l-1.5 1.7M157.9 60.3l-1.8-0.6M161.8 79.2l-1.8 0.0M158.0 105.6l-2.3 0.0M180.6 95.8l-1.5-0.2M185.2 102.3l-2.3 0.7M180.2 105.2l-1.4 0.4M184.9 117.2l-2.2-0.3M76.2 109.4l-0.1 2.4M175.6 5.3l0.5 1.9M184.4 6.2l0.9 1.2M2.6 39.7l0.8 1.8M38.6 118.8l1.2 1.4M87.8 13.9l1.6 1.4M138.7 96.7l1.4 1.6"/>
<path stroke="#3a2e80" stroke-width="4.3" d="M98.9 11.3l1.2 0.7M122.8 0.5l-0.3 1.5M144.3 11.6l-0.5 0.9M144.7 45.0l-0.4-0.9M139.9 48.2l-0.9-0.6M98.1 64.0l1.0-0.6M88.2 46.4l0.7-0.4M72.8 63.6l0.4 1.0M97.7 103.0l-0.7-1.1M98.5 107.1l-1.0-0.4M77.9 112.9l0.2-1.6M71.8 108.0l-0.1-1.1M68.5 111.9l-0.3-1.2M29.4 64.6l-0.9-0.4M3.8 62.6l0.9-0.3M176.4 82.9l-0.8 0.4M175.9 86.2l-1.1 0.4M177.0 92.1l-1.0 0.5M158.8 91.8l1.0 0.1M12.6 4.3l-0.4 1.6M14.6 7.4l0.0 1.4M21.9 9.6l-0.5 1.2M28.3 9.8l0.3 0.9M44.3 3.0l0.3 1.4M53.8 1.8l-0.0 0.8M15.8 95.8l-1.2 1.1M18.7 96.7l-0.6 0.4M161.8 98.4l-1.3-0.1M160.8 103.2l-1.2 0.1M176.0 71.9l-1.1-0.1M185.5 109.6l-1.3 0.3M66.8 108.8l-0.6 1.3M106.6 110.6l-1.4 0.2M68.6 34.7l0.5 0.8M125.1 111.3l0.5 0.9M147.6 95.3l0.3 1.2M34.4 120.1l0.9 0.8M176.2 44.8l0.5 0.6"/>
<path stroke="#3a2e80" stroke-width="4.0" d="M103.5 11.5l0.8 1.2M144.9 50.0l-0.6-1.6M132.2 59.5l-0.5-1.2M120.3 65.1l-0.9-1.2M56.2 80.4l0.9 0.9M51.8 78.2l1.6 1.2M106.5 75.8l-1.2-0.1M81.0 113.3l-0.0-1.5M65.1 111.7l0.6-1.2M15.8 48.4l0.2 1.6M7.2 6.7l0.4 1.9M51.9 6.0l0.7 1.4M66.6 5.7l0.5 1.8M156.2 47.7l-0.9 1.0M157.9 120.1l-1.8-0.3M181.1 76.6l-1.3-0.0M183.4 83.7l-2.0 0.1M177.5 115.4l-1.8-0.2M183.3 115.0l-1.8-0.4M69.5 106.1l-0.2 1.9M0.1 105.7l1.1 1.1M199.8 10.5l0.8 1.2M60.2 58.1l0.6 1.0"/>
<path stroke="#46388a" stroke-width="4.0" d="M107.7 9.6l0.2 1.8M129.8 56.3l-0.7-1.8M123.3 58.6l-0.2-1.3M125.5 62.0l-1.1-1.2M98.4 59.3l1.0-1.1M96.5 57.1l1.1-1.6M49.1 89.6l1.1 0.5M106.2 79.1l-1.9-0.5M84.0 108.5l-0.1-1.5M-0.8 51.4l1.7 0.6M21.0 48.7l-0.6 1.8M170.5 118.2l0.0-2.0M159.1 95.0l1.5-0.4M12.2 7.8l-0.2 1.4M32.4 4.2l0.1 1.1M18.2 103.1l-1.1 1.0M17.9 106.4l-1.1 0.9M24.7 110.2l-1.2 1.1M25.7 112.6l-0.9 1.2M35.1 116.8l-1.1 1.1M33.4 122.0l-0.9 1.3M160.1 51.3l-0.8 0.9M157.5 64.6l-1.9 0.5M176.9 78.8l-1.1 0.4M178.1 88.8l-1.3-0.3M182.7 110.1l-1.3-0.2M48.1 103.5l-0.5 1.8M74.3 51.1l0.3 1.1M84.7 31.6l0.8 0.9M57.4 32.8l1.2 1.1M58.9 8.2l0.8 1.1M136.9 86.6l0.5 1.5"/>
<path stroke="#3c2f7a" stroke-width="4.3" d="M105.3 5.7l0.6 0.9M141.8 10.2l-0.9 0.7M136.5 55.0l-0.7-1.1M113.5 62.0l-0.0-1.0M89.3 52.2l0.9-0.2M87.4 32.6l1.5-0.2M68.3 60.6l0.7 1.1M107.1 90.0l-1.0-0.3M96.1 105.4l-0.5-0.6M158.8 79.8l1.7 0.1M23.8 13.5l-0.0 0.7M13.7 100.7l-1.2 0.8M31.6 109.7l-0.8 1.3M152.6 36.9l-0.8 0.6M158.1 48.8l-0.7 1.5M161.8 52.5l-0.4 1.0M176.9 108.0l-0.9 0.1M59.3 108.2l-0.2 1.1M88.1 110.3l0.1 1.1M109.9 84.0l-1.0 0.1M179.5 95.8l0.8 1.3M188.6 48.3l0.4 1.2M194.1 57.9l0.5 1.0M206.5 47.8l0.7 1.0M129.4 74.2l0.4 1.3M134.7 100.1l0.6 0.6M78.8 44.4l0.3 1.5M35.9 102.2l0.5 1.0M0.7 90.3l1.1 1.0M8.0 81.1l0.6 1.3"/>
<path stroke="#3c2f7a" stroke-width="4.0" d="M110.1 8.5l0.7 1.2M146.8 42.6l-1.2-1.3M92.5 35.3l1.4 0.5M87.5 35.3l1.2 0.4M75.3 62.3l0.9 1.1M104.8 95.5l-1.6 0.1M74.5 108.2l0.3-1.4M68.6 108.0l0.2-1.4M1.6 60.2l1.1-0.3M177.4 89.4l-1.9-0.1M35.0 4.0l-0.2 1.7M38.0 10.1l0.6 1.1M45.6 11.2l0.3 1.7M55.5 10.8l-0.0 1.3M59.3 5.6l0.3 1.2M155.5 41.1l-1.2 0.9M160.8 117.6l-2.0-0.0M176.4 62.1l-1.4 0.3M183.6 69.5l-1.5-0.4M178.8 76.6l-1.4-0.0M181.5 98.2l-1.7-0.2M43.7 104.7l0.4 1.7M9.8 63.1l0.6 1.4M195.0 36.9l0.3 1.5M185.0 17.0l1.1 1.3M26.5 115.3l1.4 1.3M203.5 93.5l0.9 0.8M131.2 83.9l1.0 1.6M96.7 117.6l0.5 1.1"/>
<path stroke="#5a4a70" stroke-width="3.6" d="M107.9 4.5l1.4 1.7M141.9 14.7l-1.8 1.5M107.7 63.6l-0.4-2.2M51.4 93.0l2.1 0.6M47.0 92.3l2.2 0.6M74.0 58.7l0.7 1.3M102.4 75.8l-1.5 0.7M106.2 93.1l-1.7-0.8M13.0 73.5l0.1-1.7M175.6 77.0l-2.1 0.4M179.0 97.8l-1.4 0.7M178.0 114.7l-2.2-0.7M0.3 3.9l0.2 2.2M2.2 12.3l-0.1 2.1M4.7 12.0l-0.2 1.6M16.6 9.8l0.4 2.2M21.9 7.7l-0.1 1.5M26.5 14.7l0.8 1.7M26.5 105.7l-1.3 1.0M158.3 49.4l-1.9 1.2M160.6 50.1l-1.0 1.5M168.4 51.4l-1.4 1.5M182.8 54.6l-1.7 0.6M180.8 57.1l-2.0 0.6M182.8 67.1l-1.9-0.4M179.4 81.7l-2.1-0.6M180.0 86.2l-1.5 0.0M182.3 95.3l-2.0 0.6M58.4 103.0l-1.0 2.1M106.2 79.4l-1.5 0.7M110.6 99.3l-2.0-0.5M28.9 80.3l1.7 1.6M19.6 99.9l1.2 1.7M114.3 8.3l0.3 1.7M52.3 13.4l0.6 2.1M40.7 91.7l0.4 1.4M36.9 118.5l0.8 2.1"/>
<path stroke="#5a4a70" stroke-width="4.3" d="M112.8 7.3l0.6 0.7M132.1 6.3l-0.5 1.5M147.0 20.3l-1.6 0.4M128.1 61.4l-0.2-1.2M47.2 95.4l1.0 0.3M80.2 57.3l0.0 0.9M56.0 111.1l0.2-1.6M26.3 59.9l-0.7-0.6M23.3 71.2l-0.8-1.1M173.1 65.1l-1.3 0.7M177.7 108.6l-1.4-0.9M161.8 113.0l1.2-0.2M158.9 82.8l1.6 0.1M30.6 118.1l-1.1 1.0M154.6 45.8l-0.7 0.8M159.6 43.2l-0.5 0.9M156.2 100.9l-0.7-0.2M179.7 55.0l-1.5-0.1M183.0 64.2l-1.6 0.5M183.8 81.3l-1.1-0.1M181.6 102.6l-1.2 0.5M185.6 119.4l-0.9-0.1M186.7 124.1l-1.1 0.0M64.6 106.4l-0.2 1.7M108.1 91.5l-1.0 0.1M10.4 113.8l0.3 1.1M199.6 22.5l1.2 1.1M54.2 38.9l0.5 1.5M119.6 70.5l0.8 1.4M43.3 89.6l0.7 0.7M80.2 120.2l0.8 0.7M189.3 88.3l0.5 0.9M138.7 55.7l0.8 1.0M32.2 27.3l0.7 0.9"/>
<path stroke="#352a70" stroke-width="4.0" d="M111.2 3.4l0.3 1.7M120.2 4.7l-0.2 1.2M137.4 4.7l-1.2 1.0M148.1 22.7l-0.8 0.7M91.6 32.6l1.4-0.1M61.2 72.0l1.8 0.8M107.1 86.9l-1.6-0.2M86.8 109.2l0.4-1.6M30.0 61.6l-1.2-0.8M31.0 53.9l-1.9 0.8M158.1 77.1l1.7-0.5M160.1 64.2l1.6 0.5M43.2 11.6l0.4 1.0M30.2 115.0l-1.0 0.9M31.2 117.2l-0.5 1.0M163.7 54.0l-0.6 1.4M155.3 67.1l-1.1 0.2M108.8 96.5l-1.3-0.2M27.9 65.7l0.5 1.9M0.8 113.3l0.4 1.3M194.5 0.3l0.6 1.5M186.3 93.2l0.8 1.2M34.4 102.9l0.7 1.9M184.1 124.6l1.2 1.7M15.5 90.3l0.3 1.7M28.6 80.9l0.3 1.4M171.1 23.6l0.9 0.8M42.8 113.7l0.4 1.4"/>
<path stroke="#6a5060" stroke-width="4.0" d="M130.1 4.6l-1.4 1.3M140.0 11.7l-0.8 1.7M136.9 50.6l-0.7-1.4M131.9 54.1l-0.6-1.6M110.8 63.5l-0.3-1.2M80.0 60.5l0.4 1.6M86.0 60.9l0.5 1.5M65.8 109.0l-0.3-1.5M62.3 111.7l0.2-1.0M30.2 50.7l-1.1 1.0M70.3-1.9l0.1 1.8M18.6 99.5l-0.8 1.1M178.8 59.6l-1.8 0.5M179.5 105.2l-1.1 0.4M181.9 124.7l-1.8-0.4M27.7 95.8l0.3 1.3M83.0 56.8l0.4 1.4M176.2 106.9l0.7 1.0M147.5 84.2l0.5 1.5M154.4 24.7l0.5 1.8M160.7 78.0l0.5 1.6M52.0 8.3l0.7 1.1M184.3 120.8l0.4 1.7M176.4 78.8l0.5 1.5"/>
<path stroke="#46388a" stroke-width="4.3" d="M132.1 1.3l-0.6 1.2M150.7 17.4l-1.1 1.2M150.8 32.2l-1.0-0.9M114.1 65.9l-0.4-1.0M50.5 81.2l1.6 0.5M53.3 109.1l0.6-1.0M172.4 71.5l-1.1 0.3M17.0 11.2l-0.7 1.5M25.5 6.5l0.1 0.9M37.6 5.7l-0.1 1.4M48.9 2.5l0.4 1.0M69.6 9.9l0.7 1.2M20.8 98.0l-1.0 0.7M25.9 112.7l-0.8 0.6M184.8 112.1l-1.3 0.3M34.0 123.8l0.4 0.7M40.9 93.7l0.4 0.7M180.8 11.6l0.4 1.4M205.8 8.5l0.7 1.0M144.1 43.0l0.4 0.7M142.9 60.3l0.5 0.5M147.5 122.3l0.5 1.1M108.0 98.6l0.6 0.9M161.0 45.3l0.6 1.5M183.2 55.1l0.5 0.6"/>
<path stroke="#352a70" stroke-width="3.6" d="M134.9 7.5l-0.9 2.0M139.2 53.8l-0.8-1.6M96.6 61.8l0.6-1.5M91.4 45.7l1.5-0.3M92.3 41.4l2.2 0.2M52.5 90.4l1.7 0.1M62.7 69.3l2.0 0.8M102.0 61.5l-1.1 1.7M107.5 72.7l-1.8 0.0M86.8 114.7l0.4-2.3M15.7 69.6l0.6-1.9M25.7 52.8l-1.5 1.2M173.9 68.0l-1.6 0.7M1.9 13.8l0.2 1.7M29.0 14.1l0.5 2.1M41.3 13.9l0.2 1.6M49.9 5.9l-0.2 1.5M21.2 103.5l-1.1 1.5M21.3 107.0l-1.3 0.6M37.9 124.3l-1.0 1.0M168.6 55.5l-1.1 1.6M169.9 52.5l-0.5 2.2M159.8 84.1l-1.5-0.2M155.6 95.8l-2.2 0.3M155.5 110.3l-2.3 0.2M182.8 119.9l-2.1-0.5M62.9 104.0l-0.6 1.6M81.1 108.1l-0.3 1.5M55.0 91.6l1.6 1.6M56.3 120.8l1.3 1.3M155.7 19.3l0.6 2.0M162.9 99.6l0.5 2.0M199.1 20.5l0.6 1.5M186.4 9.0l0.9 1.5"/>
<path stroke="#3c2f7a" stroke-width="3.6" d="M139.5 8.4l-1.3 0.9M150.6 25.1l-1.8 0.4M155.2 37.1l-1.3-1.1M150.5 38.0l-2.1-0.2M141.9 45.8l-1.5-0.9M134.1 51.7l-0.6-1.4M121.7 61.4l-1.1-1.8M94.2 51.4l1.4-0.6M51.9 96.0l1.8 0.9M58.6 69.5l1.5 1.0M64.8 66.7l1.2 1.1M62.0 64.5l1.8 1.2M83.1 56.8l0.3 2.2M-2.7 62.5l2.1-1.1M7.4 48.0l0.9 1.9M178.6 101.4l-1.9-0.3M160.0 104.3l1.5-0.6M59.4 5.2l0.0 1.8M161.1 81.3l-2.0 0.6M157.6 86.5l-1.9-0.1M177.6 93.5l-1.5 0.2M181.9 93.1l-1.9 0.2M179.0 122.4l-2.2 0.1M51.0 101.9l-0.4 1.4M97.9 107.4l-0.3 1.4M99.9 106.1l0.3 1.9M107.6 86.8l-1.4 0.1M200.4 95.9l0.8 1.7M204.2 25.9l1.4 1.4M61.3 57.4l0.6 2.1M4.4 89.8l1.0 1.1M22.4 80.3l0.6 2.2M44.9 60.9l1.2 1.1"/>
<path stroke="#5a4a70" stroke-width="4.0" d="M144.2 16.2l-0.6 1.2M54.1 76.1l1.3 0.7M98.6 60.9l-1.1 0.8M103.2 78.8l-1.9 0.6M102.9 102.9l-1.8-0.9M101.2 106.0l-1.1-1.6M90.2 109.6l-0.4-2.0M13.0 69.0l-0.0-1.8M22.8 45.7l-0.9 1.2M159.8 70.2l1.1 0.4M5.3 6.1l-0.4 1.1M24.2 5.4l0.3 1.3M41.0 12.8l0.5 1.9M71.8 6.2l-0.1 1.3M18.5 103.3l-1.5 0.5M30.6 114.6l-1.0 0.9M159.6 69.7l-1.2-0.1M176.8 60.0l-1.0-0.3M55.5 102.8l0.1 1.2M83.0 109.8l0.7 1.8M85.8 107.3l-0.2 1.1M186.1 89.1l0.4 1.5M145.5 25.2l0.9 1.4M145.2 11.3l1.0 1.4M184.6 70.2l1.0 1.4M153.3 108.3l1.1 1.3M14.9 120.8l1.2 1.0M72.2 110.8l0.9 1.1M17.1 25.7l1.3 1.5M13.5 11.7l1.0 1.3"/>
<path stroke="#4a3a88" stroke-width="3.6" d="M146.2 14.5l-1.3 0.8M147.2 47.7l-1.2-1.4M57.0 77.3l1.8 1.5M96.3 62.8l-1.6 1.2M102.5 73.1l-2.3 0.0M90.2 113.1l-0.3-1.4M77.9 109.5l0.1-2.4M7.5 68.1l0.7-2.1M161.1 97.8l1.6 0.1M159.1 85.8l1.7-0.0M158.9 67.4l2.0-0.0M9.9 8.5l-0.4 1.4M24.7 104.0l-1.3 1.2M27.3 108.5l-2.1 1.1M165.0 47.5l-1.1 1.4M162.0 108.0l-2.0-0.0M182.9 100.1l-1.4 0.5M182.1 117.1l-1.6 0.3M178.1 122.2l-1.7 0.5M107.8 74.5l-1.5 0.4M106.5 105.9l-2.0-0.2M40.6 77.0l1.4 1.5M22.7 71.6l0.5 1.5M194.1 104.6l0.9 2.2M7.6 110.6l1.3 1.9M193.3 124.5l1.3 1.6"/>
</g>
<g filter="url(#blur07)">
<path d="M97.0,30.0 C97.5,26.7 98.2,24.5 100.0,22.0 C101.8,19.5 105.0,17.0 108.0,15.0 C111.0,13.0 115.0,11.0 118.0,10.0 C121.0,9.0 123.5,8.3 126.0,9.0 C128.5,9.7 130.3,11.8 133.0,14.0 C135.7,16.2 139.7,19.3 142.0,22.0 C144.3,24.7 146.7,27.3 147.0,30.0 C147.3,32.7 145.8,35.5 144.0,38.0 C142.2,40.5 139.0,42.7 136.0,45.0 C133.0,47.3 129.3,50.0 126.0,52.0 C122.7,54.0 119.3,56.0 116.0,57.0 C112.7,58.0 108.8,58.8 106.0,58.0 C103.2,57.2 100.5,54.7 99.0,52.0 C97.5,49.3 97.3,45.7 97.0,42.0 C96.7,38.3 96.5,33.3 97.0,30.0Z" fill="none" stroke="#cfc2d0" stroke-width="4.5" stroke-linejoin="round"/>
<path d="M56.0,100.0 C55.3,97.5 56.8,91.7 58.0,88.0 C59.2,84.3 61.0,81.0 63.0,78.0 C65.0,75.0 67.2,72.0 70.0,70.0 C72.8,68.0 76.3,66.7 80.0,66.0 C83.7,65.3 89.2,65.0 92.0,66.0 C94.8,67.0 96.0,68.8 97.0,72.0 C98.0,75.2 98.2,80.8 98.0,85.0 C97.8,89.2 97.3,93.8 96.0,97.0 C94.7,100.2 93.5,102.8 90.0,104.0 C86.5,105.2 79.7,104.2 75.0,104.0 C70.3,103.8 65.2,103.7 62.0,103.0 C58.8,102.3 56.7,102.5 56.0,100.0Z" fill="none" stroke="#cfc2d0" stroke-width="4.5" stroke-linejoin="round"/>
<path d="M22.5,58.0 C22.5,59.1 21.9,60.4 21.0,61.2 C20.1,62.1 18.5,62.9 17.0,63.2 C15.5,63.6 13.5,63.6 12.0,63.2 C10.5,62.9 8.9,62.1 8.0,61.2 C7.1,60.4 6.5,59.1 6.5,58.0 C6.5,56.9 7.1,55.6 8.0,54.8 C8.9,53.9 10.5,53.1 12.0,52.8 C13.5,52.4 15.5,52.4 17.0,52.8 C18.5,53.1 20.1,53.9 21.0,54.8 C21.9,55.6 22.5,56.9 22.5,58.0Z" fill="none" stroke="#cfc2d0" stroke-width="4.5" stroke-linejoin="round"/>
<path d="M164.0,62.0 C164.8,60.5 166.7,62.2 168.0,66.0 C169.3,69.8 170.8,78.5 172.0,85.0 C173.2,91.5 174.8,100.2 175.0,105.0 C175.2,109.8 174.5,112.5 173.0,114.0 C171.5,115.5 167.5,117.2 166.0,114.0 C164.5,110.8 164.5,101.5 164.0,95.0 C163.5,88.5 163.0,80.5 163.0,75.0 C163.0,69.5 163.2,63.5 164.0,62.0Z" fill="none" stroke="#cfc2d0" stroke-width="4.5" stroke-linejoin="round"/>
<path d="M97.0,30.0 C97.5,26.7 98.2,24.5 100.0,22.0 C101.8,19.5 105.0,17.0 108.0,15.0 C111.0,13.0 115.0,11.0 118.0,10.0 C121.0,9.0 123.5,8.3 126.0,9.0 C128.5,9.7 130.3,11.8 133.0,14.0 C135.7,16.2 139.7,19.3 142.0,22.0 C144.3,24.7 146.7,27.3 147.0,30.0 C147.3,32.7 145.8,35.5 144.0,38.0 C142.2,40.5 139.0,42.7 136.0,45.0 C133.0,47.3 129.3,50.0 126.0,52.0 C122.7,54.0 119.3,56.0 116.0,57.0 C112.7,58.0 108.8,58.8 106.0,58.0 C103.2,57.2 100.5,54.7 99.0,52.0 C97.5,49.3 97.3,45.7 97.0,42.0 C96.7,38.3 96.5,33.3 97.0,30.0Z" fill="#f4f0f4"/>
<path d="M56.0,100.0 C55.3,97.5 56.8,91.7 58.0,88.0 C59.2,84.3 61.0,81.0 63.0,78.0 C65.0,75.0 67.2,72.0 70.0,70.0 C72.8,68.0 76.3,66.7 80.0,66.0 C83.7,65.3 89.2,65.0 92.0,66.0 C94.8,67.0 96.0,68.8 97.0,72.0 C98.0,75.2 98.2,80.8 98.0,85.0 C97.8,89.2 97.3,93.8 96.0,97.0 C94.7,100.2 93.5,102.8 90.0,104.0 C86.5,105.2 79.7,104.2 75.0,104.0 C70.3,103.8 65.2,103.7 62.0,103.0 C58.8,102.3 56.7,102.5 56.0,100.0Z" fill="#f4f0f4"/>
<path d="M22.5,58.0 C22.5,59.1 21.9,60.4 21.0,61.2 C20.1,62.1 18.5,62.9 17.0,63.2 C15.5,63.6 13.5,63.6 12.0,63.2 C10.5,62.9 8.9,62.1 8.0,61.2 C7.1,60.4 6.5,59.1 6.5,58.0 C6.5,56.9 7.1,55.6 8.0,54.8 C8.9,53.9 10.5,53.1 12.0,52.8 C13.5,52.4 15.5,52.4 17.0,52.8 C18.5,53.1 20.1,53.9 21.0,54.8 C21.9,55.6 22.5,56.9 22.5,58.0Z" fill="#f4f0f4"/>
<path d="M164.0,62.0 C164.8,60.5 166.7,62.2 168.0,66.0 C169.3,69.8 170.8,78.5 172.0,85.0 C173.2,91.5 174.8,100.2 175.0,105.0 C175.2,109.8 174.5,112.5 173.0,114.0 C171.5,115.5 167.5,117.2 166.0,114.0 C164.5,110.8 164.5,101.5 164.0,95.0 C163.5,88.5 163.0,80.5 163.0,75.0 C163.0,69.5 163.2,63.5 164.0,62.0Z" fill="#f4f0f4"/>
<path d="M20.5,110.0 C20.5,110.8 20.3,111.7 20.0,112.4 C19.7,113.0 19.2,113.6 18.8,113.8 C18.3,114.0 17.7,114.0 17.2,113.8 C16.8,113.6 16.3,113.0 16.0,112.4 C15.7,111.7 15.5,110.8 15.5,110.0 C15.5,109.2 15.7,108.3 16.0,107.6 C16.3,107.0 16.8,106.4 17.2,106.2 C17.7,106.0 18.3,106.0 18.8,106.2 C19.2,106.4 19.7,107.0 20.0,107.6 C20.3,108.3 20.5,109.2 20.5,110.0Z" fill="#f4f0f4"/>
<ellipse cx="81" cy="80" rx="9" ry="11" fill="#cdbec6"/>
<ellipse cx="72" cy="82" rx="2.5" ry="2.5" fill="#3a2e6a"/>
<ellipse cx="73" cy="91" rx="2" ry="2" fill="#5a4a80"/>
</g>
</g></g>
<text transform="translate(12.93,33.60) scale(0.9138,1)" font-size="41.43" fill="#231f20">A</text>
<text transform="translate(11.50,345.60) scale(1.0189,1)" font-size="41.86" fill="#231f20">B</text>
<text transform="translate(10.82,671.80) scale(0.9673,1)" font-size="42.44" fill="#231f20">C</text>
<line x1="108.5" y1="40.4" x2="108.5" y2="223.79999999999998" stroke="#231f20" stroke-width="1.5"/>
<line x1="107.8" y1="223.2" x2="383.5" y2="223.2" stroke="#231f20" stroke-width="1.5"/>
<line x1="108.5" y1="41" x2="113.2" y2="41" stroke="#231f20" stroke-width="1.3"/>
<line x1="108.5" y1="102" x2="113.2" y2="102" stroke="#231f20" stroke-width="1.3"/>
<line x1="108.5" y1="163" x2="113.2" y2="163" stroke="#231f20" stroke-width="1.3"/>
<line x1="125.5" y1="223.2" x2="125.5" y2="219.39999999999998" stroke="#231f20" stroke-width="1.2"/>
<line x1="159.8" y1="223.2" x2="159.8" y2="219.39999999999998" stroke="#231f20" stroke-width="1.2"/>
<line x1="194.1" y1="223.2" x2="194.1" y2="219.39999999999998" stroke="#231f20" stroke-width="1.2"/>
<line x1="228.39999999999998" y1="223.2" x2="228.39999999999998" y2="219.39999999999998" stroke="#231f20" stroke-width="1.2"/>
<line x1="262.7" y1="223.2" x2="262.7" y2="219.39999999999998" stroke="#231f20" stroke-width="1.2"/>
<line x1="297.0" y1="223.2" x2="297.0" y2="219.39999999999998" stroke="#231f20" stroke-width="1.2"/>
<line x1="331.29999999999995" y1="223.2" x2="331.29999999999995" y2="219.39999999999998" stroke="#231f20" stroke-width="1.2"/>
<line x1="365.59999999999997" y1="223.2" x2="365.59999999999997" y2="219.39999999999998" stroke="#231f20" stroke-width="1.2"/>
<text transform="translate(69.27,48.50) scale(0.8453,1)" font-size="20.64" fill="#231f20">150</text>
<text transform="translate(69.17,109.60) scale(0.8606,1)" font-size="20.35" fill="#231f20">100</text>
<text transform="translate(78.48,170.30) scale(0.8992,1)" font-size="19.91" fill="#231f20">50</text>
<text transform="translate(123.60,249.40) scale(0.9101,1)" font-size="19.77" fill="#231f20">0</text>
<text transform="translate(152.75,249.40) scale(0.9923,1)" font-size="19.77" fill="#231f20">3</text>
<text transform="translate(185.99,249.40) scale(1.0086,1)" font-size="19.77" fill="#231f20">6</text>
<text transform="translate(215.06,249.40) scale(0.8879,1)" font-size="19.77" fill="#231f20">10</text>
<text transform="translate(248.65,249.40) scale(0.8973,1)" font-size="19.77" fill="#231f20">13</text>
<text transform="translate(284.61,249.40) scale(0.9237,1)" font-size="19.77" fill="#231f20">17</text>
<text transform="translate(317.62,249.40) scale(0.8852,1)" font-size="19.77" fill="#231f20">20</text>
<text transform="translate(354.11,249.40) scale(0.8964,1)" font-size="19.77" fill="#231f20">24</text>
<text transform="translate(186.00,281.60) scale(0.8551,1)" font-size="26.16" fill="#231f20">Time (days)</text>
<text transform="translate(54.30,208.10) rotate(-90) scale(0.8338,1)" font-size="27.76" fill="#231f20">Body weight (g)</text>
<line x1="125.2" y1="93.5" x2="125.2" y2="129.3" stroke="#4a4345" stroke-width="1.3"/>
<line x1="121.9" y1="93.5" x2="128.5" y2="93.5" stroke="#2a2425" stroke-width="1.3"/>
<line x1="121.9" y1="129.3" x2="128.5" y2="129.3" stroke="#2a2425" stroke-width="1.3"/>
<line x1="159.1" y1="85.2" x2="159.1" y2="128.3" stroke="#4a4345" stroke-width="1.3"/>
<line x1="155.79999999999998" y1="85.2" x2="162.4" y2="85.2" stroke="#2a2425" stroke-width="1.3"/>
<line x1="155.79999999999998" y1="93.5" x2="162.4" y2="93.5" stroke="#2a2425" stroke-width="1.3"/>
<line x1="155.79999999999998" y1="118" x2="162.4" y2="118" stroke="#2a2425" stroke-width="1.3"/>
<line x1="155.79999999999998" y1="128.3" x2="162.4" y2="128.3" stroke="#2a2425" stroke-width="1.3"/>
<line x1="193.8" y1="78.3" x2="193.8" y2="120.8" stroke="#4a4345" stroke-width="1.3"/>
<line x1="190.5" y1="78.3" x2="197.10000000000002" y2="78.3" stroke="#2a2425" stroke-width="1.3"/>
<line x1="190.5" y1="83.2" x2="197.10000000000002" y2="83.2" stroke="#2a2425" stroke-width="1.3"/>
<line x1="190.5" y1="112.8" x2="197.10000000000002" y2="112.8" stroke="#2a2425" stroke-width="1.3"/>
<line x1="190.5" y1="120.8" x2="197.10000000000002" y2="120.8" stroke="#2a2425" stroke-width="1.3"/>
<line x1="227.2" y1="74" x2="227.2" y2="112.8" stroke="#4a4345" stroke-width="1.3"/>
<line x1="223.89999999999998" y1="74" x2="230.5" y2="74" stroke="#2a2425" stroke-width="1.3"/>
<line x1="223.89999999999998" y1="76.4" x2="230.5" y2="76.4" stroke="#2a2425" stroke-width="1.3"/>
<line x1="223.89999999999998" y1="107.6" x2="230.5" y2="107.6" stroke="#2a2425" stroke-width="1.3"/>
<line x1="223.89999999999998" y1="112.8" x2="230.5" y2="112.8" stroke="#2a2425" stroke-width="1.3"/>
<line x1="261.6" y1="68.8" x2="261.6" y2="107.9" stroke="#4a4345" stroke-width="1.3"/>
<line x1="258.3" y1="68.8" x2="264.90000000000003" y2="68.8" stroke="#2a2425" stroke-width="1.3"/>
<line x1="258.3" y1="71.6" x2="264.90000000000003" y2="71.6" stroke="#2a2425" stroke-width="1.3"/>
<line x1="258.3" y1="100.9" x2="264.90000000000003" y2="100.9" stroke="#2a2425" stroke-width="1.3"/>
<line x1="258.3" y1="107.9" x2="264.90000000000003" y2="107.9" stroke="#2a2425" stroke-width="1.3"/>
<line x1="296.4" y1="58" x2="296.4" y2="99.3" stroke="#4a4345" stroke-width="1.3"/>
<line x1="293.09999999999997" y1="58" x2="299.7" y2="58" stroke="#2a2425" stroke-width="1.3"/>
<line x1="293.09999999999997" y1="62.4" x2="299.7" y2="62.4" stroke="#2a2425" stroke-width="1.3"/>
<line x1="293.09999999999997" y1="94.7" x2="299.7" y2="94.7" stroke="#2a2425" stroke-width="1.3"/>
<line x1="293.09999999999997" y1="99.3" x2="299.7" y2="99.3" stroke="#2a2425" stroke-width="1.3"/>
<line x1="331.3" y1="50.5" x2="331.3" y2="92.7" stroke="#4a4345" stroke-width="1.3"/>
<line x1="328.0" y1="50.5" x2="334.6" y2="50.5" stroke="#2a2425" stroke-width="1.3"/>
<line x1="328.0" y1="57.4" x2="334.6" y2="57.4" stroke="#2a2425" stroke-width="1.3"/>
<line x1="328.0" y1="89.5" x2="334.6" y2="89.5" stroke="#2a2425" stroke-width="1.3"/>
<line x1="328.0" y1="92.7" x2="334.6" y2="92.7" stroke="#2a2425" stroke-width="1.3"/>
<line x1="365.5" y1="51.9" x2="365.5" y2="97.8" stroke="#4a4345" stroke-width="1.3"/>
<line x1="362.2" y1="51.9" x2="368.8" y2="51.9" stroke="#2a2425" stroke-width="1.3"/>
<line x1="362.2" y1="59.6" x2="368.8" y2="59.6" stroke="#2a2425" stroke-width="1.3"/>
<line x1="362.2" y1="88.6" x2="368.8" y2="88.6" stroke="#2a2425" stroke-width="1.3"/>
<line x1="362.2" y1="97.8" x2="368.8" y2="97.8" stroke="#2a2425" stroke-width="1.3"/>
<polyline points="125.2,111.1 159.1,110.8 193.8,101.6 227.2,94.4 261.6,88.4 296.4,78.4 331.3,71.6 365.5,74.0" fill="none" stroke="#2a2425" stroke-width="1"/>
<polyline points="125.2,111.1 159.1,101.3 193.8,95.5 227.2,90.6 261.6,87.7 296.4,77.9 331.3,70.3 365.5,74.0" fill="none" stroke="#2a2425" stroke-width="1"/>
<rect x="120.50" y="106.40" width="9.4" height="9.4" fill="#cf8b6e"/>
<rect x="154.40" y="106.10" width="9.4" height="9.4" fill="#cf8b6e"/>
<rect x="189.10" y="96.90" width="9.4" height="9.4" fill="#cf8b6e"/>
<rect x="222.50" y="89.70" width="9.4" height="9.4" fill="#cf8b6e"/>
<rect x="256.90" y="83.70" width="9.4" height="9.4" fill="#cf8b6e"/>
<rect x="291.70" y="73.70" width="9.4" height="9.4" fill="#cf8b6e"/>
<rect x="326.60" y="66.90" width="9.4" height="9.4" fill="#cf8b6e"/>
<rect x="360.80" y="69.30" width="9.4" height="9.4" fill="#cf8b6e"/>
<rect x="120.50" y="106.40" width="9.4" height="9.4" fill="#9a141b"/>
<rect x="154.40" y="96.60" width="9.4" height="9.4" fill="#9a141b"/>
<rect x="189.10" y="90.80" width="9.4" height="9.4" fill="#9a141b"/>
<rect x="222.50" y="85.90" width="9.4" height="9.4" fill="#9a141b"/>
<rect x="256.90" y="83.00" width="9.4" height="9.4" fill="#9a141b"/>
<rect x="291.70" y="73.20" width="9.4" height="9.4" fill="#9a141b"/>
<rect x="326.60" y="65.60" width="9.4" height="9.4" fill="#9a141b"/>
<rect x="360.80" y="69.30" width="9.4" height="9.4" fill="#9a141b"/>
<rect x="395.9" y="71.2" width="8.9" height="8.7" fill="#9a141b"/>
<rect x="395.9" y="98" width="8.9" height="8.7" fill="#cf8b6e"/>
<text transform="translate(412.74,81.00) scale(0.8860,1)" font-size="16.86" fill="#231f20">Control</text>
<text transform="translate(412.66,107.50) scale(0.9528,1)" font-size="15.84" fill="#231f20">BBR</text>
<line x1="572.3" y1="66.0" x2="572.3" y2="224.6" stroke="#231f20" stroke-width="1.5"/>
<line x1="571.5999999999999" y1="224.0" x2="760" y2="224.0" stroke="#231f20" stroke-width="1.5"/>
<line x1="572.3" y1="66.7" x2="576.8" y2="66.7" stroke="#231f20" stroke-width="1.3"/>
<line x1="572.3" y1="98.1" x2="576.8" y2="98.1" stroke="#231f20" stroke-width="1.3"/>
<line x1="572.3" y1="129.7" x2="576.8" y2="129.7" stroke="#231f20" stroke-width="1.3"/>
<line x1="572.3" y1="161.0" x2="576.8" y2="161.0" stroke="#231f20" stroke-width="1.3"/>
<line x1="572.3" y1="193.1" x2="576.8" y2="193.1" stroke="#231f20" stroke-width="1.3"/>
<text transform="translate(537.97,74.90) scale(0.8914,1)" font-size="19.62" fill="#231f20">1.0</text>
<text transform="translate(538.63,105.35) scale(0.8691,1)" font-size="19.62" fill="#231f20">0.8</text>
<text transform="translate(538.63,135.80) scale(0.8694,1)" font-size="19.62" fill="#231f20">0.6</text>
<text transform="translate(538.64,166.25) scale(0.8598,1)" font-size="19.62" fill="#231f20">0.4</text>
<text transform="translate(538.63,196.70) scale(0.8737,1)" font-size="19.62" fill="#231f20">0.2</text>
<text transform="translate(526.80,230.41) rotate(-90) scale(0.8071,1)" font-size="28.05" fill="#231f20">Tumor weight (g)</text>
<rect x="593.6" y="116.4" width="56.8" height="107.6" fill="#8e1017" stroke="#3a1a16" stroke-width="1"/>
<rect x="683.5" y="118.0" width="56.5" height="106.0" fill="#c7856a" stroke="#3a1a16" stroke-width="1"/>
<line x1="621.7" y1="87.2" x2="621.7" y2="116" stroke="#3a3334" stroke-width="1.2"/>
<line x1="614.6" y1="87.2" x2="628.7" y2="87.2" stroke="#3a3334" stroke-width="1.2"/>
<line x1="711.3" y1="99.8" x2="711.3" y2="117.6" stroke="#3a3334" stroke-width="1.2"/>
<line x1="704.5" y1="99.8" x2="718.4" y2="99.8" stroke="#3a3334" stroke-width="1.2"/>
<text transform="translate(592.99,250.40) scale(0.8251,1)" font-size="21.66" fill="#231f20">Control</text>
<text transform="translate(692.61,250.20) scale(0.8771,1)" font-size="20.64" fill="#231f20">BBR</text>
<text transform="translate(614.26,72.60) scale(0.8531,1)" font-size="17.15" fill="#231f20">Control BBR</text>
<text transform="translate(183.59,332.90) scale(0.8445,1)" font-size="20.35" fill="#231f20">PCNA</text>
<text transform="translate(383.15,333.40) scale(0.7936,1)" font-size="21.08" fill="#231f20">Cyclin D1</text>
<text transform="translate(601.02,333.40) scale(0.8192,1)" font-size="21.08" fill="#231f20">Cyclin E</text>
<text transform="translate(35.40,412.30) scale(0.8566,1)" font-size="20.79" fill="#231f20">Control</text>
<text transform="translate(55.74,548.60) scale(0.8596,1)" font-size="20.64" fill="#231f20">BBR</text>
<line x1="144.5" y1="654.7" x2="144.5" y2="753.4" stroke="#231f20" stroke-width="1.5"/>
<line x1="143.8" y1="752.8" x2="275" y2="752.8" stroke="#231f20" stroke-width="1.5"/>
<line x1="144.5" y1="655.3" x2="148.9" y2="655.3" stroke="#231f20" stroke-width="1.3"/>
<line x1="144.5" y1="674.8" x2="148.9" y2="674.8" stroke="#231f20" stroke-width="1.3"/>
<line x1="144.5" y1="694.3" x2="148.9" y2="694.3" stroke="#231f20" stroke-width="1.3"/>
<line x1="144.5" y1="713.8" x2="148.9" y2="713.8" stroke="#231f20" stroke-width="1.3"/>
<line x1="144.5" y1="733.3" x2="148.9" y2="733.3" stroke="#231f20" stroke-width="1.3"/>
<text transform="translate(123.99,659.30) scale(0.9700,1)" font-size="19.77" fill="#231f20">5</text>
<text transform="translate(124.03,679.65) scale(0.9700,1)" font-size="19.77" fill="#231f20">4</text>
<text transform="translate(124.02,700.00) scale(0.9700,1)" font-size="19.77" fill="#231f20">3</text>
<text transform="translate(123.97,720.35) scale(0.9700,1)" font-size="19.77" fill="#231f20">2</text>
<text transform="translate(123.71,740.70) scale(0.9700,1)" font-size="19.77" fill="#231f20">1</text>
<text transform="translate(184.56,654.60) scale(1.0502,1)" font-size="16.72" fill="#231f20">PCNA</text>
<text transform="translate(111.00,752.23) rotate(-90) scale(0.8415,1)" font-size="27.47" fill="#231f20">IHC score</text>
<rect x="155.8" y="677.9" width="42.8" height="74.9" fill="#8e1017" stroke="#3a1a16" stroke-width="1"/>
<rect x="220.4" y="745.6" width="43.2" height="7.2" fill="#c7856a" stroke="#3a1a16" stroke-width="1"/>
<line x1="177" y1="669.4" x2="177" y2="677.9" stroke="#4a4345" stroke-width="1.2"/>
<line x1="170.4" y1="669.4" x2="183.6" y2="669.4" stroke="#3a3334" stroke-width="1.2"/>
<line x1="242.4" y1="735.7" x2="242.4" y2="745.6" stroke="#4a4345" stroke-width="1.2"/>
<line x1="235.8" y1="735.7" x2="249.0" y2="735.7" stroke="#3a3334" stroke-width="1.2"/>
<text transform="translate(236.35,728.99) scale(1.0309,1)" font-size="14.81" fill="#231f20">**</text>
<text transform="translate(148.80,778.50) scale(1.0123,1)" font-size="17.59" fill="#231f20">Control</text>
<text transform="translate(223.34,778.50) scale(1.0676,1)" font-size="16.72" fill="#231f20">BBR</text>
<line x1="366.1" y1="654.7" x2="366.1" y2="753.4" stroke="#231f20" stroke-width="1.5"/>
<line x1="365.40000000000003" y1="752.8" x2="497.4" y2="752.8" stroke="#231f20" stroke-width="1.5"/>
<line x1="366.1" y1="655.3" x2="370.5" y2="655.3" stroke="#231f20" stroke-width="1.3"/>
<line x1="366.1" y1="674.8" x2="370.5" y2="674.8" stroke="#231f20" stroke-width="1.3"/>
<line x1="366.1" y1="694.3" x2="370.5" y2="694.3" stroke="#231f20" stroke-width="1.3"/>
<line x1="366.1" y1="713.8" x2="370.5" y2="713.8" stroke="#231f20" stroke-width="1.3"/>
<line x1="366.1" y1="733.3" x2="370.5" y2="733.3" stroke="#231f20" stroke-width="1.3"/>
<text transform="translate(345.79,659.30) scale(0.9700,1)" font-size="19.77" fill="#231f20">5</text>
<text transform="translate(345.83,679.65) scale(0.9700,1)" font-size="19.77" fill="#231f20">4</text>
<text transform="translate(345.82,700.00) scale(0.9700,1)" font-size="19.77" fill="#231f20">3</text>
<text transform="translate(345.77,720.35) scale(0.9700,1)" font-size="19.77" fill="#231f20">2</text>
<text transform="translate(345.51,740.70) scale(0.9700,1)" font-size="19.77" fill="#231f20">1</text>
<text transform="translate(393.83,654.60) scale(0.9700,1)" font-size="17.59" fill="#231f20">Cyclin D1</text>
<text transform="translate(332.70,752.35) rotate(-90) scale(0.8438,1)" font-size="27.62" fill="#231f20">IHC score</text>
<rect x="377.6" y="692.4" width="43.0" height="60.4" fill="#8e1017" stroke="#3a1a16" stroke-width="1"/>
<rect x="442.4" y="733.0" width="43.3" height="19.8" fill="#c7856a" stroke="#3a1a16" stroke-width="1"/>
<line x1="399" y1="671.4" x2="399" y2="692.4" stroke="#4a4345" stroke-width="1.2"/>
<line x1="392.4" y1="671.4" x2="405.6" y2="671.4" stroke="#3a3334" stroke-width="1.2"/>
<line x1="464" y1="713.2" x2="464" y2="733.0" stroke="#4a4345" stroke-width="1.2"/>
<line x1="457.4" y1="713.2" x2="470.6" y2="713.2" stroke="#3a3334" stroke-width="1.2"/>
<text transform="translate(458.16,706.30) scale(1.0439,1)" font-size="14.24" fill="#231f20">**</text>
<text transform="translate(370.60,778.80) scale(0.9861,1)" font-size="18.02" fill="#231f20">Control</text>
<text transform="translate(445.84,778.80) scale(1.0374,1)" font-size="17.15" fill="#231f20">BBR</text>
<line x1="588.3" y1="654.7" x2="588.3" y2="753.4" stroke="#231f20" stroke-width="1.5"/>
<line x1="587.5999999999999" y1="752.8" x2="719" y2="752.8" stroke="#231f20" stroke-width="1.5"/>
<line x1="588.3" y1="655.3" x2="592.6999999999999" y2="655.3" stroke="#231f20" stroke-width="1.3"/>
<line x1="588.3" y1="674.8" x2="592.6999999999999" y2="674.8" stroke="#231f20" stroke-width="1.3"/>
<line x1="588.3" y1="694.3" x2="592.6999999999999" y2="694.3" stroke="#231f20" stroke-width="1.3"/>
<line x1="588.3" y1="713.8" x2="592.6999999999999" y2="713.8" stroke="#231f20" stroke-width="1.3"/>
<line x1="588.3" y1="733.3" x2="592.6999999999999" y2="733.3" stroke="#231f20" stroke-width="1.3"/>
<text transform="translate(567.99,659.30) scale(0.9700,1)" font-size="19.77" fill="#231f20">5</text>
<text transform="translate(568.03,679.65) scale(0.9700,1)" font-size="19.77" fill="#231f20">4</text>
<text transform="translate(568.02,700.00) scale(0.9700,1)" font-size="19.77" fill="#231f20">3</text>
<text transform="translate(567.97,720.35) scale(0.9700,1)" font-size="19.77" fill="#231f20">2</text>
<text transform="translate(567.71,740.70) scale(0.9700,1)" font-size="19.77" fill="#231f20">1</text>
<text transform="translate(621.52,654.60) scale(0.9801,1)" font-size="17.59" fill="#231f20">Cyclin E</text>
<text transform="translate(556.00,752.96) rotate(-90) scale(0.8145,1)" font-size="28.78" fill="#231f20">IHC score</text>
<rect x="599.2" y="692.8" width="43.0" height="60.0" fill="#8e1017" stroke="#3a1a16" stroke-width="1"/>
<rect x="664.4" y="712.2" width="43.3" height="40.6" fill="#c7856a" stroke="#3a1a16" stroke-width="1"/>
<line x1="620.8" y1="668.0" x2="620.8" y2="692.8" stroke="#4a4345" stroke-width="1.2"/>
<line x1="614.1999999999999" y1="668.0" x2="627.4" y2="668.0" stroke="#3a3334" stroke-width="1.2"/>
<line x1="686" y1="696.3" x2="686" y2="712.2" stroke="#4a4345" stroke-width="1.2"/>
<line x1="679.4" y1="696.3" x2="692.6" y2="696.3" stroke="#3a3334" stroke-width="1.2"/>
<text transform="translate(683.17,689.69) scale(0.9822,1)" font-size="14.53" fill="#231f20">*</text>
<text transform="translate(592.80,778.80) scale(0.9825,1)" font-size="18.02" fill="#231f20">Control</text>
<text transform="translate(667.44,778.80) scale(1.0374,1)" font-size="17.15" fill="#231f20">BBR</text>
<rect x="281" y="467.2" width="20.0" height="1.8" fill="#0a0608"/>
<text x="291.0" y="466.3" font-size="4.6" font-weight="bold" text-anchor="middle" fill="#1a1418" style="stroke:none">20 μm</text>
<rect x="503.2" y="467.6" width="18.4" height="1.8" fill="#0a0608"/>
<text x="512.4" y="466.7" font-size="4.6" font-weight="bold" text-anchor="middle" fill="#1a1418" style="stroke:none">20 μm</text>
<rect x="716.8" y="467.3" width="19.0" height="1.8" fill="#0a0608"/>
<text x="726.3" y="466.4" font-size="4.6" font-weight="bold" text-anchor="middle" fill="#1a1418" style="stroke:none">20 μm</text>
<rect x="296.5" y="603.3" width="9.0" height="1.8" fill="#0a0608"/>
<rect x="496" y="603.2" width="19.5" height="1.8" fill="#0a0608"/>
<text x="505.8" y="602.3" font-size="4.6" font-weight="bold" text-anchor="middle" fill="#1a1418" style="stroke:none">20 μm</text>
<rect x="719.5" y="602.9" width="18.5" height="1.8" fill="#0a0608"/>
<text x="728.8" y="602.0" font-size="4.6" font-weight="bold" text-anchor="middle" fill="#1a1418" style="stroke:none">20 μm</text>
</svg>
</body></html>
